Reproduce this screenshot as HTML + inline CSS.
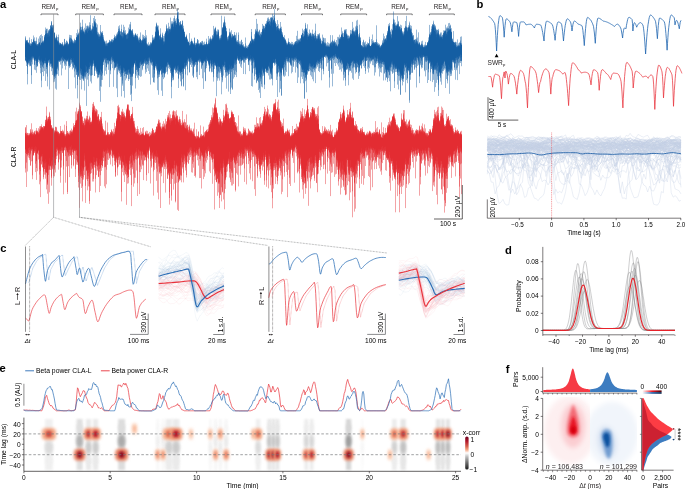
<!DOCTYPE html>
<html><head><meta charset="utf-8"><style>
html,body{margin:0;padding:0;background:#fff;width:685px;height:489px;overflow:hidden}
svg{display:block;font-family:"Liberation Sans",sans-serif;will-change:transform}
</style></head><body>
<svg width="685" height="489" viewBox="0 0 685 489">
<defs><filter id="bl1" x="-1" y="-1" width="3" height="3"><feGaussianBlur stdDeviation="1.0"/></filter><filter id="bl2" x="-1" y="-1" width="3" height="3"><feGaussianBlur stdDeviation="1.6"/></filter><filter id="bl3" x="-1" y="-1" width="3" height="3"><feGaussianBlur stdDeviation="2.5"/></filter></defs>
<text x="0" y="7.7" font-size="11.2" font-weight="bold" fill="#000">a</text>
<text x="476.6" y="7.7" font-size="11.2" font-weight="bold" fill="#000">b</text>
<text x="0.2" y="251.8" font-size="11.2" font-weight="bold" fill="#000">c</text>
<text x="504.9" y="254.2" font-size="11.2" font-weight="bold" fill="#000">d</text>
<text x="-0.4" y="371.8" font-size="11.2" font-weight="bold" fill="#000">e</text>
<text x="505.8" y="373.2" font-size="11.2" font-weight="bold" fill="#000">f</text>
<path d="M41 15.2V14H58V15.2" stroke="#414042" stroke-width="0.7" fill="none"/>
<text x="48.4" y="9.4" font-size="6.4" letter-spacing="-0.1" text-anchor="middle" fill="#231f20">REM</text><text x="56.1" y="10.0" font-size="4.3" fill="#231f20">p</text>
<path d="M75.7 15.2V14H103.4V15.2" stroke="#414042" stroke-width="0.7" fill="none"/>
<text x="88.5" y="9.4" font-size="6.4" letter-spacing="-0.1" text-anchor="middle" fill="#231f20">REM</text><text x="96.2" y="10.0" font-size="4.3" fill="#231f20">p</text>
<path d="M114 15.2V14H142V15.2" stroke="#414042" stroke-width="0.7" fill="none"/>
<text x="126.9" y="9.4" font-size="6.4" letter-spacing="-0.1" text-anchor="middle" fill="#231f20">REM</text><text x="134.6" y="10.0" font-size="4.3" fill="#231f20">p</text>
<path d="M155 15.2V14H185V15.2" stroke="#414042" stroke-width="0.7" fill="none"/>
<text x="168.9" y="9.4" font-size="6.4" letter-spacing="-0.1" text-anchor="middle" fill="#231f20">REM</text><text x="176.6" y="10.0" font-size="4.3" fill="#231f20">p</text>
<path d="M211 15.2V14H235V15.2" stroke="#414042" stroke-width="0.7" fill="none"/>
<text x="221.9" y="9.4" font-size="6.4" letter-spacing="-0.1" text-anchor="middle" fill="#231f20">REM</text><text x="229.6" y="10.0" font-size="4.3" fill="#231f20">p</text>
<path d="M255.2 15.2V14H285.4V15.2" stroke="#414042" stroke-width="0.7" fill="none"/>
<text x="269.2" y="9.4" font-size="6.4" letter-spacing="-0.1" text-anchor="middle" fill="#231f20">REM</text><text x="276.9" y="10.0" font-size="4.3" fill="#231f20">p</text>
<path d="M301.5 15.2V14H322.5V15.2" stroke="#414042" stroke-width="0.7" fill="none"/>
<text x="310.9" y="9.4" font-size="6.4" letter-spacing="-0.1" text-anchor="middle" fill="#231f20">REM</text><text x="318.6" y="10.0" font-size="4.3" fill="#231f20">p</text>
<path d="M340.7 15.2V14H366.6V15.2" stroke="#414042" stroke-width="0.7" fill="none"/>
<text x="352.5" y="9.4" font-size="6.4" letter-spacing="-0.1" text-anchor="middle" fill="#231f20">REM</text><text x="360.2" y="10.0" font-size="4.3" fill="#231f20">p</text>
<path d="M386.6 15.2V14H412.2V15.2" stroke="#414042" stroke-width="0.7" fill="none"/>
<text x="398.3" y="9.4" font-size="6.4" letter-spacing="-0.1" text-anchor="middle" fill="#231f20">REM</text><text x="406.0" y="10.0" font-size="4.3" fill="#231f20">p</text>
<path d="M429.4 15.2V14H454.3V15.2" stroke="#414042" stroke-width="0.7" fill="none"/>
<text x="440.8" y="9.4" font-size="6.4" letter-spacing="-0.1" text-anchor="middle" fill="#231f20">REM</text><text x="448.5" y="10.0" font-size="4.3" fill="#231f20">p</text>
<path d="M25.5 39.4v20.9m1-20.1v22.3m1-20.8v42.7m1-39.9v17.8m1-17.8v16.2m1-17.7v23.2m1-22.4v31.4m1-30.6v13.5m1-22.6v21.4m1-15.3v28m1-26.1v17.3m1-15.4v15.5m1-16.2v18.3m1-19.8v18.7m1-18.9v17m1-14.6v14.4m1-16.6v37.4m1-39.1v25.7m1-26.4v24.3m1-27.4v33.4m1-40.7v50.5m1-47.6v32.9m1-31.9v52.1m1-49.4v23.2m1-24.6v23.8m1-27.8v29.3m1-33.5v36.3m1-35.4v39.2m1-43.1v57.9m1-49.9v46.8m1-39.5v38.2m1-43.4v39.4m1-33.3v26.1m1-23.9v33m1-31.9v18.2m1-17.1v15.5m1-16.8v14m1-12.9v23.6m1-24v13.6m1-13.3v21.1m1-22.2v20.8m1-21.5v23m1-20.7v15.7m1-17.3v18.2m1-27v31.8m1-24.3v16.8m1-23.8v28.6m1-21.1v26.6m1-27.2v24.7m1-23.7v21.8m1-21.3v44.7m1-50.8v34.2m1-42.3v49.5m1-45.4v36.8m1-37.1v38.4m1-44.4v52.7m1-47.2v36.2m1-37.8v40.3m1-39.6v48.5m1-46v56.2m1-61.2v47.5m1-47.7v37.1m1-33.5v37.7m1-39.8v38.6m1-43.9v37.2m1-35v48m1-45.9v39.9m1-40.8v35m1-37.1v36.6m1-42.8v55.4m1-52.5v43.1m1-35.4v34.5m1-31.7v43.3m1-43.6v41.4m1-40.7v37.8m1-35.6v32.4m1-36.4v54.2m1-53.6v39.9m1-34v21.5m1-20.2v18.3m1-17.2v21m1-17v12.8m1-14.7v16.7m1-17.2v20.5m1-23.2v21m1-19.8v29.2m1-28.6v13.6m1-13.6v20.3m1-21.8v20.3m1-23.4v32.7m1-32v23.8m1-24.1v27.4m1-30.5v62.3m1-66.1v35.4m1-35v34.7m1-34.2v45.1m1-48v67.4m1-64.4v41.2m1-43.1v37.4m1-33.9v37.6m1-41v41.6m1-36.8v38.8m1-34.6v33.6m1-39.2v47.4m1-50.4v43.9m1-50.1v48.5m1-38.6v66.8m1-72v38.4m1-30.4v30.4m1-32.9v30m1-29.6v53.5m1-52.8v34.1m1-33.4v35.6m1-32.4v35.6m1-37.1v24.3m1-22.2v21.7m1-20.5v22.2m1-23.6v22.3m1-22.3v24.2m1-25.4v24.5m1-24.3v19.3m1-13.9v20.3m1-17.9v11.6m1-12.3v12m1-13.9v15.2m1-15.4v16.7m1-18.2v21.2m1-28.8v26.6m1-21.2v24.7m1-27.4v39.8m1-41.3v31.6m1-40.1v39.7m1-40.4v47.7m1-40.5v36.2m1-30.8v35.3m1-35.5v30.8m1-31.5v36.1m1-42v44.5m1-41.1v37.1m1-39.3v37.8m1-38.7v39.2m1-40.7v34.6m1-37.7v34.3m1-35.1v37.4m1-32.1v33.7m1-36.7v37.9m1-42.4v56.5m1-60.6v48.9m1-43.2v52.4m1-57.2v45.4m1-48.3v51.1m1-47.7v47.7m1-54.8v52m1-55.7v59m1-44.4v45.3m1-46.9v47.9m1-48.7v46.1m1-49.8v48.3m1-39.5v41.8m1-38.9v37m1-30.6v28.6m1-29.6v25.7m1-21.7v33.8m1-33.6v20m1-28.6v27.4m1-16.2v13.8m1-17.1v17.7m1-16.9v23.1m1-22v34.9m1-40.1v25.8m1-16.7v14.8m1-18v18.4m1-22.8v32.5m1-28v17.6m1-17.4v31.1m1-33v20.4m1-19.6v19.9m1-16.8v17.8m1-19v18.2m1-17.7v15.4m1-15.9v17.6m1-18.3v24.1m1-23.5v16.8m1-15.6v14.4m1-20.8v29.3m1-28.6v21m1-19.7v30.9m1-36.4v24.1m1-23.9v37.6m1-44.4v36.1m1-37.3v36.4m1-30.2v61.9m1-58.7v25.9m1-31v38.5m1-32.9v42.6m1-42.3v30.5m1-31.1v56.6m1-64.1v50.2m1-57.8v43.3m1-40.5v39.9m1-42.8v39.4m1-30.3v57.1m1-48v32.1m1-37.1v33.9m1-35.7v36.1m1-36.5v34.8m1-31.5v50.8m1-50.3v31.2m1-31.7v26.8m1-29.1v42.6m1-42.2v27.7m1-21.9v17.6m1-14.4v12.3m1-14v18m1-14.2v14.4m1-19v25.2m1-26.9v24.7m1-19.4v14.3m1-12.1v11.7m1-10.5v10.7m1-15.7v13.3m1-8.7v9.6m1-10.3v9.2m1-9.2v8.2m1-11.4v15.9m1-18.9v19m1-28.1v28.7m1-22.1v34.8m1-32.7v16.8m1-23.3v26m1-28.4v36.1m1-37.3v44.2m1-43.4v44.4m1-40.7v47.1m1-52.5v45.4m1-41v39.4m1-38.4v39.7m1-46.1v38.1m1-36.7v41.8m1-44.1v56.3m1-57v40.6m1-46.6v48.8m1-48.7v49.4m1-49v44.7m1-47.1v49.1m1-42.4v46.4m1-51.5v52.7m1-46.2v58.1m1-64v41.5m1-45.2v48m1-44.4v43.3m1-38v46.9m1-44.7v45.5m1-50v47.9m1-43.5v41.2m1-41.5v45m1-39.4v61.2m1-60.3v31.8m1-27.6v25.6m1-24.4v27.1m1-27.1v17m1-14.4v29m1-27.1v11.8m1-15.2v18m1-14v11.9m1-12v20.2m1-21.6v29.5m1-29.2v13.9m1-14.6v22.1m1-20.8v15.5m1-17.4v15.3m1-14.9v15.2m1-14.1v15m1-19.4v37.4m1-35.5v22.4m1-25.8v44.8m1-47.2v27.7m1-35.1v40.4m1-38.7v42.7m1-37.1v62.6m1-74v50.1m1-45.1v44.6m1-49.9v50.5m1-39.7v36.4m1-34.7v25.9m1-29.8v30.5m1-24.5v32.7m1-37.7v32.4m1-32.3v33.3m1-28.8v33.7m1-48.5v43.9m1-29.1v30m1-29.4v22.5m1-25.4v27.7m1-24.5v20.2m1-19v22.4m1-19.2v25.8m1-25.2v16.1m1-22.7v22.9m1-17.6v13.9m1-13v11.3m1-8.3v9.3m1-14.2v13.8m1-9.2v13.1m1-13v11.8m1-14.9v16.7m1-15.1v23.2m1-28.3v17.4m1-13v11.2m1-13.9v14.9m1-13.4v12.5m1-10.8v17.9m1-16.5v18m1-27.6v19.8m1-22v27.6m1-22.6v22.4m1-26.6v24.5m1-28.6v30.9m1-25.3v29.9m1-37.4v48.5m1-40.6v48.5m1-51.5v31.3m1-31.2v27.9m1-21.8v34.6m1-38.3v31.2m1-33.8v36.2m1-36.5v28.3m1-27.2v26.6m1-30.9v29.6m1-29v32.1m1-33.3v43.3m1-48v43.1m1-38v31.6m1-25.8v28.3m1-30v36.8m1-29.7v22.3m1-18.1v16.3m1-15.2v13m1-13.1v13.2m1-15.6v11.1m1-10.3v20.6m1-19.6v11.5m1-15.5v14.4m1-13.8v13.8m1-10.9v15.7m1-15v17m1-18.8v14.9m1-16.7v16.4m1-16.4v22.3m1-22.7v33m1-33.5v20.9m1-23.6v18.8m1-16v20.7m1-17.3v20m1-20.2v14.9m1-14.1v25.9m1-26.4v18.2m1-17.5v15.6m1-23.6v22.6m1-20.8v33.1m1-34.4v28.6m1-27.1v36.6m1-45.4v37.4m1-40.7v49.6m1-49.5v46.9m1-43.1v35.6m1-39v33.7m1-32.7v44.2m1-49.9v45.3m1-49.7v43.8m1-38.4v42.2m1-42.9v44.5m1-52.8v56.1m1-48.1v65.3m1-63.1v44.8m1-43.8v67.7m1-64.7v45.6m1-43.6v44.3m1-43.3v34.9m1-36.7v31.9m1-35.8v39.9m1-40.8v39.5m1-38.8v55.8m1-57.9v45.2m1-47.3v77.1m1-70.9v35.8m1-36.5v44.2m1-36.8v36.9m1-32.9v24.5m1-24.8v17.7m1-13.7v23.6m1-26.6v46.7m1-50v20.4m1-12.3v12.8m1-15.7v14.3m1-9.9v10.8m1-16.6v16m1-13.4v23.9m1-22.4v9.8m1-8.4v9.1m1-9.6v30.1m1-29.4v14.8m1-19.3v13.3m1-18.4v42.6m1-43v25.5m1-28v37.8m1-46v40.7m1-42.5v57.6m1-56.8v47.3m1-41.6v38.3m1-42.7v60.5m1-49.9v31.5m1-38.9v46.5m1-42v31.1m1-29.1v36m1-35v37.8m1-37.7v35.6m1-36.3v37m1-38.4v28m1-29.5v34.3m1-36.9v33.2m1-30.8v38.5m1-45.7v44.3m1-42.6v47.4m1-45.3v36.7m1-37.7v43.1m1-40v41.3m1-32.2v29.2m1-27.8v19.2m1-19.9v21.3m1-17.6v17.8m1-18.5v15m1-13.6v21.1m1-20.6v18.6m1-18.4v10.4m1-10.9v7.1m1-9.1v16.5" stroke="#0b57a0" stroke-width="1" fill="none" opacity="0.42"/>
<path d="M25.5 44.1v16.3m1-20v22m1-20.8v25.6m1-24.5v20.6m1-25.8v25.3m1-18.8v13.5m1-11.7v11.5m1-15.4v17.6m1-20.7v19.2m1-16.9v18.4m1-18.7v19.7m1-16.3v28.6m1-28.7v16.4m1-16.7v13m1-14.5v18.9m1-23.1v22.8m1-18.4v16m1-14.9v22.7m1-24.2v21.5m1-26.5v26.2m1-29.5v29.1m1-25.4v29.7m1-30.4v39.8m1-46.7v30.8m1-30.4v29.9m1-35.2v38.4m1-34.9v42.7m1-43.1v37.8m1-36.3v38.9m1-34.9v35.8m1-31.4v36m1-36.1v37.5m1-38.3v30.8m1-26.9v19.2m1-15.1v16.6m1-18.4v17.2m1-15.9v13.2m1-15.8v17.6m1-14.1v15.9m1-17.4v19.4m1-19.1v15.6m1-19.4v17.8m1-16.8v17.8m1-14v13.9m1-20.3v23.4m1-24v19m1-15.8v16.7m1-18.6v22.8m1-19.5v19.3m1-20.7v30m1-31.4v26.4m1-27.5v27.4m1-31.1v63.1m1-63v35.2m1-38v40.7m1-41.1v40.6m1-41.3v37.9m1-36.9v46.8m1-50v48.6m1-46.3v40.4m1-41.4v42.1m1-41.3v74.5m1-73.2v36.9m1-40.7v47.1m1-46.1v36.9m1-41.8v56.5m1-50.5v33m1-34.4v37.1m1-40.3v34.9m1-39.9v44.4m1-46.8v48.3m1-40.1v42.3m1-34.6v43.5m1-45.9v44.7m1-40.3v35.3m1-41v70.6m1-68v37.4m1-36.4v39.8m1-32.8v19.2m1-17.8v16.3m1-13.1v11.4m1-13.9v23.5m1-23.9v19.6m1-20.4v17.2m1-17.6v18.5m1-18v15.6m1-16.2v14.9m1-14.6v15.9m1-16.1v19.5m1-27v33.7m1-29.9v28.5m1-28.4v27.7m1-34.5v32.3m1-37.9v37.3m1-31.1v37.8m1-35.6v35.1m1-32.5v32.6m1-32.6v35.5m1-48v46.7m1-44.7v41.9m1-33.5v38.6m1-35.3v35.7m1-40.8v41.2m1-43.1v41.1m1-42.8v49.4m1-57.3v52.4m1-43.1v44.4m1-43.5v43.9m1-40.8v31.4m1-29.6v25.8m1-29.3v27.8m1-25.2v30m1-28.4v28.4m1-26.6v40.3m1-37.1v25.2m1-28v24.3m1-21.4v22.3m1-24.2v23.2m1-22.5v24m1-26.3v21.7m1-31v30.6m1-17.1v17.6m1-17.4v17.5m1-18.9v14.8m1-12.2v12.9m1-10.6v16m1-19.7v18.6m1-20.6v24.3m1-26v42.6m1-45.9v46.2m1-50.4v33.9m1-39.8v44.1m1-44.3v39.8m1-36.4v65.2m1-57.6v36.6m1-39v31.6m1-29.4v31.3m1-33.7v38.9m1-31.4v28.4m1-28.4v32.5m1-43.4v35.2m1-42.1v41.3m1-34.8v34.6m1-36.3v32.8m1-31.7v35m1-34.9v36.5m1-39.9v43.1m1-47.1v55.1m1-56v54.8m1-61.1v52.7m1-47.2v49.2m1-52.2v49.6m1-58.3v61.4m1-46.9v64m1-61.8v46.2m1-50.9v51.7m1-47v59.4m1-64.6v52.9m1-43.8v55.7m1-51.5v33.2m1-27.8v25.9m1-28.5v24.8m1-19.8v17.9m1-17v17.7m1-17.6v18.2m1-19.1v15m1-16.6v18.9m1-15.9v17.4m1-16.2v19.7m1-19v21.2m1-22.1v20.5m1-21.8v28.9m1-28v17.3m1-21.3v21.5m1-17.6v18.6m1-19.2v17.2m1-16.4v24.7m1-24.3v17.6m1-16.9v43.5m1-47.3v20.1m1-16.8v13.9m1-12.3v13m1-15.7v15.9m1-16.6v19.7m1-19.3v28m1-30.7v27.6m1-29.9v28m1-26.6v22m1-27.7v47.4m1-53.1v40.4m1-40.9v38.2m1-35.5v36.6m1-32.5v31.7m1-35.2v35.6m1-27.9v28.1m1-29.5v31.2m1-34.3v42.6m1-49.2v39.5m1-43.2v40.6m1-48.3v45.5m1-35v40.2m1-32.7v34.3m1-31.2v29.8m1-26.4v27.9m1-40.3v36.2m1-33.2v34.9m1-36.3v39m1-35.1v55.7m1-52.6v33.1m1-31.4v35.4m1-35.4v25.9m1-32.2v31.4m1-22.2v17.9m1-16.9v15.1m1-13.7v15.1m1-13.5v11.4m1-13.9v17.8m1-16.2v15.1m1-15.9v13.5m1-9.5v8.4m1-7.6v9.2m1-12.5v14.3m1-11.2v10.3m1-12v14m1-16v14.4m1-17.8v16.7m1-15.4v15.2m1-18.3v46.8m1-45.9v19.2m1-18.2v37.9m1-46.7v33m1-33.4v50.7m1-50.6v41.1m1-42.3v58.6m1-55v57.6m1-55.4v39.7m1-42.4v49.6m1-54.6v41.3m1-44.6v46.6m1-40.4v39.6m1-42v38.4m1-45.3v48.3m1-49.1v50.5m1-50.8v44m1-42.4v44.3m1-45.6v57.2m1-62.4v61.4m1-60.7v45.6m1-43.8v42.7m1-44.1v43.6m1-38.3v35.2m1-28.9v34m1-37.6v46.9m1-43.1v42.5m1-41.5v40.5m1-43.9v44.5m1-40.5v40.8m1-38.8v34.3m1-31.1v37.1m1-35.1v23.3m1-21v24.3m1-23.9v17.8m1-15.2v16.9m1-22.7v22.6m1-17.1v13.7m1-13.2v20.4m1-19.5v20m1-20.9v27.8m1-26.2v13m1-14.9v13.3m1-15.5v18.1m1-18.8v25.7m1-24.6v25.8m1-27.5v20.1m1-20.4v21.3m1-22.4v21.4m1-25.6v33.7m1-35.5v45.9m1-45v49.3m1-54.3v43.5m1-41.2v46.7m1-48.6v49.4m1-41.9v33.3m1-33.4v28m1-35.3v33.9m1-30v33.1m1-30.7v30.4m1-29.8v29.4m1-30.2v29.1m1-29.3v35m1-35.1v33.3m1-28.5v21.7m1-21.3v19.5m1-24.7v25.8m1-24.7v31.9m1-30.6v30.4m1-24.7v20.1m1-20.6v14.9m1-13.7v30.2m1-32.1v13.4m1-17.4v15.6m1-8.2v9m1-8.2v10.7m1-10.5v16m1-16v30.9m1-42.4v21.8m1-15.1v15.4m1-22v21.4m1-14.2v12.9m1-12.1v19.9m1-17.2v10.6m1-10.2v11.5m1-20.9v21.9m1-14.9v22.6m1-26.5v19.6m1-22.3v25.8m1-28.2v36.7m1-34.1v30.9m1-29.5v30.7m1-38.3v40.6m1-41.4v39.5m1-34.4v29.1m1-28.6v26.8m1-24.4v27.5m1-27.4v32.9m1-38.2v31.6m1-29.7v37.5m1-43.1v31.6m1-33.5v38.8m1-34.5v30.9m1-36.4v43.2m1-37.1v28.4m1-28.7v34.9m1-29.5v35.4m1-48.4v43.1m1-27v20.5m1-15.1v18m1-18.1v17.3m1-23.7v26.4m1-24v16.2m1-11v10.4m1-13.2v15.5m1-14.8v23.5m1-25.4v14.7m1-12.4v11.4m1-9.8v12.5m1-12v13.5m1-26.7v30.6m1-24.7v18m1-14.2v11.4m1-12v28.8m1-29.9v18.6m1-17.6v14.7m1-15v19.2m1-15.2v29.3m1-29v20.8m1-23.6v14.8m1-17v17.9m1-16.7v20.6m1-25.3v25.1m1-25.6v29m1-32v42.2m1-43v47.3m1-57.8v48m1-49.3v44.5m1-33.6v30.4m1-30v29.3m1-32.5v41.7m1-52.5v52.5m1-50.1v58.7m1-58.9v44.2m1-41.1v42.9m1-44.6v49.1m1-44.1v41m1-40.4v43m1-47.7v56.9m1-53.2v51.3m1-47v52.7m1-53.7v46.3m1-43.2v30.4m1-39.3v38.6m1-48.7v47.5m1-32.2v38.8m1-42.6v42.7m1-44.4v45.9m1-43.7v41.9m1-36v33.7m1-32.8v30.2m1-23.5v23.4m1-25.1v17.9m1-18.2v21.4m1-22.1v17.9m1-13.6v23m1-21.6v17.3m1-19.3v13.7m1-10v19.2m1-21.5v17.1m1-20.1v24.1m1-17.7v7.6m1-7.4v23.9m1-24.1v14.6m1-15.7v24.1m1-26.7v13.3m1-13.8v26.2m1-44.2v38m1-27.9v26.8m1-32.9v39.9m1-42.4v43.8m1-45.3v49.4m1-48.1v42.2m1-40.4v40.6m1-38.3v43.2m1-39.6v29.2m1-32.5v65.4m1-57.4v33.6m1-38.5v43m1-44.2v36.7m1-30.4v32.2m1-38.2v33.6m1-34.8v38m1-44.9v40.4m1-31.1v39.3m1-44.6v54.7m1-52.6v41m1-41.1v63.1m1-68.1v44m1-34v33.5m1-29.7v22.6m1-20.2v19.2m1-18.2v17.9m1-17.1v14.2m1-9.7v22m1-23.1v13.2m1-17v14.9m1-12.4v16.8m1-19.8v20.2m1-18.1v12.3" stroke="#0b57a0" stroke-width="1" fill="none" opacity="0.42"/>
<path d="M25.5 37.6v18.9m1-13.6v18.2m1-21.2v34.2m1-30.8v21.3m1-21.1v15.4m1-13.1v14.5m1-21.2v22.7m1-19.7v15.1m1-14.5v16.9m1-17v22.2m1-20.7v26.1m1-24.4v17m1-17.5v16.3m1-16.8v14.5m1-23v23.9m1-15.2v22.9m1-25.2v18.6m1-25.3v26.6m1-19.3v32.8m1-35.8v20.5m1-33.3v30.2m1-24.2v33.5m1-32.3v32.6m1-36.4v32.2m1-26.5v52.9m1-61v36m1-43.5v42.9m1-38.2v42.9m1-43.3v49.3m1-41.6v42.4m1-37v34.5m1-36v52.8m1-48.2v22.4m1-22.4v18.7m1-15.6v15.5m1-17.3v18.5m1-17.1v13m1-10.5v9.9m1-10.4v14.4m1-15.4v13.7m1-16.6v18.1m1-17.4v17.8m1-17.6v18.4m1-17.4v20.3m1-21.7v22.7m1-30.5v29.9m1-26.6v21.8m1-17.4v16.9m1-18.6v26.5m1-27.6v25m1-21.8v26.4m1-32.5v38m1-38.8v35.2m1-38.8v44.1m1-45.4v47.6m1-56.2v48.4m1-41.6v49m1-52.2v48.1m1-42.3v43.7m1-42.2v43.8m1-47.5v45.7m1-46v37.2m1-38v43.7m1-44.2v38.7m1-39.4v41.7m1-54.1v50.7m1-35.6v44.9m1-41.9v32.3m1-47.6v41.9m1-43.9v54.6m1-46.3v42.5m1-33.6v35.9m1-32.9v38m1-35.5v35m1-34.7v34.8m1-38.3v34.5m1-36.2v42.3m1-39.1v28.6m1-30.4v27.2m1-20.4v18.1m1-14.4v17.7m1-22.8v26.4m1-21.3v14.5m1-17.1v21.3m1-21.4v44.1m1-46.2v20.3m1-19.6v22.6m1-21.4v13.4m1-16.1v46.7m1-49.1v24.7m1-23.8v29.2m1-32.8v31.9m1-31.4v25.8m1-30.4v40.6m1-43.1v38.2m1-32.4v30.8m1-29.1v40.9m1-44.5v48.2m1-44.2v36.8m1-39.4v64m1-64.6v37.4m1-36v44.1m1-44.8v35.7m1-41.9v42m1-40.6v43.7m1-42.2v64.3m1-62.4v61.3m1-60.7v44m1-43.5v40m1-37.4v27.3m1-28.3v38.9m1-39.3v40.9m1-39.7v41.9m1-36.1v26.3m1-25.3v20.7m1-24.6v27.4m1-25.5v23.6m1-25.2v29.6m1-33.8v31.2m1-27.8v21m1-18.7v21.3m1-16.5v15m1-15v18.7m1-18.6v25.4m1-24.9v11.6m1-12.5v39.5m1-40.5v21.1m1-27.6v24.4m1-21.8v29.5m1-29.5v26.9m1-33.6v31.2m1-41.2v40m1-32.7v47.6m1-46.7v39m1-35.3v36.6m1-38.3v36.6m1-32v35.8m1-35.5v28.6m1-29v29.3m1-25.3v31.5m1-37.1v30.6m1-37.5v37.2m1-35.9v40.5m1-37.2v28.5m1-33.6v38.1m1-38.5v36.1m1-40.8v74.2m1-74.3v48.3m1-43.2v51.1m1-55.7v45.5m1-46.9v42.5m1-41.1v44.7m1-56v60.5m1-54.3v47.4m1-43.9v46.4m1-45.8v47.3m1-46.1v47.2m1-45v52.3m1-49.2v37.5m1-30.2v29.1m1-29.1v52.9m1-53.2v24m1-22.4v30.8m1-27.9v16.3m1-12v12.8m1-13.2v12.3m1-16.6v15.9m1-13.5v17.7m1-17.6v33.5m1-36v24.1m1-17.4v16.5m1-21.7v18.5m1-22v40.1m1-34.9v14.2m1-12.3v13.7m1-14.9v16.4m1-20.2v21.2m1-21.6v24.3m1-20v18.1m1-17v14.6m1-16.7v17.4m1-19.1v17.3m1-15v16.3m1-25v28m1-22.3v23.8m1-26.3v20.3m1-19.4v25.3m1-26.7v25.5m1-26.6v39.6m1-47v35.1m1-38.5v38.9m1-30.8v34.5m1-34.5v38.8m1-41.5v34m1-29.9v36.3m1-32.7v32.8m1-37.3v36.4m1-43v36m1-42.3v44.1m1-44.5v43.1m1-39.5v46.2m1-40.9v45.1m1-36.5v31.8m1-35.6v38.6m1-39.1v38.7m1-39.3v59.3m1-56v27.4m1-31.3v54.7m1-52.8v31.8m1-29.7v22.4m1-22.7v21.8m1-17.2v34.7m1-32.1v12.5m1-13v15.9m1-16.2v19.7m1-19.5v14.9m1-12.6v21.2m1-22.1v13.3m1-13.7v15.2m1-14.5v11.5m1-20.1v21m1-10.8v8.4m1-10.3v11.4m1-10.9v18.8m1-22.4v18m1-20v20.8m1-18.1v15.4m1-17.2v15.2m1-17.1v18.7m1-19.1v36.7m1-40.3v31.4m1-48.2v63.5m1-53.3v51.1m1-45.1v43.4m1-47.9v42m1-40.1v65.5m1-62.5v38.9m1-43.8v39.2m1-44.4v47.2m1-44.1v47m1-51.3v44.6m1-43.8v45.1m1-48.3v47.8m1-47.7v48.8m1-45.9v37.8m1-45.2v55.8m1-54.9v56.6m1-52v44.7m1-51.8v43.4m1-38.1v39.3m1-37.7v36.1m1-31.8v53m1-53.9v50.5m1-46.6v36m1-37.5v63.9m1-64.4v43.4m1-37.1v41.2m1-40.5v33.1m1-30.4v27.1m1-24.7v19.9m1-21.1v21.6m1-17.3v17.7m1-16.7v17.2m1-19.4v16.4m1-16.4v20.8m1-18.6v19.6m1-19.4v13.5m1-13.2v12.9m1-12.2v12.1m1-15.4v16.8m1-17.8v15.7m1-21v23.3m1-19.9v29.2m1-25.1v19.4m1-20.8v22.3m1-22.2v23.6m1-28.9v35.4m1-38.5v36.4m1-33.6v35.6m1-35.8v36m1-49.3v54.1m1-45.9v44.4m1-40.3v38.3m1-36.7v33.7m1-35.2v35.8m1-38.5v42.6m1-38.3v28.5m1-25.5v28.7m1-31.9v32.4m1-31.4v29.5m1-36.4v35.8m1-27v22.2m1-23.7v27.1m1-30.5v26.1m1-27.7v30.9m1-25.2v19.7m1-14.7v21m1-30.2v22m1-16.7v16.8m1-13.5v13.3m1-9.6v11m1-14.5v13.1m1-9.6v9.1m1-9.2v24.2m1-27.5v13.7m1-13.6v14.2m1-15.2v14.7m1-11.2v12.1m1-15.7v31.1m1-30v13.9m1-12v12m1-12.9v12.8m1-10.4v11.4m1-13.3v11.7m1-18.5v20.3m1-20v22.7m1-26.9v26m1-27.3v27.8m1-23.6v43.1m1-50.3v40m1-38.5v37.3m1-35.1v36m1-34.2v33.2m1-32.9v28.5m1-26.2v28.1m1-36.3v36.4m1-32.6v28.9m1-31.6v30.4m1-30.3v29.4m1-29.9v33.4m1-28.5v27.2m1-42.2v42.3m1-33v33.7m1-29.3v33.3m1-29.4v33.5m1-33.8v24.8m1-17.7v18.9m1-21.7v17.8m1-13v10.4m1-9.1v12.4m1-13.8v14m1-13v13.1m1-16v11.8m1-12.2v27.9m1-33.2v21m1-14.4v12.3m1-19.1v21m1-16.2v15.9m1-17.7v14.5m1-13.1v14.4m1-14v13.2m1-11.3v15.1m1-15.2v10.2m1-10.5v15.6m1-13.5v16.6m1-16.3v15.5m1-17.9v18.1m1-23.1v21.6m1-19.6v38.1m1-38.1v31.1m1-33.9v30.3m1-32.2v39.8m1-46.7v48.4m1-52.3v43.1m1-44v55.2m1-49.4v33.8m1-28v29.6m1-35.6v29.1m1-49.2v55.9m1-41.8v39m1-34.8v39m1-43.1v40.2m1-39.7v58.4m1-62.6v54.1m1-49.6v54.1m1-49.5v43.1m1-48.9v52.6m1-44.3v45.1m1-42.2v42.5m1-51.2v35.7m1-42.5v46m1-36.7v41.2m1-40.2v38.3m1-41.9v42.5m1-42.7v75.3m1-73.7v37m1-40.3v37.8m1-25.8v26.7m1-22.9v21.4m1-22.7v20.2m1-21.1v24.7m1-21.6v15.2m1-15.9v15.7m1-12.9v16.3m1-16.5v31.7m1-30.7v12.7m1-14.3v24.7m1-21.6v10.5m1-9.7v8.2m1-11.3v11.2m1-9.9v10m1-10.4v10.1m1-13.6v19.1m1-19.7v18.7m1-25.5v28.9m1-26.7v25.5m1-30.8v32m1-38.6v37.5m1-34.7v44.5m1-47.8v45.7m1-44.6v43.9m1-39.1v32.8m1-30.8v47.5m1-49.2v35.1m1-31.8v42m1-43.4v45.5m1-40.8v31m1-29v26.2m1-31.6v28.2m1-31v29.9m1-24.5v51.6m1-60.5v43.3m1-42.6v41.4m1-40.9v36.5m1-42.3v46.4m1-44.6v51.4m1-44.5v44.2m1-36.6v21m1-18.4v18.1m1-16.9v24.7m1-25.7v21.2m1-16.7v10.1m1-17.2v23m1-16.9v17.8m1-18v28.8m1-30.3v17.2m1-17.8v23" stroke="#0b57a0" stroke-width="1" fill="none" opacity="0.42"/>
<path d="M25.5 41.6v18.5m1-19.6v17.4m1-15.1v21.3m1-21.2v16.4m1-19.2v26.2m1-20.3v19.9m1-22.5v16.1m1-16.8v21.7m1-24.6v16.9m1-15.6v18.9m1-18.6v17.9m1-18.2v19.9m1-15v20.1m1-19.7v13.1m1-16.2v12.6m1-20.9v27.2m1-19.2v22.3m1-23.6v30.3m1-29.5v21.9m1-27v23m1-26.4v27m1-30.4v34.6m1-32.3v31.9m1-33v30.1m1-32.6v36.4m1-36.2v37.4m1-40v40.5m1-42.4v43.1m1-42.6v50.8m1-43.6v44.1m1-37v31.7m1-31.6v29.4m1-29.1v34m1-29.8v26.1m1-27.9v17.7m1-16.9v14.4m1-11.8v29.4m1-31.6v19.3m1-16.7v14.1m1-21.6v20.9m1-14.2v13.2m1-14.8v17.1m1-17.9v16.5m1-15.9v45.2m1-47.5v20.2m1-20.2v18.1m1-20.2v23.2m1-22.2v25.4m1-21.7v14.3m1-19.7v24.5m1-22.9v27.7m1-30.1v31.8m1-34.8v50.2m1-51.3v43m1-43.9v40.7m1-47v42.1m1-41.8v62.5m1-62.1v49.2m1-45.2v47.8m1-46.8v42.4m1-51.3v48.7m1-43.9v43m1-45.8v47.5m1-47.1v42.4m1-45.9v46.6m1-37.8v33.6m1-34.3v53m1-54.9v34.8m1-34.7v31.5m1-37.4v40.5m1-41.2v44m1-42.7v50.4m1-49.2v44.3m1-34.3v40.5m1-38.2v54.1m1-55.2v39m1-42.8v38.2m1-37.4v32.9m1-26.1v18m1-15.6v33.8m1-31.6v26.6m1-25.1v28.6m1-30.3v16.7m1-18.3v17.2m1-19.6v20.4m1-18.1v32m1-33.1v16.1m1-15.6v18.4m1-19.6v20.9m1-22.2v29m1-29.1v28m1-33.3v29.8m1-29.1v40.1m1-40.5v35.5m1-44.2v45.8m1-35.3v32.6m1-32.5v39.9m1-42.8v50.6m1-50.1v34.3m1-34.4v42.6m1-40.7v38.7m1-38.9v35.2m1-31.9v36.7m1-42.4v46.3m1-49.7v42.9m1-43.2v56.1m1-54.7v35.9m1-35.3v33.7m1-29.3v38.4m1-36.4v26.1m1-27.7v24.6m1-21.6v31.2m1-30.9v29.7m1-28.1v30.1m1-30.8v35.9m1-36.7v37.7m1-34.2v33.6m1-35.5v29.4m1-33.3v25.3m1-19.4v16.9m1-18.2v22.4m1-26.2v22.8m1-15.6v23.5m1-22.9v19.8m1-19.8v28.6m1-28.5v16.6m1-18.1v18.7m1-22v21.7m1-25.1v44.5m1-41.2v32.9m1-42.1v30.1m1-33.6v38m1-37.7v44.7m1-47.4v51.7m1-41.5v35.9m1-34.3v32m1-29.3v28.8m1-31.1v32m1-28.9v31.2m1-28.5v34m1-45.4v40.8m1-43.7v42.6m1-36.7v39.2m1-43.7v33.3m1-37.5v38.8m1-47.7v55.4m1-49.5v63.3m1-62.6v51.2m1-57.1v49m1-45v46m1-41.2v40.4m1-42.5v43.8m1-51.9v48.3m1-46.3v59.9m1-56.8v49.1m1-50.1v60.4m1-55.2v60.1m1-56.6v38m1-42v61m1-52.8v29m1-25.3v36.9m1-38.9v31m1-26.8v17m1-14.8v16.1m1-13v27.2m1-30.8v22.8m1-25.7v23.1m1-18.5v16.6m1-15.4v19.9m1-20.7v22.7m1-23.4v18.9m1-18v18.6m1-17.7v16m1-16.6v15.8m1-14.4v16m1-18.7v15.8m1-15.8v24.9m1-26.4v24.3m1-20.1v16.2m1-17.6v15.9m1-13.6v34.4m1-37.1v22.1m1-21.3v16m1-16.8v21.8m1-21.6v27.6m1-33.2v24.7m1-23v25.6m1-30.6v29.4m1-27.1v26.3m1-30.4v28.2m1-30.3v33.8m1-29.1v31.4m1-33.6v47.1m1-51.1v48.6m1-37.8v26.1m1-26.4v28.3m1-29v35.3m1-47.3v50.2m1-50.2v38.1m1-37.8v42.2m1-42.6v45.3m1-41.2v40.6m1-30.7v28.9m1-31.1v52.5m1-59.5v37.3m1-35.6v35.1m1-31.1v28.6m1-31v32.1m1-31.5v30.4m1-34.4v26.9m1-23.3v39.3m1-31.3v16.2m1-18.1v17.1m1-26.4v26.8m1-17.8v17.6m1-14.8v17.3m1-21.5v19.2m1-13.2v14.1m1-12.8v9.1m1-8.8v14.1m1-14.4v12.8m1-12.1v10.1m1-9.7v7.7m1-8.7v14.6m1-18.4v16.6m1-18.8v13.8m1-18.9v23.8m1-19.5v31.9m1-33.4v22m1-22.4v23.4m1-33.2v45.4m1-42.8v42.3m1-39.6v46.8m1-47v39.3m1-36.3v36.2m1-36.7v40.2m1-44.5v36.4m1-39.6v39.7m1-42.4v42.2m1-39v41.2m1-43.6v41.6m1-43.9v48.3m1-53.5v53.5m1-54.3v48.2m1-46.1v58.6m1-58v49.6m1-52.9v60.6m1-57.2v57.9m1-58v41.1m1-39.4v40.6m1-38v36.9m1-31.5v30m1-35.1v70.9m1-68.6v37.7m1-34.6v37.1m1-46.6v58.8m1-54.1v41m1-31.7v33.7m1-32.5v34.4m1-33.3v38.5m1-34.7v20.5m1-18.5v14.9m1-13.6v12m1-15v19.8m1-17.7v13.7m1-15.3v16.9m1-14.7v13.7m1-16.8v18m1-15.1v16.1m1-17.6v15.2m1-13.9v27.9m1-31.5v21m1-18.8v39.7m1-44.2v20.3m1-19.4v20.1m1-18.5v18.9m1-24.1v31.1m1-30.5v35.4m1-34v31.6m1-37.8v66.6m1-70.3v46.7m1-46.8v64.2m1-52.6v30.4m1-36.9v33.6m1-32.7v35m1-33.6v31m1-33v33.4m1-30.4v42.7m1-41.8v43.9m1-48.5v35.3m1-30.5v28.5m1-30v29.2m1-31.1v32.6m1-29.3v33.5m1-36.6v37.7m1-30.5v17.5m1-18.6v17.3m1-16.3v14.1m1-13v16m1-14.2v12.3m1-14.2v12.8m1-9.1v20.2m1-21.5v11.4m1-9.8v12.4m1-11.9v40.6m1-44.9v15.6m1-15.1v12.7m1-12v42.5m1-45.4v19m1-17v11.7m1-12.8v11.9m1-10.1v13.7m1-10.9v12.1m1-14.6v14.1m1-17.3v18m1-19.8v30.4m1-34.9v30.1m1-27.9v26.7m1-26.2v30.3m1-33.3v35.2m1-39.2v50.1m1-45.1v30.9m1-27.4v30.8m1-34.2v27.9m1-24.4v29.1m1-32.4v30.2m1-30v25.3m1-30.1v47.6m1-45v46.4m1-47.1v34.6m1-36.7v36.9m1-37.7v42.3m1-52.4v44.2m1-27v28.1m1-32.1v27.3m1-23.1v28.4m1-19.8v22.7m1-21.3v12.3m1-11.3v10.8m1-12.6v10.8m1-15.8v32.5m1-27.5v11.1m1-11.2v10m1-9.9v20.5m1-21.9v23.2m1-22.1v11.3m1-13v12.6m1-13.9v14.3m1-15v17m1-15.5v17.4m1-16.5v12.6m1-14.7v21.3m1-18v13.2m1-14.7v24m1-24.7v23.3m1-20.4v15.9m1-17.8v16.7m1-16.9v17.8m1-19.2v18.9m1-25.9v29.3m1-25.8v32.2m1-36.6v36.4m1-37.1v35.5m1-41.6v42.1m1-45v40.3m1-29.8v34.5m1-31.6v25.5m1-34.6v35m1-41.9v42.2m1-41.4v64.2m1-60v40.3m1-42.2v42.5m1-44.1v46.8m1-43.9v41.2m1-42v43m1-40.1v47.7m1-45.1v41.2m1-39v46.6m1-45.4v38.9m1-40.7v31.7m1-38.5v65.4m1-65.4v46m1-41.2v46.9m1-50.1v39.3m1-41.1v48.3m1-49.8v49.4m1-40.2v29.9m1-28.1v36.1m1-36.9v24.6m1-17.1v27m1-27.6v18.3m1-31v38.3m1-26.8v16.5m1-14.3v20.3m1-19.1v32.1m1-29.6v9.5m1-10.5v13.2m1-14v12.4m1-10.6v10.3m1-11.7v11.2m1-14.9v18.5m1-15.3v10.9m1-12.5v16.5m1-19.7v24.6m1-31.1v26.1m1-27.1v28.4m1-28.9v33.6m1-38v45.7m1-46.2v46.7m1-46.6v38.2m1-36.4v37m1-37v36.2m1-35.6v31.8m1-27.2v55.7m1-54.7v36m1-34.5v35.7m1-34.8v27.2m1-27.7v30.2m1-34.6v30.6m1-33.3v31m1-30.9v33.2m1-28v32.8m1-36.3v48.4m1-49.4v39.5m1-44.4v43.6m1-41.1v45.2m1-45.7v39.8m1-27.1v18.8m1-17.6v19.8m1-19.5v17.6m1-17.2v36.9m1-32.9v11.7m1-12.7v34.3m1-34v9.9m1-13.1v13.8m1-16.2v17.2m1-13.1v10.5" stroke="#0b57a0" stroke-width="1" fill="none" opacity="0.42"/>
<path d="M25.5 36.3v20.8m1-15.7v24.6m1-23.3v18.9m1-19.2v20.3m1-18.2v16.5m1-16.4v15.1m1-14.2v38.4m1-41.5v13.3m1-15.3v17.9m1-20.9v23.4m1-16.1v14.3m1-14.1v20m1-20.9v22.6m1-22.1v13.8m1-16.1v17.7m1-14.4v19.8m1-21.6v43.5m1-45.7v20.1m1-21v22.6m1-27.9v27.9m1-29.2v29.4m1-34.4v40m1-40.3v36.3m1-30.3v25.3m1-29.2v31.5m1-36.3v37.8m1-42v44.2m1-35v34.1m1-33.9v39.5m1-35.4v40.8m1-36.8v36.3m1-37.3v30.4m1-27.1v27.6m1-32v24.2m1-18.7v17.7m1-16.7v20.9m1-20.4v16.7m1-17.6v13.2m1-9.7v10.7m1-11.7v12.5m1-13.3v14.8m1-18.9v19.4m1-14.2v13.8m1-14.6v20.9m1-28.8v30.7m1-24.2v15.8m1-20.8v20.9m1-18.4v20m1-17.9v24.7m1-24.5v33.7m1-37v28.3m1-31.8v37.7m1-36.9v34.3m1-37.1v40.5m1-41.9v46.5m1-49.3v43.9m1-44.7v44.7m1-44.9v48.6m1-45.6v43.4m1-48.3v45m1-41v46.8m1-47.7v43.4m1-48.3v53.6m1-52.4v45m1-42v44.3m1-43.4v31.6m1-34v47.1m1-50.2v49.5m1-48.4v37.1m1-42.2v43.9m1-41.2v44m1-40.3v42.9m1-39v39.6m1-35.2v41.2m1-41.2v37m1-48.3v40.9m1-32.8v46.8m1-42.8v31.6m1-31.4v24.7m1-20.1v16.5m1-14v13.2m1-11.5v13.9m1-13.6v13.3m1-16.9v17.3m1-17.6v18.8m1-16.9v25.3m1-30.4v19.3m1-19v28.5m1-27.1v17.5m1-21.8v25.9m1-26.4v31.6m1-31.8v52.3m1-51.7v30.3m1-38.1v41.2m1-34.7v37.9m1-37.7v30.4m1-41.3v48.2m1-36.8v49.6m1-47.9v32.1m1-35.3v33.6m1-33.7v36.6m1-31.5v30.9m1-37.1v41m1-40.3v35m1-44.6v44.5m1-39v47.1m1-46.6v37.8m1-38.5v45.4m1-37.8v28.5m1-28.1v25.3m1-29.4v44.5m1-42.5v31.6m1-29.8v33m1-32.8v37.7m1-38.7v31.3m1-28.7v21.7m1-20.5v20.2m1-26v29.4m1-25.6v23.5m1-23.6v24.1m1-24.4v35.6m1-38.2v36.6m1-25.5v17.6m1-17.9v14.9m1-14v13.7m1-18.5v19.3m1-18.9v17.3m1-19.7v37.4m1-37.9v25m1-26.2v31.3m1-43.4v39.4m1-43.3v41.8m1-37.3v42.4m1-38.9v43.9m1-38.8v36.7m1-44.1v42m1-32.7v53m1-52.5v57.9m1-51.3v28.4m1-37.4v41.2m1-43.7v37.2m1-42v39.1m1-39.1v34m1-30.3v36.1m1-39.4v35.6m1-35.9v39.4m1-39.1v45.4m1-49.6v55.7m1-53.9v45.4m1-53.9v50.9m1-47.7v52.3m1-50.2v49.4m1-60.4v53.8m1-41.6v53.8m1-53v44.1m1-43.6v45.5m1-46.1v46.8m1-49.1v49.3m1-44v39.9m1-36.2v36.8m1-32v28.9m1-29.3v29.1m1-23v16.8m1-17v16.6m1-12.7v26.4m1-27v19.5m1-23.4v21.5m1-20.6v33.3m1-31.4v29.4m1-36v25.3m1-17.7v16.7m1-16.9v17.1m1-21.6v24.4m1-22v17.4m1-17.4v16m1-16.4v16.7m1-14.8v16.4m1-15.2v17.1m1-16.9v14.8m1-16.3v16.9m1-17.4v37.3m1-42.5v24.3m1-17.1v12.3m1-17.7v21.5m1-18.3v21.9m1-28.9v27.5m1-25.2v32.5m1-33.1v33.5m1-46v37m1-31.2v31.5m1-33.8v33.5m1-31.3v45.5m1-45.5v34.6m1-36.4v35.7m1-25.5v26.8m1-28.2v29.9m1-52.8v51m1-39.3v37.4m1-38.3v49.1m1-54.3v46.2m1-41.1v41.2m1-39.5v41.7m1-30.5v36.5m1-38.9v37.8m1-39.5v33.2m1-35.8v49.9m1-42.9v29.9m1-31.9v29.9m1-31v31.4m1-32.3v27.7m1-24.4v31.7m1-29.1v30.6m1-29.8v13.4m1-11.4v15.7m1-16.6v19.6m1-17v13.1m1-14.6v15.8m1-13.6v9.1m1-9.5v16m1-15.3v11.3m1-11.8v27.7m1-25.3v9.7m1-11.5v10.9m1-13v19.7m1-20.9v27.3m1-26.5v14.2m1-29.8v36.3m1-25.3v23.2m1-19.5v24.8m1-29.9v29.4m1-37.8v39.4m1-36.8v41.9m1-40.1v44.5m1-47.2v46.2m1-42.2v52.6m1-54.2v47.1m1-46.8v44m1-54.7v63.4m1-58.6v45.6m1-48.2v63m1-64.7v44m1-43.8v47.4m1-54.2v50.7m1-51.1v47.8m1-44.4v48.6m1-43.9v46m1-51.8v52.6m1-54.7v46.2m1-44.1v43.4m1-48.1v48.1m1-38v33.8m1-34.8v39.9m1-34.4v35.7m1-37.1v40.5m1-38.2v36.6m1-37.4v37.6m1-38.4v44m1-37.3v32.9m1-30.3v38.1m1-41.1v29m1-24v30.1m1-25.4v12.4m1-12.2v14m1-15.2v32.3m1-32.1v14m1-14.4v19.5m1-17.1v19.9m1-19.2v13.9m1-15.7v22m1-22.6v17.4m1-19.3v14.9m1-14.5v13.2m1-25.3v29.3m1-18.6v18.4m1-21.3v22.5m1-23.2v26.8m1-29.7v41.7m1-43.7v39.1m1-34.9v39.2m1-45.6v39.1m1-41.7v53m1-50.3v43.1m1-39.8v36.1m1-33.4v34.3m1-37.5v32.6m1-30.1v28m1-29v41.4m1-43.1v38.7m1-37v33.2m1-29.2v28.1m1-26.1v41.9m1-44v24.9m1-24.8v24m1-24.2v24.4m1-24.8v23.5m1-21.3v20.5m1-17.4v36.4m1-38.7v27.1m1-26.9v29m1-26.2v10.7m1-11.9v12.1m1-8.5v7.5m1-8.4v11.6m1-12.4v13.3m1-11.9v12.2m1-13.7v12.6m1-12.3v23.8m1-28.5v18m1-15.1v14.1m1-18.3v16.1m1-9.3v7.7m1-14v15.5m1-9.3v12.7m1-13.7v14.9m1-21.4v31.2m1-32.5v20.6m1-30.5v32m1-25.9v30.8m1-27.6v37.9m1-42.7v39.6m1-36.8v38.2m1-39.6v35.5m1-29.9v24.5m1-25.6v26.1m1-28.2v30.7m1-31.5v35.9m1-37.3v31.7m1-43.4v46.4m1-31.8v26.7m1-27.7v27.3m1-27.4v27.3m1-35v44.3m1-45.9v36.2m1-22.8v25.6m1-29v39.8m1-35.6v25m1-18.3v14.2m1-15.3v14.5m1-19.9v21.6m1-18.9v24.6m1-22.3v25.6m1-23.6v9m1-12.8v16.3m1-15.9v14.4m1-21.7v19.5m1-10.4v15.5m1-16.3v12.9m1-13.9v14.4m1-14.7v15.9m1-17.7v25.3m1-25.1v16m1-13v13.6m1-14.8v12.5m1-10.2v12.3m1-13.6v18.1m1-17.4v14.2m1-13.6v26.4m1-29.2v20.6m1-20.3v17.5m1-21.1v22m1-20.1v38.2m1-40.7v30m1-36.4v36.5m1-43v41.8m1-42.9v49.2m1-44.4v60.9m1-56.5v36.6m1-40.6v31.8m1-40.3v47.2m1-45.6v43.9m1-41.7v43.3m1-40.7v38.2m1-41.2v45.3m1-50.1v47.4m1-41.2v42.3m1-39.4v42.9m1-44.8v47.1m1-44.1v48m1-45v47.8m1-50.7v43.6m1-45v37.9m1-39.7v52.1m1-52.2v41.6m1-42.3v44.2m1-49.8v48m1-39.3v49.5m1-47.5v29.5m1-28.9v28.1m1-25.8v24.2m1-15.2v20.3m1-23v15.6m1-14.2v19.3m1-18.4v12.2m1-23.7v32.9m1-22.5v13.1m1-10.7v11.7m1-9.6v7.6m1-8.3v8.5m1-7.6v9.7m1-10.3v10m1-11.8v13.2m1-13v14.9m1-17.4v40.3m1-42v27.5m1-33.1v26.1m1-29.6v34.4m1-32.4v31m1-38.3v38.3m1-44.2v48.2m1-37.9v60.8m1-59.8v32.8m1-31.3v37.1m1-37.2v33.8m1-38.3v53.4m1-45v36m1-35.5v36.4m1-37.2v47.7m1-49.5v30.1m1-29.9v35.7m1-38.8v29.7m1-31.3v37.9m1-40v50.4m1-47.4v44.1m1-52.5v45.9m1-40v43.4m1-41.5v39.5m1-38.5v37.8m1-31.3v21.3m1-17.7v17.5m1-14.5v24.8m1-25.4v13.5m1-11v10.6m1-10.1v9.6m1-11.1v12.7m1-16.4v13.4m1-12.9v18m1-24.4v24.3" stroke="#0b57a0" stroke-width="1" fill="none" opacity="0.42"/>
<path d="M25.5 43.4v17.8m1-20.2v20.4m1-21.2v23.9m1-20.6v17.1m1-15.3v19.3m1-18.8v19.4m1-21.2v12.4m1-13.6v13.6m1-14v13.9m1-13.4v21.8m1-21.9v16.5m1-21.9v29.5m1-21.1v19.8m1-27v21.3m1-17.2v20.8m1-19.1v28.9m1-38.9v25.9m1-17.3v19.3m1-19.8v25.8m1-32.9v25.9m1-26.8v28.9m1-34.7v45m1-40.6v32.3m1-32.2v27.2m1-31.3v29.8m1-32.7v36.8m1-40.2v40.2m1-36.2v48.2m1-48.6v46.8m1-40.3v48.8m1-44.4v51.3m1-52.6v37.9m1-31.9v24.5m1-31.9v26.6m1-15.7v15.7m1-17v15.3m1-14.6v14.4m1-14.2v14.6m1-14.1v15.9m1-22.5v19.9m1-14.7v25.5m1-24.6v16.7m1-19.9v18.6m1-15.8v13m1-17.8v26.1m1-28.4v29.3m1-25.2v16.3m1-15.4v19.8m1-19.1v19.4m1-20.3v21.8m1-22.6v24m1-32.5v33.7m1-32.4v38.1m1-36.3v39m1-46.4v43.8m1-42.6v37.8m1-37.6v44.7m1-55.2v56.3m1-45.2v50m1-47.5v42.8m1-41.7v31m1-39.5v46.2m1-44.9v45.8m1-42.2v55.4m1-59v39.9m1-36.7v35.3m1-33.6v35.1m1-44v42.3m1-34.1v34.4m1-41.8v51.9m1-52.7v47.5m1-43.2v44.7m1-37.4v36.3m1-34.4v35.3m1-37.5v40.6m1-37.9v49.1m1-50.7v36.1m1-40.6v48.8m1-39.4v24.5m1-24v16.6m1-14.4v15.9m1-15.8v14.6m1-15.1v21.7m1-20.6v25.9m1-28v18.9m1-19.3v18m1-19.8v20.9m1-21.1v21.2m1-22.4v21.2m1-21.2v24.8m1-26.5v29.4m1-29v24.8m1-28.5v30m1-29.4v34.4m1-37.7v37.7m1-37.2v43.3m1-42.6v40.9m1-34.1v36.2m1-44v60.3m1-59.7v40.7m1-36.9v45.2m1-46.1v43.5m1-43.3v37.1m1-33.3v31.8m1-38.8v42.5m1-44.1v44.5m1-43.2v46m1-41.5v50.2m1-48.6v28m1-29.7v27.5m1-29.2v31.5m1-27.1v25.3m1-29.4v33.9m1-26.4v25.2m1-26.5v27.7m1-35.4v30.1m1-22.2v24.6m1-24.4v22.5m1-23.2v23.2m1-27v27.7m1-26.7v32.5m1-26.1v21.2m1-20.1v17.6m1-16.3v17.4m1-17.2v10.7m1-14v16.8m1-14.2v13.5m1-17v19.4m1-22.7v28.1m1-27.7v30.7m1-37.8v34.3m1-41.8v44.5m1-43.6v65m1-58.5v39.7m1-31.9v37.4m1-40.1v34.4m1-31.5v29.7m1-34.7v37.9m1-30.9v37.4m1-38.1v32.1m1-40.2v40.8m1-48v38.7m1-34.9v32.3m1-39v41.6m1-35.4v40.1m1-37v39.2m1-50v49.5m1-46v51.7m1-53.1v46.3m1-48.6v45.2m1-41.5v41.6m1-41.2v47m1-56.6v54.4m1-49.3v44.2m1-39.6v49.3m1-49.8v50.7m1-50.7v46.8m1-42.1v39.8m1-39.9v48.5m1-46.2v31m1-25.6v25.7m1-28.3v30.7m1-25.5v24m1-20.4v15.4m1-13.5v16.9m1-18v17.8m1-20.3v25.4m1-26.1v22.6m1-18.7v16.3m1-16.2v16.8m1-17v16.6m1-16.7v32.5m1-32.9v15.5m1-12.9v13.2m1-14.8v12.6m1-13v16.7m1-17.1v18.3m1-17.7v33.3m1-35.8v18.1m1-15.8v27.5m1-27.2v24m1-27.3v14.8m1-12.3v16.2m1-16.3v18.1m1-23.8v26.2m1-25.8v21.1m1-19v21.9m1-24.1v27.9m1-28.1v31m1-37.2v30.1m1-29.4v31.7m1-27.1v29.2m1-37.5v48.9m1-43.6v37.7m1-32.8v26.7m1-30.8v35.3m1-35.8v34.7m1-40.1v52.6m1-57.1v41.6m1-47.2v41m1-32.8v49.9m1-45.1v37.6m1-33.3v34.8m1-31.6v30.7m1-38.1v39m1-36.1v54m1-53.8v36.2m1-34.5v31.7m1-33.9v43.4m1-43.1v29.2m1-27v23m1-18.8v18.5m1-20.3v17.9m1-23.1v26.1m1-15.5v12m1-12.5v12.4m1-12.9v16.5m1-19v18.6m1-12.9v26.3m1-26.3v15.2m1-14.2v10.7m1-11.5v9.8m1-8.7v9.3m1-13.6v14.2m1-14.5v13.1m1-15.4v16.9m1-16.5v43.5m1-47v20.2m1-17.6v20.9m1-21.4v18.1m1-23.2v30.8m1-35.4v45.6m1-53.2v56.3m1-47.5v45.8m1-42.7v41.5m1-38.8v40.2m1-46.7v54.7m1-55.3v45m1-46.1v45.6m1-47.2v56.3m1-61.3v48.2m1-48.2v46.7m1-47.4v47.2m1-44.1v49.5m1-51.2v42.4m1-48.7v56m1-56.6v51.7m1-55.3v54.7m1-48.4v41.9m1-52.9v53.5m1-39.4v39.2m1-34.9v35.1m1-42.5v46.9m1-38.5v36.6m1-35.4v46.8m1-47.4v59.7m1-57.5v64.6m1-63.7v35.3m1-30.6v38.3m1-36.9v23m1-21.1v35.5m1-30.2v11.6m1-14.3v19.7m1-19.6v18.2m1-18.7v19.7m1-15.6v15.3m1-20v15.8m1-9.9v11m1-12.6v13.5m1-14.8v12.5m1-15.5v18.7m1-15.5v13.1m1-16.7v22.3m1-20.3v19.5m1-21.7v19.9m1-19.7v21.4m1-28.1v26.6m1-24.1v32.3m1-33.1v32.3m1-33.9v37.9m1-43.3v40m1-40.2v51.1m1-48.3v37.5m1-33.6v35m1-34.8v28.4m1-30.5v36.3m1-33.6v31m1-38.1v36.9m1-32.7v30.6m1-28.4v31m1-32.4v28.8m1-25.7v25m1-26.6v24.4m1-26.6v28.8m1-22v20.9m1-22.5v20.1m1-14.4v12.3m1-16.1v16.4m1-19.8v31.4m1-30.8v18.5m1-10.7v10.8m1-11.4v9.4m1-7.5v15.8m1-20.3v17m1-15.2v16.4m1-17.5v16.9m1-18.7v32.1m1-30.8v12.9m1-14.2v13.7m1-14.4v18.2m1-16.7v23.5m1-20.2v10.7m1-11.2v12.7m1-19.6v24.7m1-24v19.8m1-22.1v26.5m1-26.1v24.3m1-25.7v26.6m1-29.3v31.2m1-30.7v36.8m1-41.3v47.5m1-47.5v40.6m1-31.2v29.4m1-28.8v46.2m1-47.6v32.3m1-35.3v28.2m1-32.5v32.4m1-33.7v31.2m1-28.3v35.5m1-33.5v27m1-28.9v33.2m1-34.2v31.8m1-33.8v38.2m1-27.3v38.9m1-41.7v30.1m1-26.2v23.9m1-20.1v23.3m1-19.7v12.8m1-13.3v11.1m1-12.2v9.9m1-9v18.2m1-22.1v17.1m1-15.6v12.6m1-14.3v10.9m1-8.8v11.8m1-11.6v12.1m1-12.2v15.4m1-20.2v18.2m1-16.1v15.7m1-15.9v13.5m1-14.4v25.1m1-41.9v37.2m1-17.2v15.9m1-15.7v17.1m1-14.8v10.7m1-10.3v12.6m1-14.1v20.7m1-24v23.5m1-33.3v31.2m1-22.7v19.9m1-23.6v30.6m1-28.1v31.7m1-39.2v36.7m1-44.1v45.6m1-44v42.4m1-34.5v31.4m1-29.4v24m1-37.3v39.8m1-45.2v46.8m1-39.9v40.8m1-40.8v46.3m1-45.6v45.5m1-47.2v50.3m1-49.3v46.2m1-44.2v48m1-46.5v65.2m1-65.9v46.2m1-38.9v39.2m1-39.8v33.4m1-40.4v43.1m1-42.8v36.2m1-36.4v38.3m1-36.7v48.2m1-49.7v39.5m1-39.4v39.2m1-37.5v44.1m1-42.3v28.8m1-23.5v25.8m1-23.2v18.7m1-18.6v28.8m1-24.9v15.8m1-19.6v17m1-13.6v16.2m1-15.4v15.4m1-15.2v38.6m1-38.4v18.8m1-18.6v22.1m1-21.6v11.1m1-8.4v8.7m1-9v22.1m1-22.2v8.7m1-10.3v15.5m1-16.8v13.4m1-15.6v29.7m1-36.5v25m1-25.3v45.6m1-47.2v35.2m1-44.9v43.7m1-45.4v57.4m1-55.4v42.1m1-32v35.5m1-35.3v48.1m1-47.9v35.8m1-37.9v51.8m1-49.7v36.5m1-36v46.1m1-45.7v36.5m1-37.7v28.8m1-33.2v39.1m1-37.9v28.9m1-29.3v34.9m1-33.7v37.4m1-34.6v37.4m1-42.7v41.7m1-41.9v41.2m1-41.7v38.2m1-34.8v34.8m1-26.2v20.4m1-30.4v32.1m1-18v22m1-25.5v18.7m1-18.1v26.1m1-22.8v11.5m1-12.3v14.4m1-13.1v9.8m1-19.1v18m1-9.2v15.2" stroke="#0b57a0" stroke-width="1" fill="none" opacity="0.42"/>
<path d="M25.5 127v41.5m1-34.7v20.2m1-18.7v21m1-21.5v22.8m1-22.9v21.1m1-23.4v22m1-21.2v17.3m1-16.6v15.3m1-14.5v21m1-24.8v18.6m1-15.2v15.1m1-19v23.1m1-21.2v20.4m1-20.5v17.4m1-15.7v25.2m1-29.6v28.1m1-27.9v27.5m1-29.8v33.6m1-34.9v45.6m1-45.7v48.6m1-51v51m1-55.5v50.4m1-48.3v63.7m1-65.3v44.9m1-45.2v73m1-73.2v44.1m1-34.9v49.6m1-50.6v37.6m1-37.1v29.9m1-23.4v35.4m1-38.8v24.9m1-28.9v29.3m1-24.9v15.9m1-15.1v37.5m1-36.2v26m1-33.4v56.7m1-51.7v19.8m1-17.4v19.7m1-21.4v24.5m1-20.6v12.6m1-12.2v9.5m1-12v14.4m1-16.7v20.5m1-17.9v13.8m1-12.7v18.8m1-20.7v14.1m1-13.3v34.7m1-34.8v14.8m1-19.2v37m1-38.4v30.9m1-38.1v29.5m1-29.6v29.5m1-35.8v41.7m1-44.9v54.5m1-61.4v66.5m1-65.4v78.3m1-68.6v56m1-46.4v76.8m1-78.6v48.1m1-53v43.2m1-39.4v44.1m1-50v49.8m1-43.6v53.7m1-55.4v49.7m1-49.5v80.6m1-83.4v45.1m1-40.8v47.7m1-65.9v59.2m1-54.8v66.5m1-59.2v49.2m1-52.8v66.9m1-67.7v49.6m1-40.8v46.9m1-52.3v49.7m1-42.7v50.1m1-54.8v44.9m1-34.8v43.9m1-47.3v28.4m1-17.2v26.4m1-29.3v19.5m1-15.2v14.6m1-16v19.5m1-21.9v18.6m1-15.6v24.7m1-25.2v20.8m1-23.2v17.4m1-16.6v16.4m1-17.9v26.3m1-21.5v17.7m1-18.9v25.6m1-30.6v42m1-53.1v43.4m1-50.3v63.1m1-62.6v43.2m1-39.9v40.6m1-35.1v38.7m1-43.6v52.2m1-57.1v55.9m1-50.4v48.1m1-52.7v51.9m1-46.4v49.9m1-56.2v50.8m1-57.7v69.6m1-59.1v67.8m1-67.7v54m1-53.3v39.7m1-38.2v49.6m1-60.5v60.5m1-49.2v43.1m1-32.4v33.9m1-30v18.2m1-22v30.7m1-24.9v23.1m1-23v20.9m1-19.3v14.3m1-15.9v16.5m1-17v34.8m1-35.6v18.4m1-24.9v27.5m1-18.1v19m1-22.8v23.2m1-21.9v27.5m1-27.3v19.2m1-20.1v39.9m1-36.5v10.2m1-11.5v20.1m1-21.7v24.7m1-29.7v26.8m1-25.7v65.7m1-62.6v25.2m1-23.4v22.1m1-26v26.6m1-33.8v33.6m1-36.7v45.9m1-42.4v49.6m1-46.3v36.9m1-36.1v38.4m1-37v37.4m1-39.5v32.8m1-31.9v31.5m1-31.4v31.4m1-35.7v44.7m1-48.1v53.4m1-55.8v43.6m1-41v71m1-69.3v46m1-46.7v48.7m1-55.6v53.3m1-48.6v55.3m1-54.8v40m1-41.6v83.7m1-86.2v46.8m1-46.8v93.6m1-87.1v43.3m1-49.4v62.9m1-60.4v56.5m1-50.6v29.2m1-43.3v51.3m1-39.5v37.5m1-33.2v31.3m1-30.3v28.4m1-28.3v37.1m1-37.1v23.7m1-25.1v27.1m1-25.4v31.6m1-29.8v20.4m1-19.8v20.4m1-17.6v17.5m1-18.9v20.5m1-30v53.3m1-38.6v16m1-17.6v15m1-12.7v12.3m1-13.2v9.9m1-9.1v40.1m1-41.9v20.6m1-20v19.3m1-20.1v19.1m1-20.3v34.2m1-32.3v16.6m1-21.6v19.7m1-20.4v20.7m1-19.7v18.5m1-22v21.4m1-25.8v30.5m1-31v32.6m1-32.5v28.6m1-31.5v38.9m1-42.4v36.2m1-45.6v60.2m1-60.1v71.9m1-71.2v72.2m1-67v81.9m1-76.9v53.3m1-47.3v73.1m1-79.5v76.6m1-73.2v79.5m1-78.5v53.3m1-53.9v45.5m1-52.3v50m1-51.5v74.9m1-83.8v72.2m1-63.1v49.9m1-49.9v49.9m1-41.2v54.7m1-59.1v61.1m1-64.8v70.7m1-68.4v68.4m1-71.6v70m1-66.4v45m1-37.2v39.4m1-33.7v25.1m1-22.5v21.2m1-22.7v54.3m1-51.4v14.7m1-12.4v14.1m1-15.3v16.3m1-17.7v30.1m1-32.8v22m1-24v17.4m1-12.9v13.6m1-12.2v11.7m1-11.8v17m1-17.8v20.5m1-23v18.7m1-19.3v47.6m1-45.2v16.1m1-16.1v19m1-19.9v18.7m1-22.9v60m1-62.2v29.7m1-30.3v30.5m1-28.8v28.1m1-30.3v39.4m1-38.4v32.4m1-35.7v54.2m1-52.5v31.6m1-36.8v40.1m1-46.3v41.4m1-38.8v58.2m1-59.2v41.1m1-44.4v74.6m1-81.3v62.1m1-51.3v72.1m1-69.4v37.8m1-38.5v51m1-48.1v52.5m1-59.2v68.2m1-76v56.2m1-59.8v57.2m1-58.2v66.5m1-59.1v51.9m1-59.7v63.1m1-65.1v69.7m1-56.1v55.1m1-47.2v41.9m1-36.1v36.8m1-40.6v35m1-27.8v30.7m1-26.5v26m1-27.9v21.1m1-21.4v32.2m1-34.3v23.4m1-23.3v19.9m1-18.1v19.5m1-16.2v13.9m1-14.3v12.5m1-13.4v15.8m1-15.7v16.3m1-18.8v19.7m1-20.4v16.4m1-23.7v22.4m1-13.7v22.7m1-28.8v31m1-34.3v35.9m1-48.2v54.8m1-53.9v67.4m1-70.9v67.1m1-53.6v76.9m1-77.4v61.8m1-67.3v65.5m1-68v52.1m1-59.7v75.7m1-68.3v45.7m1-41.8v41.1m1-41.9v72.3m1-75.6v51.2m1-56.1v54.9m1-52.5v56.6m1-54.9v51.4m1-48.9v40.6m1-39.1v47.5m1-55.9v84.6m1-68v38.9m1-34.2v22.7m1-18v31.8m1-30.2v14.6m1-15.9v19.9m1-19.8v20.7m1-21.6v17.8m1-19.6v17.9m1-18.5v18.3m1-14.7v22.3m1-22.8v16.7m1-18.5v20m1-27.1v71.2m1-60.6v16.8m1-14.9v14.5m1-13.6v13.6m1-17v22.5m1-21.3v15.3m1-20.8v27.9m1-26.6v28.9m1-34.4v59.2m1-67v44m1-48.7v80.6m1-76.4v60.5m1-66v62.3m1-66.1v56.3m1-48.4v58.5m1-54.8v66.7m1-70v41.6m1-39.5v40.7m1-38.9v49.6m1-58.1v87.8m1-86.8v57.6m1-54.2v54.3m1-58.9v60.1m1-55.1v55m1-46.7v56.7m1-55.8v46.5m1-48.5v59.1m1-53.9v31.2m1-30.8v33.8m1-30.2v31.8m1-31.9v18.4m1-21.9v24.1m1-22.3v19.9m1-19.7v26.4m1-26.8v23.2m1-18.5v11.6m1-11.7v19.2m1-20.4v15.1m1-17.7v21.2m1-19.9v14.1m1-15.7v17m1-12.3v11.2m1-13.9v13.4m1-14.2v14.7m1-16.1v17.4m1-19.6v18.9m1-20.3v33.4m1-27.2v22.4m1-25.1v22.7m1-24.5v20.7m1-16.5v17.6m1-13.9v11.4m1-15v11.8m1-10.6v14.2m1-14.4v15.6m1-18.1v16.7m1-15.9v23.6m1-27.5v28.2m1-29.2v33.5m1-36.8v29.6m1-33.5v42.6m1-41.3v41m1-47.6v42.2m1-41.9v53.8m1-51.6v54.6m1-54.9v93.8m1-87.9v48m1-46.5v48.4m1-46.4v45m1-41.5v80.9m1-85.6v46.7m1-55.1v55.8m1-54.3v50.6m1-46.9v56.6m1-58.7v49.6m1-47v34.5m1-33.6v59m1-58.4v38.7m1-38.7v35m1-35.4v27.6m1-25.5v25.2m1-21.5v23.7m1-22.3v19.7m1-18.5v14.8m1-13.7v19.4m1-19.7v16.2m1-17.1v28.1m1-29.7v23.7m1-25.7v18.9m1-18.3v22.9m1-21.5v19.2m1-19.2v31.4m1-30.5v16.7m1-18.3v22.2m1-20.8v18.1m1-17.8v27.8m1-25.9v21.8m1-23.4v26.2m1-23.4v11.9m1-14.6v14.5m1-18.8v32.9m1-30v19.2m1-25.2v65.3m1-71.2v62.5m1-61.1v60.2m1-69.2v48.1m1-43.9v51.5m1-53.2v49.5m1-57.6v61m1-46.7v57.4m1-61.3v51m1-55.4v65.7m1-62v77.8m1-71.9v45.6m1-42.7v87.4m1-86.8v77.2m1-81.6v54.5m1-57.1v60m1-55.3v44.7m1-47.5v46m1-47.5v35.6m1-28.9v39.6m1-40.4v41.3m1-37.9v25.8m1-21v30.3m1-30.9v43.7m1-43.1v19.5m1-23.4v16.3m1-14.7v21.1m1-18.1v52.6m1-54.5v32.2m1-29.4v17.2" stroke="#e3242b" stroke-width="1" fill="none" opacity="0.42"/>
<path d="M25.5 133.2v15.9m1-14.8v17.8m1-16.1v16.3m1-16.7v17.6m1-18v23m1-29.2v19.4m1-14v14.4m1-12.9v43.3m1-45.9v17.4m1-18.1v20.4m1-18v16.4m1-20.1v30m1-30.5v22.9m1-25.5v22.9m1-20.4v27.9m1-32.4v34.5m1-33.7v29.2m1-27.7v39.1m1-38.9v48.5m1-51.1v42.9m1-49v42.7m1-47.1v46.4m1-43.1v57.3m1-57.4v85m1-87.5v49.4m1-42v42.7m1-37.7v31.3m1-30.6v27.8m1-28v38m1-37.1v23.9m1-27v45.5m1-41v20.5m1-19.3v16.6m1-17.6v21.8m1-20v20.9m1-20.7v17.4m1-18.1v17.3m1-17.6v14.5m1-13.7v60.8m1-58.8v11.3m1-12.6v21.8m1-30v34.9m1-26.2v18m1-19.1v32.6m1-30.7v41.6m1-45.7v14.9m1-14.8v13.9m1-15.6v25.2m1-25.8v18.9m1-21v21.6m1-24.3v27m1-31.5v35.1m1-40.8v46.9m1-51.8v72.7m1-70.5v67.5m1-65.8v62.9m1-64.2v64.1m1-50.9v50.9m1-52.9v44.2m1-42.5v30.8m1-35.1v42m1-40.2v48.8m1-50.6v69.8m1-69.9v52.6m1-56.2v67.4m1-62.1v41.5m1-40.3v43.2m1-53.6v51.3m1-58.6v59.8m1-58.9v55.4m1-53.4v57.3m1-53.9v49.7m1-51.3v48.1m1-42.8v50.1m1-44.2v37.4m1-41.9v51.4m1-50.9v43.5m1-32.3v37.2m1-36.1v28.1m1-26.3v24.6m1-24.6v35m1-32v17m1-16.1v17.6m1-16.6v15.7m1-18.2v21.4m1-22.8v21.1m1-24.1v26.7m1-21.6v31.6m1-31.3v20.4m1-21.2v21.6m1-27.4v48.2m1-55.1v35.8m1-37.4v36.2m1-49.7v46.2m1-38.7v51m1-43.9v43.8m1-48.2v51.5m1-55.7v59.7m1-54.9v58.2m1-59.6v54.3m1-53.9v57.7m1-64.1v65.8m1-71.5v61.3m1-53.2v56.9m1-54.7v43.4m1-40v57.3m1-60.2v47.3m1-43.8v46.9m1-40v32.7m1-31v56.4m1-51.1v26.8m1-26v18.9m1-19.3v26.2m1-29.8v29.1m1-25.5v32m1-28.9v36.3m1-37.1v23.5m1-24.9v32m1-30.3v30.1m1-29.9v18.6m1-22.9v25.4m1-22.7v41.1m1-40.3v20.1m1-19.9v15.6m1-13.5v12.4m1-16.8v26.7m1-23v19.2m1-27.1v23.6m1-21.9v21.2m1-18.6v29.7m1-30.6v28m1-29.9v38.7m1-44.8v33.5m1-32.2v39.2m1-41.8v49.8m1-45.2v46.3m1-43.1v46m1-52.5v41.9m1-38.8v35.8m1-39.3v43.3m1-37.8v33m1-39.7v37.3m1-44.3v51.9m1-49v55.1m1-53.6v78.4m1-83.5v56.9m1-50.7v54.2m1-63.5v56.4m1-56.2v78m1-72.1v50.8m1-51.4v53.6m1-51.4v45.8m1-48.6v50.4m1-47.2v51.1m1-51.7v60.3m1-55.8v56.8m1-54.1v49.7m1-51.2v42.4m1-43.6v49.3m1-47.2v29.1m1-26v34.2m1-48.4v49.8m1-39.3v37.4m1-32.5v34.2m1-37.9v25.7m1-23.3v19.1m1-15v22.9m1-21.7v30m1-29.4v19.2m1-19.9v18.2m1-14.9v15.2m1-23v25.5m1-18.3v16m1-13.7v26.9m1-27v9.8m1-13v15.9m1-14.8v18.4m1-18.4v32.6m1-42.5v52.5m1-47.1v44.7m1-45.3v29.8m1-27.9v29.4m1-30.9v24.3m1-25.3v18m1-22.1v20.9m1-23.6v28.7m1-30.2v34.6m1-39.5v36.7m1-46v50.3m1-53.7v61.9m1-69v74.8m1-62.9v61.2m1-55.2v63m1-56.1v60.8m1-66.4v66.7m1-62.7v73.6m1-68.6v46.9m1-50.1v69.2m1-70.4v39.4m1-40.3v88.6m1-98.8v67.5m1-74.4v68.5m1-53v42.3m1-43.4v41.6m1-40.9v47.3m1-48.5v51.3m1-57v48.3m1-46.2v58.8m1-58.6v41m1-29.6v36.1m1-36.1v64.5m1-62.8v33.4m1-29.3v25.3m1-23.1v23.6m1-25.6v21.8m1-18.4v21m1-22.2v20.5m1-18.8v23.2m1-25.1v17.5m1-22.8v30.1m1-24.1v14.9m1-13v27.8m1-28.7v15.3m1-16.1v14.8m1-17.7v17.6m1-15.9v17.3m1-18.8v16m1-13.7v16.8m1-17.9v17.9m1-18v33.6m1-41.6v71.1m1-68.9v37m1-36v47.9m1-49.1v30.1m1-28v38m1-42.1v41m1-39.6v37.7m1-42.8v37.8m1-42.5v44.4m1-48.6v72.6m1-68.1v43.1m1-45.2v49.2m1-50.5v57m1-53.6v39.6m1-36.7v34.6m1-35.1v47.3m1-46.7v57.6m1-60.5v52.2m1-54.8v53.5m1-61.6v63.9m1-63.7v69.3m1-65.4v66.8m1-69.6v70.6m1-66.3v48.5m1-47v45.7m1-37.3v49.4m1-43.4v30.5m1-32v65.7m1-60.3v26.2m1-23.3v27.3m1-29.5v20.2m1-18.4v24m1-26.7v21.2m1-18v14.9m1-15.8v18m1-13.9v12.4m1-13.1v11.5m1-13.1v20.9m1-22.8v18.5m1-22.7v18.9m1-18.7v17.1m1-16.8v19.3m1-19.3v17.9m1-20v30.8m1-36.9v47.2m1-51.5v46.6m1-45.7v44.7m1-46.7v65.9m1-66.1v66.2m1-63.1v64.6m1-65.1v69.3m1-77.7v56.2m1-53.6v48.6m1-47.1v48.2m1-44.7v40.4m1-42.6v49.2m1-47.5v39.7m1-48.2v66.9m1-66.3v58.7m1-57.3v70.1m1-61.2v35.4m1-40.9v47.5m1-42v54.5m1-50.5v37.2m1-30.8v22m1-19.7v27.9m1-24.7v19.7m1-20.5v13.8m1-15.7v36.2m1-37.6v17.1m1-16.6v18.9m1-18.3v16.3m1-16.4v29.3m1-32.7v20.9m1-19.5v21.9m1-15.5v15.8m1-19.3v39.4m1-36v35.5m1-34.9v15.9m1-18.9v15m1-14.4v12.7m1-15.8v21.6m1-22.5v26.7m1-35.5v49.9m1-52.6v47m1-49.5v45.8m1-43v50m1-56.4v66.7m1-70.3v75.8m1-70.2v58.9m1-52.6v59m1-62v75.7m1-79.6v70.4m1-70v59.5m1-63.2v63.3m1-59.8v45.3m1-45.5v62.3m1-59.2v50.3m1-45.6v46.2m1-43.9v58.5m1-57.5v40.4m1-41.9v40.5m1-36v48.5m1-44.8v33.2m1-33.4v55.7m1-59.2v33.1m1-33.8v25.7m1-27v30.3m1-24.9v23.8m1-23.5v25.9m1-23.8v15.2m1-17.1v18.9m1-20v17.8m1-14.3v40.8m1-43.3v19.5m1-19.3v27.4m1-26.2v14.9m1-16v17.1m1-18.5v29.1m1-26.8v23m1-24v20.4m1-20.6v24.1m1-24.2v22m1-21.2v15.7m1-15v20.8m1-20.6v37.2m1-34.4v37.7m1-42.8v20.5m1-19.7v19.1m1-16.6v19.5m1-20.2v12.2m1-14v24.9m1-29.7v29.9m1-35.8v35.7m1-33.4v51.7m1-51.3v32.7m1-34.2v37.7m1-44.2v63.8m1-66.4v60.6m1-61.3v65.4m1-55v45.3m1-41.8v41.9m1-44.8v50.1m1-47.2v41.8m1-38.2v53.1m1-56.4v53.1m1-55.2v52m1-57.6v55.7m1-62.4v57.8m1-60.9v65.9m1-53.8v39.3m1-34v43.4m1-42.5v40.3m1-42.2v38.3m1-39.4v57.5m1-52.4v34.8m1-31.9v16.7m1-14.5v17.5m1-19.5v17.6m1-17.4v15.4m1-15.5v13.9m1-16.3v22.9m1-20.9v20.6m1-20v14.9m1-16.9v24.3m1-23.9v28.9m1-30.2v22.3m1-23.6v30.8m1-28.7v21.5m1-21.3v25.6m1-24.2v42.1m1-40v17.5m1-17.7v37.9m1-38v30.5m1-33.5v23.2m1-24.5v23.7m1-22.1v20.7m1-23.4v23.7m1-34.1v65.9m1-67.3v47m1-50.8v49m1-43.3v74.9m1-75.8v53.1m1-53.5v54.4m1-49.9v55.4m1-59v53.7m1-55.9v43.8m1-53.5v70.9m1-55.1v44.2m1-40.6v62.7m1-63.6v42.3m1-43.1v67.4m1-76.1v48.9m1-49.2v39.2m1-35.6v37.2m1-31v30.2m1-30.2v51.7m1-47.8v32.4m1-29.1v20.5m1-19.7v17m1-18v23.1m1-23.4v16m1-16.7v16m1-15.6v30.4m1-28.7v18.5m1-21.4v19.5m1-16.8v15.4" stroke="#e3242b" stroke-width="1" fill="none" opacity="0.42"/>
<path d="M25.5 133.4v39.1m1-47.4v29m1-19.1v15.8m1-14.7v18.8m1-21.4v13.8m1-13.9v16m1-16.5v16.2m1-19.6v31.7m1-27.5v21.5m1-23.7v21m1-17.8v29m1-35.7v51.9m1-47.3v20.9m1-18.7v19.8m1-25.3v45.3m1-43.7v40.3m1-46.9v40.4m1-36.9v26.2m1-24.6v32.6m1-34.9v40m1-47.4v52.8m1-65.9v65.9m1-52.2v63.5m1-65v47.3m1-50v49.7m1-49v48.7m1-40.5v60.7m1-56.5v37.1m1-36.8v46.4m1-42.8v24.9m1-26.2v31.6m1-31.6v15.3m1-13.3v21.8m1-21.7v28.6m1-29.1v20m1-20.1v15.7m1-17.6v36.1m1-36.6v20.3m1-18v36.4m1-44.9v25.7m1-15.7v12.8m1-11v13.3m1-16.8v17.5m1-15.5v15m1-16.9v16.8m1-15.8v21m1-26.5v36.5m1-33.5v20.3m1-24.7v37.7m1-39.9v25.5m1-27.3v46m1-61.5v42.1m1-38.3v50.5m1-50.3v75.8m1-77.6v80.2m1-80.2v67m1-65.6v63.2m1-57.3v62.6m1-55.9v55.7m1-60.6v56.1m1-55.4v83.2m1-82.6v50.2m1-51.5v54.7m1-51.1v45.2m1-44.6v63.4m1-64v68.3m1-66.7v38.3m1-50v69m1-77.7v61.2m1-59.3v61.8m1-54.4v49.5m1-53v48.6m1-41v53.6m1-47.2v53.5m1-57.9v49.9m1-45v43.2m1-55.4v53.1m1-37.7v40.5m1-38.3v21.1m1-16.5v33.2m1-37v57.9m1-52.5v48.6m1-51.7v17.3m1-15.3v15.8m1-14.8v15m1-16.4v20.9m1-25.5v20.4m1-13.9v16.1m1-23.3v28.8m1-25.9v24.5m1-30.3v35.8m1-41.3v39.3m1-44v44.4m1-51.7v48.9m1-50.1v56.4m1-48.7v45.7m1-45.1v51.5m1-50v44.8m1-48v49.7m1-43.8v46.7m1-48.1v56.1m1-59v56.5m1-67.1v68.5m1-68.2v63.5m1-57.9v50.2m1-41.8v44.5m1-49.4v70.7m1-72.3v41.9m1-33.7v52.8m1-50v30m1-25.1v27.9m1-22.6v16.6m1-21.6v67.1m1-61.5v22.1m1-22.9v60.4m1-59.4v16.9m1-16.4v25m1-26.3v21.8m1-22.9v21.8m1-19.7v25.2m1-25.7v22.7m1-21.1v44.8m1-46.1v22.9m1-20.7v21.9m1-22.9v10.6m1-11.7v26.3m1-27.7v34.3m1-34.2v24.1m1-22.2v23.7m1-25.7v21.7m1-25.7v24.2m1-27v35.8m1-36v27.1m1-30.1v76m1-73.4v46.1m1-49.4v85.3m1-78.8v32.3m1-34.8v40.8m1-46.3v61.9m1-55.3v41.2m1-50.2v36.4m1-34.2v43.2m1-44.6v59.2m1-65.7v60.4m1-53.9v45.6m1-44.7v52.6m1-54.7v82.2m1-80v47.8m1-50v54.6m1-58v46m1-36.5v44.4m1-52.6v66.5m1-61.6v55.3m1-54.6v51m1-50.2v49.5m1-51.6v42m1-37v32.7m1-38v35.3m1-30.6v57.4m1-63.2v35.4m1-32.2v37.5m1-34.5v36.4m1-32.7v26.3m1-23.8v18.2m1-17.2v16.1m1-18.2v24.2m1-26.3v18.8m1-14.4v27.4m1-31.6v23m1-16v17m1-15.4v38.3m1-36.5v11.4m1-13.1v22.9m1-28.5v17.4m1-10.6v20.5m1-21.2v13m1-13.2v14.7m1-16.9v19.8m1-19v30.2m1-33.1v23.9m1-25.9v42m1-41.8v17.5m1-17.1v20.4m1-21.6v15.7m1-19.7v23m1-29.5v32m1-35v40.8m1-39.4v65.2m1-71.5v41.9m1-45.8v101.1m1-102v65.6m1-65.1v74.4m1-65.2v54.5m1-47.3v59.2m1-59.9v48.4m1-49.3v45.3m1-41.2v47.2m1-52.9v46.9m1-53v44m1-42.3v55.3m1-58.3v66.4m1-64.8v51.2m1-52.5v51.2m1-52.9v46.5m1-40.9v54.2m1-54.9v42.3m1-47.5v46.7m1-46.4v48m1-46v45.4m1-36.9v45m1-45.9v69.5m1-65v37.1m1-31.3v42.4m1-59.3v37.2m1-18.4v16.3m1-14.6v22m1-23.5v18.1m1-16.5v20.5m1-27.9v25.4m1-22.2v21.3m1-22.1v25.5m1-21v48.9m1-48.2v10.6m1-18.2v29.4m1-27.8v22.4m1-18.3v13.5m1-15.1v18.8m1-20.8v50.5m1-48.6v21.4m1-24.1v24.9m1-26.4v24.5m1-23.9v26.8m1-28.1v33.2m1-37.3v37.5m1-31.5v34.7m1-40.6v50.2m1-49.1v39.8m1-42.1v39.3m1-41.9v36.9m1-45.3v50m1-42.9v36.2m1-38v57.6m1-66.3v56.7m1-49.5v49.5m1-47.4v53m1-55.5v48m1-40.6v47m1-58v97m1-100v62.3m1-62.5v55.1m1-59.9v80.6m1-70.4v49.5m1-55.4v63.5m1-59.9v55.2m1-55.4v56.5m1-47.3v37m1-35v36.7m1-33.2v28m1-35.1v47.5m1-33.1v43.7m1-45.8v19.7m1-19.6v24.5m1-22.7v22.8m1-23.3v21.4m1-24v19.6m1-13.8v18.7m1-20.8v16.1m1-16.4v16.4m1-14.5v14.5m1-18v18.9m1-19.3v16.3m1-14.2v12.6m1-14.3v28.1m1-31.5v22.2m1-25.3v43.9m1-49.8v38.7m1-40.7v59.9m1-63.1v56.2m1-51.6v57.6m1-58v59m1-58.7v62m1-68.8v57.3m1-70v61.8m1-48.4v59.3m1-53.1v59.2m1-65.4v44.7m1-41.2v46.8m1-50.2v48m1-52.9v58m1-51.4v64.3m1-61.3v43.4m1-39.8v62m1-65v49.1m1-51.1v58m1-42.4v17.6m1-14.1v18.7m1-19.2v16.4m1-17v15m1-15.7v32.1m1-35.3v34.7m1-33.8v18.4m1-19.1v15.9m1-14.5v20.2m1-17.6v14.6m1-14.9v25.7m1-24.2v20.3m1-22.8v19m1-16.7v18.2m1-16.2v26.7m1-28.6v17.2m1-18.9v19.3m1-19.7v26.8m1-27.2v37.2m1-48.1v52.7m1-54.3v59m1-67.2v60.8m1-53.4v57.2m1-61.1v53.2m1-63v75.7m1-70.7v61.2m1-49.9v73.3m1-74.1v41.6m1-52.7v48.2m1-44v58.6m1-55.5v57.2m1-66.8v84.7m1-73.9v48.8m1-48v98m1-98.8v51.8m1-41.4v40.4m1-43.5v82.9m1-81.5v41.4m1-38.5v35.7m1-34.9v29.7m1-26.9v21.7m1-24.8v22.6m1-20v36.5m1-38.9v45.1m1-43.5v21.6m1-19.9v44.2m1-43.2v15.9m1-16.6v17.1m1-17.6v21m1-19.3v12.6m1-17.5v18.6m1-16.1v57.2m1-53.5v12.8m1-15.6v27m1-24.4v11.7m1-14.4v15.7m1-28.6v33.6m1-22.3v19.7m1-25v26.1m1-17.9v22.3m1-24.9v16.7m1-15.8v25.1m1-21v32.5m1-34.9v15.5m1-17.9v22.2m1-21.8v14.1m1-19.5v27.5m1-22.9v21.5m1-29.1v34.7m1-35.2v36.2m1-42.9v65m1-56.5v51.6m1-58v40m1-41.2v42.4m1-47.6v59.6m1-56.7v53.5m1-45.6v52.9m1-51.5v43.9m1-42.2v40.4m1-38.6v56.2m1-54.3v48.2m1-49.9v53.4m1-63.2v66.4m1-64.9v55m1-65.9v67.4m1-58.8v44.7m1-41.5v42.5m1-44.9v56m1-47.9v35.3m1-41.4v54.4m1-49.1v29.7m1-28.8v26.2m1-20.7v19.4m1-24.4v18.7m1-13.1v33.9m1-31.8v20.6m1-21.4v43.3m1-47.3v18.8m1-19.5v19.6m1-17.4v20.3m1-27.3v26.1m1-21.6v46.8m1-45.7v19.8m1-23.5v27.8m1-21.4v16.1m1-17v16.8m1-16.3v17.7m1-18.5v21m1-20.4v27.3m1-29.5v15.8m1-14.9v35.1m1-35.1v31.2m1-29.7v25.2m1-30.1v27m1-30.3v32.8m1-44v62.3m1-55.5v49.2m1-54.4v45.7m1-45.6v45.5m1-48.2v59.6m1-51.4v45.6m1-42.9v36.9m1-44.5v47.8m1-54.2v57.6m1-57.7v61.6m1-45.2v61m1-61.3v80.2m1-92.5v55m1-48.8v51.9m1-55.8v40.2m1-34.7v39.9m1-35.4v36.2m1-37.4v39.2m1-37.2v34.8m1-30.2v35.9m1-33.4v20.1m1-21.4v16.5m1-16.5v18.9m1-17.8v22.1m1-22.1v18.2m1-17.5v18.7m1-17.6v43m1-43.3v58.9" stroke="#e3242b" stroke-width="1" fill="none" opacity="0.42"/>
<path d="M25.5 132.9v16.8m1-17.1v17.9m1-17.6v21.1m1-18.9v17.9m1-19.7v14.1m1-13.8v32m1-33.8v15.2m1-12.6v12.4m1-11.7v19.8m1-18.9v11.3m1-16.7v15.7m1-15v29.5m1-28.9v20.5m1-18.3v16.4m1-24.1v43m1-41v68.7m1-69.2v26.9m1-27.7v35.4m1-32.1v37.9m1-40.7v36.1m1-42v37.5m1-39v52.7m1-52.3v56.1m1-59.8v53.4m1-57.1v45.1m1-37.3v49m1-44.7v51.1m1-48.3v41.4m1-38.1v46.4m1-45.5v30.7m1-31.3v25.4m1-25.5v17m1-18v20.2m1-18.5v20.3m1-18.4v16.9m1-19.8v19.7m1-19.5v16.1m1-14.7v19.8m1-17.7v16.1m1-17.3v13m1-9v44.9m1-47.7v13.2m1-17.2v21m1-18.2v21.4m1-19.8v11.2m1-10.9v14.1m1-18.1v21.8m1-20.8v17.6m1-24.3v27.1m1-25.4v22.7m1-38.8v36.7m1-27.5v39.5m1-40.6v42.9m1-51.6v61.7m1-61v57.9m1-62.8v65.4m1-60.1v54m1-43.7v44.5m1-43.7v46.5m1-44.5v28.1m1-34.7v48m1-48.7v61.4m1-57v56.7m1-56.9v56.8m1-63.2v56.4m1-50.3v52.1m1-51.8v40.4m1-50.8v57.3m1-59.6v72.1m1-71.1v51.4m1-49.1v55.3m1-51.2v58.3m1-58.6v53.1m1-49.7v56.9m1-56v44.8m1-45.3v54.9m1-56.2v41.1m1-29v31.9m1-33.8v28.3m1-27.2v56.1m1-65.7v40.5m1-25.8v17.6m1-17.3v12.2m1-15.8v21.2m1-16.3v14.8m1-16.2v13.1m1-17.5v18.2m1-16.9v25m1-23.7v17.2m1-17.5v31.6m1-34.4v45.8m1-53.9v35.6m1-40.3v50.5m1-55.2v46.7m1-45.1v39.4m1-39.2v42.8m1-46.4v44.3m1-42.4v49m1-50.7v53.6m1-50.4v40.7m1-38.4v53.5m1-59.8v53.1m1-56.7v70.9m1-68.1v66.9m1-66v45.7m1-37.7v36.8m1-41.7v49.1m1-49.1v55.2m1-46.4v33.1m1-30.2v34.7m1-27.3v19.5m1-20.2v23.3m1-29.5v28.3m1-23.2v17.8m1-13.9v16.3m1-16.6v31.7m1-32.8v19.9m1-19.5v30.2m1-30.5v46.2m1-45.3v19.4m1-19.8v25.7m1-25.3v15.3m1-16.3v16.3m1-14.1v15.6m1-19.7v18.8m1-14.4v16m1-21v35.1m1-37.9v30.5m1-24.8v32.9m1-33v22.3m1-23.3v29.9m1-35.8v28.8m1-27.1v63.7m1-67.4v31.4m1-29.8v39.5m1-38.3v43.1m1-44.6v46.3m1-44.9v32.7m1-33.6v37.7m1-40.3v40.2m1-34.3v62.3m1-68.2v36.8m1-44.1v61.5m1-61.7v50m1-49.6v53.6m1-46.1v46.7m1-53.5v49.6m1-46.7v48.6m1-58.2v53.6m1-48.1v56.4m1-54v82m1-90.9v61.4m1-56.3v60.1m1-53.5v88.9m1-85.5v55.4m1-55.2v39.4m1-37.3v54.6m1-58.7v36.2m1-34.4v41.7m1-45.3v39.6m1-39v45.2m1-41.1v30.6m1-32.3v27.6m1-20v20.8m1-26.2v20.5m1-14.4v13.8m1-15.9v22.3m1-21.8v21.9m1-23.8v32.2m1-26v20.7m1-17.7v14m1-13.9v14.1m1-16.9v19.4m1-18.9v19.1m1-18.9v10.3m1-8.8v39.7m1-44v54.5m1-52.3v19.4m1-20.2v26.2m1-23.8v20.5m1-23.4v17.9m1-22.9v28m1-28.8v27m1-24.9v20m1-26.6v30.2m1-28.9v25.8m1-36.5v41.5m1-37.3v39.7m1-41.8v41.6m1-55.4v72.8m1-68.7v66.4m1-63.3v71.3m1-68.7v57.8m1-49.6v70.9m1-71.2v86.8m1-88.7v52.3m1-50.6v66.3m1-64.3v69.4m1-82.6v53.8m1-47.1v67.5m1-79.9v75.2m1-68.4v56m1-59.1v55.1m1-47.5v46m1-42.8v40.7m1-41.5v64.3m1-69v57.6m1-59v47.2m1-37.7v35.7m1-35v36.4m1-32.7v31.8m1-34.2v50m1-46.9v36.7m1-29.1v32.2m1-33.2v32.9m1-34.5v23m1-18.5v21.9m1-24.3v20.2m1-26.8v36.6m1-31.6v17.2m1-16.9v14.7m1-11.4v13.9m1-14.8v14m1-14.4v13.5m1-12.9v10.8m1-12.5v35m1-34.3v26.3m1-23.8v17.8m1-19.2v22.3m1-24.6v20.4m1-25.6v27.2m1-37.2v41.6m1-35.5v54.3m1-50.7v27.9m1-28.6v42.9m1-52.2v47m1-41.3v42.3m1-41.8v40.6m1-47.8v46m1-55.1v73.7m1-66v42.4m1-45.6v50.8m1-48.1v52.1m1-56.9v52.9m1-48.4v50m1-46.2v45.2m1-44.2v73.6m1-76v69m1-80.7v84.1m1-83.7v62.8m1-68.5v63.7m1-53.8v51.4m1-47v67.4m1-66.8v61.7m1-60.8v46m1-37.7v38.6m1-34.5v45.2m1-46.3v53m1-53.1v35.2m1-26.3v18.4m1-18.9v21.3m1-21.7v16.5m1-20.9v35.2m1-30.9v23.3m1-24.3v50.9m1-47.5v16.7m1-17.3v13.8m1-14.3v20.1m1-22.5v29.9m1-28.8v14.9m1-20.8v24.4m1-21.5v25.3m1-26.2v43.1m1-45.6v26m1-31.1v39.1m1-43v40.2m1-39.2v48.2m1-50.5v64.2m1-64.3v51.8m1-50.9v56.3m1-55.8v64.6m1-69.4v57.1m1-62.4v69m1-63.7v52.2m1-48.6v44.4m1-47.5v48.4m1-53.7v66.8m1-68.9v65.2m1-61.2v51.4m1-54.4v48.4m1-40v51.1m1-50.1v48.6m1-51.8v59.6m1-54.5v41.4m1-30.6v27.6m1-25.4v20.3m1-19.6v33.9m1-32.7v18.1m1-21.2v17.9m1-22.6v20.1m1-19.1v42m1-40.3v17.8m1-16.5v18.5m1-17.8v26.9m1-26.3v15.7m1-12.6v29.6m1-33.5v35.7m1-30v16.3m1-16.2v19.5m1-19.3v15.4m1-20.5v42.7m1-46.3v37.7m1-35.6v32.3m1-34.9v46.7m1-54v45m1-44.8v50.3m1-56.6v53.3m1-48.4v50.7m1-59.2v76.2m1-70.1v54.1m1-48.5v51.4m1-55.3v59.4m1-60v41.9m1-42.7v64m1-61.7v50.8m1-58.1v56.3m1-49.8v50.8m1-58v79.9m1-73v58m1-50.7v71.1m1-75.6v43.1m1-38.6v35.6m1-35v33.3m1-29.9v31.2m1-29.6v31m1-32.2v34.1m1-32.4v19.4m1-22v24.1m1-19.2v50.8m1-50.9v18.4m1-16.9v30.6m1-31.9v15.8m1-14v18.6m1-21v21.5m1-23.7v34.4m1-32.3v20m1-20.7v14.9m1-14.6v28.9m1-26.8v17.7m1-18.4v17m1-16.1v27.6m1-31v21.8m1-21.1v24.9m1-23.3v31.3m1-32.6v25.9m1-24v15.2m1-12.1v9.5m1-9.4v12.9m1-15v24.1m1-25.4v18.1m1-17.7v35.2m1-36.4v24.3m1-27.3v28.7m1-32.2v32m1-34.8v27.6m1-30.4v38.8m1-39.4v40.5m1-44.4v43.3m1-43.1v54.6m1-54.5v60.2m1-55.6v51.4m1-48.7v36.3m1-32.6v67.6m1-67.2v41.6m1-42.4v54.6m1-55.7v43.8m1-57.3v80.5m1-69.5v50.7m1-60.5v55.1m1-46.9v46.4m1-43.2v38.2m1-37.4v39m1-38v41.1m1-42.7v38.1m1-44.9v52.1m1-42.5v36.3m1-40.5v25.2m1-16.1v17.1m1-21v24.8m1-22.3v18.4m1-20.2v20m1-19.7v24.9m1-26.2v18.2m1-13.4v17m1-20.8v24.9m1-26.6v21.1m1-17.8v31.2m1-40.2v26.9m1-21.9v23m1-19.8v33m1-29.3v14.9m1-13.3v17.7m1-17.6v20.8m1-22.3v25.6m1-32v18.8m1-17v26.3m1-24.4v19.9m1-24.3v27.4m1-34.3v42.8m1-45.6v53.2m1-51.4v44.1m1-53.2v55.7m1-49.9v40.4m1-39.7v46.3m1-42.7v54.5m1-55.3v45.8m1-50.3v73m1-70.1v51.4m1-52.7v68.7m1-61.9v49.7m1-44.5v37.4m1-45.6v51.4m1-53.6v44.3m1-45.4v46m1-39.6v33m1-33.2v31.2m1-31.4v34.8m1-33.3v40m1-32.9v18.5m1-19.5v18.4m1-22.9v30.4m1-23.6v17.4m1-21.4v20m1-17v19.7m1-19.8v64m1-63.6v14m1-13.5v19.4" stroke="#e3242b" stroke-width="1" fill="none" opacity="0.42"/>
<path d="M25.5 128.2v21m1-13.6v27m1-29.6v38.5m1-34.7v11.4m1-13.1v25m1-29.8v35.3m1-42.3v27.4m1-19v43.6m1-43.1v22m1-20.7v17.6m1-16.4v37.4m1-38.9v34.8m1-37.2v21.6m1-20.1v27.2m1-26.3v51.1m1-58v30m1-27.8v35.4m1-35.3v27.8m1-30.5v44.7m1-43v41.4m1-42.6v45.3m1-55.6v73.3m1-71.9v76.2m1-74.8v56m1-53v47.7m1-49.6v45.3m1-37.2v39.3m1-39v31.6m1-31v45.2m1-42v44.1m1-49.6v38.2m1-33.2v27.4m1-27v16.3m1-12.1v25.6m1-27v14.4m1-15.8v34.1m1-36v15.1m1-17v17.9m1-15.9v34.1m1-31.5v13.2m1-10.9v10.6m1-26.1v29.4m1-14.2v57.7m1-58.6v21.2m1-22.5v15.6m1-19.3v25.5m1-22.4v23.4m1-24.6v16.8m1-21.5v24.6m1-25.1v22.4m1-26.8v27.9m1-30.4v44.4m1-45.3v36.8m1-43.7v63.3m1-73v105.2m1-98.5v60.1m1-55.9v64.4m1-61.6v70m1-60.6v42.8m1-42.8v41.4m1-41.9v60.5m1-66v49.9m1-53.7v65m1-61.2v66.6m1-61.6v38.4m1-40.7v51.1m1-51.2v50.7m1-63.2v57.7m1-56.8v68.1m1-65.7v51.7m1-53.7v50.3m1-52.3v56.7m1-45.6v45.9m1-49.7v48.6m1-42.4v40.3m1-43.1v46.5m1-45.6v44.2m1-36.8v38m1-33.4v16.4m1-18.1v20.6m1-16.2v14.8m1-14.7v14.2m1-16v31.1m1-31.3v15.4m1-14.3v23.9m1-26.4v22.2m1-21v17.5m1-19.6v23.3m1-20.7v20m1-31.1v35.1m1-29.3v32.7m1-40.2v37.5m1-45.6v54m1-58.4v49m1-42.7v41.3m1-37.2v39.6m1-46.8v80m1-74.6v42.4m1-43v45.3m1-45.6v56m1-51v39.3m1-47.1v52.8m1-60v68.3m1-70.2v72.7m1-63.7v50.9m1-48.5v38.7m1-40v39.5m1-34.3v35.7m1-34.4v39m1-39.1v56.8m1-44.9v44.9m1-46.7v39.5m1-36.3v49m1-47.9v14.8m1-17v22m1-27.2v27.7m1-23.9v19.3m1-17.1v16.3m1-15v20.3m1-19.5v24.7m1-27v23.7m1-23.9v26.8m1-29.4v20.5m1-17.5v24.4m1-21.4v11.1m1-12.2v47.7m1-48.6v18.9m1-22.5v21.9m1-20.8v39.1m1-39.1v37.4m1-38.1v24.3m1-28.8v53.6m1-54.3v45.2m1-52.4v43.3m1-42.8v43.1m1-36.7v42.3m1-37v36.1m1-41v37m1-35.4v33.1m1-31.6v28m1-32.4v31.6m1-32.8v35.5m1-40.4v49m1-49.8v53.5m1-61v93.7m1-86.4v55.5m1-55.4v77.3m1-79.8v58.8m1-64.4v64m1-58.2v49.2m1-53.7v53.7m1-50.9v50.3m1-46v57.3m1-51.9v58.4m1-62.2v57.9m1-54.4v50.9m1-49.5v32.1m1-31.9v36.9m1-39.1v31.2m1-26.3v28.1m1-27.1v27.6m1-27.2v45.6m1-47.5v28.1m1-22.7v19.6m1-27.8v27.8m1-21.4v26m1-25.3v16.7m1-16.5v23.5m1-20.2v21.7m1-20.8v12.2m1-12.1v41.2m1-40v11.5m1-11.4v15.8m1-21.9v17.8m1-11.7v9.4m1-21.6v33.2m1-22.3v16m1-16.7v18.2m1-16.5v20.8m1-20.8v33.2m1-36v15.7m1-20.4v23.4m1-20.7v14.2m1-15.5v19.8m1-28.5v34.4m1-36.8v31.7m1-30.1v32.2m1-46.4v46m1-40.5v56.3m1-61.9v56m1-64v68.7m1-61v74.8m1-69.3v65.9m1-54v52.2m1-54.3v50.8m1-53.4v50.2m1-48v45.6m1-44.8v40.3m1-45v48.5m1-46.3v73m1-79.3v60.8m1-62.6v53.3m1-53.9v52.8m1-44.3v43.8m1-45.1v49.6m1-50.2v43.7m1-43.7v44m1-48.1v63.7m1-62v42.2m1-40.9v43.6m1-34.5v31.3m1-28.9v32m1-28.7v23.4m1-22.1v18.9m1-20.7v24.6m1-24.2v42.8m1-38.3v29.3m1-30.2v15m1-19.1v26.3m1-25.6v36.5m1-38.3v25.4m1-23v18.4m1-15.5v15.2m1-18.1v23m1-24.4v42.2m1-39.8v17.8m1-18.1v19.2m1-18.1v22.7m1-22.7v15.8m1-25.4v28.9m1-26.4v27.9m1-27.1v35.5m1-40.4v45.4m1-42v31.3m1-30.1v36.6m1-38.8v33.4m1-33.5v34.5m1-34.3v34.3m1-42.8v49.4m1-55v45.3m1-47.9v45.7m1-40.2v44.1m1-44.2v51.7m1-48.7v36.4m1-39.4v44.5m1-38.2v42.6m1-46.4v50.2m1-52.2v83.3m1-94.5v62.5m1-62.4v62.1m1-60.3v51.5m1-47v57.1m1-57.4v55.2m1-56.1v56.2m1-49.1v42.8m1-36.6v45.8m1-41.3v39.1m1-36.5v30.9m1-28.8v26.1m1-24v17.7m1-17.9v29.9m1-31.3v40m1-41.2v66.4m1-65v37.7m1-36.5v27.5m1-24.7v15.7m1-17.1v13.5m1-22.2v28.8m1-21.7v18.1m1-22.1v18.7m1-16.8v13.8m1-12v20.4m1-27v25.8m1-24.7v44.1m1-48.7v50.8m1-51.4v32.9m1-39.2v53.1m1-52.9v73.5m1-70.2v54m1-54.9v59.6m1-64v79.9m1-81v75.4m1-78.2v68.6m1-69.6v96.7m1-85.9v38.6m1-46.4v58.4m1-57.4v66.2m1-72.4v63.6m1-60.7v58.3m1-58.7v56.5m1-52.2v43.1m1-37.1v63.4m1-62.5v50.1m1-64.5v52.6m1-26.8v28m1-26.8v19.7m1-19.5v23.1m1-30.4v26.2m1-19.2v21.5m1-26v23.6m1-21v52.9m1-51.6v14.1m1-15.4v25.1m1-23.1v14.4m1-13.5v36.8m1-40.6v23.3m1-21.8v22.1m1-24.2v20.5m1-13.2v12.7m1-13.5v40.7m1-42.3v16.8m1-20v42.4m1-44.1v30.3m1-33.3v42.2m1-48.3v47.7m1-53.6v62.4m1-59.5v70.1m1-70.3v56.5m1-63.5v59.7m1-57.6v60.1m1-49.9v53.7m1-56v53.9m1-60.2v52.6m1-48.4v48.4m1-49.6v49.1m1-63.4v64.4m1-48.9v48.6m1-47.6v47.3m1-47.2v52.7m1-45.7v44.4m1-44.2v51.1m1-49.6v45.2m1-39.8v37.3m1-40.8v31.2m1-29.8v47.5m1-50.7v27m1-21.8v50.4m1-50.4v25.2m1-24.5v22.2m1-21.7v21.6m1-20.6v16.6m1-16.6v22m1-22.3v16.5m1-17.1v11.8m1-14.4v45m1-42.2v12.9m1-13.7v23.6m1-25.1v17.7m1-17.5v19.8m1-20.7v37.4m1-36.1v27.6m1-28.2v26.8m1-27.6v22.7m1-19.4v16.3m1-20.9v23.3m1-16.9v12.1m1-26.6v39.8m1-24.3v25.2m1-35.9v21.1m1-13.1v17.5m1-18.4v16.6m1-17.7v20.4m1-27.6v29.8m1-30.2v32.6m1-32.5v41.7m1-40.1v63.4m1-69.6v41.9m1-46.6v53.2m1-54.7v48.1m1-44.2v57.9m1-54.7v51m1-47.4v39.5m1-39.4v53.7m1-52.6v46.3m1-41.2v62.2m1-66.7v46.3m1-51.6v46.4m1-49v51m1-47.6v47.4m1-49v51.2m1-51.3v86.9m1-84v63.8m1-63.3v43.6m1-46.5v62.7m1-64.2v51.3m1-47.1v44.9m1-39.3v22.2m1-22.4v28.2m1-22.9v16.5m1-14.9v16.1m1-18v15m1-20.1v24m1-23.4v25.3m1-24.4v18.5m1-18.6v64.6m1-65.6v54.3m1-58.6v33.7m1-27.3v21.9m1-23.5v22.9m1-22v27m1-30.1v19.8m1-13.9v17.8m1-15.5v13.9m1-15.3v12.4m1-16v20.7m1-22.2v25.6m1-22.4v20.8m1-23.7v23m1-29.7v43.1m1-57v63.9m1-57v44.1m1-37.9v48.5m1-64.1v67.4m1-59.5v51.3m1-46.6v48.6m1-55.5v51.9m1-58.4v83m1-74.1v48.5m1-43.7v52.7m1-46.4v50m1-52.7v54.9m1-54.1v44.8m1-50.7v69.5m1-70.3v39.9m1-32.6v30.5m1-28.7v30.2m1-30.2v31.9m1-28.5v31.6m1-26.8v20.3m1-23.2v18.8m1-21v20.1m1-19.8v31.7m1-30.2v14.4m1-15.4v22.5m1-19.6v13.8m1-13.4v14.3m1-17.7v20.4" stroke="#e3242b" stroke-width="1" fill="none" opacity="0.42"/>
<path d="M25.5 136.5v16.5m1-17.1v51.1m1-52.3v20.2m1-21.7v14.7m1-11.9v14m1-15.9v18.7m1-18v26.5m1-26.9v14.7m1-14.5v18.3m1-19.3v17.7m1-17.3v21.4m1-23.4v15.3m1-14v37.9m1-38.2v16.8m1-18.6v31.6m1-32.9v51.6m1-55.4v29.8m1-28.9v40.1m1-39.2v51.3m1-52.7v34.2m1-36.5v54.5m1-56.2v49.7m1-49.8v59.9m1-65.4v47.6m1-52.7v57.9m1-48.4v44.9m1-40.1v35.2m1-32.3v39.6m1-40.6v33.6m1-30.6v37.5m1-37.9v34.7m1-37.6v21.3m1-16.5v17.5m1-16.7v16.4m1-13.6v13.6m1-19v45.1m1-44.6v29.2m1-27.1v16.8m1-19.4v20.1m1-14v13.3m1-14v9.9m1-12v32.6m1-33.5v58.9m1-59.6v20m1-21.2v24.7m1-25.3v24.2m1-22.9v18.6m1-19.7v18.9m1-26.5v29.1m1-27.2v25.9m1-27.5v53.5m1-55.6v29m1-37v51.5m1-48.5v54.1m1-64.9v68.7m1-62.3v62.5m1-63.5v77m1-67.5v47.7m1-47.2v56.3m1-49.6v32m1-35.4v35.2m1-40.4v51.1m1-58.7v57.9m1-50.7v57.6m1-57.9v85.5m1-79.1v36.6m1-40.7v42.1m1-55.5v61m1-66.3v54.7m1-46.7v47.5m1-46.9v81.9m1-77.7v42.8m1-41.3v46.4m1-48.7v62.5m1-56v71.6m1-66.3v60.1m1-64.8v37m1-32.3v31.2m1-25.5v19.9m1-16.2v16.6m1-16.8v32.2m1-31.7v34.2m1-47.2v37.1m1-24.9v18.6m1-18.6v23.2m1-22.3v28.9m1-30.9v14m1-11.5v15.4m1-18.8v22.7m1-21.3v19.6m1-26.2v29.6m1-38.9v37.3m1-49.6v61.2m1-62.3v61.8m1-52.2v42m1-41.2v41.6m1-38v82.6m1-92.5v52m1-47.2v47.9m1-44.5v64.9m1-63.6v45.1m1-54.9v96.2m1-94.6v73.5m1-74.8v65.7m1-64.7v50.6m1-39.3v46.6m1-49.5v87.8m1-89.4v35.8m1-30.5v64.7m1-58.5v25.2m1-25.9v25m1-20v15.5m1-17v21.6m1-18.6v20.5m1-18.8v36.4m1-36.9v14.8m1-15.7v21.1m1-27.3v23.2m1-16.3v18.9m1-18.2v19.8m1-23.4v21.6m1-23.1v25.5m1-20.4v16.4m1-18.4v16.5m1-14v10.1m1-11.2v16.8m1-17.7v16.1m1-14.7v16.9m1-19.3v31.8m1-28.9v17.9m1-22v24.2m1-29.8v24.1m1-22v27.8m1-34.9v36.8m1-35.1v40.5m1-36v36.1m1-34.8v36.1m1-37.2v38.5m1-40.1v37m1-36.9v37.6m1-31.7v34.5m1-41.2v36.9m1-44.2v43.5m1-46.2v59.8m1-52.2v56.3m1-60.8v65.3m1-63.6v58.1m1-63.8v64.5m1-64.7v53.9m1-57.2v72.6m1-65.7v49.1m1-49.5v48.7m1-45.8v45.2m1-45.3v61.7m1-63v60m1-53.8v41.4m1-44.1v52.7m1-48.4v41.6m1-46.7v36.9m1-30.3v35.8m1-36v42.3m1-41.1v48.1m1-46.1v25.1m1-26.2v32.9m1-31.7v23.4m1-23.7v18.6m1-19.8v42.3m1-41.5v41.9m1-38.9v33.9m1-31.5v14.8m1-15.1v19.9m1-17.5v17.1m1-19.6v18.3m1-17.3v19.1m1-17.1v9.8m1-12.2v24.4m1-26.3v18.3m1-16.3v20.3m1-21.6v18.1m1-17v19.3m1-22.5v16.8m1-17.4v21.7m1-21.5v27.1m1-35v26.5m1-24v44.1m1-49.5v51.2m1-55.4v41.9m1-42.3v45m1-46.6v38.6m1-47.8v64.8m1-62.8v66.7m1-65v62.4m1-55.8v61.9m1-56.3v59.8m1-56.7v56.5m1-60.3v41.5m1-38.5v43.6m1-43v65.4m1-72.9v81.7m1-79.4v45.3m1-53.3v62.8m1-60.7v50.2m1-45.4v52.5m1-57.5v43.7m1-38.8v33m1-31v37.1m1-47.6v62.4m1-57.8v46m1-38.1v34.1m1-34.9v41.2m1-41.1v42.3m1-36.2v30.5m1-28.1v23.7m1-22.7v20.7m1-18.5v19m1-16.2v28.9m1-30.9v14.5m1-12.3v27.6m1-32.9v27.5m1-27.1v49.9m1-53.5v21.9m1-14.8v13.6m1-15.7v16.3m1-20.8v35.2m1-28.8v25.6m1-29.6v31.1m1-29.2v15.8m1-16.1v18.1m1-17.6v22.8m1-24.1v18m1-21.4v26.4m1-25.1v27.3m1-30.5v36.5m1-35.2v30.8m1-41v53.6m1-47.4v44.8m1-45.4v42.3m1-40.8v45.6m1-52.2v34.2m1-39.1v45.8m1-38.2v29.7m1-36.2v65.6m1-68v47.3m1-42.3v58.4m1-60.3v40.4m1-40.2v69.7m1-64.3v49.3m1-58.4v64.1m1-65.3v51.8m1-58.9v59.6m1-54.1v54m1-51.2v53.4m1-52.3v71.4m1-69.6v56.2m1-62.2v48m1-30.8v49.5m1-51.1v69.9m1-66.1v31.5m1-30.8v30.2m1-26.3v39.7m1-40.3v19.3m1-17v15.9m1-21.8v46.5m1-43.7v20.9m1-17.8v43.3m1-40.7v49m1-49.7v14m1-14.5v22.2m1-23v13m1-18.8v53.5m1-50.3v12.1m1-14.4v19m1-22.1v44.9m1-43.2v26m1-27.5v65.3m1-73v37.3m1-42.6v51.1m1-46.4v58.5m1-55.7v63.4m1-75.6v65.9m1-59.1v65m1-69.6v59.5m1-65.7v64m1-53.8v43.9m1-40v52.8m1-57.2v66.2m1-64v59.6m1-67.9v54.4m1-49.9v61.3m1-56.6v41.8m1-42.9v45.9m1-47.2v44.5m1-41.7v55.7m1-50.1v42.7m1-37.1v30.2m1-25.2v35.4m1-35.8v17.3m1-19v23.7m1-24.9v17.3m1-16.3v16.5m1-17.7v14.8m1-13.7v14.6m1-13.8v40.3m1-39.8v14m1-16.5v21.2m1-18.5v28.5m1-28v22.9m1-21.6v14.5m1-12.8v15.5m1-20.6v22.6m1-20.2v15.1m1-15.5v32.8m1-35v34.6m1-44v58.5m1-62v50.5m1-49.1v40.5m1-40v53.2m1-61v48m1-50v62.3m1-57.7v74.2m1-66.1v70.6m1-76.8v57.2m1-58.5v43.6m1-44.8v48.1m1-54.5v72.9m1-68.4v54.2m1-50.3v54m1-53.3v54.7m1-54.7v57.2m1-48v84.3m1-82.2v45.2m1-46.2v46m1-41.8v27.3m1-28.9v28.1m1-27.9v45.3m1-45.7v21.8m1-20.1v15.6m1-16.7v21.6m1-20.6v17.2m1-14.7v22.8m1-22.1v14.9m1-15.8v12.5m1-12.6v21.1m1-21.9v26m1-28.5v27.2m1-27.2v15.2m1-10.7v33.8m1-34.7v52.3m1-53.1v25.8m1-26.8v23.8m1-23.6v26.5m1-26.5v35.7m1-36.9v23m1-21.4v19.7m1-24.4v39.3m1-33.3v15.7m1-14v14.3m1-13.1v12.2m1-11.6v16.7m1-20.9v15.9m1-17.2v17.9m1-18.2v38.1m1-43.5v32.5m1-32.8v30.8m1-32.4v37.7m1-36.7v31.9m1-35.6v38.3m1-43.5v48.7m1-50.7v50.2m1-47.5v58.1m1-56.3v59.6m1-52.7v44.7m1-42.7v55.3m1-54.3v43.2m1-42.3v37.6m1-42.2v60.9m1-66.9v50.2m1-50.7v67.1m1-64.3v62.9m1-62.2v45.5m1-43v38.8m1-38.5v34.2m1-36.6v50.2m1-46.7v36.6m1-42.5v37m1-31.2v29m1-23.2v17.4m1-19.7v31.5m1-27.1v16.1m1-18.2v23.5m1-25.9v24.2m1-25.3v20.6m1-16v15m1-15.2v19.5m1-26.8v27.9m1-23.1v38.7m1-40.4v23.4m1-26.1v23.9m1-17.8v26.7m1-35.2v41.4m1-30.3v18m1-20.4v17.2m1-16.1v14.2m1-12.7v15m1-18.6v26m1-28.1v18.3m1-14.4v17.8m1-21.7v29.3m1-41.1v48.2m1-46.3v66.6m1-71.9v48.9m1-46v39.4m1-47.1v94.3m1-85.8v45.9m1-42.6v51m1-56.9v55.8m1-57.5v47m1-46.3v62m1-58.2v48.1m1-40v73.6m1-73.6v47.2m1-53.3v58.1m1-58.7v42.4m1-41v33.7m1-31.9v31.1m1-28.6v28.3m1-26.6v34.3m1-33.1v27.6m1-24.9v20.3m1-18.2v29.3m1-32.1v31.4m1-31.1v30.5m1-29v16.2m1-15.4v27.5m1-24.4v39.5m1-43.1v19.1m1-16.2v27.8" stroke="#e3242b" stroke-width="1" fill="none" opacity="0.42"/>
<line x1="53.6" y1="14" x2="53.6" y2="217.3" stroke="#8a8c8e" stroke-width="0.6"/>
<line x1="79.5" y1="14" x2="79.5" y2="217.3" stroke="#8a8c8e" stroke-width="0.6"/>
<line x1="53.6" y1="217.3" x2="25.2" y2="245.5" stroke="#6d6e71" stroke-width="0.6" stroke-dasharray="0.75 0.75"/>
<line x1="53.6" y1="217.3" x2="150.7" y2="246.8" stroke="#6d6e71" stroke-width="0.6" stroke-dasharray="0.75 0.75"/>
<line x1="79.5" y1="217.3" x2="268" y2="245.5" stroke="#6d6e71" stroke-width="0.6" stroke-dasharray="0.75 0.75"/>
<line x1="79.5" y1="217.3" x2="387" y2="253" stroke="#6d6e71" stroke-width="0.6" stroke-dasharray="0.75 0.75"/>
<text x="16.5" y="59.6" font-size="6.8" text-anchor="middle" transform="rotate(-90 16.5 59.6)">CLA-L</text>
<text x="16.5" y="156.9" font-size="6.8" text-anchor="middle" transform="rotate(-90 16.5 156.9)">CLA-R</text>
<path d="M434 219H462.3V185" stroke="#231f20" stroke-width="0.7" fill="none"/>
<text x="460" y="206.5" font-size="6.7" text-anchor="middle" transform="rotate(-90 460 206.5)">200 µV</text>
<text x="448" y="226.2" font-size="6.6" text-anchor="middle">100 s</text>
<path d="M488.4 16.5l.4.1.4.2.4.2.5.3.4.4.4.4.4.4.4.5.4.5.4.6.4.6.5.6.4.7.4.7.4.7.4 2.1.4 4.3.4 5.8.4 7.1.4 8.3.4-8.3.4-7.1.4-6.1.4-5 .5-3.8.4-2.8.4-1.6.4-.6.5.1.4.3.5.3.4.4.5.5.4 1.5.4 3.1.4 4.2.4 5.1.4 6 .4-6.6.5-5.2.4-3.7.5-2.2.4-.7.4.1.5.2.4.3.5.4.4.5.4.5.5.5.4.6.4.8.4 1.5.4 2.1.4 2.5.4 3 .5-4.3.4-3.1.4-1.9.5-.6.4 0 .5.1.4.1.5.1.4.1.5.1.4.2.4 1.5.5 3.1.5 4.1.4 5.1.4-5.2.4-4.1.4-2.9.4-1.7.4-.6.4 0 .5 0 .4 0 .5 0 .4 0 .5 0 .4 0 .5.2.4.5.5.6.4.8.5.9.4-.1.4-.1.5-.1.4-.1.4-.1.4-.1.4 0 .4 0 .5-.1.4 0 .4 0 .4.1.4.2.5.4.4.3.4.5.4.5.5.5.4.6.4.7.5-1.4.4-1 .5-.8.4-.4.5-.2.4 0 .4.1.5 0 .4.1.4.1.4.1.5.1.4.1.4.1.4.6.5 1.2.4 1.6.4 1.9.5 2.3.4 2.6.5 2.8.4 3.1.4-6.1.5-5 .5-3.8.4-2.8.4-1.6.5-.6.4.1.4.1.4.1.4.2.4.2.4.2.5.3.4.2.4.3.4.3.4.4.4.3.4.4.4.7.5 1.5.4 2 .5 2.4.4 2.8.5 3.2.4 3.5.4-4.9.5-4.1.4-3.4.5-2.6.4-1.9.5-1.1.4-.4.4.1.5.1.4.2.4.2.4.3.5.3.4.3.5 1.3.4 2.8.5 3.7.4 4.5.5 5.3.4-4.7.5-4.1.4-3.5.4-3 .5-2.5.4-1.9.4-1.4.5-.8.4-.3.4.1.5.3.4.4.4.5.4.5.5.6.4.7.4 1 .4 2 .4 2.7.4 3.4.5-3.6.4-2.7.5-2 .4-1.2.5-.4.4.1.4.2.5.2.4.3.4.4.4.4.5.5.4.5.4.5.4 0 .4.1.5.2.4.1.4.2.4.2.5.2.4.2.4.3.5 1.5.5 3.1.4 4.2.5 5.1.5 6 .4-6.6.5-5.8.4-4.8.4-4 .4-3.1.4-2.2.5-1.4.4-.4.5.2.4.3.5.5.4.6.5.7.4.2.5.5.4.7.4.8.4.9.5 1 .4 1.2.5 1.4.4 2.8.5 3.9.4 4.8.5 5.5.4-6.7.4-5.7.4-4.6.4-3.7.4-2.5.4-1.6.4-.5.4.1.4.1.4.1.4.2.4.3.5.2.4.3.4.3.4.4.4.3.4.4.4.4.4 0 .4.1.4.1.4 0 .5.1.4.2.4.1.4.1.4.2.4.1.4.2.4.2.4.2.5.2.4.2.4.2.4.2.4.3.4.2.4.3.4.2.4.3.4.2.5.3.4.3.4.3.4.3.4.3.4-.6.5-.5.4-.4.5-.4.4-.2.5-.2.4 0 .4.2.5.3.4.5.4.6.5.6.4.8.5.8.5 1.7.4 2.3.5 2.8.5 3.2.4-4.4.5-3.1.5-1.9.4-.6.4.1.4.2.4.2.4.3.4-3.1.5-2.5.4-2.1.4-1.7.4-1.2.5-.7.4-.2.4.1.5.2.4.3.5.3.4.4.5.5.4.5.4 3.8.4 7.6.5-4.7.5-2.8.5-.9.5.4.4.7.5.9.4 1.2.5 1.4.4-1 .4-.8.5-.8.4-.6.4-.5.4-.4.5-.3.4-.1.4-.1.5.2.4.3.5.5.4.6.5.7.4 1.3.4 2.6.4 3.6.4 4.4.4 5.1.4 5.7.4 6.4.4-6.2.4-5.7.4-5.2.4-4.6.4-4 .4-3.5.5-3 .4-2.5.4-1.9.4-1.3.4-.8.4-.3.4.1.4.2.5.4.4.4.4.4.4.5.4.6.4.6.5.6.4.8.4.7.5 1.4.4 2.8.5 3.9.4 4.8.5 5.5.5-7.5.4-5.7.5-4.2.4-2.5.5-.8.4.1.4.2.5.2.4.3.4.3.4.4.4.4.4.4.5.5.4.5.4.6.4 1.3.4 2.5.4 3.5.4 4.3.4 4.9.4 5.6.4 6.2.4-6.7.4-6 .4-5.3.4-4.5.5-3.9.4-3.2.4-2.4.4-1.8.4-1 .4-.4.4.1.5.3.4.4.5.4.4.6.5.5.4.7.3 2.3.4 4.6.4-2 .4-1.5.4-.8.4-.3.4.5.5 1 .5 1.3.4 1.6.4 1.9.5 2.2.5-3.7.4-2.7.5-1.6.5-.5" stroke="#2166b0" stroke-width="0.8" fill="none" stroke-linejoin="round"/>
<path d="M488.4 76.5l.5 0 .4 0 .5 0 .4 0 .5 0 .5 1.2.4 2.3.5 3.3.5 3.9.4-4 .5-3.2.5-2.6.4-1.8.4-1 .5-.4.4 0 .5.1.4.2.4.1.5.2.4.2.4.2.5.2.4.3.5 1.8.4 3.5.5 4.9.4 5.9.5 6.9.5-9.7.4-7 .4-4.1.5-1.4.5-3.4.4-1.2.4 2 .4 4.1.4-5.2.4-1.7.5.8.5 1.5.5 1.8.6 3.8.5 5.1.5-3.9.4-2.9.5-2.2.4-1.3.5-.4.4.1.5.2.4.3.4.3.4.4.5.5.4.5.4.8.5 1.7.4 2.2.5 2.8.4 3.2.5 3.7.4 4 .4-5 .4-4.4.5-3.8.4-3.3.4-2.6.4-2.1.5-1.4.4-.9.4-.3.5.2.4.3.5.5.4.6.5.7.5.7.4 1.4.5 2 .4 2.3.5 2.8.5 2 .4 4 .5 5.5.4 6.8.5 7.8.4-11 .5-9.3.4-7.6.5-5.9.4-4.2.5-2.6.4-.8.4.1.4.2.5.3.4.3.4.4.4.4.4.5.4.6.5.5.4.6.4.7.4.8.5 1.5.4 2.2.4 2.6.4 3 .5 3.5.4 3.8.4 4.1.5-4.7.5-3.4.4-2 .5-.7.4-1.9.4-1.8.4-1.6.5-1.5.4-1.3.4-1.1.4-1 .4-.9.4-.7.5-.5.4-.4.4-.2.4-.1.4.2.5.3.4.5.5.6.4.6.5.8.4.8.4 2.3.5 4.8.4 6.5.5 7.9.4-6.3.4-5 .4-3.5.4-2.1.4-.7.4-1.8.5-1.6.4-1.2.5-1 .4-.7.5-.5.4-.1.5.1.4.1.5.1.4.2.5.2.4.1.4.2.5.2.4.3.4.3.4.4.4.4.4.4.5.5.4.5.4.6.5-.6.4-.4.5-.3.4-.2.5-.1.4 1.2.5 2.4.4 3.3.4 4 .5 4.7.4 5.2.5 5.9.4 6.3.4-8.2.4-7.2.4-6.5.4-5.6.5-4.7.4-3.8.4-3 .4-2.2.4-1.3.4-.4.4.1.4.2.4.4.5.3.4.5.4.5.4.6.4.6.4.6.5.7.4.8.4.8.4.8.4.2.5.3.4.4.5.5.4.6.5.7.4.8.4-.2.4-.1.5-.2.4-.1.4-.1.4-.1.4 0 .5-.1.4 0 .4 0 .4.1.5.1.4.1.4.2.4.2.5.2.4.3.4.7.5 1.3.4 1.8.4 2.2.5 2.6.4 2.9.5-4.7.4-3.8.5-3 .5-2.1.4-1.3.5-.4.4.1.4.2.5.2.4.3.4.4.4.4.5.4.4.5.4.5.4 1.9.4 3.9.4 5.4.4 6.5.4-5.5.5-4.6.4-3.8.4-3 .4-2.1.5-1.3.4-.4.4.1.4.2.5.4.4.3.4.5.4.5.5.5.4.6.4.7.4.1.5.3.4.4.4.4.4.5.5.6.4.7.4.7.4.7.5.8.4.9.5-2 .4-1.6.4-1.2.5-.9.5-.5.4-.2.4 0 .4 0 .5.1.4 0 .4.1.4.1.4 0 .5.1.4.1.4.1.4.3.5.5.4.7.4.9.4 1 .5 1.1.4 1.3.5 2.2.4 4.4.5 5.9.4 7.4.5 8.5.4-9.5.5-8.5.4-7.3.4-6.2.5-5 .4-3.9.4-2.9.5-1.6.4-.6.4.1.4.3.4.4.4.5.4.6.4.6.5.7.4.8.4.8.4.9.4 1 .4 1 .4 1 .6 5.6.5 11.3.5-5.2.4-4.2.5-3.3.4-2.3.4-1.4.5-.5.4.1.4.1.4.2.4.2.4.3.4.3.4.3.4.3.5.4.4.4.4.4.4.5.4.5.4.5.4.5.4.5.4.6.4-.3.5-.2.4-.2.5-.1.4-.1.5-.1.4 0 .5.2.4.3.5.4.4.6.5.6.4-.9.5-.8.4-.6.5-.5.4-.3.5-.2.4-.1.5.3.5.5.5.8.4 2.5.4 5.1.4 6.9.4 8.5.4 9.9.4-8.4.4-7.6.4-6.6.4-5.8.4-4.9.5-4 .4-3.1.4-2.2.4-1.4.4-.4.4.3.5.6.4.9.5 1 .4 1.2.5 1.4.4 1.5.5 4.5.5 9.1.5 12.4.4-6.4.5-5.7.4-4.9.4-4.2.5-3.4.4-2.6.4-1.9.5-1.1.4-.4.4.2.4.3.5.5.4.5.4.7.4.7.4.8.4.9.5.9.4 1 .4 1.1.5 5.4.5 11 .5 15 .4-8.5.4-7.5.5-6.6.4-5.5.4-4.5.4-3.5.5-2.5.4-1.5.4-.5.4.2.4.3.5.5.4.5.4.7.4.7.4.8.4.9.5 1 .4 1 .4 1.1" stroke="#e8323b" stroke-width="0.75" fill="none" stroke-linejoin="round"/>
<path d="M494.7 57.3L496.6 53.8L498.5 57.3Z" fill="#000"/>
<text x="487.5" y="64.5" font-size="6.6" fill="#231f20">SWR<tspan font-size="4.2" dy="1.5">p</tspan></text>
<path d="M488 97.2V120.1H518.3" stroke="#231f20" stroke-width="0.7" fill="none"/>
<text x="494.3" y="108.7" font-size="6.3" text-anchor="middle" transform="rotate(-90 494.3 108.7)">400 µV</text>
<text x="502" y="127" font-size="6.3" text-anchor="middle">5 s</text>
<path d="M487.3 147.9l2-1.2 1.9-1.8 2-.9 1.9-.3 2 .9 1.9 1.1 2 0 2-.9 1.9-2.4 2 .6 1.9 3.4 2 1.4 1.9 1.1 2-1.1 1.9-1.6 2 1.7 2 .2 1.9-.9 2-.8 1.9.5 2 .6 1.9.8 2 .2 2 .5 1.9-1.4 2 .5 1.9.1 2-1.4 1.9.1 2 2.2 2 .1 1.9-.6 2 .1 1.9-.6 2 .3 1.9-.2 2 .8 1.9.7 2-.6 2 .1 1.9-1.3 2-.2 1.9-.4 2 1 1.9.6 2-.2 2 .5 1.9 1.7 2-.3 1.9-1.9 2 .4 1.9-1.9 2 .1 2 .9 1.9.1 2-1.1 1.9.1 2 .5 1.9-.6 2 .2 2 1.4 1.9.4 2-1 1.9-.4 2-.3 1.9-.5 2-.5 1.9-.1 2 1.2 2-.2 1.9-.4 2 .3 1.9.6 2 .2 1.9-1.7 2-.8 2 0 1.9-.4 2 1.5 1.9.1 2-.9 1.9-.9 2 .4 2 .2 1.9-1 2-1.7 1.9-1 2 1.7 1.9-.5 2-.3 1.9 1.5 2-.4 2-1.3 1.9.9 2 1 1.9.4 2-1.7 1.9.9 2 1.7M487.3 156l2 2.8 1.9-.8 2 .9 1.9-.6 2-3.1 1.9-4.1 2-4.1 2 .8 1.9-.3 2-.6 1.9 2.4 2-4.3 1.9.5 2 4.2 1.9 3.3 2 2.6 2-1.4 1.9-5.2 2-.8 1.9 4.5 2-7.6 1.9 2.1 2 2.7 2 1.8 1.9 1 2-4 1.9 5.3 2-.3 1.9 4.6 2 2.6 2 1.5 1.9 1.1 2-1.9 1.9-1 2 3.8 1.9-2 2 .3 1.9-1.1 2-.3 2-6.5 1.9.2 2 .1 1.9-1.9 2-2 1.9.7 2 .2 2 0 1.9 1.5 2 8.1 1.9-3.7 2 3.3 1.9-2.2 2-2 2-.4 1.9.3 2 1.4 1.9 3.7 2-12.9 1.9.2 2-1.7 2-1.5 1.9-6.7 2 2.3 1.9.6 2-.2 1.9 4.4 2 8.7 1.9 2.5 2-2.7 2-.9 1.9-4.3 2-4 1.9 1.2 2 4.8 1.9-1.6 2-.6 2 1.1 1.9 1.5 2 3 1.9-3 2 .8 1.9 5.1 2 5.1 2 6 1.9-1 2-3.6 1.9-5.1 2-.1 1.9-4 2-.9 1.9.9 2 6.8 2-12.9 1.9-1.8 2 .3 1.9-.8 2-2.5 1.9-1 2-1.5M487.3 154.1l2 .5 1.9 1 2-3.1 1.9-1.3 2 .8 1.9.2 2 .7 2 .5 1.9-1 2-.7 1.9.5 2 0 1.9-.8 2-.3 1.9.8 2-.8 2-.7 1.9 1 2-.8 1.9-.1 2 .4 1.9-1 2-.5 2-1 1.9-.4 2 2 1.9 1 2-1.4 1.9 1.2 2 .8 2-.4 1.9-2.2 2 .6 1.9 2.2 2-.5 1.9.2 2 1.2 1.9.3 2-.6 2 .8 1.9 1.4 2 0 1.9-.1 2 1.8 1.9 0 2-1.4 2-.2 1.9.1 2-2.3 1.9.9 2-.1 1.9-.1 2 1.1 2 .6 1.9 1.1 2-2.6 1.9-1.6 2-1.3 1.9.9 2-.8 2 .3 1.9 1.1 2-.2 1.9-.6 2-.2 1.9-1.8 2-1.3 1.9.1 2 2.6 2 1.6 1.9-1.6 2-.3 1.9.2 2 .2 1.9-.9 2 2.4 2 .8 1.9-1.6 2-.6 1.9.7 2 2.1 1.9.7 2-2.4 2-.9 1.9 1.5 2 .7 1.9-.2 2-1.1 1.9.6 2-.5 1.9-2.7 2 .3 2 1 1.9-.4 2-2.2 1.9-1.9 2 .2 1.9-.1 2 1.2M487.3 145l2 .2 1.9-.6 2 .1 1.9-.3 2 .9 1.9-1 2 0 2-.8 1.9-1 2 1.4 1.9-.1 2 0 1.9-2.3 2-.7 1.9.4 2 1.1 2 2.1 1.9 1.1 2-.2 1.9.7 2 .8 1.9 1.8 2 .6 2 0 1.9.7 2 1 1.9-1.5 2-2.2 1.9.5 2 .8 2 1 1.9.1 2-.7 1.9-1.4 2 1.6 1.9-.3 2 .4 1.9-.8 2-1.6 2-.1 1.9 1.6 2 .3 1.9-2.1 2-1.4 1.9-.7 2 .8 2 .8 1.9.8 2 .6 1.9-1.1 2-.9 1.9.5 2 .5 2 .3 1.9-.1 2 0 1.9.3 2-.8 1.9-.6 2 1.5 2 1.7 1.9-.6 2 1.6 1.9-1.3 2-.5 1.9-1.3 2 1.3 1.9 1.2 2-2 2-.3 1.9 1 2-.5 1.9-2 2-.1 1.9 1.4 2 .6 2 0 1.9-.6 2 .6 1.9 0 2-1.6 1.9 1.3 2 .7 2-.2 1.9-1.5 2-.3 1.9 0 2-.1 1.9.9 2-.8 1.9-1.2 2 .2 2-1.2 1.9-.9 2 .7 1.9 1.3 2 .5 1.9.1 2 1.2M487.3 145.9l2 1.1 1.9.9 2 .5 1.9-.6 2-.1 1.9-.4 2 .6 2 1.3 1.9.4 2-.3 1.9-.1 2 .2 1.9-1.5 2 .1 1.9 1.2 2 .3 2-2.2 1.9-.9 2 .5 1.9 1.8 2 .9 1.9.9 2-.4 2-3 1.9-.4 2-.3 1.9-.2 2 .9 1.9.2 2 .5 2-.5 1.9-.3 2 1.8 1.9.4 2-1.6 1.9-2.2 2-.5 1.9 1.4 2 2.2 2 .6 1.9-.6 2-1.3 1.9-1.7 2 1.6 1.9.1 2-.2 2-.9 1.9-.2 2 2.4 1.9.2 2-1.6 1.9-.6 2 1.4 2 1.9 1.9.2 2-.2 1.9.5 2-.8 1.9-.9 2 .8 2-.6 1.9-.5 2 1.2 1.9-1 2-1.7 1.9 1 2-.3 1.9-1.1 2-.8 2-1 1.9-.2 2 1.6 1.9.5 2-.5 1.9.2 2-.3 2 .3 1.9 1.1 2 .9 1.9.5 2-1.1 1.9.3 2 .2 2 .8 1.9 1.1 2-.7 1.9-1.2 2-.1 1.9.2 2 .2 1.9-.3 2 .1 2 .4 1.9.1 2-.8 1.9.4 2 .5 1.9.6 2-.3M487.3 170.5l2 3.2 1.9 8.4 2 .2 1.9 11.6 2-6.5 1.9-1.5 2-7.5 2-12.1 1.9-9.8 2-3.7 1.9 6.8 2 5.2 1.9-9.2 2 4.7 1.9 3.9 2-1.1 2-3.1 1.9 6.8 2 3.8 1.9.3 2 6.6 1.9.5 2-5 2-1.8 1.9-7.6 2 .4 1.9-5.6 2-.3 1.9-.5 2-3.8 2 5.1 1.9-2.7 2 8.2 1.9-1.6 2-1.5 1.9-2.9 2 4.5 1.9 9.9 2 .1 2 8.9 1.9-7.6 2-.6 1.9-4.7 2-6.9 1.9.4 2-6.9 2 .2 1.9 2.9 2-5.8 1.9 3.7 2-.4 1.9 1.4 2 4.8 2 7.6 1.9-3.7 2-.1 1.9 6.6 2 7.6 1.9-5.1 2 3 2-.5 1.9.1 2-2.4 1.9-5.2 2 2.1 1.9-3.7 2 3 1.9-9.4 2-4.8 2 1.2 1.9 0 2-1.2 1.9-.5 2-.5 1.9 5.7 2 7.3 2-2 1.9 3.7 2-10.3 1.9.1 2 0 1.9-1.8 2 2.8 2 5.9 1.9-8.7 2-1.6 1.9-4.4 2 7.3 1.9-1.1 2-4.2 1.9 5.1 2 11.9 2 1.4 1.9 2.4 2 5.1 1.9 7.9 2 .9 1.9.8 2 3.4M487.3 142.3l2 .9 1.9.8 2 1.9 1.9-1.3 2-1.6 1.9.2 2-.1 2 .3 1.9 1.1 2 .2 1.9-1.2 2-1.3 1.9.7 2 1.7 1.9-.1 2-.7 2-.1 1.9-1.9 2 .7 1.9 1.5 2 1 1.9.7 2-.4 2-.1 1.9-.3 2-.8 1.9 1.2 2 1.9 1.9-.3 2-1.1 2 .7 1.9 1.9 2 .6 1.9-.1 2-1.2 1.9-2.1 2-1.3 1.9-.8 2 2.2 2 1.1 1.9-.3 2-2.1 1.9.9 2-.6 1.9-.9 2-.6 2-1 1.9.4 2-.3 1.9.6 2 .7 1.9 0 2 .6 2-1.1 1.9-.4 2 .2 1.9.6 2 .4 1.9 0 2-1.6 2-.8 1.9 1.1 2 1.3 1.9-1.6 2-2.7 1.9.7 2 .3 1.9.5 2 1.1 2-.3 1.9-.6 2-.7 1.9 1.3 2 .7 1.9 1.7 2 1.1 2-.8 1.9.8 2 .7 1.9-1.2 2 .2 1.9.1 2 .9 2 .8 1.9.5 2 1.4 1.9-.5 2-.8 1.9.7 2 .1 1.9-2.3 2-.6 2 .7 1.9-.2 2-2.2 1.9 1.9 2 2.6 1.9-1.1 2 1.2M487.3 143.9l2 1.2 1.9.3 2 .7 1.9.6 2-1.2 1.9-.3 2 3.2 2-2.4 1.9.5 2 .8 1.9.6 2 3.1 1.9 1.1 2-1.4 1.9-3.3 2 1.6 2 1.3 1.9-1.8 2-1.3 1.9-.1 2 2.4 1.9.9 2-2.5 2 2 1.9-2.9 2-1.6 1.9 2.4 2 2.3 1.9-3 2 3.5 2 1.1 1.9-3 2 3.1 1.9-.3 2-1.3 1.9 3.4 2-2.3 1.9 2.5 2-2.2 2 5.6 1.9-4.3 2-2.9 1.9 1.4 2 4.1 1.9 2.7 2-.9 2-2.1 1.9 1.2 2-5.9 1.9 2 2-1.9 1.9 2.5 2 6.7 2 3.3 1.9 2.8 2 .2 1.9-1 2-2.1 1.9-2.3 2 1.2 2-.9 1.9-5.8 2-2.5 1.9-4.1 2 .3 1.9 2.2 2-2.5 1.9.4 2 .8 2-3.6 1.9 1.1 2 5.2 1.9 1.1 2-3.3 1.9.1 2-.3 2 .4 1.9.8 2 7.4 1.9-6.9 2 .9 1.9 2.1 2-3.2 2 .3 1.9 1.4 2-1.9 1.9-3.5 2 0 1.9 2.6 2 1.3 1.9-1.8 2 4.4 2 5.9 1.9 2.9 2 1 1.9-6.5 2-3.2 1.9-2.5 2-1.2M487.3 157.4l2-2.1 1.9-2.3 2-.5 1.9-.3 2 2 1.9 0 2-1.9 2 4.8 1.9-1.1 2-.3 1.9-.6 2 3.6 1.9-7.4 2-1.1 1.9-1.3 2-3 2 4.4 1.9-.3 2 .6 1.9 1.7 2 6.8 1.9.6 2 1.1 2 4.2 1.9-1 2 1.3 1.9.2 2-3.7 1.9-7.5 2 2 2-.9 1.9-3.7 2-.4 1.9-1.4 2-1.2 1.9-.9 2 .1 1.9 1.4 2 .6 2 1.7 1.9 2.6 2 .2 1.9 4.3 2-1.1 1.9-5.5 2-.4 2-.7 1.9.8 2 .6 1.9-2.4 2 4.2 1.9.7 2 .4 2 1.8 1.9-1.6 2-1.8 1.9 2.3 2-3.3 1.9 1.5 2-2.5 2-1.3 1.9.4 2 .9 1.9-5.7 2 .2 1.9 2.2 2 .1 1.9 1.8 2-1 2-1.1 1.9-.9 2 4.2 1.9.5 2-1.5 1.9 2.9 2-6.1 2-2 1.9.4 2-.4 1.9-3 2-1.4 1.9 2 2 2.4 2-1.2 1.9 1.2 2 2.6 1.9-1.1 2-1.6 1.9-1.5 2 .6 1.9.6 2-2.2 2-2.8 1.9 1.7 2 1 1.9 1.6 2-2.1 1.9 1.6 2-2.3M487.3 150.1l2-9.5 1.9.8 2-3.2 1.9 2.2 2-1.2 1.9 1.4 2 0 2-.9 1.9-.8 2 4.8 1.9-4.9 2 1.1 1.9 2.6 2 1.6 1.9-.1 2-2.9 2 .8 1.9.3 2 3.1 1.9.2 2-5.9 1.9 1.8 2 2.2 2-1.9 1.9 1.4 2 1.7 1.9-.1 2-.6 1.9 1.4 2 0 2 .2 1.9.3 2 3.3 1.9 5 2-1.5 1.9-.8 2 3 1.9 4.9 2-4.1 2-2.5 1.9-6.5 2 4.6 1.9-2 2 4.4 1.9-7.9 2 .5 2-1.2 1.9 4.3 2 3.4 1.9-.2 2-1.3 1.9-.9 2 10 2-4.6 1.9 4.5 2-5.2 1.9-.1 2-4.8 1.9-4 2-4 2 .9 1.9 3.3 2-3.2 1.9-2.4 2-.3 1.9 5.3 2-2.1 1.9 0 2 2.3 2-5.1 1.9 1.1 2-1.1 1.9 6.8 2-1.6 1.9-3.4 2-1.5 2-.4 1.9 7.3 2 8.4 1.9 4.7 2 .2 1.9-3.6 2-3.5 2-4.6 1.9-5.6 2 .6 1.9 5.4 2-1 1.9 1.1 2-.7 1.9-.9 2 4.1 2 3.5 1.9-1.5 2-2 1.9-9.9 2-.7 1.9-.8 2 3.3M487.3 140.2l2 0 1.9-.3 2-.3 1.9.4 2 .3 1.9.5 2 .5 2-1 1.9-3.1 2-1.7 1.9 1.8 2 1.7 1.9 1.1 2 .3 1.9-.3 2-1.2 2-.3 1.9 1.9 2 1.6 1.9-2.1 2-1.2 1.9 1.4 2 .1 2 .2 1.9.5 2-1.5 1.9-2 2 .8 1.9 1.4 2 .7 2-1 1.9.5 2 .8 1.9-.6 2-2.2 1.9-.3 2-.1 1.9.1 2 .9 2-.9 1.9.3 2-.6 1.9 1.2 2 1.4 1.9-.2 2-1.6 2-.2 1.9 1.2 2 .5 1.9-.7 2-.2 1.9-1.3 2 1.1 2 .5 1.9-1.2 2 1 1.9.7 2-1.5 1.9 0 2 .8 2 2.1 1.9-2.3 2-.4 1.9 2.4 2 .2 1.9-1.1 2 1.4 1.9.2 2-1.2 2 1.2 1.9.8 2-2.5 1.9-2.1 2 1.7 1.9 1.7 2-3.1 2 .8 1.9.6 2 1 1.9-.4 2-.2 1.9-.4 2 .7 2 2.1 1.9 1.3 2-.6 1.9-2 2-.4 1.9.7 2 0 1.9-1.1 2-.1 2 0 1.9-.2 2 0 1.9.4 2-1.3 1.9.1 2 1.6M487.3 147.6l2-4.9 1.9-2.4 2 3 1.9-1.1 2 1.5 1.9 1.6 2-2.5 2-1.1 1.9-.7 2 2.1 1.9-.5 2-.9 1.9.6 2-.4 1.9 2.4 2 3.4 2-4.7 1.9 5.7 2 1.6 1.9-4.4 2 2 1.9 3.5 2-3.3 2 2.5 1.9 3.1 2 10.8 1.9-4.6 2-.6 1.9-2 2 .7 2-2.1 1.9-.5 2-5.8 1.9 5.5 2 2.4 1.9.7 2 1.4 1.9 2.7 2-5.8 2-2.2 1.9-2.5 2-6.2 1.9-4.8 2 1.5 1.9 1.3 2-2.1 2-1.1 1.9.2 2 .2 1.9 2.8 2-1.5 1.9-2.1 2-.5 2-.5 1.9 2.5 2 .5 1.9-2.2 2 2.4 1.9.2 2 3.4 2 5 1.9 0 2 4.9 1.9-.9 2 3 1.9 1.3 2-11.1 1.9-4.6 2 2.1 2 0 1.9-1.5 2 2.5 1.9.8 2 7.7 1.9 4.4 2-2.5 2-1.3 1.9 2.2 2-6.6 1.9-1.8 2 2.7 1.9 2.7 2-4.2 2-2 1.9 2.4 2 6.7 1.9 9.7 2 6.9 1.9 2.7 2 4.4 1.9-.2 2-3.6 2-11.1 1.9-11.2 2-8.4 1.9-3.1 2-1.6 1.9 2.7 2-5.1M487.3 143.6l2-1.3 1.9-2.2 2-.1 1.9 3 2 4.2 1.9-2.9 2-.6 2 5.3 1.9 1.6 2 2.9 1.9-1.7 2 1.6 1.9-2.3 2 .5 1.9-2.7 2-1.9 2 3.6 1.9 1 2 .8 1.9-6.7 2-4.5 1.9 1.8 2-1 2 2 1.9 3 2 7.3 1.9-7 2-.4 1.9-4.2 2-1.3 2 4.5 1.9-.2 2 2.6 1.9-4.3 2-2.2 1.9 1.6 2 1.3 1.9-2.1 2 5.9 2-.8 1.9-3.7 2 .7 1.9 1.4 2 1.5 1.9 3.7 2-.4 2 .5 1.9.7 2 3.9 1.9 2.3 2 .8 1.9 5 2 .6 2-4.5 1.9 2.4 2-2.8 1.9.6 2-3.7 1.9-6.2 2-.2 2-2 1.9-2.1 2-1.4 1.9-2.6 2 0 1.9 4.9 2 2.3 1.9-.1 2 .1 2-1.3 1.9-5.3 2-4.5 1.9 2.6 2-.7 1.9.7 2-.3 2 0 1.9 3.5 2-.8 1.9 7.4 2 .1 1.9 1.7 2 2.2 2-4.1 1.9.6 2-4.8 1.9 2.2 2-1.7 1.9-2.3 2-1.4 1.9.3 2 3.5 2-2 1.9-1.7 2 .8 1.9.7 2-1.1 1.9 2.8 2-1.4M487.3 148.9l2 .9 1.9-1.8 2-.1 1.9.8 2 1.9 1.9-.4 2-.8 2-2.1 1.9-1.9 2 .2 1.9-.5 2 .9 1.9-.3 2-.7 1.9 1.3 2 .1 2-1.1 1.9-.4 2-.2 1.9.9 2-1 1.9.5 2 1.9 2-.8 1.9-1.3 2-1.7 1.9 1.4 2-1.1 1.9 0 2 2.7 2-.6 1.9-.4 2-.5 1.9.4 2-.2 1.9 1.3 2 .8 1.9-1.9 2 1.1 2-.6 1.9 0 2-2 1.9-1.6 2 .5 1.9-.6 2-1.8 2-.1 1.9-.7 2 2.5 1.9-1 2 1.5 1.9.7 2-1.7 2-.6 1.9.1 2 2.2 1.9 1.7 2 .9 1.9.5 2-1.3 2-2 1.9-.5 2 .7 1.9 1.4 2 2 1.9 2.2 2 0 1.9-3.6 2 1.1 2 .4 1.9.3 2 .5 1.9-1.5 2-.4 1.9-2 2 .3 2 1.5 1.9 1.3 2-1.5 1.9-2.2 2-.3 1.9-1.4 2-.9 2-.5 1.9 2.3 2-.4 1.9 0 2-.4 1.9 1.1 2-.5 1.9-.5 2-.7 2-.3 1.9.4 2 .9 1.9 2.3 2 .4 1.9-2.5 2-1.2M487.3 146.9l2 1.2 1.9-1.4 2-1.3 1.9.5 2-.5 1.9.1 2 2.2 2 .5 1.9-.3 2-1.6 1.9.2 2 .2 1.9-1.1 2 .5 1.9 1 2 .3 2 .8 1.9-.2 2-1 1.9.3 2 .5 1.9.1 2 .4 2-.6 1.9-2.4 2-.7 1.9.6 2 2.6 1.9.7 2 1.4 2-.6 1.9-.9 2 .6 1.9-1.2 2-.5 1.9 0 2 1 1.9-.4 2 2.5 2 1.4 1.9-.3 2-1.8 1.9-.4 2-.5 1.9.5 2-1.3 2-.2 1.9-.4 2 1.2 1.9-.6 2-.2 1.9.5 2-.2 2-.8 1.9-.1 2 2.1 1.9-.1 2-.5 1.9-.4 2-.2 2-.2 1.9.1 2 .1 1.9-1.6 2-.8 1.9 0 2 2.6 1.9-.6 2-.4 2 .4 1.9-.1 2 .8 1.9.4 2-.8 1.9-.6 2 1.2 2 1.1 1.9 0 2-1.9 1.9-1.4 2 1.5 1.9 1.5 2-.5 2 .3 1.9-.1 2 0 1.9 2.4 2 .8 1.9-2 2-.2 1.9 1 2 .4 2-.8 1.9-.4 2 2.1 1.9-.6 2 .3 1.9 1.4 2-1M487.3 167.4l2-12.8 1.9-1 2 7.2 1.9-10.7 2 2.2 1.9-.1 2 1.7 2-.3 1.9-3.4 2 11.7 1.9 1.4 2 2.4 1.9-2.6 2 4.4 1.9-7.3 2-9.3 2 6 1.9-5.8 2 9.2 1.9 9.2 2 13.1 1.9 4.4 2 6 2 5.2 1.9.6 2 1.9 1.9-2.9 2-1.2 1.9-2.7 2-11.3 2-12.6 1.9-4.6 2-.2 1.9-1.2 2 16.5 1.9-7.8 2-.3 1.9-2.2 2 4.8 2-4.7 1.9 8.7 2-11 1.9-1.8 2 2.1 1.9-.5 2 .7 2-3.1 1.9.8 2 5.6 1.9 4.1 2-6.3 1.9 4.7 2 12.7 2 3 1.9 4.7 2-4.8 1.9 4 2 2.1 1.9-4.1 2-3.7 2-9.2 1.9-10.3 2-12.1 1.9-1.5 2 2.9 1.9-1.9 2 2.7 1.9-8.4 2-4 2 6 1.9-2.8 2 5.9 1.9-3.4 2-4.3 1.9 11.6 2 3.2 2-5.1 1.9 5.6 2-7.1 1.9-6.9 2 2.1 1.9 2.6 2 4.4 2 3.1 1.9 5.1 2 7.9 1.9.6 2 8.3 1.9-11.2 2-6 1.9-7.9 2-4.3 2-4.4 1.9 13.4 2 13.8 1.9-6.5 2 7.7 1.9 5.6 2 1.1M487.3 149.5l2-2 1.9 1 2 2.2 1.9.5 2-.4 1.9-1 2 .9 2 .7 1.9-3.7 2-1.8 1.9 1.7 2 1.7 1.9.6 2-1.7 1.9-.8 2 1 2 1.1 1.9 0 2 .5 1.9.7 2-1.4 1.9 0 2 1.5 2 1.7 1.9 1.1 2-.6 1.9 1 2 1.6 1.9-.5 2-1.9 2-.6 1.9-1.8 2 .9 1.9 1.7 2 .7 1.9-.8 2 .3 1.9-.9 2-.7 2-1.1 1.9-1.8 2 1.4 1.9.1 2 .4 1.9-.1 2-1.1 2 0 1.9.8 2-.1 1.9.7 2 .2 1.9-.8 2-.3 2 0 1.9.7 2-.3 1.9.2 2-1.1 1.9.4 2-.7 2-1.6 1.9 2 2 2.7 1.9-1.2 2-1.2 1.9.1 2-.8 1.9.8 2 2 2-.2 1.9-1.1 2-.3 1.9.2 2 1.1 1.9.2 2-1.6 2-1.3 1.9-.8 2 .6 1.9 1.9 2-1.3 1.9-1.3 2 3.1 2 .9 1.9-.4 2 1.3 1.9-1 2-2.1 1.9.2 2 .5 1.9-.1 2-2 2-1.6 1.9 1.5 2 .2 1.9-3 2-.8 1.9-.8 2 .9M487.3 166.1l2 2.4 1.9 4.2 2-3.6 1.9-2.8 2 4.7 1.9 2.3 2 8.1 2 1.8 1.9-5 2-2.5 1.9-1.6 2-4.4 1.9 0 2-4.1 1.9 2.5 2-.5 2 .1 1.9.6 2-4.4 1.9-2.4 2-4 1.9-3.1 2 .4 2-3.6 1.9 1.1 2 1.9 1.9.3 2-.6 1.9 3.4 2-4.5 2 3 1.9-1 2-4.8 1.9 0 2 1.8 1.9-.5 2 5.9 1.9 4.9 2 .3 2 6.8 1.9-1.8 2-2.3 1.9-1.8 2-3.7 1.9-1.4 2-7.7 2-2.2 1.9 2 2 2.7 1.9-.3 2-.9 1.9 3.8 2-.8 2-.8 1.9-1.4 2 3.7 1.9.5 2 .2 1.9 6.5 2 4.3 2 .7 1.9-1.8 2 1.5 1.9-3.8 2 1.6 1.9-7.8 2-3.5 1.9 1.7 2 3.5 2 3.6 1.9-1.1 2 1.6 1.9-2.3 2-4.9 1.9-4.2 2-1 2 3.5 1.9-2.7 2-.2 1.9 1.9 2-2.2 1.9.1 2-2.9 2-.2 1.9.4 2 2.3 1.9-1.9 2-1.5 1.9-1.2 2-.3 1.9 2.1 2-1.5 2-2.4 1.9-2.2 2 1.3 1.9-.2 2 1.4 1.9-1.8 2 4.4M487.3 149.2l2-3.1 1.9 1.5 2 .5 1.9 4.2 2-2.5 1.9-1.3 2 4.8 2 1 1.9 2.1 2 .8 1.9-.3 2 1.2 1.9 1.4 2 .3 1.9-.1 2-2.6 2-2.6 1.9-3.8 2 2.4 1.9-4.2 2 1.2 1.9-2.6 2 4.7 2-1.4 1.9-2.8 2 0 1.9-.1 2-.4 1.9 3.3 2-1 2-2.1 1.9.1 2 1.2 1.9 4.4 2-1.2 1.9-2.4 2 3.7 1.9-6.8 2 1.8 2 2 1.9-2.3 2 0 1.9-.8 2 2.5 1.9-1 2 .5 2 2.2 1.9 1.3 2 2.5 1.9-3.1 2 1.2 1.9.9 2-4.6 2-1.4 1.9 1.4 2-2.5 1.9 1.6 2 1.5 1.9-1.2 2-.5 2 3.4 1.9-3.2 2-1.8 1.9 4.2 2 1.9 1.9-.3 2-3.1 1.9-2.6 2 1 2 3.3 1.9-.5 2 1.9 1.9-.9 2-1.7 1.9-2.6 2 0 2 2 1.9-4.1 2 1.2 1.9-2.7 2 2.3 1.9 2.4 2 .1 2-.5 1.9.5 2-4.5 1.9 3.9 2-1.3 1.9-2.8 2-.9 1.9-.5 2-.4 2 1 1.9-1.7 2 1.3 1.9.4 2 2.8 1.9 2.4 2 1M487.3 154.3l2-.9 1.9-1.9 2 .1 1.9.4 2-.3 1.9.8 2 .2 2-.9 1.9.6 2 1.4 1.9-2.1 2-.9 1.9-.1 2 1 1.9-.8 2-.4 2 1 1.9-.4 2-.1 1.9 1.5 2-.4 1.9-2.3 2-1.3 2 .6 1.9-.1 2-2.5 1.9-1.4 2-1.3 1.9-1 2-.6 2 0 1.9-.5 2 .4 1.9-.3 2 .8 1.9-.2 2 .1 1.9.6 2 2.6 2 2.9 1.9.6 2-1.2 1.9-1.1 2-.2 1.9 1.5 2-.6 2 1.6 1.9-.5 2-.9 1.9-.2 2-1 1.9-2.9 2 1.9 2 2.6 1.9-.8 2-1 1.9-.8 2 1.6 1.9 1 2-1.1 2-.5 1.9.8 2 .6 1.9 1 2-.1 1.9 1.7 2 2 1.9-.7 2-1.9 2-1.3 1.9-.7 2-.4 1.9.4 2-1.7 1.9-1 2 2.1 2-1.3 1.9-1.1 2 1.1 1.9.9 2 .4 1.9-.3 2 .8 2 .3 1.9.2 2 .3 1.9.4 2-.5 1.9-1.8 2-.4 1.9.9 2 1.6 2-.4 1.9-.8 2 1.5 1.9 1.1 2-1.5 1.9-1 2 1M487.3 143.2l2-.4 1.9 0 2 .7 1.9-.1 2-1 1.9-.3 2 .6 2 .5 1.9-.8 2 .1 1.9-.9 2 2.1 1.9 1.4 2-1.4 1.9-.5 2 .3 2-.5 1.9-.2 2-1.2 1.9 1.4 2-.5 1.9-.4 2 1.6 2-1.2 1.9-.6 2 2.8 1.9.8 2 .4 1.9-1.7 2-1 2-1.2 1.9.1 2-.2 1.9 1.3 2 1.1 1.9-1.5 2-.9 1.9.8 2 .4 2-.2 1.9.8 2 .5 1.9-1 2-.2 1.9.5 2-1.2 2-1 1.9.8 2 2.7 1.9.6 2 1.7 1.9-.9 2-.7 2 1.1 1.9-.8 2-1.9 1.9 0 2-.2 1.9-1.4 2 .2 2 .4 1.9-1 2-.4 1.9.9 2 1.8 1.9-.1 2-.2 1.9.9 2 .6 2 .8 1.9.6 2 .2 1.9.1 2 1.7 1.9.9 2-1.5 2 0 1.9-.5 2-.4 1.9.2 2 1.1 1.9.5 2-.9 2-.3 1.9 0 2-.5 1.9.8 2-1.2 1.9.1 2 2.5 1.9.2 2-.2 2 .5 1.9-.5 2-.5 1.9-2.8 2-.2 1.9.5 2-1.3M487.3 157.4l2 4.2 1.9-6.7 2 2.2 1.9-2.1 2-1 1.9 1.1 2 .6 2 .4 1.9-1.1 2 .6 1.9-1.9 2 .6 1.9.3 2-1.4 1.9 3.9 2 1.2 2 1.7 1.9.1 2 5.1 1.9 3.5 2 2.3 1.9 0 2 .2 2-2.2 1.9 1.4 2-2.7 1.9-1.5 2 1 1.9 3.2 2 2.1 2-3.4 1.9-3 2 .2 1.9 1.5 2-3.1 1.9-3.6 2-2.3 1.9.4 2-1.3 2-.2 1.9 4.8 2-1 1.9 2.6 2-.1 1.9 1 2 1.3 2 4.8 1.9 2.5 2-5.3 1.9-7 2 2.3 1.9-.5 2-3.2 2 2.8 1.9 3.3 2 4.7 1.9 1 2-5.8 1.9-2.6 2-3.8 2-6.7 1.9 1.3 2 .7 1.9-2 2-.5 1.9.8 2 6.2 1.9 4.2 2-1.1 2-1.2 1.9.3 2-3.6 1.9.6 2-3.7 1.9-1.7 2-.3 2 3.5 1.9 4.7 2 1.2 1.9-1.8 2-5.4 1.9.3 2-3.7 2 2.4 1.9-1.3 2-1 1.9-.1 2 .3 1.9 1.3 2-1 1.9-.7 2 1.7 2-3.2 1.9 3.1 2 2.1 1.9.2 2-.3 1.9-4.8 2 4.3M487.3 139.6l2-.2 1.9-1.5 2 2 1.9-.2 2 .4 1.9-.2 2 .1 2 .5 1.9.6 2 .9 1.9-.1 2-.4 1.9 1.4 2 .9 1.9-.3 2 0 2-.7 1.9 1.4 2-.7 1.9-.9 2-.4 1.9 1.3 2-.3 2 .1 1.9-1.6 2-.2 1.9-.9 2 0 1.9.5 2 0 2-1.1 1.9-.7 2 1 1.9.7 2 2.1 1.9 0 2-.2 1.9-.6 2 .8 2 1.6 1.9-1.8 2-1.6 1.9-.4 2 2.4 1.9.6 2-1.3 2 0 1.9-.8 2-1.5 1.9 1.2 2-.4 1.9.4 2-.5 2-.8 1.9 1 2-1.9 1.9-.9 2 1.8 1.9-1.2 2-1.9 2-.2 1.9 2.1 2-.4 1.9.2 2 1.2 1.9.1 2-3 1.9.6 2 1.3 2 .3 1.9.4 2 1.2 1.9-.3 2 .7 1.9 0 2-.7 2 1.6 1.9 0 2-.1 1.9-.8 2-1.5 1.9 1.2 2 1.9 2-1.4 1.9-2 2-.9 1.9 1.5 2 .3 1.9-.3 2 0 1.9-1.6 2-.9 2 1 1.9 1.5 2 .8 1.9-1.8 2 1.4 1.9 2.8 2-.6M487.3 140l2 1.5 1.9-.2 2 .6 1.9 1.8 2-.9 1.9-1.1 2-.3 2-.6 1.9-.2 2 .9 1.9.1 2-1.3 1.9-2.4 2 1.4 1.9.6 2-1.7 2 2 1.9.3 2-.4 1.9.1 2 0 1.9.8 2-.4 2 .1 1.9-1.8 2-2.3 1.9 1 2 .7 1.9-.7 2-.3 2 .4 1.9 2.9 2 .9 1.9-.8 2-1.8 1.9-.6 2 1.6 1.9 4.2 2 .8 2-.4 1.9-.9 2 .7 1.9-.4 2-.8 1.9-.2 2 1.1 2 2 1.9.8 2-1.7 1.9 0 2-.4 1.9-.7 2 2.2 2 .9 1.9-3.2 2-.8 1.9.5 2-2.1 1.9.5 2 .4 2-.5 1.9-1.1 2 1.1 1.9.5 2-.9 1.9-1.7 2-.6 1.9 1.2 2 .8 2-.8 1.9 1.8 2 1.1 1.9.5 2-1.5 1.9-1.8 2 0 2-.3 1.9 2.7 2 .9 1.9.7 2-1 1.9-2.7 2-.1 2 .5 1.9-1.9 2-.5 1.9-.5 2 .4 1.9-.5 2 .5 1.9.1 2-1.1 2-.6 1.9-.5 2 .2 1.9.4 2 .1 1.9-.7 2 .3M487.3 150.8l2-4 1.9-2.1 2-2 1.9-.2 2-.7 1.9-.4 2 .8 2-.8 1.9 1.2 2 6.3 1.9-5 2-3.6 1.9-.2 2 1.6 1.9.4 2 1.8 2-2.7 1.9 1.9 2-.8 1.9 1.8 2 6.5 1.9 3.7 2-4.1 2-.2 1.9-.6 2 2 1.9.2 2-3.3 1.9.2 2-.1 2 1.4 1.9-.3 2-1.3 1.9-1.9 2 .5 1.9-.7 2 1.9 1.9-1.7 2 .3 2 2.9 1.9-1.9 2 1.2 1.9-3.1 2 .3 1.9-.8 2 1.6 2-1.3 1.9 2.9 2-2.3 1.9 2.5 2-1.8 1.9-2.3 2 2.9 2-1.7 1.9-.6 2 1.2 1.9-1.2 2-2.8 1.9-.8 2-.3 2-.5 1.9.1 2 2.3 1.9 2 2-3.6 1.9-4.4 2 2.3 1.9 5.8 2-.4 2-1.8 1.9.5 2-1.3 1.9 4.1 2-.2 1.9-1.1 2 2.9 2 1.2 1.9 1.1 2-6.5 1.9.6 2 1.4 1.9-1.3 2-2 2-3.4 1.9.7 2 2 1.9-.1 2 4.1 1.9 1 2-.7 1.9-2.6 2-2.7 2 .4 1.9 3.1 2-.4 1.9-2.2 2 4.3 1.9 5.5 2 3.8M487.3 142.8l2 .3 1.9 1.2 2-2.1 1.9-.2 2 2.8 1.9-.2 2-.4 2 .9 1.9.5 2 .2 1.9-.5 2-1.1 1.9-.2 2 2.1 1.9-.7 2 1.2 2 .3 1.9-1.8 2 2 1.9 1.3 2-1.3 1.9.6 2-.2 2-1.3 1.9.9 2-1.1 1.9-.4 2 2.1 1.9-1.2 2-1.2 2 .2 1.9.6 2 1 1.9 0 2-.7 1.9-1.5 2 .4 1.9.5 2 2 2-1.1 1.9-1.9 2 .1 1.9 0 2-.8 1.9.1 2 1.1 2 .9 1.9-1 2 2 1.9 2.2 2 .2 1.9-.6 2 .6 2-.3 1.9-.7 2 .6 1.9-.6 2-1.1 1.9.6 2-1.3 2-.7 1.9-.7 2-1.3 1.9.9 2 1.5 1.9.6 2-2.1 1.9-.3 2 1.1 2 1.2 1.9-2.1 2-.4 1.9-.1 2-.2 1.9-.3 2 1 2 1 1.9-1.5 2-.6 1.9 1 2 1.8 1.9-.7 2-.6 2-.2 1.9-.1 2 2.3 1.9-1.2 2-1.9 1.9-.3 2 2.2 1.9.4 2-2 2-.4 1.9 1.4 2 .4 1.9-1.4 2 .7 1.9 1.9 2 .3M487.3 138.4l2-.1 1.9 1 2 .7 1.9-.7 2 1.4 1.9-1.6 2-.3 2-1 1.9.2 2 .9 1.9 1.2 2 .9 1.9-.1 2-.1 1.9-.9 2 0 2-.1 1.9-1.3 2-1 1.9 0 2-.1 1.9-.1 2 .4 2 0 1.9-.2 2-.2 1.9-.1 2 .1 1.9 1.3 2 .8 2-1.2 1.9 0 2 2 1.9.5 2-3.1 1.9.8 2 3.4 1.9 1.5 2 .6 2 1.6 1.9 1 2-1 1.9-1 2-.2 1.9 1.4 2 .6 2 .3 1.9-1.5 2-.8 1.9 1.2 2 .8 1.9-.7 2-1.7 2 .5 1.9 1.1 2 .1 1.9-.7 2-1 1.9.1 2 .5 2-.5 1.9-.6 2-.3 1.9-.7 2-1.1 1.9 1.8 2-.2 1.9-1.2 2-.9 2 .9 1.9-.4 2-.2 1.9 3.3 2-1.2 1.9.6 2-.9 2-.3 1.9.7 2-.2 1.9.3 2-.9 1.9-.3 2 1.1 2-.7 1.9-2.2 2-.2 1.9 1.3 2 1.2 1.9 1.1 2 .5 1.9-2.2 2-1.3 2 .4 1.9-1.3 2 .2 1.9 1.1 2-.2 1.9.3 2 1.2M487.3 149.9l2-3 1.9.8 2 1.7 1.9.3 2 2 1.9 1.1 2-2 2-1.4 1.9 1.5 2-.2 1.9-1.7 2-.2 1.9 1.6 2-1 1.9-3.5 2 .6 2 1.8 1.9-1.4 2 1 1.9 1.2 2-.9 1.9 0 2-.8 2-.8 1.9.4 2 1.1 1.9-.5 2 0 1.9 1 2-1.7 2-.3 1.9.6 2 .1 1.9-.9 2-1.3 1.9 2.3 2 .2 1.9-1.3 2 .7 2-.1 1.9.4 2 2.7 1.9 1.2 2-2.3 1.9-1.1 2 .1 2-.2 1.9 1.9 2-.5 1.9.5 2 0 1.9-.3 2-.2 2-.4 1.9.3 2-.6 1.9-1.6 2-.5 1.9-.7 2-.4 2 .2 1.9.2 2 .8 1.9.8 2 1.1 1.9 0 2-.6 1.9-1.6 2 1.2 2 1.5 1.9-.2 2-1.3 1.9-.1 2-1.8 1.9 0 2 1.2 2 1.7 1.9.9 2 1.9 1.9-.6 2-.8 1.9-.4 2-.9 2-.9 1.9 2.7 2 1.3 1.9-1.4 2-.7 1.9-.2 2-.6 1.9 1.4 2-2 2 .3 1.9.7 2 .6 1.9.7 2 1 1.9.3 2 1.8M487.3 144.4l2-.4 1.9-1.5 2 2 1.9 1.3 2-1.1 1.9-.7 2-1.6 2-.3 1.9-1.1 2 1.9 1.9 1.5 2-2.5 1.9 2.4 2 2.9 1.9.2 2-1.7 2-.6 1.9.8 2 .7 1.9.9 2-.9 1.9-1.3 2 .7 2 .4 1.9 0 2-.9 1.9.5 2 .5 1.9-.1 2 .5 2 .2 1.9.3 2 .9 1.9-.5 2-1.2 1.9-1.1 2-1.1 1.9-.6 2-.7 2-.7 1.9 1 2 1.4 1.9-1.5 2-1.6 1.9.6 2 .5 2-.1 1.9.5 2 .6 1.9-.6 2 .3 1.9.8 2 .4 2-.5 1.9.7 2 2 1.9-.9 2-1.1 1.9 1.8 2 .8 2-2 1.9-.3 2 .2 1.9.7 2-1.9 1.9.5 2 .3 1.9-.8 2-.4 2 .7 1.9-.6 2-.4 1.9.9 2-.6 1.9-.4 2 .7 2-.8 1.9-1.8 2 0 1.9 1 2 .2 1.9-2.8 2-.4 2-.8 1.9-.7 2 .6 1.9.2 2 .1 1.9.5 2-.6 1.9.5 2-.7 2 1.2 1.9 1.5 2-.8 1.9-1.3 2-.2 1.9.7 2 .8M487.3 146.3l2-.4 1.9 1.7 2 .6 1.9-1.3 2-.6 1.9-1.5 2 1 2 1.1 1.9.3 2 1.7 1.9-1.1 2-.9 1.9 1.2 2-.5 1.9.7 2-.8 2 .1 1.9-.3 2-.2 1.9.8 2-1.4 1.9-2.4 2 1.4 2 2 1.9-1 2-1.3 1.9 1.1 2-.1 1.9-1.1 2 .9 2 2 1.9.9 2 .4 1.9-.6 2 1.9 1.9 1.6 2-1 1.9-.8 2-.1 2-2.5 1.9-2.3 2 0 1.9-.9 2 2.2 1.9.4 2-2.1 2-1.1 1.9.7 2 .1 1.9-.3 2-.7 1.9-.7 2 .1 2 .4 1.9 1.6 2 .9 1.9-1.4 2 .7 1.9-.2 2 .9 2 .8 1.9-.9 2 1.5 1.9 2.2 2-1 1.9-1.3 2 2 1.9-.3 2-1 2 .4 1.9 1.3 2 1 1.9-1.1 2-.7 1.9-.2 2-1.8 2 .4 1.9.4 2-1.3 1.9 1 2 .3 1.9-1.1 2-.3 2 1 1.9-1.1 2-1.2 1.9-.7 2 .2 1.9.6 2-.6 1.9-1.9 2-.1 2 .8 1.9-.3 2 .3 1.9.5 2-.4 1.9.4 2 .4M487.3 154.6l2 5.1 1.9-3.4 2-3.1 1.9 2.2 2 2.9 1.9-4.1 2-1 2-2.6 1.9.8 2-.6 1.9 1.6 2 2.1 1.9-1.5 2-1.3 1.9-.8 2-.5 2-1 1.9.1 2-1.6 1.9-2.1 2 1 1.9-2.6 2 1.2 2-.2 1.9 1.1 2 1.6 1.9-.9 2 2.7 1.9-1.8 2 4.2 2 2.4 1.9-1.3 2 2.4 1.9 1.8 2-1.9 1.9-5.1 2-2.8 1.9-.2 2 .7 2-3.9 1.9-2.1 2-.9 1.9 3 2 2.2 1.9-2.7 2 3.9 2 3.9 1.9 6.3 2 1.5 1.9-7.2 2-3.1 1.9-6 2-2.6 2 2.4 1.9 2.9 2-4.9 1.9 1.1 2 1.3 1.9 3.8 2 2.3 2 3.4 1.9 4.5 2-.8 1.9-.5 2-1.5 1.9-2 2-3.1 1.9.7 2-4.9 2 .5 1.9 1 2 1.4 1.9 1.2 2 2.6 1.9 1.9 2-3.8 2-5.4 1.9-1.5 2 2.9 1.9.7 2 2.3 1.9-3.9 2 1.2 2-.8 1.9 2 2 .2 1.9 0 2-.6 1.9 2.1 2 .6 1.9 4.9 2 4 2 5.3 1.9 1.2 2-3.1 1.9-1.8 2-4.9 1.9-2.3 2-1M487.3 144.9l2 1.1 1.9-.9 2-.7 1.9.7 2 .4 1.9.1 2 .8 2-.5 1.9.8 2-.1 1.9-1 2 .2 1.9.2 2 .9 1.9 1.5 2 .3 2-1.6 1.9-.3 2-.8 1.9 1.3 2-.9 1.9-1.6 2-.1 2 .8 1.9.4 2 2 1.9-.8 2-2.3 1.9.9 2 2.2 2-1 1.9-1.4 2 .7 1.9.5 2 .7 1.9 0 2-.4 1.9.5 2 .6 2 .1 1.9-.8 2-2.9 1.9-.5 2 1.3 1.9.4 2 .1 2-1.4 1.9.7 2 2 1.9 0 2-.7 1.9-1.3 2-.4 2-1.2 1.9 1.2 2 .4 1.9-1.7 2 0 1.9 0 2-.6 2-.9 1.9-1.1 2 1.3 1.9 1.2 2 .5 1.9.1 2-2.8 1.9 1.3 2-.6 2 1.2 1.9.9 2-.4 1.9-.3 2-.7 1.9-.4 2 2 2-.1 1.9-1 2 .7 1.9-.9 2 1.8 1.9-1.4 2 .4 2-.1 1.9-1.1 2-.5 1.9 1.5 2-.1 1.9-.4 2 1.2 1.9-2.5 2-2.1 2-.9 1.9 1.3 2 .6 1.9.2 2 .6 1.9-1.2 2 .8M487.3 143.3l2 .9 1.9-.1 2-1 1.9-.5 2 .6 1.9.9 2-.3 2-.3 1.9-.5 2 .5 1.9-.2 2-.3 1.9-.1 2 2.1 1.9 1 2-1.1 2-.6 1.9 1.2 2-2.5 1.9-.2 2 3.3 1.9 1.9 2-.1 2 .8 1.9-.7 2-.7 1.9.3 2 1.1 1.9-.7 2 .2 2 1.2 1.9-.2 2-.9 1.9-1.3 2-.3 1.9.5 2 .1 1.9.3 2-.9 2-.8 1.9-.3 2-.2 1.9.7 2 1.1 1.9-.6 2-.2 2-.8 1.9-.3 2-1.3 1.9-1.5 2 .9 1.9-1.1 2-.2 2 .5 1.9.5 2-1.4 1.9-.1 2-.8 1.9.1 2-.1 2-.8 1.9.1 2 .7 1.9 1.4 2 0 1.9-.2 2 0 1.9.1 2 1.2 2 .6 1.9.1 2-.8 1.9-1.9 2 1.1 1.9 1.9 2-.6 2 .7 1.9-.2 2-1.2 1.9-.3 2-.3 1.9-.2 2 .4 2-.7 1.9 1.4 2 2.2 1.9-.2 2 1.6 1.9.6 2-1.7 1.9-.5 2 .7 2 .8 1.9-.3 2 .5 1.9-.6 2-.3 1.9 1.4 2-.7M487.3 150.1l2 3.2 1.9 2 2 5.2 1.9 3.2 2 8.8 1.9-5 2 .6 2-5.3 1.9-7 2-1.3 1.9 1.8 2 1.5 1.9 12.3 2 1.9 1.9 1.6 2-.4 2-.4 1.9-4.7 2-5 1.9 3.2 2-1.3 1.9 10.7 2-1.2 2-14.5 1.9-7.4 2-3.2 1.9 3.7 2 7.2 1.9.8 2-3.6 2-.2 1.9 5.9 2-9.5 1.9 6.1 2-1 1.9 3.6 2-1.2 1.9-5.3 2 2.1 2-11.1 1.9.1 2 1.4 1.9-1.5 2 2.8 1.9 9.9 2 4.4 2 8 1.9 1.6 2 1.8 1.9-7.6 2-7.3 1.9-2.3 2 10.4 2-3.7 1.9 4 2 .7 1.9-4.9 2-1.4 1.9-4 2 5 2 3.8 1.9-5.1 2-1.2 1.9 4.5 2 3.8 1.9-.8 2-.1 1.9 8.4 2-11.7 2-.5 1.9-5.4 2-4.8 1.9 2.5 2 7.9 1.9-.1 2-4.9 2 10.3 1.9-1.4 2 11.9 1.9 3.7 2 1.2 1.9 5.7 2-5.9 2 4.6 1.9.4 2-4.5 1.9-6.1 2-.6 1.9-5.8 2-9.2 1.9 2.3 2-2.3 2 10.2 1.9-13.3 2-2 1.9-4.5 2 4 1.9-2.7 2 5M487.3 156l2-.1 1.9-5.7 2 .9 1.9 6.5 2-4.5 1.9 2.2 2-5.6 2-3.7 1.9 2 2-3.6 1.9 7.5 2 2.5 1.9-.6 2-5.3 1.9-3.9 2 5.7 2-2.8 1.9-1.3 2-3.1 1.9 4.8 2 .8 1.9-1.9 2-2.5 2-2.6 1.9 4.1 2-2.3 1.9 1.5 2 1.6 1.9 3.7 2-1.5 2-.3 1.9 3 2-1.2 1.9-.2 2 6.2 1.9-5.7 2 4.2 1.9.9 2-.4 2-2.8 1.9-1.9 2-3.4 1.9-.6 2 2.3 1.9.2 2 1.8 2-.8 1.9 3.8 2-5.3 1.9 5.9 2 2 1.9 4.2 2 1 2-2.1 1.9-1 2-4.1 1.9-2.9 2 1.5 1.9-.2 2 6.2 2 7 1.9 3.6 2 3.7 1.9-5.3 2-2.2 1.9-3.1 2-9.5 1.9-1.4 2 2 2-1.4 1.9.1 2 1.4 1.9.9 2 3.1 1.9 1.3 2 1 2-1.1 1.9 3.5 2-.2 1.9 1.3 2-1.9 1.9 4.4 2-1.2 2 1 1.9 4.3 2-6 1.9-6.8 2-3.7 1.9-4.5 2-1.5 1.9 7.6 2-.5 2-3.2 1.9-1.8 2-1.9 1.9 6.1 2-9.1 1.9 4.4 2 1.9M487.3 147.6l2-3 1.9.8 2 1.8 1.9-1.2 2-1.1 1.9 1.5 2-1.2 2-.1 1.9.8 2 .1 1.9 3.6 2 1.6 1.9-1.4 2 1 1.9 1.9 2 1 2-1.2 1.9-.3 2-1.4 1.9-1.5 2-.4 1.9-2.3 2 .9 2-3.3 1.9 1.1 2 1.9 1.9-1 2 2 1.9 1.7 2-2.5 2-.8 1.9-1.2 2-.7 1.9.6 2 2.7 1.9.1 2 0 1.9.1 2 1.3 2-2 1.9.5 2-.3 1.9.3 2 .5 1.9-3 2-2 2 1.8 1.9 1.2 2-1.8 1.9 1.3 2-.3 1.9-.5 2 2.9 2-.6 1.9-1.5 2 1.9 1.9.1 2-.6 1.9-.8 2 .1 2 1.4 1.9.9 2-1.6 1.9.2 2 .7 1.9-.1 2 .5 1.9.8 2-.4 2-1.1 1.9-.9 2 .5 1.9 1.3 2 1 1.9-.5 2-1.4 2-.7 1.9 2.5 2 .7 1.9-2.8 2 1.7 1.9-3.1 2-1.7 2 1 1.9.1 2-1.4 1.9.6 2-.4 1.9 1.3 2-.6 1.9-.4 2 1.7 2 .7 1.9-1.7 2-2.5 1.9.5 2 2.7 1.9 0 2 1M487.3 147.1l2 3.6 1.9-2 2-2.2 1.9.2 2 4.8 1.9-1 2-2 2 0 1.9.3 2-1.6 1.9 1.7 2 .8 1.9-2.7 2-.1 1.9.8 2-1.3 2 .2 1.9-.1 2 .6 1.9.9 2-.7 1.9-.7 2-.1 2 .9 1.9-1 2 0 1.9 3.3 2 .9 1.9 1.7 2-.5 2-.2 1.9-.6 2 0 1.9-1.5 2-.4 1.9 1.3 2 .4 1.9 2 2 .5 2-2 1.9-2 2-.3 1.9.6 2 1.6 1.9-2.3 2 2.2 2 .4 1.9-2.5 2-1.3 1.9.6 2 1.6 1.9 0 2-.9 2-1.2 1.9 1 2 1.3 1.9-2.6 2-.8 1.9.4 2-.4 2 1 1.9 1.3 2-.1 1.9-2.2 2-3.4 1.9 1.2 2 .5 1.9-1.7 2 1 2 .2 1.9-1.6 2 2.2 1.9 2.8 2-2.8 1.9-2.3 2 2.9 2-.3 1.9.9 2 1.5 1.9 3.8 2-.8 1.9-3.3 2-3 2-.6 1.9 1 2 1.6 1.9-.1 2-1.2 1.9-2.2 2 0 1.9 3.7 2 3.4 2 1.3 1.9-.8 2-.9 1.9-.3 2-1 1.9-2.2 2-2.1M487.3 144.2l2-1.5 1.9-.8 2-1.2 1.9-.6 2 .4 1.9 2.4 2 .7 2-1.2 1.9.1 2 2.6 1.9.8 2-.9 1.9-1.4 2-.1 1.9 2.7 2-1.3 2-.1 1.9.2 2 .5 1.9-.4 2 .2 1.9.7 2-2.6 2-.1 1.9 2.8 2 1.8 1.9-.9 2 .6 1.9 1.4 2-1.8 2 .3 1.9 2 2 1.3 1.9-.7 2 1.2 1.9-1 2 .4 1.9.2 2-1 2 .5 1.9 1.2 2-.8 1.9-1.1 2 .4 1.9-1.4 2-2.1 2-1.7 1.9-.2 2 .9 1.9.8 2-.2 1.9.4 2 .8 2 .8 1.9.3 2 1.3 1.9.8 2-.4 1.9-2 2-.9 2 2.1 1.9-.1 2-.6 1.9-2.2 2-1.2 1.9 2 2-.4 1.9-2.1 2-.3 2 0 1.9-.4 2-.1 1.9-2.2 2 .7 1.9 2.2 2-1 2-.2 1.9 1.3 2 .7 1.9-2.2 2 .3 1.9 1 2 .4 2 1.1 1.9 2.5 2-.7 1.9-.3 2-.4 1.9-.7 2 1.6 1.9-2.2 2-1.9 2 .2 1.9.3 2-.2 1.9 1.9 2 1.3 1.9-.6 2-1.5M487.3 149.6l2-1.3 1.9 2.2 2-2.6 1.9.5 2 .2 1.9.5 2 1.5 2 1.1 1.9.5 2-.1 1.9-1.3 2-.6 1.9-1.1 2 2.3 1.9 3.1 2-2 2 .3 1.9 2.6 2 .1 1.9-3.1 2-.6 1.9-1.1 2 3.6 2 3.9 1.9-1 2 3.9 1.9 2.5 2 1.6 1.9-1.2 2-3.8 2-4 1.9-.4 2-4.8 1.9-1 2 2.8 1.9-5.4 2 1.2 1.9 1.3 2 1.2 2-.8 1.9-2.7 2 .6 1.9 2 2 1.6 1.9 2.3 2 6.1 2 4.9 1.9-4.3 2 .2 1.9-.1 2-1.6 1.9-5 2 0 2-3.5 1.9-.5 2-3.3 1.9-.1 2 1.5 1.9-2.7 2 1.8 2 .6 1.9-1.5 2 3.6 1.9 1.6 2 0 1.9-.4 2 0 1.9-1 2-1.4 2 3 1.9-2.7 2-1.5 1.9-2.1 2 1.3 1.9.6 2 1.5 2-2.1 1.9 1.9 2 0 1.9 1.3 2 2 1.9-3.9 2-1.9 2 .5 1.9-.4 2 2.4 1.9-2.1 2 1 1.9 3.6 2 4.4 1.9 5.3 2 4.8 2 4.1 1.9-2.1 2-5.8 1.9-3 2-3 1.9-2.2 2-3M487.3 148.7l2 .1 1.9 1.9 2 .9 1.9-2.7 2-1.1 1.9 1.5 2 .3 2-.6 1.9-.1 2 .3 1.9-1.2 2-.1 1.9-.9 2-.1 1.9 1.1 2-.9 2-1.5 1.9-.5 2 .8 1.9 1 2 1.2 1.9.2 2-.8 2-.7 1.9-.5 2 .2 1.9.5 2-1.4 1.9 0 2 1.6 2 1 1.9-.2 2 0 1.9.1 2 .7 1.9.7 2 1.3 1.9.2 2 1.2 2-1.1 1.9-2.3 2 2.2 1.9 1.3 2-1 1.9 1 2 .6 2-.3 1.9-.1 2-1 1.9-.4 2-.8 1.9 1.1 2-.5 2 .3 1.9.3 2 .3 1.9.4 2-.5 1.9-1.6 2-1.5 2-.9 1.9 1.4 2 .5 1.9-1 2-.8 1.9-.4 2-.3 1.9-.3 2 1 2-.8 1.9-.4 2-1 1.9.2 2-1.1 1.9-.4 2 2.9 2 0 1.9-.6 2-.1 1.9.2 2 .9 1.9.6 2 1.1 2 .5 1.9-1.2 2 .9 1.9.1 2 1.8 1.9-.6 2-.1 1.9.8 2 1.1 2 .4 1.9-1.1 2-.4 1.9-.1 2-1 1.9.3 2-.4M487.3 150.7l2 .6 1.9 3.3 2 0 1.9 3.6 2 4 1.9-1.5 2-1.1 2-1.5 1.9 5.2 2-.9 1.9-5.6 2-6.2 1.9-2.8 2-3.2 1.9 2 2 1.7 2 1 1.9-2.4 2 1.8 1.9-4.2 2-.2 1.9.4 2 2 2 1.5 1.9-.4 2 1.5 1.9-1.3 2 2.1 1.9.4 2 2.7 2 .1 1.9-2.5 2-.2 1.9-.4 2 2.7 1.9-1.6 2 .5 1.9-.3 2-1.4 2-3.1 1.9-.9 2-.5 1.9-.3 2 .8 1.9 3.2 2 1.7 2 1.6 1.9 2.5 2 1 1.9 3.1 2-3.5 1.9-3.7 2 .2 2-.5 1.9.6 2-1.4 1.9 3 2 .6 1.9 1.6 2 2.9 2-6.1 1.9.5 2 .9 1.9 1.4 2 1.8 1.9 3.5 2-2.1 1.9-.2 2 .6 2 1.4 1.9-1 2 .7 1.9.8 2 1.7 1.9-.1 2-3.2 2-1.9 1.9-1.5 2-1.6 1.9-1.6 2-3.3 1.9-4.3 2-1.5 2 .8 1.9 3.9 2-.7 1.9-3.3 2-1.3 1.9 2.6 2-.3 1.9-1.6 2 3.6 2 3 1.9.3 2-3.3 1.9-2.2 2 .4 1.9 0 2-.3M487.3 145.8l2 1.5 1.9 2.4 2 .3 1.9-1.2 2-2.1 1.9.3 2 .6 2 .6 1.9-1.1 2-1.2 1.9.8 2-.4 1.9 1.3 2 1.3 1.9-.9 2-1.9 2-.2 1.9 1.2 2 1.5 1.9-.6 2 1 1.9-.3 2 .1 2 .7 1.9-1.2 2-1.4 1.9.1 2 .7 1.9-.1 2-1.3 2-.4 1.9 2.7 2-.3 1.9-.2 2-.8 1.9 2.8 2-1.3 1.9-2 2-.9 2 1.3 1.9.1 2 1.2 1.9.3 2 1.1 1.9 1.2 2-1.3 2-.5 1.9-.2 2 .1 1.9-1.9 2-.8 1.9.2 2 1.5 2-.5 1.9-.2 2-.1 1.9.8 2 2.5 1.9 1.2 2-1.5 2-1.3 1.9-1.2 2 2.2 1.9-1.3 2-2.1 1.9.7 2-2.3 1.9-.5 2-.3 2 1.5 1.9.9 2 .9 1.9 1.8 2-1.7 1.9-1.1 2 0 2-.1 1.9-1.4 2 .8 1.9-.7 2-2.4 1.9 3.4 2 1.2 2-.4 1.9 3.5 2-1.5 1.9 1.1 2 1.9 1.9 2.1 2-2.7 1.9-.1 2-.1 2-1.3 1.9-2.2 2 1.6 1.9 1.9 2-.6 1.9.6 2 1.4M487.3 145.2l2-.2 1.9-.8 2-.5 1.9-2.5 2-.8 1.9-.6 2 1 2 .9 1.9 0 2-.6 1.9.1 2-.2 1.9-.4 2-1.2 1.9.6 2 1.2 2 .3 1.9 2.1 2 .9 1.9-.6 2 1 1.9.6 2 0 2-1.7 1.9.1 2 .8 1.9.3 2-.5 1.9-1.5 2 .7 2 0 1.9-1.2 2 1.1 1.9.6 2 1.9 1.9-.7 2 0 1.9-.6 2-2.4 2-1.3 1.9-.2 2 .3 1.9 1.7 2-.5 1.9 1.7 2 .6 2-2.6 1.9-2.2 2-.3 1.9.2 2-.6 1.9 1.2 2-.5 2 .3 1.9-1.1 2-1.1 1.9.8 2 1.2 1.9-.1 2-.8 2 0 1.9 1.2 2 .7 1.9-3.3 2-.3 1.9 2.7 2 1.4 1.9.7 2 1.4 2-1.3 1.9-.3 2 .3 1.9-.8 2 1.5 1.9.6 2-.8 2-.9 1.9-.2 2 .2 1.9 1.1 2-.6 1.9-2 2 .7 2 1 1.9.6 2 .3 1.9-1.7 2 2.2 1.9 1.5 2 .5 1.9-1.7 2-.1 2-1 1.9-1.5 2 .2 1.9-.9 2-1.4 1.9-.3 2 1.7M487.3 139.8l2-.9 1.9.1 2 .2 1.9.5 2-1.6 1.9-3.4 2 1.5 2 1.5 1.9-.2 2-1.3 1.9.8 2 2.2 1.9 1.2 2-.5 1.9 1 2 .6 2-.3 1.9.7 2 1.2 1.9.5 2-.2 1.9.4 2-.8 2 1.1 1.9-.3 2-.2 1.9-.4 2-1.1 1.9-1.1 2 1 2 1.4 1.9-.5 2-.2 1.9-.3 2-.1 1.9.7 2-1.7 1.9-2 2-1.3 2 .9 1.9.8 2 3.2 1.9-2 2 0 1.9 1.7 2 .8 2 .5 1.9.6 2 1.1 1.9-.1 2 0 1.9.5 2-1.8 2-.3 1.9 0 2 .4 1.9.2 2-.8 1.9.9 2-1.1 2 .2 1.9-.3 2-.6 1.9-.9 2 .1 1.9-.3 2 1 1.9.2 2 .1 2-.9 1.9.6 2 1.2 1.9-.4 2-.2 1.9.6 2 1.8 2 .2 1.9.4 2 .5 1.9-.5 2-.7 1.9-1.8 2-1 2 2 1.9 0 2-2.8 1.9-1 2 1.5 1.9-.6 2-.7 1.9.7 2-.9 2-.6 1.9 1.3 2 .7 1.9.5 2 .5 1.9.1 2-1.3M487.3 138.8l2 .2 1.9.1 2-.3 1.9-.3 2 .5 1.9-1.2 2-.9 2 .1 1.9-.4 2-1.3 1.9-.2 2-1.4 1.9 2 2 2.1 1.9-1 2-1 2 .4 1.9-.3 2 2.5 1.9-.6 2 .1 1.9-.6 2-.9 2 .6 1.9 2 2 0 1.9.6 2-2 1.9-.6 2 1.3 2 .6 1.9.8 2 3.2 1.9-.6 2 .1 1.9-1.9 2-.8 1.9.5 2 0 2 .3 1.9.6 2 2.8 1.9 1 2 .5 1.9-.8 2-.9 2-1.4 1.9 0 2 .6 1.9-1.9 2-.2 1.9 1.5 2 .1 2-1.2 1.9 1 2-.6 1.9-1.4 2-1.2 1.9-.4 2 1.9 2-1.3 1.9-1.3 2-.4 1.9.3 2 1.5 1.9-.6 2-1 1.9 1.5 2-1 2-.3 1.9 1.2 2 0 1.9-.7 2 1.1 1.9.7 2 .3 2 1.3 1.9-.4 2 1.1 1.9-.5 2-1.2 1.9.8 2 1.9 2 1.3 1.9-1.1 2 0 1.9-2 2 .1 1.9 1.1 2-.5 1.9-.9 2-1.5 2-.6 1.9.5 2-.6 1.9 1.5 2-.3 1.9-.4 2 .8M487.3 150.9l2-3.8 1.9 7.8 2-6.5 1.9 7.6 2-.1 1.9 2.6 2-6.2 2 4.6 1.9 18.4 2 3.9 1.9 11 2-1.4 1.9-7.4 2 1.8 1.9 6.2 2-2.3 2-2.6 1.9 4.2 2 8.6 1.9-.9 2-8.4 1.9-.7 2-6.7 2-16.6 1.9-4 2-16 1.9-.4 2-4.9 1.9 4.2 2 2 2-7.3 1.9 4.7 2-6.2 1.9 8.1 2-.1 1.9 10.6 2-3.3 1.9 1.2 2 9.3 2-4.9 1.9-6.4 2-2.6 1.9 9.3 2-3.9 1.9.4 2 10.1 2 5.5 1.9-5.3 2 .3 1.9 4.7 2-11.8 1.9-7.2 2-7 2 1.1 1.9.9 2-.2 1.9-4.4 2 12.7 1.9-6.6 2-3.2 2 8.7 1.9 1.7 2 1.7 1.9 4.3 2 6 1.9-.2 2-4.6 1.9-16.9 2 3.7 2-5.6 1.9.3 2 6.6 1.9-1.6 2 2.2 1.9-6.3 2 3.6 2-3.3 1.9-2.6 2 1.3 1.9 2.3 2 14.7 1.9 6.7 2 5.5 2 6.4 1.9 7 2-1.1 1.9-3.4 2-7.1 1.9-11.9 2-.4 1.9.8 2 10 2 0 1.9 1.6 2 3.6 1.9-6.3 2-9.4 1.9 1.6 2-6M487.3 145.6l2 2.4 1.9-1.5 2 1.4 1.9 4.3 2-1 1.9.6 2-2.2 2 5.5 1.9 0 2 2.7 1.9-4.4 2 1 1.9-2.8 2-.7 1.9 1.1 2-4.4 2-3.1 1.9.2 2-.4 1.9-.2 2 .8 1.9-1 2 1.1 2-1.4 1.9.1 2 1.1 1.9-.2 2 1.4 1.9-4.8 2 2.3 2 1.3 1.9-.6 2-.8 1.9.9 2 2.6 1.9-.5 2-3 1.9-3.6 2 1.3 2 .4 1.9 5.4 2 1 1.9-.8 2-1.5 1.9 2.4 2-1.5 2-.1 1.9 0 2 .7 1.9 5.2 2-4.9 1.9 1.6 2-1 2-1.7 1.9-2 2 2.7 1.9-.2 2 1.7 1.9 1.7 2-2 2-2.4 1.9.2 2 .9 1.9.2 2 .3 1.9 4.1 2-2.9 1.9.4 2-3 2 1.3 1.9-2 2-1.4 1.9-2.4 2 .9 1.9-.4 2-1.3 2 .7 1.9-.7 2 1.9 1.9-2.2 2 0 1.9 2.2 2-1 2-2.2 1.9 1.4 2-.4 1.9.5 2 3.7 1.9 3.1 2-.6 1.9 4.2 2 2.1 2 1.2 1.9-2.6 2-1 1.9 1.4 2-1.7 1.9-2.9 2 2M487.3 137.2l2 2.5 1.9.2 2-.9 1.9-.5 2 .9 1.9.9 2-1.6 2 .5 1.9.6 2 .8 1.9.5 2 .4 1.9-1.2 2 1.7 1.9-2.2 2-2.4 2 3 1.9.6 2-.3 1.9-1 2-.2 1.9.9 2 1 2 1.5 1.9.5 2-1.6 1.9-.5 2 .6 1.9-.9 2 .1 2-1.9 1.9-1.7 2 .9 1.9 1.6 2 2 1.9-.5 2-1.1 1.9 1.9 2 .8 2-.2 1.9-.4 2 1.1 1.9-.2 2-1.5 1.9 1.3 2 0 2-.8 1.9-.4 2 .2 1.9-1.7 2 .2 1.9.4 2 .3 2-1 1.9-2.1 2-2.1 1.9 1.2 2 1.5 1.9-.5 2-1.1 2 .9 1.9 0 2 1.1 1.9.9 2-.7 1.9 0 2-.7 1.9.6 2 .4 2-.7 1.9-.1 2 2.2 1.9 0 2-2 1.9-.1 2 1.4 2 .5 1.9.2 2-1.3 1.9.3 2 1.2 1.9 0 2-.2 2-.7 1.9-.8 2-.7 1.9-.1 2 1.3 1.9-.8 2-.3 1.9 1.3 2-.9 2-.9 1.9-3 2 0 1.9 1.6 2 .5 1.9-.8 2 .7M487.3 139.9l2-.4 1.9.4 2 1.4 1.9-.8 2 .8 1.9.4 2 2 2 .7 1.9.8 2-.7 1.9-1 2 .1 1.9-1.3 2-.6 1.9 2.6 2-1.5 2-.4 1.9-.5 2-2.3 1.9-2.4 2 .9 1.9 1.9 2 .2 2-.4 1.9.9 2 .8 1.9-1.9 2-.6 1.9.1 2-1 2 .2 1.9-.5 2-.1 1.9.3 2 .4 1.9 0 2 1.3 1.9.2 2-.5 2-.7 1.9-.4 2 .9 1.9.4 2-.5 1.9.6 2-.2 2 .8 1.9-.3 2 .3 1.9-1.8 2-.8 1.9 1.2 2 .8 2 0 1.9 1.3 2 .1 1.9-1.2 2 .6 1.9 1.6 2 1.1 2-.2 1.9 1.2 2 .6 1.9 1 2-.1 1.9-1.1 2 1.2 1.9-1.2 2-3.2 2 .9 1.9 1.9 2 .9 1.9-.9 2-.2 1.9.4 2 .2 2 1.5 1.9-.6 2-.9 1.9-.2 2-1.4 1.9 0 2 2.8 2 1.1 1.9-1.4 2-1.1 1.9.7 2-.1 1.9-2.5 2-1.4 1.9-.4 2 .4 2 .6 1.9-.9 2-.5 1.9.8 2 1.2 1.9.5 2-.7M487.3 144.7l2-.3 1.9.3 2 .6 1.9 1 2-.7 1.9-1.8 2-1.1 2 .5 1.9.3 2-1.3 1.9-2.1 2 .5 1.9 1.2 2-.1 1.9 1.6 2 .3 2-1 1.9-.1 2 .9 1.9.5 2-1.6 1.9.7 2 .7 2 .2 1.9 1.5 2-.5 1.9.1 2-1 1.9-.6 2 .7 2-1.8 1.9.1 2 1.1 1.9.1 2 .4 1.9 2.1 2 .1 1.9-2 2 .8 2 1.2 1.9-.8 2-.7 1.9.5 2 1.5 1.9-.5 2-.6 2-.7 1.9-.9 2 2.1 1.9 1.1 2-.2 1.9.1 2 .5 2-.5 1.9-1 2 .1 1.9.1 2 1.8 1.9-.9 2-1.3 2 .7 1.9.6 2-.7 1.9-1.4 2-2.1 1.9 1.2 2 1.5 1.9.3 2-.6 2-.5 1.9-.6 2-.4 1.9-.8 2 .8 1.9-.6 2 2 2-.6 1.9-.7 2 1.2 1.9-.3 2-.7 1.9-.8 2 .6 2 1.7 1.9.4 2-.3 1.9 1.4 2 1.6 1.9-.2 2 .1 1.9-1.6 2 .5 2 1.5 1.9-.3 2-.2 1.9 1 2 1.8 1.9-.5 2-.7M487.3 165.3l2 2.1 1.9-.3 2-4.2 1.9-3.5 2-1.8 1.9-4.5 2-2.2 2-2 1.9-2.8 2-1.8 1.9 1.9 2 .1 1.9-5.4 2 4.3 1.9 1.2 2-1.3 2 .8 1.9 4.1 2-1.7 1.9-2.1 2-3 1.9 2 2-2.3 2 3.2 1.9 3 2 4.9 1.9-3.3 2 .7 1.9-.3 2 1.6 2 1.2 1.9 5.5 2-7.1 1.9-1.1 2-2.6 1.9 3.7 2 2 1.9-4.2 2-.1 2 4.5 1.9.1 2 0 1.9 2.1 2 .1 1.9 2.7 2 .1 2 1.5 1.9-1.5 2-3.7 1.9 1.2 2 1 1.9-2.9 2 5.3 2-4.4 1.9-4.3 2-1.9 1.9 4 2-1.9 1.9 2 2 8 2-1.6 1.9-.2 2-7.1 1.9-2.6 2-1.6 1.9 1.7 2 1 1.9 4.3 2-7.1 2 .2 1.9 4.7 2 .1 1.9-1.3 2-1.1 1.9-1.5 2 1.6 2 .4 1.9-1.9 2 2.7 1.9.8 2-1.3 1.9 1.8 2 .9 2-2.3 1.9-.8 2-.4 1.9 2.4 2-2.1 1.9-1.8 2-.8 1.9 2.1 2-3 2-.6 1.9 1.7 2 1.6 1.9-5.4 2 .2 1.9 2.2 2-1.3M487.3 162.2l2-3.6 1.9.3 2-.3 1.9-2.9 2-1.1 1.9 0 2 1.2 2-2.7 1.9-1.5 2-.8 1.9.3 2-1 1.9.6 2 1.4 1.9 2.1 2-1.1 2-3.7 1.9.2 2 4.4 1.9-2.4 2-1.5 1.9-3.6 2 1.4 2-.4 1.9 1.9 2 .2 1.9.4 2-1.7 1.9.4 2-2.5 2 1 1.9 1.4 2 2.9 1.9 1.7 2-1.7 1.9 1.6 2 1.2 1.9 3.5 2 .1 2-1.3 1.9-1.6 2 1.8 1.9.9 2-2.2 1.9-5.6 2-1.5 2 1.2 1.9 1.4 2-4.1 1.9-.9 2-.5 1.9 4.5 2 1.5 2-2 1.9-.9 2 .8 1.9 1.8 2-.6 1.9-.7 2 2.6 2-3.1 1.9-2.1 2 1.4 1.9 1.5 2 1.5 1.9 1.2 2-1.6 1.9.2 2 4 2 2.2 1.9 5.1 2 .2 1.9-4.2 2 .6 1.9-3.5 2 1.5 2 .1 1.9 1.9 2 .5 1.9-3.5 2-1.6 1.9-4 2-.6 2 .2 1.9-3 2-1.4 1.9 1.3 2 1.1 1.9 0 2 .9 1.9-1.4 2 2 2-.2 1.9 2.9 2 .3 1.9.2 2 3.9 1.9.6 2 2.5M487.3 174.2l2-24.8 1.9 10 2 2.6 1.9 15 2 17.4 1.9 9.2 2-1.4 2-2.9 1.9 4.6 2 1.2 1.9-.5 2-13.1 1.9-13 2-26.6 1.9 8 2 9.5 2-17.3 1.9 16 2-5.1 1.9-10.8 2 17 1.9 13.7 2 3.3 2-25 1.9 10.8 2-23 1.9 13.5 2-9.9 1.9-2.9 2-.4 2 2.6 1.9 19.7 2-12.2 1.9 19.7 2 20.2 1.9 3.7 2-.3 1.9 1.5 2-4.9 2-7.4 1.9-12.2 2 3.7 1.9-15.5 2 .2 1.9.3 2-3.4 2 3.6 1.9 9.7 2-19.4 1.9-.5 2-4.6 1.9 0 2 25.9 2-34.6 1.9 21.7 2-4.5 1.9-1.7 2-4.7 1.9 0 2-8 2 15.1 1.9 8.7 2-5 1.9-14.3 2 14 1.9-4.1 2 15.6 1.9 11.6 2 8.7 2-.2 1.9 1.1 2-23.3 1.9-5.1 2-7.3 1.9 9.6 2 6.2 2-32.1 1.9 19.7 2-6.5 1.9-1.8 2 4.7 1.9-11.9 2 23.5 2 20.6 1.9 8.8 2 .6 1.9.3 2-3 1.9-10.5 2 1.1 1.9-27.2 2 2.2 2-3.7 1.9 15.4 2 2.8 1.9.1 2-4.8 1.9-7.4 2 17.3M487.3 146.7l2-.8 1.9 1.1 2-1.3 1.9-2 2 .6 1.9 1.7 2-1.6 2 .3 1.9-.2 2 .5 1.9-.3 2 .9 1.9.4 2-1 1.9 0 2 .3 2 .1 1.9-.8 2 .9 1.9 2.1 2-.2 1.9-1.1 2 .3 2 1.5 1.9 0 2 1 1.9 1.2 2-2.3 1.9 2.1 2 .7 2-.8 1.9-2.9 2-.9 1.9.2 2 .2 1.9 1.5 2 2 1.9-.4 2 .1 2 .1 1.9.9 2 .3 1.9-.5 2-1.4 1.9.7 2-.1 2-1 1.9-1.1 2 .7 1.9.1 2-2 1.9.1 2 1.6 2 .2 1.9-1.5 2-1.9 1.9-.9 2 .1 1.9.6 2 .8 2 1.2 1.9-2 2-1.4 1.9-1 2 .1 1.9.6 2 1.3 1.9-.2 2 .4 2-.1 1.9.3 2 .6 1.9-.6 2 1.3 1.9 1.8 2-1.6 2-2.1 1.9.6 2 .7 1.9.5 2-1.6 1.9.3 2 .5 2-1.6 1.9 0 2 1.1 1.9-1.7 2-1.2 1.9.9 2-.1 1.9.5 2 1.3 2 .3 1.9-1.7 2 0 1.9-.3 2-1.1 1.9 2 2 1M487.3 147.7l2 0 1.9-1.1 2-.7 1.9.3 2 .7 1.9-1 2 .8 2 .3 1.9-1.3 2 .1 1.9.1 2 .9 1.9-.5 2-.8 1.9 0 2 .9 2 .5 1.9-.7 2 .2 1.9 1 2 2.1 1.9.5 2-1.6 2-1.5 1.9.4 2 2.5 1.9.9 2-.3 1.9-1.1 2-.1 2 .8 1.9-.7 2 .2 1.9-.1 2 0 1.9-1.8 2 1.1 1.9.1 2-1.1 2-.1 1.9-.9 2 .6 1.9-2.3 2-2.2 1.9 1.5 2 2.6 2 .5 1.9 0 2-.8 1.9-.1 2-.5 1.9.6 2 1 2-.3 1.9-.8 2 1.9 1.9 3 2-.3 1.9-1.4 2-.2 2-.2 1.9 1.5 2 .9 1.9.4 2 .2 1.9-1.2 2-.1 1.9.8 2-1.2 2-.9 1.9 1.1 2 .1 1.9 1.5 2-1 1.9-.3 2-.3 2-.5 1.9-2.6 2-1.7 1.9 1.8 2-.8 1.9.4 2-1.8 2-1.7 1.9.6 2 1 1.9.8 2 .1 1.9 1.6 2-.2 1.9 1.4 2 .7 2-.2 1.9 1.3 2-.2 1.9-1.5 2-.1 1.9-1 2 .9M487.3 154.5l2-.2 1.9-1.1 2 .2 1.9-1.2 2-.7 1.9 1.2 2-.2 2 1.7 1.9-3.5 2-.6 1.9.8 2 2.3 1.9-1.7 2 .6 1.9-1.9 2-2.6 2 2 1.9 1.9 2 1.8 1.9-.2 2-1.4 1.9-3.7 2-.8 2 5.4 1.9-.7 2-1.3 1.9-1.1 2 1.6 1.9.1 2 2.4 2 2.3 1.9-1.4 2-1.8 1.9.1 2 .5 1.9-1.4 2-.9 1.9.3 2-2 2 .7 1.9-.6 2-.3 1.9 2.2 2-.4 1.9.6 2 .9 2 1.3 1.9 1.4 2 2.3 1.9.6 2 0 1.9-1.6 2 1.7 2-2.8 1.9.1 2 .8 1.9 2.4 2-1.7 1.9-5.4 2 .7 2 1.2 1.9-.4 2 .2 1.9-1.1 2 .6 1.9 3.9 2-3.4 1.9-.6 2 1.1 2-.7 1.9-1.5 2 2.1 1.9.9 2-1.6 1.9 2.6 2-3.9 2 2.6 1.9 2.5 2-3.7 1.9-.3 2 2 1.9-1.1 2 .7 2-1.5 1.9-1.2 2-.4 1.9-.8 2-.4 1.9-.5 2 .9 1.9 3.2 2 4.3 2-1.6 1.9 0 2 .8 1.9-.9 2 .3 1.9 1.7 2 1.9M487.3 140.1l2 3.2 1.9-1.3 2-.4 1.9 1 2 .6 1.9-1.4 2-1.6 2 .8 1.9.7 2-.1 1.9-1.3 2 0 1.9 0 2-1 1.9.8 2 .8 2 1.3 1.9.1 2-.9 1.9-.5 2 2.8 1.9 1.3 2-.7 2 .3 1.9-1.1 2-.6 1.9-.4 2 .6 1.9-.1 2-.6 2-.9 1.9-.3 2 1.4 1.9-1.1 2 1.2 1.9 2.4 2-.3 1.9-.8 2 .9 2-1.1 1.9-.9 2 .5 1.9.6 2-.2 1.9-1.7 2-.1 2 1.3 1.9 1.5 2 .3 1.9.6 2-1.2 1.9.5 2 1.6 2 1.1 1.9.6 2-.5 1.9.4 2-.6 1.9-1.2 2 .1 2-.3 1.9-.4 2-.3 1.9 0 2-2.1 1.9.3 2 1.7 1.9-.5 2 1.1 2-.4 1.9.8 2-.8 1.9-1.3 2 0 1.9 0 2-1.1 2-.3 1.9-2.5 2 2.7 1.9 1.9 2-.6 1.9-.1 2 .3 2-1.1 1.9-.8 2 1 1.9.9 2-.8 1.9.5 2-1 1.9-.8 2 .4 2 .2 1.9.1 2-.2 1.9 1.4 2 1.8 1.9 1.6 2-.5M487.3 151.2l2-1.6 1.9 1.3 2 .5 1.9-2.1 2 2.7 1.9 1.4 2 2.7 2-.2 1.9-6 2 .2 1.9 2.6 2-2.1 1.9 1.4 2-1.4 1.9-2.5 2 3.7 2-1.1 1.9-2.1 2-1.3 1.9-.4 2-.3 1.9 5.4 2 3.4 2 4.6 1.9 1.4 2 1.3 1.9.7 2 1.7 1.9.4 2 .1 2-.9 1.9-4.9 2-3.1 1.9-4.2 2 .5 1.9-.1 2-4 1.9-.3 2-1.9 2 2.9 1.9 1.5 2 2.6 1.9-2.3 2-2.2 1.9.3 2 1 2 2.6 1.9 2.2 2 .7 1.9-2.3 2-1.1 1.9 1.8 2-1 2-.3 1.9 7.4 2 .3 1.9-6.7 2-3 1.9.9 2-1.8 2 1.9 1.9-1.7 2 .1 1.9-4.4 2 1 1.9.1 2 4 1.9-2.5 2 0 2-5.3 1.9 5.2 2-.5 1.9-2.6 2 2.2 1.9 5.5 2-2.6 2 1 1.9 2.3 2 2.6 1.9 4.4 2 1 1.9 2 2-6.1 2-5 1.9.9 2-.2 1.9-1.4 2 3 1.9 2.2 2-1.9 1.9 3 2 2.5 2 10.2 1.9-2.5 2 3.9 1.9-1.3 2-7.3 1.9 1.4 2-.5M487.3 167.4l2 1.2 1.9 4.4 2 4.6 1.9-16.3 2-16.7 1.9.8 2-.5 2 20.4 1.9-12 2-1.7 1.9 3.7 2-2.7 1.9 5 2-4.9 1.9-7.3 2 9.1 2-1.8 1.9-5.9 2 12.1 1.9-1.7 2-10.9 1.9 10.5 2 12.5 2 4 1.9 3.9 2-18 1.9-12.9 2-.2 1.9 3.9 2-4.4 2 0 1.9.9 2 12.2 1.9-7 2 2.1 1.9-9 2 5.3 1.9 4.6 2-3.3 2 .6 1.9-4.5 2 9.2 1.9-3.5 2 .1 1.9 9.7 2 6.1 2 15.1 1.9.4 2 5.3 1.9 5.8 2-2.9 1.9-5.7 2-19 2-14.4 1.9-4.9 2 7.9 1.9 2.8 2-7.6 1.9 4.3 2-3.8 2-.8 1.9 1.1 2 3.1 1.9 10.4 2 2.4 1.9-4.1 2-9.4 1.9-3.2 2 1.9 2-.2 1.9 8.4 2-4.5 1.9-.3 2-.7 1.9-7.9 2 0 2 1.9 1.9-.8 2-3.3 1.9 6.5 2-.6 1.9-8.2 2 13.7 2 10 1.9 4.3 2 8.2 1.9-3.1 2-5.9 1.9-1.3 2-1 1.9 8.3 2 4.7 2-10.6 1.9-10.7 2-3.2 1.9-1.1 2-3 1.9-2.5 2 3.3M487.3 143.2l2 .1 1.9-.6 2 1.2 1.9 1.1 2 1.7 1.9 0 2 1.4 2 .2 1.9-.4 2 0 1.9-1.5 2-1.7 1.9 2 2-.2 1.9-1.3 2-2.9 2 .3 1.9 2.3 2-.2 1.9 1.4 2-.5 1.9-2.3 2-1.7 2 .3 1.9 1.2 2-1 1.9 2.7 2-2.9 1.9 1.4 2-2.2 2 .6 1.9-2.9 2-1.4 1.9.8 2-1.8 1.9.5 2-.1 1.9-.7 2 .2 2-1.4 1.9 5.6 2-1.9 1.9-2.3 2-1 1.9 4.2 2 0 2 1.9 1.9 4.1 2-.1 1.9 1.3 2 1.2 1.9 2 2-3 2-2.7 1.9 4.7 2 2.5 1.9 1.2 2-.5 1.9.2 2-1.9 2-1.4 1.9-.6 2-4.1 1.9 2.9 2-1.4 1.9.4 2-.7 1.9-1.9 2-3.1 2 .6 1.9 1.9 2 .9 1.9-.5 2-.8 1.9.4 2 2.2 2-1.1 1.9-1 2 1.7 1.9 5.7 2 2.8 1.9-3.4 2 .3 2-.2 1.9-.2 2-8.1 1.9-3.4 2 4 1.9-2.1 2 1.6 1.9.7 2 1.9 2 1.6 1.9-4.9 2-1.8 1.9.4 2 2.4 1.9 2.6 2 1.3M487.3 145.5l2 1 1.9.1 2 .6 1.9-.5 2 1 1.9.9 2-.1 2 1.7 1.9-.8 2-.5 1.9.7 2-.3 1.9-3 2-1 1.9.9 2 2.2 2-.7 1.9-.4 2-1 1.9-.1 2-.2 1.9 0 2-1 2-.8 1.9 0 2 1.2 1.9-.7 2 .7 1.9-1.1 2-1.5 2 1.7 1.9.4 2-.5 1.9-1 2 .8 1.9.4 2 .4 1.9-1.7 2 1 2 .8 1.9 1.1 2 .2 1.9.4 2 .5 1.9-1.6 2 .5 2 .3 1.9-.2 2-.6 1.9.4 2 .6 1.9-.9 2 .9 2 .7 1.9-1 2 .2 1.9-1.2 2-3.4 1.9.6 2-.4 2 0 1.9 2.5 2 .2 1.9 1.2 2 .7 1.9.8 2-1.9 1.9-.8 2 1.5 2 .6 1.9.6 2 .6 1.9-.6 2 1 1.9.8 2-1.1 2-.5 1.9.5 2-.5 1.9.1 2-.5 1.9.2 2-.1 2-1.3 1.9-.9 2-.3 1.9-1.6 2 1.8 1.9.3 2 1.1 1.9-.4 2 .4 2-1.1 1.9-.5 2-.8 1.9-.3 2 .4 1.9.8 2 .8M487.3 149.2l2 5.2 1.9 6.7 2-13.6 1.9 1.7 2-7.2 1.9-1.4 2 11.9 2 1.4 1.9 14.7 2 4.1 1.9 11.4 2 8.6 1.9-3.7 2 5.1 1.9-3.8 2-7.1 2-7.8 1.9-9.7 2-8.5 1.9-3 2 11.6 1.9 2.7 2 7.6 2 8.2 1.9 4.8 2-8 1.9-2.8 2-8.8 1.9-5.8 2 12.8 2-10.1 1.9 6.2 2 .7 1.9-5.9 2-8.3 1.9-4.2 2-6.2 1.9-1.7 2-2.6 2 2.5 1.9 5.5 2 20.1 1.9 3.9 2-3.6 1.9-7.7 2-8 2-.8 1.9-1.5 2-5 1.9 5.5 2-.1 1.9 9.8 2-2.6 2-1.6 1.9-2.7 2 6.5 1.9-17.5 2-3 1.9 3.6 2-.9 2-3.7 1.9-1.4 2 3.1 1.9.1 2 4.2 1.9 9.2 2 19.7 1.9 15.1 2-11.3 2 12.1 1.9-7 2-2.3 1.9-2.7 2-2.5 1.9-17.2 2-10.8 2-1.9 1.9-.4 2 23.3 1.9-6.7 2-5.4 1.9-1.3 2-3.3 2-5.5 1.9-5 2 5.3 1.9-4.5 2 3 1.9-1.9 2 .7 1.9-5.3 2 15.6 2-2.7 1.9-3.4 2-5.3 1.9 1.1 2-1 1.9 7.6 2 5.2M487.3 146.9l2-1.2 1.9-1 2 2.7 1.9 1.3 2-2.4 1.9-2.3 2-.4 2 2 1.9-.9 2-1.8 1.9-.3 2 .2 1.9-1.3 2 2.2 1.9.4 2-.8 2 .2 1.9-.3 2-.5 1.9 1.5 2-.1 1.9-2 2 1.2 2 1 1.9.5 2-.9 1.9-1.3 2 .7 1.9 1 2-2.4 2-1.9 1.9-1.2 2 1 1.9 1.8 2-1.5 1.9-.2 2-.1 1.9-.3 2 .1 2-.3 1.9 1.2 2 .9 1.9-1.2 2-.5 1.9-.1 2 .9 2 2.8 1.9-.5 2-1.2 1.9-.1 2-.1 1.9.6 2 1.2 2 .7 1.9 1.4 2-.5 1.9-1.5 2 .3 1.9-.1 2-1 2 .9 1.9-1 2-1.7 1.9-.2 2 0 1.9.1 2 3 1.9-.1 2-.8 2-.3 1.9.1 2 1.8 1.9 1.1 2-2.2 1.9-1.8 2 1 2-.6 1.9.1 2 .6 1.9.6 2 0 1.9-.9 2 1 2 0 1.9.6 2 .8 1.9-.3 2-.2 1.9-.9 2-2.3 1.9-1.2 2 .5 2 2.1 1.9 1 2-1 1.9-1.8 2 .1 1.9 2.4 2 .7M487.3 136.1l2 1 1.9-1.4 2 1.3 1.9 1.2 2 .5 1.9 1.4 2 .7 2 1.2 1.9-1.5 2 1 1.9.1 2-.1 1.9.8 2-1 1.9-.8 2 .3 2-1.4 1.9 0 2 .1 1.9-.4 2-1 1.9.3 2 .3 2 .1 1.9-.1 2 .5 1.9.5 2 1.5 1.9 1.7 2 1.4 2-.9 1.9-.5 2 1.7 1.9.3 2 .9 1.9.3 2 .1 1.9 1 2 1.2 2-1.2 1.9-.2 2-.2 1.9-1 2 .3 1.9.2 2 0 2 .3 1.9-1.1 2 2.5 1.9-2.3 2-3.2 1.9-1.4 2 .7 2 2.4 1.9.7 2-.7 1.9-.3 2-1.4 1.9-.3 2 1.3 2 .2 1.9.6 2 .3 1.9.5 2-1.9 1.9-.3 2 1.7 1.9-.7 2-.4 2 .3 1.9-1.5 2-.5 1.9-.1 2 1.8 1.9.2 2-1.6 2 .1 1.9 1.6 2 .8 1.9-.8 2-1.8 1.9 1.2 2-.3 2-.7 1.9.6 2-.8 1.9-.4 2-.4 1.9-.6 2-.7 1.9 2.5 2 0 2-1.4 1.9-.2 2-.4 1.9.1 2 .6 1.9 1.7 2-.5M487.3 146.6l2 1.3 1.9 2.2 2-.8 1.9 4 2 .1 1.9-3.3 2-2.5 2 .4 1.9-1.2 2-1.5 1.9-.4 2 .4 1.9-.7 2 2.4 1.9.6 2 .8 2-2.2 1.9.5 2-3.6 1.9 1.1 2 0 1.9-1.1 2 4.9 2 1.1 1.9 2.4 2-.8 1.9-1.8 2-6.9 1.9 2.4 2-1.2 2-.9 1.9.4 2 2.4 1.9-.1 2 1.1 1.9-5.6 2-.8 1.9-.7 2 1 2 2 1.9 6.1 2 2.4 1.9-.1 2 2.4 1.9.7 2 1.5 2-1.2 1.9-1 2-.5 1.9-.5 2 3.1 1.9 1.7 2-3.1 2-7.3 1.9-5.5 2 1.1 1.9 2.2 2-.5 1.9 2.4 2 .3 2 3.2 1.9 1.3 2 4.2 1.9 2.9 2 4.6 1.9 2.1 2-5 1.9-3.4 2-3 2-3.5 1.9.9 2-4.1 1.9-3.4 2 .5 1.9 3.2 2-3.3 2 4.3 1.9 2.8 2 .1 1.9-.9 2-3 1.9.3 2-1 2-.1 1.9-.6 2 3.5 1.9.6 2-5 1.9 1.4 2 1.1 1.9-.1 2 .1 2-1.5 1.9-1.3 2-.8 1.9.3 2 0 1.9-.2 2-2.7M487.3 142l2-.2 1.9 1.9 2-1 1.9-.8 2-.5 1.9 2.1 2 2 2 4.6 1.9-3.7 2 .2 1.9 2.9 2-1.7 1.9-1.9 2 .6 1.9-.3 2 3.6 2 1.7 1.9-3.3 2 1 1.9-.1 2-2.6 1.9-.9 2-2.8 2-.6 1.9-.2 2 1.6 1.9-.1 2-.5 1.9 0 2 3.1 2 .8 1.9 3.8 2 2.6 1.9-.8 2-2.2 1.9-4 2 .3 1.9-2.5 2-1 2-1.7 1.9-1.9 2-.1 1.9.1 2 2 1.9.8 2 1 2 2.2 1.9-.9 2 0 1.9-3.4 2-.2 1.9.6 2 .8 2-.6 1.9-1.1 2 1.8 1.9 2.4 2-2.8 1.9 4.8 2-3.2 2-1.6 1.9.3 2 2 1.9.1 2 1.2 1.9-1 2 3.3 1.9 2.2 2-1.1 2-3 1.9 3.2 2-.9 1.9-4 2-.7 1.9 0 2-1.9 2 .3 1.9 4.6 2 1.7 1.9 2 2 1.1 1.9.2 2-2.1 2-1.7 1.9-.6 2-3.5 1.9-.8 2 2.4 1.9 0 2-1.2 1.9.7 2 .1 2 1.9 1.9 1.4 2-2.1 1.9-3.9 2 3 1.9 2 2-5.2M487.3 147.3l2 .9 1.9.9 2-1.9 1.9-.9 2 .3 1.9-2.5 2 .9 2 2.1 1.9-2.5 2-.6 1.9-.2 2 .8 1.9.5 2 .4 1.9-.8 2 3.4 2 1 1.9-.7 2-2.4 1.9-.8 2 .7 1.9-.1 2 2.9 2 .7 1.9.4 2-1.4 1.9 2.2 2-1.3 1.9 4 2-2.8 2 1.4 1.9-3.2 2-.1 1.9.6 2 1.7 1.9-1.4 2-1.3 1.9-.3 2-.9 2-.9 1.9 2.3 2 .9 1.9 1.4 2 .6 1.9-2.8 2 .8 2 2.2 1.9 2.3 2-.5 1.9 1.5 2 .1 1.9.5 2-1 2-.1 1.9 1.9 2-3.8 1.9-1.4 2 .3 1.9 1.3 2 1.7 2-.9 1.9-1.6 2-2.1 1.9-.4 2 5.8 1.9 1.4 2-.4 1.9-2.2 2 1.5 2-.2 1.9-4.8 2-3.1 1.9 2.9 2-2.3 1.9-1.1 2 2.4 2 1.8 1.9 1.3 2-.5 1.9-.1 2 1.6 1.9 4.2 2 2.9 2 .1 1.9-.9 2 2.8 1.9-2.2 2-1.4 1.9-1.1 2 0 1.9 1.4 2 1.8 2-2.3 1.9-2 2-.3 1.9-3.4 2-1.4 1.9-1.8 2 0M487.3 146.6l2 .9 1.9 5.1 2 1.8 1.9-2.9 2-1.1 1.9-1.4 2 7.7 2-4.5 1.9-3.5 2 3.4 1.9 3.8 2 8.7 1.9 1.5 2 5.6 1.9 2.3 2 2.1 2-9 1.9-3.2 2 4 1.9-5.7 2 1.5 1.9 3.7 2 1 2-.4 1.9.2 2 2.9 1.9 2.7 2 7.9 1.9-1.7 2 .6 2 4.3 1.9-3 2-8.1 1.9-2.3 2-13.2 1.9-1.9 2-.4 1.9-5.4 2-.5 2-1.6 1.9.9 2 6.8 1.9-2.8 2-2.6 1.9 3.6 2-3.6 2 2.6 1.9-1.3 2 5 1.9 6 2 5.8 1.9 3.3 2-5.2 2-.1 1.9-1.1 2-3.7 1.9-6.9 2-3.7 1.9 6.9 2-9.6 2 3.8 1.9-4.5 2-1.6 1.9-1.5 2 3.1 1.9 2.4 2 6.4 1.9-11.1 2-1 2-1.9 1.9 5.4 2-1.9 1.9 1 2 17.4 1.9 7.3 2 7.8 2-2 1.9-4.1 2-2.5 1.9.2 2-1.6 1.9-2.5 2-6 2-2.9 1.9.6 2 3 1.9.7 2 3.1 1.9-6.5 2 4.3 1.9-3.4 2 2.9 2-.5 1.9 2.7 2-2.5 1.9-4.3 2-1.5 1.9-.3 2 1.7M487.3 150.6l2-1 1.9-.1 2 2.3 1.9 0 2 .1 1.9-1.5 2-1.2 2-1.3 1.9.9 2-1.1 1.9-.6 2-1.8 1.9-.5 2-.3 1.9-.1 2-.1 2-1.9 1.9-.7 2 .6 1.9 2.2 2 .3 1.9-.9 2 1.4 2 1.5 1.9-1.2 2-.7 1.9-.9 2-.2 1.9 1.1 2 .6 2-1.6 1.9.9 2 1.9 1.9-.9 2 .1 1.9.3 2-.8 1.9.1 2 1.1 2-.3 1.9.7 2 1.5 1.9-.1 2-2.1 1.9-2.5 2 1.2 2-.4 1.9-1.3 2-.8 1.9 0 2 .7 1.9-.7 2-.7 2-1.4 1.9.6 2-.8 1.9.9 2 .1 1.9-1.2 2-.4 2 .2 1.9 0 2-1.3 1.9-.8 2 1.1 1.9 2.4 2 0 1.9-1.6 2 1.4 2 1.8 1.9 0 2-1.5 1.9.5 2 .7 1.9 2.7 2 0 2-.7 1.9.9 2 .9 1.9.8 2-.5 1.9-.6 2 .2 2 .4 1.9-1.9 2 .9 1.9-1.2 2 1.5 1.9-.1 2-1.4 1.9-.6 2-.5 2 .8 1.9 2.1 2-.1 1.9 1.2 2-.1 1.9-1.1 2-2.8M487.3 144.4l2 .1 1.9.5 2-.3 1.9.7 2-.7 1.9-.7 2-.6 2 .6 1.9.2 2-.7 1.9-.6 2-.2 1.9.2 2 .6 1.9-1 2 .3 2 1.7 1.9-1 2 .1 1.9-1.1 2-.7 1.9.7 2-1.4 2-.3 1.9.3 2 1.3 1.9 1.1 2-.9 1.9-1.9 2-.3 2 .8 1.9-.7 2 .8 1.9.8 2 1.1 1.9 1.7 2 .2 1.9-1.6 2 .1 2 1.7 1.9.8 2 .2 1.9 0 2 .9 1.9 1.7 2 .6 2-.8 1.9-.6 2 .8 1.9.2 2-.8 1.9-.2 2 .1 2-1.4 1.9-1.3 2-1.1 1.9.2 2-.2 1.9.5 2-.6 2-.7 1.9.7 2 1.8 1.9.6 2-2.4 1.9-1.2 2 .5 1.9 1 2 .8 2-1.2 1.9.7 2 .6 1.9.2 2-.5 1.9-.3 2-1.6 2 .6 1.9 0 2-.7 1.9.2 2-1.5 1.9-1.4 2 .2 2-1.3 1.9-.7 2-.7 1.9-.7 2 1.6 1.9 3.3 2-.1 1.9 1.1 2-.5 2-2 1.9-.5 2 1.5 1.9 0 2 .8 1.9.9 2 0M487.3 149.4l2 1.6 1.9-2.9 2 1 1.9-.6 2-.8 1.9 3.3 2 1.4 2-2 1.9 3.9 2-2.4 1.9.9 2-5.8 1.9 1.7 2 1.2 1.9.3 2 .8 2-2 1.9 0 2 1.3 1.9-1.1 2-.8 1.9-.3 2-.5 2 4.4 1.9-2.4 2-2.2 1.9.7 2 2.9 1.9-4.2 2 3.8 2 3.3 1.9 3.3 2 5.5 1.9 2.1 2 .1 1.9-2.2 2-5.9 1.9-1.5 2 2.3 2 1 1.9 5.6 2-8.8 1.9-1.8 2 1.6 1.9-4 2-1.7 2-2.6 1.9 1.2 2 .1 1.9-1.7 2-1.2 1.9 2.2 2 2.1 2-4 1.9-.3 2 .3 1.9 3.3 2 2.8 1.9-.9 2-3.8 2-1.4 1.9 2.6 2-1 1.9 6.6 2-3.8 1.9 2.5 2 1.9 1.9 1.7 2-6.6 2-1.2 1.9-2.4 2 5.1 1.9.2 2-.1 1.9 1 2-.3 2 2.5 1.9-4.3 2 3.2 1.9-2.6 2-1.7 1.9-1.3 2-.7 2 3.1 1.9 3 2 3.1 1.9 1.5 2-1.8 1.9 1.5 2-3 1.9 2.5 2 .1 2 4.3 1.9.8 2 .7 1.9 1.3 2-5.5 1.9.5 2 3.5M487.3 141.5l2 .7 1.9.7 2-1.1 1.9-1 2-.2 1.9 1.2 2 1.1 2 .6 1.9-1.2 2-.7 1.9 1.1 2 .1 1.9 0 2-.3 1.9.5 2-.2 2-.8 1.9-.4 2-.7 1.9.9 2 1 1.9 1.9 2 1.4 2-.1 1.9 0 2-.9 1.9-1.6 2 .9 1.9.1 2-2.1 2-.1 1.9.8 2-.9 1.9-1.3 2 1.7 1.9-.6 2-.7 1.9-1.1 2 .4 2 .4 1.9-.9 2 1.4 1.9 0 2-.3 1.9 1.4 2 1.1 2-2 1.9-.2 2-.8 1.9 1.3 2 .5 1.9 1.3 2 1.5 2-1 1.9-.4 2 .1 1.9-.3 2 1.6 1.9-.7 2-1.4 2 .2 1.9.2 2-.6 1.9.4 2-1.2 1.9-.9 2 .3 1.9-1.1 2-.4 2 .8 1.9-.2 2-2.3 1.9-.3 2 1.7 1.9 1 2-2.1 2-.5 1.9 1.9 2-.4 1.9 1.5 2-.1 1.9-.8 2-.7 2 1 1.9 1.1 2 .9 1.9-3.1 2-1.9 1.9 1.1 2 .5 1.9-1.3 2-1 2 1.5 1.9 1.5 2 1.5 1.9 1.3 2 .1 1.9 1.1 2 1M487.3 163.6l2-1.1 1.9-2.2 2-1.7 1.9.4 2 .2 1.9.4 2-.4 2-3.7 1.9-1.3 2 1.3 1.9-.2 2-4.8 1.9 2 2-2 1.9 2.7 2-1.3 2 0 1.9 2.2 2-.5 1.9.9 2 2.8 1.9 1 2 5.8 2 4.2 1.9 2.3 2-3.1 1.9-2.2 2-.9 1.9.8 2-4.6 2-7.2 1.9 1.8 2-4.2 1.9-1.5 2-.1 1.9-1.1 2 1.7 1.9 1.7 2 .9 2-.1 1.9.6 2 2.5 1.9 4.5 2-.8 1.9 2.4 2 2.7 2 1.8 1.9-1 2-2.9 1.9-2.6 2-1.4 1.9 1.3 2-3.7 2-3.4 1.9.2 2 3 1.9-2.6 2 1.4 1.9 3.7 2-1.1 2 2.2 1.9.9 2 0 1.9-1.6 2 1.5 1.9-.3 2-3 1.9 1.6 2-2.3 2 .9 1.9-1.1 2 1.9 1.9.1 2 .9 1.9-3.3 2-1.9 2-.5 1.9-2.3 2-1.7 1.9-.7 2 1.3 1.9 3.7 2-3.6 2 3 1.9 2.7 2-3 1.9-1.5 2 .7 1.9 2.9 2-3.8 1.9-1 2 1.6 2-.1 1.9-.9 2 1.6 1.9-1.4 2 3.2 1.9 3.5 2-1.5M487.3 154l2-1.9 1.9 2.9 2-4 1.9-.9 2 7.2 1.9 12.5 2-2.9 2-4.9 1.9-7.2 2-2.2 1.9 13.1 2-1.2 1.9 5.7 2 15.1 1.9 9.5 2-3.2 2-7.8 1.9-1.5 2-25.5 1.9-6.9 2-2.7 1.9 6.9 2 .2 2 10.5 1.9-3.3 2-8.9 1.9.6 2-2.8 1.9 8.3 2-.8 2 3.7 1.9 20.6 2-.1 1.9 12.5 2-5.4 1.9 3.8 2-1.6 1.9 1.4 2-5.1 2-9.5 1.9-4.9 2 7.8 1.9 6.9 2 8.9 1.9 1.4 2 1.1 2-7.2 1.9-12.6 2-8.7 1.9-8.2 2 2.9 1.9-7.9 2-1.2 2 4.6 1.9 10.5 2-2.3 1.9-16.4 2 4.1 1.9-6.5 2 3.3 2-1 1.9 3.1 2-11.7 1.9 8.1 2-5.9 1.9-1.6 2 1 1.9 5.3 2 5.5 2 .8 1.9-3.5 2 15.5 1.9 17.6 2 5.9 1.9 4.8 2-.2 2-.8 1.9-7 2-8.1 1.9-7.6 2 5.2 1.9-17.3 2-6.7 2-8.3 1.9 5.6 2-4.9 1.9 3.4 2-5.7 1.9 10.8 2-2 1.9-5.6 2 9.5 2 7.9 1.9 27 2 4.2 1.9-1.4 2 1.7 1.9 3.8 2-.8M487.3 146.7l2 .2 1.9-1.3 2 .3 1.9-.3 2-1.2 1.9.2 2 .8 2 .4 1.9-.5 2 .1 1.9-.4 2 .8 1.9.5 2-.3 1.9.6 2 1.5 2-1.3 1.9-1.5 2 2.4 1.9 1.8 2 0 1.9-.4 2 .6 2 1.7 1.9-.9 2-1.6 1.9 2.5 2 1.9 1.9-2 2-2.7 2 0 1.9 0 2-1.6 1.9-.4 2-.3 1.9-.9 2 1.1 1.9.3 2-.3 2 .1 1.9-.7 2 .4 1.9.1 2-.7 1.9-.4 2 1.2 2-.4 1.9-1.5 2 .9 1.9-.2 2 .8 1.9-1.5 2-2 2 .8 1.9-.4 2-1.7 1.9-.9 2 2.1 1.9.4 2-.6 2-.6 1.9 1 2 .1 1.9.3 2 0 1.9 0 2-.8 1.9.5 2-.1 2 .3 1.9 2 2-2.2 1.9-1.3 2 1 1.9 1.5 2-.2 2-.6 1.9.8 2 .4 1.9-1 2 1.1 1.9 1.5 2-.4 2-2 1.9 1.7 2-1.3 1.9.4 2-1 1.9 1.1 2 1.6 1.9-1.5 2 .3 2 1.4 1.9-.2 2-.8 1.9-2 2 2.3 1.9 1.3 2 .5M487.3 170.4l2 3 1.9-.1 2-7.4 1.9-.3 2-.7 1.9 2.7 2 1.8 2-2.8 1.9.5 2 4.7 1.9-1.1 2 3.5 1.9-4 2 1 1.9-5.2 2-6.5 2-4 1.9 6.2 2-8.4 1.9-5.4 2-1.3 1.9 2 2-1.1 2-.7 1.9-.6 2 .3 1.9 4.8 2 4.8 1.9.7 2 1.2 2 4.6 1.9-5.5 2-2.6 1.9.7 2-.4 1.9-1.9 2-1.8 1.9-.4 2 .4 2-.9 1.9-7.3 2 1.1 1.9 1.7 2 2.5 1.9-2.3 2-3.4 2-1.1 1.9 1.4 2-1.5 1.9 4.9 2-1.1 1.9 0 2 2 2-2.3 1.9 5.6 2-5.8 1.9-2.5 2 2.2 1.9-1.5 2 2 2-2.3 1.9 4.7 2-1.7 1.9-2.6 2 2.1 1.9-.7 2 3.9 1.9 7.5 2 8.1 2-6.6 1.9-1.9 2 .3 1.9 2.6 2-.8 1.9-.8 2 1.2 2 .3 1.9 1.9 2 1.1 1.9 1.8 2 4 1.9-6 2 .6 2-9.6 1.9-3.6 2-.2 1.9.4 2 2.6 1.9 2.4 2 1.5 1.9 2.5 2-5.3 2 .3 1.9-3 2-1 1.9 2.8 2-.8 1.9-1.9 2-2.5M487.3 148.8l2 1.3 1.9-.5 2-.5 1.9-.7 2 .4 1.9.1 2-.6 2 .6 1.9-1.3 2-.1 1.9.8 2-.2 1.9-.8 2-.7 1.9 1.4 2 .7 2-.1 1.9-.3 2 .4 1.9-.6 2-.4 1.9-1.7 2-1.2 2 1.2 1.9.1 2 .9 1.9.4 2 .9 1.9 0 2-1.8 2 .5 1.9-1 2 1.5 1.9 2.3 2 .3 1.9-1.2 2-.7 1.9 0 2 2.3 2-.9 1.9-.2 2 1.4 1.9-.3 2 .5 1.9.9 2-.5 2 .2 1.9 0 2-1 1.9-1.2 2-.3 1.9-.1 2-2.6 2-.6 1.9 0 2 1 1.9 1.4 2-.2 1.9-.8 2-.7 2-.1 1.9.1 2 .3 1.9 1.5 2 .6 1.9-1.5 2 0 1.9.5 2 .2 2-1.7 1.9-.5 2 2 1.9 2.4 2-.8 1.9-.7 2-1.2 2 .2 1.9 2.6 2 2 1.9.8 2-1.1 1.9-2.1 2 1.2 2 1.6 1.9-.8 2-1.5 1.9-2.2 2-.8 1.9.7 2-1 1.9-1.5 2 .8 2 .5 1.9-1.6 2-.3 1.9 1.2 2 1.3 1.9.5 2 .4M487.3 151.2l2-2.3 1.9-4.9 2 .4 1.9 3.7 2-6.9 1.9.9 2-.1 2 1.2 1.9.2 2-.8 1.9.2 2 1 1.9-.8 2-1.1 1.9-.3 2-.4 2 1.3 1.9 4.1 2 1.7 1.9 2.7 2 3 1.9 2.1 2 1.7 2-.1 1.9 4.5 2-4.9 1.9-2.3 2-1.4 1.9 0 2-1 2 2 1.9-4.1 2-1.9 1.9-.4 2-2 1.9-3.1 2 1.1 1.9 1.3 2-1.6 2 4 1.9.3 2-3.5 1.9-4.6 2-.8 1.9 4.4 2-5.3 2 1.7 1.9 1.2 2 0 1.9 2.6 2-3.5 1.9 2.9 2 4.8 2-.6 1.9 2.7 2 .5 1.9-.9 2-2.3 1.9-2.6 2-.6 2-.5 1.9.9 2 3.5 1.9-1.3 2-1.7 1.9 1.6 2-1.2 1.9-1.6 2 2.5 2-1.8 1.9-1.8 2-1.1 1.9 3.5 2 5.4 1.9-2.5 2-1.3 2 .3 1.9.5 2-1.2 1.9-.4 2-2.6 1.9 1.5 2 .1 2 2.6 1.9-3.2 2 2.8 1.9.3 2-.7 1.9-1.1 2 2.5 1.9-.9 2-2.5 2 3.8 1.9-1.2 2 1.4 1.9-1 2 1.7 1.9-3.7 2 1.3M487.3 142.9l2 1.7 1.9.2 2-.2 1.9-1.1 2 1 1.9 1.2 2-.5 2-.6 1.9.3 2 1.5 1.9 1.7 2-1.5 1.9-1.1 2 .2 1.9-1.2 2 .4 2 3.1 1.9 2.7 2-3.1 1.9-1.5 2 1.6 1.9-.5 2-.2 2 1.8 1.9.5 2 0 1.9-1.1 2 1.1 1.9.9 2 1.8 2-.5 1.9 0 2-1.4 1.9-1.2 2 1.5 1.9-.3 2-.4 1.9.6 2-.4 2 1 1.9.5 2-1 1.9.4 2-2.7 1.9-.3 2-.3 2 .2 1.9.9 2-3 1.9.3 2 1.1 1.9-.7 2 .3 2 1.9 1.9.8 2-.5 1.9-1.1 2-1.2 1.9.5 2 .2 2-1.6 1.9.1 2 1.2 1.9-1.1 2-.6 1.9-1 2 .1 1.9-1.1 2-2.1 2 .4 1.9 1.1 2 1.7 1.9 1.1 2 .8 1.9-.6 2-.9 2 .4 1.9 1.1 2-.6 1.9 1.8 2-.2 1.9-.1 2-1.4 2 2.6 1.9 1.4 2-1.2 1.9-1.3 2-1.3 1.9-.8 2-.5 1.9 0 2 1.1 2 0 1.9 0 2-1.3 1.9-1.8 2 .9 1.9 1.5 2-.9M487.3 150.2l2 2.9 1.9-1.3 2-1.3 1.9 1 2 3 1.9-.6 2-1.7 2-1.1 1.9 1.3 2-.8 1.9-.1 2-1.7 1.9.4 2-1.8 1.9-.4 2-1 2 1.6 1.9.7 2-.9 1.9-1.1 2-.2 1.9.1 2-.4 2-.8 1.9.8 2 .4 1.9 0 2-.7 1.9-.9 2 .6 2 .5 1.9.9 2 .3 1.9 0 2-.1 1.9.2 2-1.2 1.9 1.1 2 1.5 2 .9 1.9.7 2 .5 1.9-.4 2 .9 1.9 1.6 2 .8 2-.2 1.9-.9 2 1 1.9.4 2 .2 1.9-3.1 2-.3 2-.2 1.9.7 2-.9 1.9-.9 2-.3 1.9-.6 2-1.1 2-.8 1.9 1.7 2-.1 1.9 1.2 2-.3 1.9 2 2-1 1.9.4 2 1.1 2-1.1 1.9-.6 2-.4 1.9 1.8 2-.3 1.9-2.5 2 2 2 1.3 1.9-1.6 2-.5 1.9.5 2-.3 1.9-.6 2-1.1 2 .9 1.9-.5 2-.6 1.9-1.1 2 1.7 1.9-1.2 2-.7 1.9.5 2 .9 2 .5 1.9.3 2-.9 1.9 0 2 1.9 1.9.3 2-.2M487.3 157.1l2-3.1 1.9-.6 2 8.6 1.9 1.1 2 1.3 1.9 5.6 2-4.3 2-3.7 1.9-3.7 2-1.4 1.9-3.3 2-2.4 1.9.2 2 1.2 1.9.3 2 3.3 2 1.2 1.9 1.3 2-.2 1.9 1.9 2-5.5 1.9-1.6 2-.8 2-2.3 1.9.7 2-.8 1.9 3.3 2 2 1.9-2.7 2-1.7 2 2.3 1.9-1.6 2-.9 1.9 1 2 2 1.9.3 2-2.2 1.9-2.3 2 1.8 2-2.3 1.9.4 2 4.1 1.9-1.2 2 5.7 1.9-1.4 2 2.2 2 1.9 1.9-1.3 2-1.1 1.9-3 2-2.9 1.9-.7 2-1.5 2 .9 1.9 3.7 2-.2 1.9-.4 2-2 1.9.6 2 .9 2-.4 1.9-.6 2 3.8 1.9-1.8 2 1.5 1.9-.1 2-3.9 1.9-1.3 2 2.8 2 .3 1.9 2.4 2-.3 1.9 1.1 2 .2 1.9 1.2 2-3.1 2-.3 1.9-1 2-1.9 1.9 5.2 2 1.6 1.9 4 2 2.6 2 2.2 1.9.7 2-1 1.9-3.1 2-2.4 1.9-3.1 2 .1 1.9-.3 2 .3 2 2.2 1.9 2.3 2 2.5 1.9-.5 2 1.7 1.9.8 2-1.3M487.3 141.2l2-.3 1.9 2.4 2 2.4 1.9-2.1 2-3.5 1.9 1.4 2 2.9 2-1.9 1.9-.2 2 1 1.9-.9 2 .3 1.9 1.5 2-1.3 1.9-.4 2 .9 2-.2 1.9.9 2 .2 1.9-.5 2-1.6 1.9.2 2 1.4 2-.5 1.9.5 2-1.5 1.9 1.3 2 .4 1.9-.5 2-.4 2-.1 1.9 1.8 2-1.7 1.9-1.4 2 1.1 1.9.4 2-.1 1.9-2.1 2 1.1 2-.1 1.9 1.4 2-2.1 1.9-1.8 2 .6 1.9.5 2 .4 2-2.3 1.9-.5 2 1.9 1.9.1 2-2 1.9.4 2-.2 2 1.6 1.9 2.1 2-3.5 1.9-1.5 2 3.4 1.9 1.4 2-1.9 2-.1 1.9.3 2-.2 1.9 1.9 2-2.2 1.9-1.3 2-.1 1.9.9 2-.1 2 .3 1.9-1 2 .3 1.9 1.4 2 .5 1.9-.4 2-.7 2-.3 1.9.7 2-.8 1.9 0 2 2.1 1.9 1.7 2-.9 2-1.4 1.9-.3 2-.1 1.9.2 2 0 1.9 2.3 2 .4 1.9-1.4 2-.4 2 1.2 1.9-.1 2-.6 1.9 1 2 .5 1.9-2.9 2-1.5M487.3 139.8l2 .4 1.9-.7 2-.6 1.9.8 2 2 1.9-1 2-2 2 1.1 1.9.5 2-1.2 1.9.7 2 .5 1.9-1 2 .2 1.9 2.7 2-1.3 2-.9 1.9.4 2 .3 1.9.6 2 .4 1.9.5 2-.6 2-1.4 1.9-1.4 2 .4 1.9-.7 2-.4 1.9-.1 2 .7 2 1.9 1.9 0 2-1.8 1.9-.2 2 1.5 1.9-.8 2-2.5 1.9-.5 2 3.1 2 .6 1.9-1.2 2 .5 1.9 1.8 2 .1 1.9-.6 2-.9 2 1.3 1.9 3.6 2-1.3 1.9-1 2 2.1 1.9.4 2-.5 2-1.3 1.9 1.3 2 1.5 1.9-.3 2-1.2 1.9-.1 2 .4 2-.4 1.9-.3 2-.4 1.9-.2 2 .1 1.9.8 2-.5 1.9 2.3 2 1.1 2-2.6 1.9-2 2 .3 1.9-.1 2 0 1.9-.5 2 1.5 2 .1 1.9-1.8 2 0 1.9 1.3 2 1.1 1.9.4 2 .2 2-1.1 1.9-1.3 2 1.1 1.9-.8 2-1.5 1.9-.6 2 1.9 1.9-.2 2-.3 2 .8 1.9.1 2 .1 1.9.5 2-.6 1.9 1 2 .9M487.3 151.4l2-1 1.9-.8 2 .3 1.9-1.1 2-.6 1.9.3 2 .4 2 .2 1.9.7 2 .7 1.9-1.8 2 .2 1.9.1 2 .7 1.9 1.9 2 1.2 2 0 1.9-1.4 2-2.4 1.9.8 2 1.8 1.9.2 2-2.4 2 .4 1.9 0 2-1.8 1.9-.1 2-.7 1.9 1 2 1.6 2-1.3 1.9-.3 2 .2 1.9.1 2-.4 1.9 1.1 2-1.6 1.9-3.6 2 .5 2-.7 1.9 1.8 2 1 1.9.9 2-.9 1.9-.1 2 .7 2-.2 1.9.4 2 1.1 1.9 1.3 2-.4 1.9 0 2-.3 2 1.1 1.9 1.7 2 1.4 1.9.3 2 .6 1.9-1.8 2-.2 2 .5 1.9 1.2 2 .5 1.9.8 2-.8 1.9-.9 2-1 1.9.5 2 .4 2-.9 1.9 1 2-1.2 1.9-.7 2 .5 1.9 1.2 2 .2 2-.6 1.9.6 2-.5 1.9 0 2-.8 1.9-1.7 2-2.1 2-1.8 1.9 1.3 2 2 1.9-.8 2-1.1 1.9.6 2-.9 1.9-2 2 1.6 2 .8 1.9-.3 2 0 1.9.6 2 1 1.9-.2 2-3.4M487.3 144.4l2-.7 1.9 1.4 2-.3 1.9-1.3 2 3 1.9-2.7 2-.4 2 .6 1.9-.4 2 .7 1.9-.8 2 .4 1.9 2.5 2 4.8 1.9 0 2-1.5 2-2.4 1.9-.7 2 .7 1.9-.8 2 1.6 1.9-1.7 2 1 2-1.9 1.9-3.4 2 2.8 1.9 1.3 2 2.2 1.9-1.9 2-2.4 2 3 1.9.6 2 1.5 1.9 0 2 1.1 1.9-.4 2 .6 1.9-1.5 2-.5 2 .3 1.9-1 2-.3 1.9.5 2 1.4 1.9 1 2-.5 2-1.5 1.9-.8 2-4.7 1.9.7 2 .8 1.9-.2 2-2 2 2.2 1.9-1.5 2 1.3 1.9 2.4 2 1.4 1.9-2.5 2 .2 2 .5 1.9 1.2 2 1.8 1.9 3.2 2-1.4 1.9-5 2-.1 1.9 1.3 2 1.1 2-.2 1.9.4 2-.1 1.9.5 2-1.4 1.9-.3 2-1.3 2-.9 1.9-.1 2 3.7 1.9-3.8 2 .9 1.9 2.2 2 .5 2 .3 1.9-.3 2 .5 1.9.2 2-2.6 1.9-3.4 2 1.7 1.9 2 2 1.6 2-2 1.9-1.7 2 1 1.9.4 2-1 1.9 2.4 2 .4M487.3 143.8l2 0 1.9-1.1 2-1.4 1.9-.3 2-.4 1.9 2.9 2 .6 2-1.4 1.9-.1 2 1.1 1.9.1 2 .6 1.9.3 2-.4 1.9-.6 2-.3 2 .2 1.9 0 2-.2 1.9 0 2 1.4 1.9.3 2-2.2 2-.3 1.9.7 2 .2 1.9.1 2-1 1.9-1.9 2 .4 2 1.7 1.9-.7 2 0 1.9-.8 2-.4 1.9-.3 2-1.2 1.9.2 2 .9 2 2.3 1.9-1.3 2 1 1.9.5 2-.8 1.9 0 2 .9 2 .5 1.9.3 2 .3 1.9-1.2 2 1.2 1.9.3 2 .6 2 .2 1.9-1.4 2-.9 1.9 1.5 2 .1 1.9-1 2 .9 2 .8 1.9-.9 2-1 1.9 1.8 2 .2 1.9-1.5 2 .2 1.9.6 2-2.4 2-2.1 1.9-1.1 2 2.4 1.9 1.7 2-.4 1.9-2 2 .6 2-.4 1.9-1.1 2 1.7 1.9 1 2 .3 1.9-.4 2-1.6 2-1.4 1.9-.6 2 2 1.9.9 2 .9 1.9.3 2 .2 1.9-1.5 2-1.7 2 1.6 1.9.4 2-2.5 1.9-.1 2 .6 1.9-1.3 2 .9M487.3 150.3l2-1.9 1.9-.1 2 1.5 1.9.9 2-1 1.9-1.5 2 .2 2-.7 1.9-.2 2 1.1 1.9-.6 2-.9 1.9.7 2 1.1 1.9.3 2 .9 2-1.6 1.9-1.3 2-.5 1.9-.9 2 .5 1.9 1.5 2 .2 2-.2 1.9-1 2 1.1 1.9-.4 2-.2 1.9 2.1 2-.7 2 .3 1.9.2 2-1.3 1.9-.1 2 1.9 1.9.2 2 .8 1.9-.8 2 .7 2 .7 1.9-.7 2 0 1.9 1.5 2-.6 1.9-1.5 2 3.8 2-.9 1.9-1.5 2 .9 1.9.9 2 .7 1.9-.2 2 1.2 2 1.4 1.9-2 2-.3 1.9-1.3 2-3.5 1.9 1.9 2 2 2 1.2 1.9.1 2 0 1.9.7 2 .5 1.9.1 2-1.5 1.9-1.3 2 .5 2 2.4 1.9.2 2-1 1.9-2.4 2-.4 1.9 1.2 2 .3 2-.3 1.9 0 2-.1 1.9-.9 2-1.9 1.9.5 2-.8 2 .8 1.9 1.1 2-.4 1.9.4 2 .5 1.9-2.6 2-.2 1.9 2.4 2-.9 2-1.8 1.9 2.6 2 0 1.9-.8 2-.6 1.9.6 2 .6M487.3 139.4l2 .4 1.9 1.1 2 4.3 1.9-1.6 2 1.4 1.9 1.8 2 .7 2 1 1.9-3.6 2 .5 1.9.3 2-2.9 1.9-5.1 2 4 1.9 3.1 2-.4 2 2.3 1.9 1.1 2 2.7 1.9-2.2 2-2 1.9.7 2-2.3 2 1 1.9 2.6 2-3.2 1.9 2.1 2 .1 1.9-5.3 2-2.8 2 .3 1.9.7 2 2.3 1.9-.1 2 0 1.9.4 2 1 1.9.4 2 .3 2 .6 1.9-.8 2-5.7 1.9.4 2-.9 1.9 1.2 2 .9 2-1.3 1.9-1.3 2 .5 1.9 1.9 2 3 1.9-2.5 2 0 2 4.3 1.9 3.4 2 3 1.9 1.3 2-.5 1.9.7 2-6.5 2-.8 1.9-2.1 2-5.2 1.9 1.6 2-2.3 1.9-.7 2 1.3 1.9-2.3 2 5.7 2-2.3 1.9-3.7 2 .8 1.9-2.9 2 2.8 1.9 1 2 .7 2-3.4 1.9 1 2 1.2 1.9.5 2-1.2 1.9-.5 2 3.4 2 2.6 1.9-4.7 2 1.9 1.9 3.4 2-2.4 1.9-.1 2 4 1.9-1.8 2-1.1 2 1.7 1.9.9 2-.3 1.9.4 2-1 1.9 3.2 2-2.8M487.3 162.5l2 4.7 1.9.1 2-4.3 1.9-9.5 2-8.4 1.9 6.2 2-6.5 2 .8 1.9 8.5 2-3.2 1.9 6.6 2 6.7 1.9-8.1 2-2 1.9-3.4 2-6.3 2 .4 1.9 5.3 2 7.3 1.9 3.4 2 12.5 1.9 7.6 2 .2 2-4.6 1.9-17 2-7.6 1.9-8.3 2 2.5 1.9 4.1 2-3.3 2 5.4 1.9-.5 2 6.6 1.9-5.7 2 .3 1.9-9.2 2 3.8 1.9 3.5 2 4 2-2 1.9-8.8 2 6.4 1.9-2.6 2 .1 1.9-6.2 2 1.4 2-3 1.9 2.9 2 6.5 1.9 6 2-1.4 1.9 5.5 2-2 2 14.4 1.9 2 2 1.4 1.9 1 2-6.6 1.9-4.9 2-2.8 2-3.1 1.9-2.3 2 3 1.9-2 2 3.2 1.9 13 2-.7 1.9-1.7 2-1 2 .2 1.9 1.6 2-9.7 1.9-4.4 2 3 1.9-15.4 2-4.7 2 3.6 1.9 11.4 2-6.7 1.9-7.2 2 4.6 1.9-4.2 2-1.7 2 .3 1.9 2.8 2 5.2 1.9 12 2 5.3 1.9 13.8 2 .4 1.9-6 2-1.6 2-10.2 1.9-8.2 2-4.1 1.9-2.3 2 12.1 1.9-9.9 2 9.4M487.3 138.3l2-.4 1.9-.3 2-1.4 1.9 0 2 .7 1.9 1.2 2 .6 2-.9 1.9-.2 2 1.2 1.9.5 2-.4 1.9 2.4 2 .7 1.9-.7 2 .2 2-1.4 1.9 1 2 1.7 1.9.6 2-.8 1.9 0 2-.3 2 1.2 1.9.7 2 .4 1.9 1.9 2 .3 1.9.1 2-1.6 2-2.1 1.9-.6 2 1.8 1.9 2.1 2-.6 1.9-1.2 2 0 1.9.9 2 .2 2-.7 1.9-1.2 2-1.4 1.9 1.5 2-.8 1.9-.9 2 1.9 2-1.1 1.9.6 2-.5 1.9.9 2 1.3 1.9-.8 2-.1 2-.3 1.9-.1 2-.7 1.9.5 2-1.9 1.9.4 2 1.3 2-1.6 1.9.1 2 1.3 1.9 2.4 2-.8 1.9-1.5 2 .5 1.9 1.6 2-1.5 2 .6 1.9.3 2-1.1 1.9 1.1 2 .8 1.9-.8 2-.1 2 .6 1.9-.5 2 .1 1.9-.8 2 1.6 1.9-.5 2 0 2 1.3 1.9-.6 2 .2 1.9-.3 2-.2 1.9-1.2 2-1.7 1.9-.1 2-.3 2-1.1 1.9.2 2-1.3 1.9-2.1 2 1.2 1.9 1.5 2 1.4M487.3 142.8l2-1.8 1.9 2 2-1.4 1.9-1 2 1.1 1.9.8 2 .8 2 .4 1.9-.5 2-.9 1.9-1.2 2-.9 1.9 1.4 2 .2 1.9-1.7 2 .3 2 .1 1.9 1.3 2 .8 1.9-.9 2-.6 1.9.4 2-.7 2 .3 1.9.2 2 .9 1.9.4 2-.9 1.9 1.8 2 .2 2-1.4 1.9-.1 2-1.6 1.9.5 2 2.2 1.9-.6 2-2.6 1.9 1.3 2 1.9 2 .6 1.9.8 2 .8 1.9 1 2-1.1 1.9-.2 2-1.5 2-1 1.9.8 2-.6 1.9-.6 2-.8 1.9 1.7 2-.3 2 2.2 1.9.8 2-1.6 1.9.4 2 .4 1.9-2.1 2 .2 2-.3 1.9.7 2 1.2 1.9.1 2 1.1 1.9-.2 2 0 1.9-.7 2-.7 2 .8 1.9-.6 2 .6 1.9 1.6 2-.5 1.9 0 2-1.4 2-1.2 1.9-.7 2 1.4 1.9 0 2-.3 1.9-1.7 2-1.1 2 .4 1.9.9 2-.6 1.9 0 2 1.3 1.9 1 2-1.6 1.9-1.5 2 2.2 2 .2 1.9-.3 2 .8 1.9 2.8 2-1.1 1.9-2.6 2 .5M487.3 155.4l2 2.2 1.9 3.2 2 3.2 1.9 2.1 2 4.9 1.9 5.8 2 5.3 2-8.5 1.9-3.8 2-15.1 1.9-6.4 2 2.9 1.9 1.6 2 .5 1.9-3 2-1.1 2-1.4 1.9.2 2 1.9 1.9 6.7 2 1.5 1.9-4.3 2 1.7 2 1.7 1.9-2 2 1.5 1.9-1.7 2-2.4 1.9-1.3 2-6.2 2 9.9 1.9 1.4 2-.4 1.9 3.6 2 6.1 1.9 6.3 2 8.9 1.9 2.6 2 .9 2-.4 1.9-5.5 2-7.7 1.9-7.2 2-12.4 1.9 2.3 2-5.2 2-.8 1.9-3.3 2 1.6 1.9 1.6 2-.9 1.9 4.8 2-1.3 2-2 1.9 6.4 2 4.9 1.9 2.3 2 1.8 1.9-6.1 2-3 2 2.3 1.9 5 2-3.2 1.9-.5 2 5.7 1.9 3.4 2-8.2 1.9 2.2 2-5.9 2-7.3 1.9.7 2 4.5 1.9-4.9 2 .9 1.9-1.9 2 8.8 2 0 1.9-3.4 2 5.7 1.9.3 2-1.3 1.9 2.8 2-4.5 2-1.7 1.9-2.4 2-3.1 1.9-.1 2 1.4 1.9-1.7 2 2.4 1.9-2.2 2 2 2 4.9 1.9-4.3 2 10.1 1.9 2.5 2-1.6 1.9 6.2 2 10.8" stroke="#c3d0e4" stroke-width="0.42" fill="none" opacity="0.8"/>
<path d="M487.3 154.4l2.5.2 2.4 0 2.5 0 2.4 0 2.5 0 2.4-.1 2.5-.2 2.4-.2 2.5-.2 2.4-.1 2.5 0 2.4 0 2.5-.2 2.4-.2 2.5-.1 2.4-.2 2.5-.1 2.4.1 2.5.4 2.4.7 2.5.6 2.4.2 2.5-.3 2.4-.6 2.5-.4 2.4-.3 2.5-.3 2.5-.1 2.4-.2 2.5 0 2.4-.1 2.5 0 2.4 0 2.5 0 2.4 0 2.5 0 2.4.3 2.5.7 2.4.3 2.5-.6 2.4-.1 2.5.1 2.4.2 2.5.2 2.4.2 2.5.1 2.4 0 2.5 0 2.4.1 2.5.1 2.4 0 2.5 0 2.5-.1 2.4-.2 2.5 0 2.4 0 2.5.1 2.4 0 2.5-.1 2.4-.1 2.5-.1 2.4.1 2.5.2 2.4 0 2.5-.1 2.4-.3 2.5-.2 2.4-.1 2.5.1 2.4.2 2.5.2 2.4-.1 2.5-.4 2.4-.4 2.5-.3 2.4 0 2.5.3 2.4.4 2.5.4" stroke="#2563a8" stroke-width="0.9" fill="none" stroke-linejoin="round"/>
<line x1="551.6" y1="132.5" x2="551.6" y2="218" stroke="#e8323b" stroke-width="0.5" stroke-dasharray="1 0.8"/>
<path d="M487.3 199.4V218.2H681" stroke="#231f20" stroke-width="0.6" fill="none"/>
<line x1="519.3" y1="218.2" x2="519.3" y2="220.2" stroke="#231f20" stroke-width="0.6"/>
<text x="517.5" y="227" font-size="6.3" text-anchor="middle">−0.5</text>
<line x1="551.6" y1="218.2" x2="551.6" y2="220.2" stroke="#231f20" stroke-width="0.6"/>
<text x="551.6" y="227" font-size="6.3" text-anchor="middle">0</text>
<line x1="583.9" y1="218.2" x2="583.9" y2="220.2" stroke="#231f20" stroke-width="0.6"/>
<text x="583.9" y="227" font-size="6.3" text-anchor="middle">0.5</text>
<line x1="616.2" y1="218.2" x2="616.2" y2="220.2" stroke="#231f20" stroke-width="0.6"/>
<text x="616.2" y="227" font-size="6.3" text-anchor="middle">1.0</text>
<line x1="648.5" y1="218.2" x2="648.5" y2="220.2" stroke="#231f20" stroke-width="0.6"/>
<text x="648.5" y="227" font-size="6.3" text-anchor="middle">1.5</text>
<line x1="680.8" y1="218.2" x2="680.8" y2="220.2" stroke="#231f20" stroke-width="0.6"/>
<text x="680.8" y="227" font-size="6.3" text-anchor="middle">2.0</text>
<text x="584" y="234.8" font-size="6.4" text-anchor="middle">Time lag (s)</text>
<text x="494.5" y="207.5" font-size="6.3" text-anchor="middle" transform="rotate(-90 494.5 207.5)">200 µV</text>
<path d="M28.8 282.8l1.6-6.1 2.5-8.7 3.6-6.6 4.1-4.6 4.6-2.6.7.5 1.3 14.8 1.6 10.8 2-10.8 4.1-7.6 3.1-2.6 3.5-3.9 1.1-.2 1 9.2 1.7 11.5 2.9-6.4 4.1-8.1 4.6-4.9.5.3 2 10.7 1.2 6.1 2.4-6.6 3.1 14 2.5-7.4 3.3-6.3 2.5 7.4 3.1 10.7 3.1-7.7 4-9.7 5.2-8.2 6.1-5.1 6.1-2 5.1-1.3 6.2-.2 1.5 13.2 1.7 18.9 2.9-11.7 4.1-7.2 4.6-5.3" stroke="#3f7fc4" stroke-width="0.5" fill="none" stroke-linejoin="round" stroke-dasharray="0.6 0.6"/>
<path d="M25.5 283.8l.3-1 .3-1.5.5-1.7.5-1.9.5-2 .6-2.3.7-2.3.7-2.1.8-1.8.9-1.8.9-1.5 1-1.5 1-1.3 1-1.3 1-1 1.1-1 1.2-.9 1.3-.7 1.2-.6.9-.4.4-.4.2-.4 0 .1.1 1.2.3 2.8.3 4 .3 4.2.4 3.8.4 3.5.4 3.5.4 2.7.4 1.1.4-1.3.4-3 .5-3.5.7-3 .9-2.2 1.1-2.1 1.1-1.8 1-1.5.8-1 .8-.5.7-.5.8-.6.9-1 1-1.1.9-1.1.7-.7.4-.5.3-.4.2 0 .2.7.2 1.6.3 2.3.2 2.6.3 2.7.3 3.1.4 3.6.5 3.1.5 1.7.6-.3.7-1.7.8-2.3.8-2.1.9-2 1-2.1 1.1-2.2 1.1-1.8 1.2-1.6 1.3-1.4 1.2-1.1.9-.8.4-.5 0-.3 0 .2.1.9.4 2.1.6 2.9.5 3.1.5 2.6.3 2.1.3 2 .2 1.5.4.5.5-1.2.6-2.6.6-2.3.7-.5.7 2.6.8 4.4.9 4.5.7 2.5.6-.4.6-2 .6-2.7.7-2.3.8-2 .9-2.1.8-1.6.8-.6.7.8.6 1.8.6 2.4.6 2.4.7 2.9.8 3.4.8 2.9.8 1.5.8-.6.7-2 .8-2.6.8-2.5.9-2.3 1-2.5 1-2.5 1.1-2.4 1.2-2.2 1.3-2.2 1.3-2 1.4-1.8 1.5-1.6 1.5-1.3 1.6-1.2 1.5-1 1.5-.7 1.6-.5 1.5-.4 1.5-.4 1.3-.4 1.2-.4 1.3-.3 1.3-.2 1.6-.4 1.7-.6 1.7-.1 1.2.9.7 2.2.3 3.2.2 3.8.3 4 .4 5 .4 6 .4 5.2.5 2.7.6-.9.7-3.3.8-4.2.8-3.3.9-2.2 1-1.8 1.1-1.6 1.1-1.6 1.2-1.6 1.2-1.5 1.2-1.3 1-.9.8-.5.6-.1.5 0 .3 0" stroke="#2a6db5" stroke-width="0.75" fill="none" stroke-linejoin="round"/>
<path d="M25.5 318.2l.3.2.3.2.4.3.4.3.4.5.3.6.4.5.3.2.3-.1.3-.4.3-.6.4-1.2.5-1.9.6-2.4.7-2.6.8-2.3.9-2 1.1-1.8 1-1.7 1.1-1.6 1-1.4 1.1-1.2 1-1 .9-1 .9-.9.8-.7.8-.6.6-.4.5-.3.4-.1.3.1.3.3.3.4.2.6.3.8.3 1.3.4 1.9.4 2.5.5 2.6.4 2.2.4 2 .4 1.9.4 1.4.4.6.4-.6.4-1.6.5-1.9.5-1.8.7-1.6.7-1.6.8-1.5.8-1.4.9-1.2.9-1.2.9-1 .9-.9.9-.8.8-.7.8-.5.6-.4.4-.3.2-.1.2.2.2.7.3 1.6.4 2.1.4 2.4.4 2.1.4 2 .3 2.1.4 1.6.5.6.5-.8.6-1.9.7-2.2.7-1.9.8-1.4.8-1.3 1-1.2 1-1.2 1.3-1.2 1.4-1.2 1.4-1 1-.7.5-.3.2.1.1.3.2.4.4.6.5.9.6.9.6.7.7.5.7.2.8.4.6.4.4.5.3.4.3.8.3 1.4.4 2.8.5 3.7.5 3.4.6 1.8.6-.5.7-1.9.7-2.5.8-2.2.9-1.8.9-1.9.9-1.6.8-.9.5-.1.4.4.3.9.4 1.4.5 1.9.4 2.5.5 2.7.6 2.6.6 2.7.6 3 .7 2.4.7 1.1.8-.8.8-2.2.9-2.7 1-2.5 1.1-2.3 1.3-2.3 1.3-2.3 1.5-2.3 1.7-2.3 1.8-2.2 1.9-2.1 1.7-1.6 1.6-1 1.6-.6 1.5-.4 1.4-.5 1.4-.6 1.3-.7 1.3-.6 1.2-.5 1.2-.4 1.2-.4 1.2-.3 1-.1.9 0 .8 0 .7.3.6.7.5.8.3 1.1.3 1.6.4 2.7.5 4.9.6 6.6.6 6.1.6 3.3.7-.6.7-3.1.8-4 .7-3 .7-1.7.8-1.3.7-1.1.8-1 .9-1 1.1-1 .9-.7.7-.6" stroke="#e8323b" stroke-width="0.65" fill="none" stroke-linejoin="round"/>
<path d="M272 297.2l1.6-6.1 2.5-4.3 4.3-4.3 4.9-3.1 1.8-.2.9 5.1.9 20.9 1 19.6 1.3-13.5 1.4-12.2 3.1-6.8 1.8 0 1.3 12.9 1.2 5.5 2.5-6.7 3.6-8 5-6.8 5.5-6.1 1.2-.6 1.2 10.4 1.9 34.4 2.4-17.2 3.7-11 3.7-7.4 3.1-5.5 1.2 4.3 1.6 30.7 2.7-15.9 3.7-9.2 5.6-7.4 6.4-3.3 2.8 1.5 2.7 30.3 3.7-13.8 6.5-10.1 7.3-5.5 7.4-2.8" stroke="#ec5960" stroke-width="0.5" fill="none" stroke-linejoin="round" stroke-dasharray="0.6 0.6"/>
<path d="M268.7 297.7l.3-1.1.3-1.7.5-1.8.5-1.5.5-1.2.6-1.1.6-1 .8-1 .9-1.1 1.1-1.1 1.1-1.1 1.2-1 1.3-.9 1.3-.9 1.3-.8 1-.5.7-.4.5-.2.3 0 .3.4.3.5.2.7.2 1.4.2 2.5.2 4.1.2 5.4.3 5.9.2 5.5.2 5.8.3 6.1.2 5.2.3 2.5.3-1.1.3-3.7.4-4.6.3-4.1.3-3.3.3-3.2.3-3.1.5-2.6.7-2.2.8-2 .9-1.5.7-1.1.6-.8.4-.4.4.1.4 1.1.4 2.5.3 3.6.3 3.8.3 3 .3 2.2.2 1.8.3 1.2.4.3.5-.8.6-1.7.7-2.1.7-2.1.8-1.9.8-2.1 1-2.1 1-1.9 1.1-1.8 1.3-1.7 1.3-1.7 1.3-1.6 1.4-1.7 1.6-1.7 1.4-1.6 1.1-1.1.6-.8.3-.5.1-.1.2.8.3 1.3.3 1.7.3 2.9.3 4.5.4 8.1.5 10.8.5 10 .5 5.5.5-.8.6-5 .6-6.3.7-5.1.8-3.3 1-2.8.9-2.5 1-2.4.9-2.1 1-1.9.9-1.8.9-1.6.9-1.7.8-1.8.8-1.4.6-.6.4-.2.3.1.2 1.2.3 3.2.3 6.9.4 9.7.4 9.1.5 5 .6-.9.6-4.6.7-5.8.8-4.6.8-2.8.9-2.3.9-2.1 1.1-2 1.2-2.1 1.4-2 1.5-1.8 1.5-1.5 1.6-1.2 1.8-1 1.6-.7 1.4-.4 1-.6.6-.8.6.4.6 2.5.7 6.6.6 9.5.7 9.1.7 5.1.8-.4.8-4 1-5.2 1.1-4.2 1.4-2.9 1.6-2.7 1.8-2.4 1.7-2.1 1.8-1.8 1.8-1.4 1.8-1.2 1.9-1.1 1.9-.9 2-.8 1.9-.6 1.6-.5 1.3-.4 1-.2.8-.2.6-.1" stroke="#e8323b" stroke-width="0.7" fill="none" stroke-linejoin="round"/>
<path d="M268.9 263.9l.3-.1.4 0 .4-.2.6-.4.7-.8.7-1 .9-1.1.8-1 .8-.8.9-.8.9-.8.9-.7 1-.8 1-.7 1-.7 1.1-.6 1.2-.5 1.3-.3 1.2-.3.9-.1.5 0 .2 0 .1.3.2.7.3 1.3.4 1.7.3 2 .4 2.1.3 2.6.4 3 .3 2.7.4 1.4.4-.2.4-1.5.5-1.8.5-1.6.6-1.2.6-1.2.7-1.2.7-1 .8-1 .8-.9.8-.7.7-.4.7.1.6.5.6.7.6.7.6.8.6 1 .5.9.6.4.5-.2.6-.7.5-.9.7-.8.8-.7.9-.8.9-.8 1-.7 1-.7 1.1-.6 1-.6 1-.5 1-.3 1-.3.9-.1.7 0 .5 0 .4 0 .3.3.3.7.4 1.1.3 1.5.4 1.8.4 2.2.4 3.2.5 4 .4 3.6.5 2 .4-.2.4-1.7.5-2.3.5-1.9.7-1.4.8-1.4.8-1.3.8-1 .8-.8.9-.5.8-.4.9-.5 1-.6 1-.7.9-.5.8-.1.5.1.3.4.2.8.4 1.5.5 2.9.7 4.1.7 3.7.7 2.2.7-.1.8-1.5.8-2.1 1-1.9 1.2-1.6 1.3-1.8 1.5-1.6 1.6-1.4 1.8-1.1 2-.8 1.9-.6 1.6-.6 1.2-.5 1-.5.8-.2.7.1.6.4.4.7.3 1 .5 1.2.6 1.7.7 2.2.7 2 .8 1.1.8-.1.9-.9 1-1.2 1-1.1 1.1-.9 1.1-1 1.2-.9 1.2-.9 1.3-.8 1.4-.7 1.4-.7 1.4-.6 1.4-.5 1.3-.3 1.4-.3 1.4-.2 1.5-.1 1.6 0 1.5.1 1 0" stroke="#2a6db5" stroke-width="0.75" fill="none" stroke-linejoin="round"/>
<line x1="25.5" y1="246.5" x2="25.5" y2="331.8" stroke="#414042" stroke-width="0.6"/>
<line x1="29.6" y1="246.5" x2="29.6" y2="331.8" stroke="#231f20" stroke-width="0.6" stroke-dasharray="0.55 0.75"/>
<path d="M25.5 334.6H29.6" stroke="#231f20" stroke-width="0.6"/>
<path d="M25.3 334.6l1.4 -0.9v1.8z M29.8 334.6l-1.4 -0.9v1.8z" fill="#231f20"/>
<text x="27.6" y="343" font-size="6.2" text-anchor="middle" font-style="italic">Δt</text>
<g transform="translate(20.1 295.9) rotate(-90)"><text x="-9.20" y="0" font-size="7.2" fill="#231f20">L</text><path d="M-4.00 -2.6H2.20" stroke="#231f20" stroke-width="0.65"/><path d="M2.80 -2.6l-2 -1.2v2.4z" fill="#231f20"/><text x="4.00" y="0" font-size="7.2" fill="#231f20">R</text></g>
<path d="M130 334.4H148.2V313.6" stroke="#58595b" stroke-width="0.7" fill="none"/>
<text x="146.1" y="322.2" font-size="6.6" text-anchor="middle" transform="rotate(-90 146.1 322.2)">300 µV</text>
<text x="138.6" y="343" font-size="6.6" text-anchor="middle">100 ms</text>
<line x1="268.9" y1="246.5" x2="268.9" y2="331.8" stroke="#414042" stroke-width="0.6"/>
<line x1="272.6" y1="246.5" x2="272.6" y2="331.8" stroke="#231f20" stroke-width="0.6" stroke-dasharray="0.55 0.75"/>
<path d="M268.9 334.6H272.6" stroke="#231f20" stroke-width="0.6"/>
<path d="M268.7 334.6l1.4 -0.9v1.8z M272.8 334.6l-1.4 -0.9v1.8z" fill="#231f20"/>
<text x="270.8" y="343" font-size="6.2" text-anchor="middle" font-style="italic">Δt</text>
<g transform="translate(263.5 295.9) rotate(-90)"><text x="-9.20" y="0" font-size="7.2" fill="#231f20">R</text><path d="M-2.80 -2.6H3.40" stroke="#231f20" stroke-width="0.65"/><path d="M4.00 -2.6l-2 -1.2v2.4z" fill="#231f20"/><text x="5.20" y="0" font-size="7.2" fill="#231f20">L</text></g>
<path d="M367.2 334.4H385.4V313.6" stroke="#58595b" stroke-width="0.7" fill="none"/>
<text x="383.3" y="322.2" font-size="6.6" text-anchor="middle" transform="rotate(-90 383.3 322.2)">300 µV</text>
<text x="375.8" y="343" font-size="6.6" text-anchor="middle">100 ms</text>
<path d="M158.6 288.4l1.7.1 1.7-.4 1.6-.7 1.7-1.1 1.7-1.9 1.7-.7 1.6-1 1.7-1.4 1.7.4 1.7-.3 1.6-2.3 1.7-2.7 1.7-1 1.7.8 1.7.9 1.6-.8 1.7-.5 1.7-.2 1.7.7 1.6 1.6 1.7.6 1.7 1.1 1.7 3 1.6 3.2 1.7 3.7 1.7 4.1 1.7 4.1 1.7.9 1.6-1.4 1.7-2.8 1.7-1.7 1.7-.9 1.6-1.1 1.7-.9 1.7-.7 1.7-.3 1.6-.9 1.7-1.8 1.7-.6M158.6 282l1.7-.5 1.7-1.1 1.6-.8 1.7-.2 1.7-1.4 1.7-.3 1.6 0 1.7-.6 1.7.6 1.7-1.1 1.6-.5 1.7 1.7 1.7 2.5 1.7 2.6 1.7 1.8 1.6.5 1.7-1.8 1.7-2.6 1.7-2.6 1.6-1.5 1.7-2.3 1.7-1.3 1.7 2.1 1.6 1.3 1.7 2.4 1.7 5.1 1.7 5.2 1.7 2.6 1.6 3.2 1.7 1.7 1.7.8 1.7-1.2 1.6-.7 1.7.1 1.7.7 1.7-1.5 1.6-1.7 1.7-1.4 1.7-1.6M158.6 288.3l1.7-1.2 1.7-.3 1.6-.3 1.7.4 1.7 1.8 1.7.3 1.6-.6 1.7-.3 1.7-1 1.7-.7 1.6.6 1.7.3 1.7.5 1.7.1 1.7-.6 1.6-1.3 1.7-2.7 1.7-2.3 1.7-1.2 1.6.6 1.7 2 1.7 1 1.7 1.8 1.6 3.3 1.7 4.2 1.7 4.3 1.7 1.8 1.7.4 1.6-.6 1.7-1 1.7-.9 1.7-2 1.6-.9 1.7-1.3 1.7.1 1.7.3 1.6.3 1.7-.1 1.7-.6M158.6 286.8l1.7.7 1.7.6 1.6-.7 1.7-1.9 1.7-1.8 1.7-2.2 1.6-3.5 1.7-1.3 1.7.3 1.7 0 1.6 1 1.7 1.4 1.7-.5 1.7 1.1 1.7.8 1.6.6 1.7 1.5 1.7 1.2 1.7 0 1.6-.4 1.7-.5 1.7-.6 1.7.8 1.6.9 1.7 2.1 1.7 2.5 1.7 1 1.7-.7 1.6-1.3 1.7-1.1 1.7 1.2 1.7 3.1 1.6 2.5 1.7 2.1 1.7 1.6 1.7 1.1 1.6-.2 1.7-.2 1.7-.8M158.6 274l1.7 4 1.7 3.2 1.6 3.1 1.7 1.5 1.7 1.4 1.7.4 1.6-.6 1.7-.6 1.7-.2 1.7.6 1.6-.9 1.7-2.4 1.7-1 1.7-.3 1.7-.5 1.6.2 1.7-1.5 1.7-3.8 1.7-.8 1.6 1.4 1.7.3 1.7.6 1.7 4.2 1.6 6 1.7 5.6 1.7 3.7 1.7 3.8 1.7 1.8 1.6-1.2 1.7-4.9 1.7-4.7 1.7-4.3 1.6-2.2 1.7.2 1.7 1.3 1.7 1 1.6.7 1.7.2 1.7-.1M158.6 276.1l1.7-.6 1.7-.6 1.6-1.3 1.7-.8 1.7-.5 1.7 0 1.6.4 1.7.5 1.7.6 1.7-.1 1.6-1 1.7-.5 1.7 1.9 1.7 1.8 1.7 2.1 1.6.5 1.7.7 1.7-.8 1.7-1.2 1.6-1.5 1.7-1.1 1.7-1.1 1.7 1.5 1.6 3.6 1.7 4.7 1.7 4.9 1.7 5.3 1.7 2.2 1.6.2 1.7-3.3 1.7-2.9 1.7-2.5 1.6-.4 1.7.6 1.7.4 1.7.7 1.6-.3 1.7-2.7 1.7-4M158.6 289.2l1.7.3 1.7 1.7 1.6 1.5 1.7.7 1.7-.2 1.7-1.1 1.6.8 1.7.6 1.7-.6 1.7-1.6 1.6-.8 1.7 1 1.7.3 1.7.6 1.7 1.6 1.6 1.2 1.7 0 1.7-.1 1.7-.4 1.6-1.2 1.7 0 1.7-.3 1.7 2 1.6 2.7 1.7 3 1.7 4.6 1.7 5 1.7 3.9 1.6 1.7 1.7-1.7 1.7-1.1 1.7-.3 1.6.4 1.7-1.3 1.7-2.4 1.7-1.4 1.6.2 1.7-.7 1.7-3.3M158.6 289l1.7-1 1.7-.9 1.6-1 1.7-1.1 1.7-1.6 1.7-.7 1.6-1.7 1.7-1.5 1.7-1.3 1.7 1.3 1.6 2.5 1.7.5 1.7-.5 1.7-.2 1.7 1.1 1.6 1.1 1.7 2.4 1.7.9 1.7-.3 1.6.8 1.7 1.9 1.7 2 1.7 1.8 1.6 1.1 1.7 1.8 1.7 2.2 1.7 2.4 1.7.4 1.6 2.4 1.7.7 1.7 2.1 1.7 1.8 1.6-.9 1.7-2.7 1.7-1.8 1.7-.8 1.6-2.8 1.7-1.9 1.7-2.1M158.6 285.5l1.7-.5 1.7-1.4 1.6-2.6 1.7-2.6 1.7-2.9 1.7-1.6 1.6-.8 1.7-1.1 1.7.4 1.7 1 1.6 1.2 1.7.1 1.7.1 1.7 2 1.7 2.8 1.6 1.6 1.7 1.1 1.7.6 1.7-.4 1.6-.1 1.7-.2 1.7-1.3 1.7-.6 1.6 1.9 1.7 3.7 1.7 5.3 1.7 5.1 1.7 2.6 1.6.4 1.7-2.4 1.7-2.5 1.7-.8 1.6-.6 1.7-1.4 1.7 0 1.7 1.6 1.6-1.6 1.7-2.3 1.7-3.2M158.6 283.2l1.7.8 1.7 1.2 1.6 1.2 1.7-1.5 1.7-1.8 1.7.5 1.6-1.8 1.7-2.5 1.7-.1 1.7 1.8 1.6 1.3 1.7 2.8 1.7 2.8 1.7 1.2 1.7 1.3 1.6 1.4 1.7 1 1.7-1.3 1.7-2.2 1.6-1.8 1.7-2.1 1.7-1.5 1.7 1.3 1.6 1.9 1.7 1.1 1.7 2.1 1.7 3.1 1.7 3.3 1.6 1.9 1.7-.7 1.7.2 1.7.5 1.6.2 1.7-.3 1.7-2 1.7-2.6 1.6-3.3 1.7-2.4 1.7-.3M158.6 277.6l1.7 1 1.7-1.3 1.6-1.7 1.7.9 1.7 1.6 1.7-.1 1.6-.8 1.7.3 1.7.6 1.7.5 1.6-1.7 1.7-2.4 1.7-2.2 1.7-1.3 1.7-1.2 1.6-1.1 1.7-.6 1.7.4 1.7 1.2 1.6 1.9 1.7 1.5 1.7.8 1.7 1.2 1.6 1.9 1.7 2.1 1.7 4.6 1.7 4.2 1.7 2.2 1.6 1.1 1.7-.9 1.7.2 1.7.2 1.6.2 1.7-.7 1.7-1.5 1.7-2.3 1.6-2.4 1.7-2.1 1.7-.3M158.6 285.1l1.7.4 1.7-.3 1.6.3 1.7.3 1.7.9 1.7-.3 1.6-2.5 1.7-1.7 1.7 0 1.7-.4 1.6.3 1.7 1.5 1.7 1.9 1.7.5 1.7-1.7 1.6-1.9 1.7-.8 1.7-1.8 1.7-1.1 1.6-.1 1.7.1 1.7 1 1.7 2.7 1.6 1.4 1.7 2 1.7 3 1.7 4 1.7 3.8 1.6 3.3 1.7.7 1.7 0 1.7-.1 1.6.4 1.7-1.5 1.7-2.7 1.7-1.7 1.6-1.6 1.7-1.5 1.7-1.4M158.6 275.1l1.7 2.2 1.7 1.6 1.6.3 1.7 1.7 1.7 1.7 1.7.7 1.6 2.8 1.7 2 1.7-1.4 1.7-.5 1.6 1.5 1.7.5 1.7-.2 1.7-2.1 1.7-1.2 1.6.6 1.7.1 1.7-.6 1.7-.6 1.6-1.5 1.7-1.2 1.7-.4 1.7 1.6 1.6 1.7 1.7 1.1 1.7 1 1.7 1.2 1.7 2.3 1.6 1 1.7-1.2 1.7.6 1.7-.3 1.6 1.8 1.7 1.3 1.7-.2 1.7-.1 1.6-.3 1.7-1 1.7-.8M158.6 284.8l1.7-2.1 1.7-1.8 1.6-.5 1.7.7 1.7-.5 1.7-.1 1.6.2 1.7.9 1.7 1.8 1.7-.8 1.6-.2 1.7 1.4 1.7 0 1.7-.3 1.7-1.5 1.6-2.2 1.7-1.4 1.7-1 1.7-.8 1.6.4 1.7 1.2 1.7 1.4 1.7 1.7 1.6 1.8 1.7 3.4 1.7 4.9 1.7 1.8 1.7.5 1.6 1.8 1.7-2 1.7-.8 1.7-.8 1.6-.3 1.7 1 1.7 1.5 1.7.1 1.6-1.8 1.7-.9 1.7-.6M158.6 277.7l1.7.4 1.7-.9 1.6-1.2 1.7.7 1.7 2.2 1.7 2.3 1.6.3 1.7-.3 1.7-.5 1.7-1.7 1.6-2.8 1.7-2.4 1.7-1 1.7-.2 1.7.6 1.6 1.6 1.7 1 1.7.3 1.7-1.5 1.6-.9 1.7 2 1.7 2.4 1.7 1.9 1.6 1.8 1.7 4.1 1.7 4.5 1.7 3.4 1.7 2 1.6 1.9 1.7-.2 1.7.5 1.7.9 1.6-1 1.7-2.6 1.7-3.6 1.7-3.3 1.6-3.1 1.7-3.3 1.7-3M158.6 293.4l1.7.6 1.7.6 1.6.2 1.7-.3 1.7-.4 1.7 1 1.6.6 1.7-.3 1.7.6 1.7 1.8 1.6.9 1.7.3 1.7-.9 1.7-1.7 1.7-.5 1.6-.3 1.7-1.3 1.7-3.2 1.7-2.5 1.6-1.4 1.7-2.1 1.7-.6 1.7 1.4 1.6 1.4 1.7 2.4 1.7 3 1.7 2.5 1.7 1.6 1.6 2.4 1.7.2 1.7 1.3 1.7.5 1.6-.6 1.7.8 1.7-.4 1.7 0 1.6 0 1.7-.5 1.7-1.3M158.6 286l1.7-1 1.7 1.1 1.6 2.8 1.7 1.4 1.7-.4 1.7-1.9 1.6-2.3 1.7-1.6 1.7-.9 1.7-1.8 1.6-1.1 1.7-.3 1.7-.2 1.7-.8 1.7-.3 1.6-1.1 1.7-1.1 1.7-.4 1.7.3 1.6 0 1.7-.1 1.7-.2 1.7 2.4 1.6 3.8 1.7 3.4 1.7 4.7 1.7 4.6 1.7 4.3 1.6 5.2 1.7 1.8 1.7-1.1 1.7-.8 1.6-1.3 1.7-1.6 1.7-2.8 1.7-3.5 1.6-3.1 1.7-1 1.7.7M158.6 297.5l1.7.1 1.7-.8 1.6-.9 1.7-1.8 1.7-.3 1.7 1.1 1.6 1.9 1.7-1.4 1.7-1.6 1.7-.3 1.6-1.7 1.7-1.6 1.7 1.4 1.7 2.2 1.7 1.9 1.6 2.7 1.7 1.9 1.7.3 1.7-.7 1.6.2 1.7.2 1.7.1 1.7 1.2 1.6.8 1.7 1 1.7 1.8 1.7 2.6 1.7 1.9 1.6.9 1.7-.6 1.7-.7 1.7-1.2 1.6-.8 1.7-1.2 1.7-1.1 1.7-.1 1.6.5 1.7.1 1.7-.8M158.6 298.2l1.7.2 1.7.1 1.6.1 1.7.2 1.7 1.9 1.7 2.4 1.6.7 1.7-.3 1.7.1 1.7-.9 1.6-1.3 1.7-2.1 1.7-1 1.7.1 1.7-.1 1.6.2 1.7-.3 1.7-.1 1.7.2 1.6-.1 1.7-.1 1.7.5 1.7 1.1 1.6 1.4 1.7.9 1.7 1.4 1.7 1.2 1.7 1.3 1.6 1.3 1.7-.7 1.7-.4 1.7-.8 1.6-.5 1.7-1.3 1.7-3 1.7-2.1 1.6-1.8 1.7-1.1 1.7-1.2M158.6 298.4l1.7 2.3 1.7 1.4 1.6.7 1.7-.7 1.7-1.6 1.7-1.3 1.6-1.4 1.7-.4 1.7 2 1.7 1.2 1.6 1.7 1.7 1.9 1.7-.5 1.7-1.6 1.7-1.8 1.6-1.1 1.7-2.7 1.7-3.2 1.7-2.1 1.6-2.1 1.7-.7 1.7 1.7 1.7 4 1.6 4.4 1.7 3.8 1.7 3.3 1.7 2.9 1.7 1.9 1.6 3.1 1.7.7 1.7-1.7 1.7-2.9 1.6-.6 1.7.4 1.7-1.4 1.7-1.3 1.6-.4 1.7 1.3 1.7-.7M158.6 296.7l1.7-2 1.7-2.9 1.6-2.6 1.7-.8 1.7-.2 1.7.3 1.6 1.8 1.7.6 1.7-1.3 1.7.1 1.6 1.6 1.7.1 1.7-1.5 1.7-1.3 1.7-2.3 1.6-2 1.7-1 1.7-.2 1.7-.3 1.6.8 1.7.8 1.7 1.3 1.7 4.3 1.6 2.9 1.7 1.7 1.7 2.5 1.7 3.2 1.7 3.6 1.6 2.9 1.7-.5 1.7-.2 1.7-.7 1.6-1.5 1.7 1.1 1.7.5 1.7 0 1.6-1.3 1.7-3.4 1.7-2.8M158.6 285.7l1.7-1.9 1.7-1.9 1.6-.3 1.7.4 1.7 1.3 1.7 1.2 1.6.2 1.7-.3 1.7-.7 1.7-1.8 1.6-.4 1.7-.3 1.7-.3 1.7 1.3 1.7-1.1 1.6-.7 1.7-.6 1.7 0 1.7 1.3 1.6 2.1 1.7.8 1.7.9 1.7 2.1 1.6 2.4 1.7 2.3 1.7 2.4 1.7 3.1 1.7 3.7 1.6 2.5 1.7.6 1.7 1.7 1.7-.3 1.6-.6 1.7-3.8 1.7-3.9 1.7-2.7 1.6-2.9 1.7-2.2 1.7-1.6M158.6 279l1.7.5 1.7.7 1.6.2 1.7-.7 1.7 0 1.7.5 1.6.8 1.7-.5 1.7 1.1 1.7 2.5 1.6 2 1.7 1.4 1.7 1.8 1.7 1.8 1.7-.5 1.6-1.3 1.7-1.5 1.7-1.3 1.7-3.2 1.6-3.8 1.7-2.8 1.7-1.5 1.7 1.9 1.6 2.4 1.7 2.1 1.7 1.6 1.7 2.9 1.7 4.8 1.6 3.9 1.7 1.3 1.7.9 1.7-.3 1.6.2 1.7.1 1.7.1 1.7-.6 1.6-2.4 1.7-1.6 1.7-1.9M158.6 289.5l1.7.9 1.7.4 1.6.1 1.7 1.4 1.7 1.6 1.7 0 1.6-1 1.7-1.9 1.7-1.1 1.7-.4 1.6-1 1.7-1.1 1.7-1.2 1.7-1.7 1.7-.7 1.6-.6 1.7.3 1.7.7 1.7-1.8 1.6-1.7 1.7 1.5 1.7 2.4 1.7 3 1.6 2.4 1.7 2.5 1.7 2.7 1.7 3 1.7 2.5 1.6 2.1 1.7.5 1.7-.3 1.7-1.8 1.6-2.5 1.7-1.8 1.7-1.3 1.7-.9 1.6-1.9 1.7-1.7 1.7-.5M158.6 280.4l1.7-.3 1.7.4 1.6 1.7 1.7 1.3 1.7-2.5 1.7-2.8 1.6-1.5 1.7-1.2 1.7-1.7 1.7-2.7 1.6-1.1 1.7.2 1.7.9 1.7 1 1.7-2.1 1.6.5 1.7 1.8 1.7 2 1.7 2.7 1.6 2 1.7 2 1.7 1.9 1.7 1.7 1.6 1.7 1.7 2.6 1.7 3.9 1.7 2.6 1.7 1.9 1.6 1.3 1.7.2 1.7-.6 1.7-.1 1.6.8 1.7.9 1.7-.2 1.7-2.4 1.6-3.3 1.7-3.2 1.7-2.8M158.6 272.9l1.7 1.3 1.7.8 1.6-.5 1.7-1 1.7-2 1.7-.1 1.6-.3 1.7-.9 1.7-.3 1.7.3 1.6.5 1.7.4 1.7-1.9 1.7-1.3 1.7.1 1.6-.5 1.7.4 1.7 2.2 1.7 2.1 1.6 3.1 1.7 2.2 1.7.3 1.7 2.1 1.6 3.3 1.7 2.2 1.7 2.1 1.7 3.2 1.7 1.7 1.6.9 1.7-.9 1.7.5 1.7-1.8 1.6-2.2 1.7-1.5 1.7-.7 1.7-1.3 1.6-1 1.7.4 1.7 1.6M158.6 284.3l1.7.9 1.7.6 1.6-.2 1.7-1.3 1.7 0 1.7-.1 1.6-2 1.7-1.7 1.7-1.7 1.7-2.4 1.6-3 1.7-2.6 1.7-.6 1.7.9 1.7 2.4 1.6 1.5 1.7 1 1.7 1 1.7-2 1.6-.5 1.7.2 1.7-2.3 1.7.9 1.6 3.8 1.7 3.4 1.7 4.1 1.7 5.6 1.7 2.3 1.6-.2 1.7-1.9 1.7 1.2 1.7 2.3 1.6-1 1.7-2.3 1.7-1.9 1.7.6 1.6.8 1.7-.2 1.7 1M158.6 294.6l1.7.6 1.7.4 1.6-.6 1.7.5 1.7.9 1.7-.5 1.6-1.3 1.7-1.8 1.7-.6 1.7-1.4 1.6-1.5 1.7-3.1 1.7-1.8 1.7-.2 1.7 1 1.6.9 1.7-.6 1.7-1.2 1.7-1.2 1.6-1 1.7-.3 1.7 1.3 1.7 4 1.6 3.8 1.7 2.6 1.7 3.8 1.7 3.2 1.7 2.3 1.6 1.7 1.7-1 1.7-1.3 1.7-1.6 1.6-1.7 1.7-1.9 1.7-.5 1.7 1.2 1.6 1.9 1.7.9 1.7.2M158.6 293.6l1.7.8 1.7 1.1 1.6.7 1.7-1.2 1.7-.8 1.7-1.5 1.6-2.1 1.7-2 1.7-2.2 1.7.3 1.6 1.5 1.7-.3 1.7 1.3 1.7 2.2 1.7 1.5 1.6-.2 1.7-.2 1.7-.6 1.7-1.1 1.6.3 1.7 1.7 1.7-.4 1.7 1.1 1.6 1.9 1.7 1.4 1.7 4.5 1.7 5.1 1.7 1.7 1.6.6 1.7 1.1 1.7.2 1.7-2 1.6-1.4 1.7-1.6 1.7-1.2 1.7-.9 1.6-2.3 1.7-1.5 1.7-.7M158.6 287.3l1.7-.2 1.7 2.1 1.6 1 1.7.4 1.7.4 1.7 1 1.6 1.9 1.7.2 1.7-2.2 1.7-2.7 1.6-1.9 1.7-1.6 1.7-1.1 1.7-.3 1.7 0 1.6 1 1.7-.7 1.7-.1 1.7 0 1.6-1.2 1.7-1.7 1.7-1 1.7 2.1 1.6 2.9 1.7 3.2 1.7 4.6 1.7 5.7 1.7 3.5 1.6 4.9 1.7 1.2 1.7-1.6 1.7-.5 1.6-1.5 1.7-2.3 1.7-2.3 1.7-2.2 1.6.2 1.7 1.2 1.7.2M158.6 283.9l1.7 0 1.7-1.2 1.6.2 1.7 1 1.7 1.5 1.7.4 1.6-2.8 1.7-1.3 1.7-.6 1.7-1.8 1.6.7 1.7-.8 1.7.5 1.7 2 1.7.1 1.6-2 1.7-1.8 1.7 1 1.7.9 1.6.9 1.7.7 1.7-.3 1.7 1.1 1.6 1.2 1.7 1.1 1.7 2.3 1.7 2 1.7 1 1.6 2 1.7-.6 1.7-.5 1.7 1 1.6.4 1.7-.8 1.7-.2 1.7-.3 1.6-.4 1.7-.6 1.7-1.8M158.6 282.3l1.7 1 1.7-.2 1.6-1.2 1.7-1.4 1.7-.9 1.7 1 1.6 2.2 1.7 2.1 1.7 1.5 1.7.4 1.6-1.1 1.7-1.4 1.7-1.9 1.7-1.3 1.7-.7 1.6 1 1.7-.8 1.7-1.3 1.7-1.7 1.6-1 1.7-.6 1.7.6 1.7 3.9 1.6 4.9 1.7 3.8 1.7 4.1 1.7 3.6 1.7 3.4 1.6 2.2 1.7-1.1 1.7-.2 1.7-.6 1.6-1 1.7-.9 1.7-.9 1.7-.9 1.6-.7 1.7-.6 1.7-.1M158.6 289l1.7-1 1.7-3 1.6-2.7 1.7-.2 1.7-.4 1.7-1.5 1.6-1.2 1.7-2.7 1.7-2.7 1.7-1.1 1.6-.5 1.7-1.5 1.7-.7 1.7 1.5 1.7 1.5 1.6 1.3 1.7.7 1.7.7 1.7.8 1.6.7 1.7.3 1.7-.1 1.7 1.7 1.6 3.5 1.7 3 1.7 3.1 1.7 2.6 1.7 2.4 1.6 1.3 1.7 0 1.7-.3 1.7.8 1.6.5 1.7.3 1.7.3 1.7-.3 1.6-1.5 1.7-1.3 1.7-1.6M158.6 288.9l1.7-1.1 1.7-.6 1.6-.7 1.7-.8 1.7-.5 1.7-.5 1.6-.3 1.7.8 1.7.1 1.7 0 1.6.8 1.7 1.1 1.7 2.1 1.7.6 1.7-1.3 1.6-3.2 1.7-1.9 1.7-.8 1.7.3 1.6.8 1.7 2.5 1.7 1.8 1.7 1.1 1.6 2.8 1.7 3.6 1.7 2.3 1.7 2 1.7.6 1.6 1.1 1.7-.3 1.7-3 1.7-3.8 1.6-2.1 1.7-1.4 1.7-1.1 1.7-.7 1.6.5 1.7 1.5 1.7-.4M158.6 286.7l1.7-2.8 1.7-1 1.6 1.3 1.7 3.1 1.7 1.6 1.7 1 1.6.5 1.7-.9 1.7-1.9 1.7 0 1.6-.3 1.7-.8 1.7 0 1.7-.1 1.7-1 1.6.1 1.7 1.1 1.7-.3 1.7.6 1.6 1.7 1.7.3 1.7.3 1.7 2.6 1.6 4 1.7 4.2 1.7 1.8 1.7 1.2 1.7-.3 1.6.4 1.7-2.2 1.7-2.7 1.7-2.4 1.6.2 1.7-1.1 1.7-.7 1.7-2.2 1.6-2.2 1.7-2.1 1.7-2.9M158.6 290.7l1.7 1.4 1.7 2 1.6 2.1 1.7-.5 1.7-1.3 1.7-.3 1.6.1 1.7.7 1.7.1 1.7.8 1.6 0 1.7-1.3 1.7-2 1.7-1.1 1.7.7 1.6-.3 1.7-.6 1.7-1.7 1.7-2.4 1.6-1.3 1.7-.8 1.7-.7 1.7 2.2 1.6 4.6 1.7 4.3 1.7 3.9 1.7 3.3 1.7 3.5 1.6 2 1.7-.8 1.7-1 1.7-2.4 1.6-1.8 1.7-2.2 1.7-3.8 1.7-3.2 1.6-2.7 1.7.7 1.7 1.7M158.6 282.9l1.7-2.7 1.7-3.2 1.6-1 1.7 1 1.7.6 1.7-1.3 1.6-1.1 1.7-.9 1.7-1.3 1.7.5 1.6-.5 1.7-.2 1.7 1.3 1.7 1.6 1.7.8 1.6.5 1.7.8 1.7-1.5 1.7-2.1 1.6-1.7 1.7-1.4 1.7.7 1.7 3.7 1.6 4.3 1.7 1.7 1.7 2.6 1.7 6.6 1.7 3.7 1.6 0 1.7-1.7 1.7-.5 1.7-2 1.6-1.4 1.7-1 1.7-.5 1.7.2 1.6 0 1.7-1.4 1.7-1.6M158.6 291.2l1.7-1 1.7-1.2 1.6-1.2 1.7-.3 1.7.9 1.7.3 1.6.8 1.7-.7 1.7-.4 1.7.4 1.6-2.6 1.7-3.3 1.7-1.9 1.7.5 1.7 1.3 1.6.2 1.7-.2 1.7.4 1.7.9 1.6 1.1 1.7-.3 1.7-1.2 1.7.9 1.6 2 1.7.2 1.7 2.6 1.7 3.3 1.7 2.2 1.6 2.6 1.7.4 1.7 0 1.7 0 1.6-1.7 1.7-2.9 1.7-3 1.7-.7 1.6 1.2 1.7 2.2 1.7 1.2M158.6 283.4l1.7.3 1.7.7 1.6-.3 1.7.3 1.7 2.9 1.7 1.9 1.6-.9 1.7-1 1.7-1.7 1.7-2.4 1.6-1.1 1.7.5 1.7-.7 1.7-1 1.7.2 1.6-1 1.7-.2 1.7.6 1.7 1.2 1.6.1 1.7-.2 1.7-.3 1.7 1.3 1.6 3.2 1.7 3.6 1.7 5.3 1.7 4.1 1.7.7 1.6 1.2 1.7-1.1 1.7-.2 1.7-.3 1.6-.8 1.7-.4 1.7-.5 1.7-.5 1.6.1 1.7-1.9 1.7-1.2M158.6 279.2l1.7 1.3 1.7 1.3 1.6 0 1.7 1.6 1.7 1.5 1.7.7 1.6-.8 1.7-.6 1.7-.6 1.7-1 1.6-.7 1.7-1.1 1.7-1.5 1.7-1.6 1.7.1 1.6.3 1.7-.4 1.7-1.2 1.7-.1 1.6 2 1.7 2.3 1.7 0 1.7 1.4 1.6 2.5 1.7 2.5 1.7 4.7 1.7 4.8 1.7.9 1.6.2 1.7-.5 1.7.7 1.7-1.3 1.6-2.7 1.7-.9 1.7-.2 1.7-1.3 1.6-.8 1.7-.5 1.7.3M158.6 286.7l1.7-1 1.7.5 1.6-.1 1.7-1 1.7-1.7 1.7-1.5 1.6.8 1.7 2.4 1.7 1.6 1.7-.3 1.6.2 1.7-.7 1.7-.9 1.7-.6 1.7-1.3 1.6-1.5 1.7-.7 1.7-.7 1.7-.7 1.6 1 1.7 1.7 1.7.4 1.7 2.1 1.6 2.2 1.7 2.3 1.7 3.4 1.7 4.7 1.7 2.2 1.6-.7 1.7-2 1.7-.8 1.7-.9 1.6-1.7 1.7-2.6 1.7-2.2 1.7-3.4 1.6-1.2 1.7.9 1.7.8M158.6 283.2l1.7-.1 1.7-.8 1.6-.2 1.7-.5 1.7-1.1 1.7-1 1.6-.8 1.7-.2 1.7.4 1.7-.2 1.6.6 1.7 2.3 1.7 1.8 1.7 2.1 1.7 2.8 1.6.9 1.7-.2 1.7-.7 1.7-3 1.6-2.1 1.7-.5 1.7-.1 1.7.3 1.6 1 1.7 2.2 1.7 4.3 1.7 6 1.7 3.9 1.6 1.6 1.7.7 1.7-1.1 1.7-2.2 1.6-2.2 1.7-1.7 1.7-1.3 1.7-1.9 1.6-1.5 1.7-1.6 1.7.1M158.6 287.4l1.7-1.2 1.7-1.3 1.6-.7 1.7.2 1.7-.5 1.7-1.1 1.6-1.3 1.7-1.5 1.7-1.7 1.7-3.9 1.6-2.2 1.7-.6 1.7-.6 1.7.8 1.7 1.1 1.6 1 1.7 1.4 1.7.2 1.7-.4 1.6.5 1.7 2.9 1.7.5 1.7 1 1.6 4.4 1.7 3.3 1.7 3.9 1.7 4.5 1.7 2.4 1.6.8 1.7-2.6 1.7-2.9 1.7-2.4 1.6-3.4 1.7-1 1.7.7 1.7-.1 1.6-1.9 1.7-1.5 1.7-1.1M158.6 277.6l1.7.7 1.7.6 1.6 1.6 1.7 3.2 1.7 2.5 1.7.7 1.6-.4 1.7-1.7 1.7-2 1.7-1.4 1.6 0 1.7 2.8 1.7 2.6 1.7 2.5 1.7 1.6 1.6 1.3 1.7 0 1.7-2.7 1.7-3.3 1.6-1.5 1.7.6 1.7-.2 1.7 1 1.6 1.9 1.7 2.1 1.7 2.3 1.7 2.8 1.7 1.4 1.6 1.2 1.7-.3 1.7-1.6 1.7-1.2 1.6 1.2 1.7.1 1.7-.9 1.7-.6 1.6-2.2 1.7-3.1 1.7-2.7M158.6 285.1l1.7 1.4 1.7-.2 1.6-.9 1.7-.7 1.7-.1 1.7.2 1.6.8 1.7 1.6 1.7 2 1.7 1.9 1.6 1.9 1.7-.8 1.7-1.9 1.7-.2 1.7-1.6 1.6-1.9 1.7-1.6 1.7-.4 1.7.5 1.6 1 1.7.5 1.7-.1 1.7 1.6 1.6 1.5 1.7 1.2 1.7 3 1.7 2.5 1.7.6 1.6.5 1.7.3 1.7.6 1.7.4 1.6.7 1.7-.5 1.7.8 1.7 1.2 1.6.2 1.7-.9 1.7-1.8M158.6 287.3l1.7 1.1 1.7-.5 1.6-1.9 1.7-2.7 1.7-1 1.7-.4 1.6.4 1.7-.2 1.7-.9 1.7-.2 1.6-.3 1.7-1.1 1.7-1.5 1.7-.2 1.7 2.2 1.6 2 1.7 1.2 1.7.2 1.7-1.6 1.6-1.8 1.7-1.5 1.7 1.2 1.7 3 1.6 3.5 1.7 6.1 1.7 5.3 1.7 3.1 1.7 1.5 1.6 1.3 1.7-2.4 1.7-2.7 1.7-2.9 1.6-4 1.7-3.5 1.7-2.3 1.7-1.4 1.6.5 1.7.9 1.7-.3" stroke="#f3a9ac" stroke-width="0.35" fill="none" opacity="0.3"/>
<path d="M158.6 280.6l1.7 1.3 1.7-.3 1.6-1.6 1.7-1.2 1.7-1.7 1.7-1 1.6-1.5 1.7.5 1.7 2.3 1.7.7 1.6.1 1.7.4 1.7.2 1.7 0 1.7-1.5 1.6-2.4 1.7-1.7 1.7 1.7 1.7 6.8 1.6 6.4 1.7 6.7 1.7 8.4 1.7 5.7 1.6-1.7 1.7-1.8 1.7-2 1.7-2.3 1.7-2.3 1.6-1.5 1.7-1.6 1.7-2.4 1.7-3 1.6-2.2 1.7-1 1.7-.6 1.7-1.4 1.6.1 1.7.9 1.7.1M158.6 266.7l1.7-1.3 1.7-2.6 1.6-2.3 1.7-.7 1.7 1.1 1.7 1.5 1.6 1 1.7-1.7 1.7-1.3 1.7 2.1 1.6.7 1.7-1.5 1.7-1 1.7-1.4 1.7.4 1.6 2.8 1.7 1.8 1.7 2.9 1.7 7.2 1.6 8.3 1.7 9.5 1.7 9.1 1.7 4.6 1.6-1.6 1.7-2.8 1.7-4.8 1.7-5.4 1.7-3.1 1.6-2.2 1.7-.4 1.7 1.3 1.7 1.6 1.6.9 1.7.6 1.7.2 1.7-1 1.6-1.9 1.7-1.3 1.7-.6M158.6 278.8l1.7-2.6 1.7-3.4 1.6-2.1 1.7-.4 1.7-.5 1.7-.2 1.6-.9 1.7.1 1.7 1.3 1.7 1.6 1.6-.4 1.7-.5 1.7-1.6 1.7-1.9 1.7-1.1 1.6-.1 1.7-.1 1.7 2.3 1.7 6.6 1.6 6.9 1.7 7.6 1.7 9.9 1.7 4.9 1.6-2.9 1.7-1.9 1.7-1.8 1.7-2 1.7-2.3 1.6-3.4 1.7-2.6 1.7-1.5 1.7.4 1.6-.2 1.7.6 1.7 1.8 1.7 1.2 1.6 1.2 1.7.2 1.7-.5M158.6 279.4l1.7.1 1.7.4 1.6-.1 1.7-1 1.7-2 1.7-1.4 1.6-.2 1.7-.3 1.7.6 1.7 1.4 1.6 1.2 1.7.5 1.7-1.1 1.7-2.5 1.7-3.4 1.6-2 1.7-1 1.7 3 1.7 6.8 1.6 7.3 1.7 7.3 1.7 8.7 1.7 4 1.6-4.4 1.7-4 1.7-1.2 1.7-.6 1.7-2.8 1.6-.7 1.7 2 1.7 1.6 1.7 0 1.6-1.3 1.7-1 1.7-.8 1.7-.5 1.6.1 1.7-.6 1.7-3.3M158.6 273l1.7.1 1.7-1 1.6-.5 1.7 2.2 1.7 2.7 1.7.1 1.6.1 1.7 1.4 1.7.1 1.7-2.2 1.6-2.8 1.7-3.5 1.7-2 1.7-2.3 1.7-3 1.6-2.3 1.7-.9 1.7 3.2 1.7 9.1 1.6 8.9 1.7 8.7 1.7 9.2 1.7 5.5 1.6-1.3 1.7-1.7 1.7-1.8 1.7-.6 1.7-1.8 1.6-2.9 1.7-2.5 1.7-1.8 1.7-2.2 1.6-1.8 1.7-.6 1.7.3 1.7 0 1.6-.9 1.7.7 1.7 1.4M158.6 276.1l1.7.1 1.7-.8 1.6 1.6 1.7-.4 1.7-1.5 1.7-1.8 1.6-1.8 1.7-.4 1.7-1 1.7-1.1 1.6-1 1.7-.3 1.7 1 1.7-.2 1.7-.8 1.6 0 1.7.1 1.7 2.1 1.7 6.3 1.6 7.5 1.7 7.5 1.7 7.7 1.7 6.2 1.6-2.5 1.7-3.5 1.7-3.5 1.7-1.2 1.7-1.7 1.6-2.1 1.7-.2 1.7 1 1.7.3 1.6-.6 1.7-2.7 1.7-4.1 1.7-2.7 1.6-2.2 1.7-1.2 1.7-.6M158.6 268.8l1.7-2.1 1.7.2 1.6-1 1.7-3.5 1.7-4.3 1.7-3.9 1.6-2.1 1.7-1.1 1.7-.7 1.7.3 1.6 3 1.7 3.2 1.7 1.7 1.7 1.5 1.7 1.8 1.6 1.4 1.7-1.7 1.7.2 1.7 5.9 1.6 7.4 1.7 6.5 1.7 7.4 1.7 5.1 1.6-1 1.7-1.9 1.7-1.6 1.7-.9 1.7-2.1 1.6-2 1.7-1.9 1.7-1.6 1.7-.1 1.6 1 1.7.1 1.7.3 1.7-.6 1.6-3 1.7-3.2 1.7-2.8M158.6 256.9l1.7 2 1.7 1.3 1.6-1.2 1.7-1.1 1.7-1.4 1.7-1.1 1.6.4 1.7.4 1.7-1.6 1.7-.2 1.6 1.7 1.7 2 1.7 1.3 1.7-.8 1.7-.5 1.6-.3 1.7-1.4 1.7 1.6 1.7 5.4 1.6 5.7 1.7 5.8 1.7 6.6 1.7 4.8 1.6-.4 1.7-.1 1.7-1.6 1.7-2.2 1.7-.8 1.6-3 1.7-2 1.7-.6 1.7-.6 1.6-2 1.7-.3 1.7 1.1 1.7-2 1.6-2.8 1.7-1.2 1.7.9M158.6 284.5l1.7.4 1.7-.3 1.6 0 1.7.1 1.7-.8 1.7.7 1.6-.3 1.7-2.8 1.7-1.1 1.7 1.5 1.6-.7 1.7-.9 1.7.1 1.7-1.7 1.7-2.3 1.6-.3 1.7.8 1.7 1.9 1.7 6.6 1.6 9 1.7 10.4 1.7 11.3 1.7 5 1.6-3.2 1.7-2.9 1.7-1.6 1.7-2.1 1.7-2.8 1.6-3.6 1.7-3.3 1.7-2.7 1.7-1.3 1.6-.8 1.7 1.2 1.7 1 1.7-1.2 1.6-.5 1.7.7 1.7-1.6M158.6 274.3l1.7-1.5 1.7-2.2 1.6-3.5 1.7-2.8 1.7-1.6 1.7-1.5 1.6-2.6 1.7-1.7 1.7.9 1.7-.3 1.6-1 1.7-.3 1.7-.6 1.7-.6 1.7-1 1.6-1.1 1.7-.2 1.7 1.8 1.7 7.8 1.6 9.6 1.7 10.3 1.7 11 1.7 7.5 1.6-1.7 1.7-3.2 1.7-2.6 1.7-3.1 1.7-3 1.6-2.5 1.7-3.6 1.7-2.8 1.7.3 1.6-.2 1.7-1.2 1.7-.4 1.7-.1 1.6 1.2 1.7-.4 1.7.3M158.6 262.7l1.7-.8 1.7 1.7 1.6 2.5 1.7 1.5 1.7 1.9 1.7.4 1.6-1.6 1.7-1.4 1.7-1 1.7-2 1.6-1.1 1.7.2 1.7-.2 1.7-.9 1.7-.2 1.6 1 1.7-.7 1.7 0 1.7 5.8 1.6 6.4 1.7 7.9 1.7 8.5 1.7 4.6 1.6-.8 1.7-1.9 1.7-2.4 1.7-1 1.7-.4 1.6-1.3 1.7-1.7 1.7-1.7 1.7-1.4 1.6-2.7 1.7-1.9 1.7-3.1 1.7-2.6 1.6.7 1.7.5 1.7-.6M158.6 276.9l1.7-2.2 1.7-2.3 1.6-1.4 1.7.4 1.7-.3 1.7-1 1.6.6 1.7 1.8 1.7-.6 1.7-.7 1.6-.8 1.7-2.6 1.7-3.2 1.7-.1 1.7 1.5 1.6.9 1.7-.5 1.7 2.3 1.7 8.4 1.6 7.2 1.7 6.5 1.7 7.3 1.7 5.3 1.6-1.6 1.7-1.3 1.7-1.5 1.7-3 1.7-3.6 1.6-1.8 1.7-.2 1.7-.7 1.7-1.8 1.6-1 1.7.1 1.7-1.1 1.7.1 1.6 1 1.7 1 1.7.5M158.6 262.2l1.7 1.8 1.7 1.8 1.6 1.5 1.7 1.7 1.7 1 1.7-1.2 1.6-.2 1.7-.4 1.7-1.7 1.7-1 1.6-.4 1.7-.2 1.7-.8 1.7-.9 1.7-.2 1.6-1.2 1.7-2.7 1.7-1.5 1.7 3.1 1.6 7.1 1.7 8.2 1.7 8.8 1.7 4.7 1.6-3.3 1.7-2.4 1.7-.4 1.7.5 1.7-.9 1.6 1.5 1.7 1.3 1.7-.4 1.7-1.3 1.6-3.6 1.7-3.4 1.7-.9 1.7.1 1.6-.7 1.7-.2 1.7 1M158.6 274.6l1.7-2.1 1.7-1 1.6 0 1.7.6 1.7-.6 1.7-.3 1.6.7 1.7.7 1.7-1.1 1.7-1.1 1.6-1.1 1.7 1 1.7.2 1.7-.6 1.7-.4 1.6-.6 1.7-.5 1.7 1.3 1.7 6.7 1.6 8.8 1.7 9.7 1.7 10 1.7 5.3 1.6-3.1 1.7-5.3 1.7-6.1 1.7-4.1 1.7-3.1 1.6-1.2 1.7.1 1.7.4 1.7.6 1.6.3 1.7-.3 1.7 0 1.7-.6 1.6-1.3 1.7-.6 1.7.4M158.6 268l1.7 1.1 1.7 2.4 1.6 2.6 1.7 1.4 1.7-.8 1.7-1.1 1.6-.3 1.7.4 1.7-.7 1.7-2.2 1.6-1.4 1.7-.3 1.7-1.1 1.7-1.1 1.7-1.4 1.6-1.3 1.7-.6 1.7 1.4 1.7 5.3 1.6 5.6 1.7 6.9 1.7 9.5 1.7 7.1 1.6-1.1 1.7-1.3 1.7-1 1.7-1.5 1.7-1.7 1.6-1.3 1.7-1.1 1.7-2.1 1.7-2.3 1.6-2.6 1.7-2.7 1.7-.5 1.7-1.5 1.6-1.3 1.7-.7 1.7-1M158.6 273.5l1.7.2 1.7 0 1.6-.9 1.7-1.9 1.7-1 1.7 1.3 1.6.5 1.7-.5 1.7-.5 1.7-1 1.6-2.9 1.7-2.8 1.7-2.2 1.7-1.4 1.7-2.5 1.6-.5 1.7.5 1.7 3.4 1.7 8.5 1.6 9 1.7 9.3 1.7 10.1 1.7 6.6 1.6-.7 1.7-1.3 1.7-.3 1.7-.2 1.7-2.3 1.6-4.3 1.7-3 1.7-3.5 1.7-3.1 1.6-2.1 1.7-3.1 1.7-1.2 1.7-.9 1.6.7 1.7 1.2 1.7 1.4M158.6 267.7l1.7.6 1.7.7 1.6 1.3 1.7.9 1.7.8 1.7-.3 1.6-.9 1.7-.4 1.7.3 1.7.5 1.6-.2 1.7-1.5 1.7-1.2 1.7-.5 1.7.9 1.6-.7 1.7-.4 1.7 2.1 1.7 8 1.6 7.4 1.7 7 1.7 8.5 1.7 4.7 1.6-3.1 1.7-1.5 1.7-2.9 1.7-2.6 1.7-1.1 1.6-1.4 1.7-.7 1.7.6 1.7.3 1.6.1 1.7-.9 1.7-2.3 1.7-.2 1.6 2 1.7.8 1.7-.2M158.6 280.7l1.7-1.7 1.7-2.2 1.6-.7 1.7.3 1.7-1 1.7-1.3 1.6-.6 1.7-.5 1.7-.9 1.7-1.9 1.6-.6 1.7.2 1.7 1.5 1.7.6 1.7 1.7 1.6 2 1.7.7 1.7 1.8 1.7 5.6 1.6 7.5 1.7 8.5 1.7 8.5 1.7 3.9 1.6-1.2 1.7-.5 1.7-1.4 1.7-2.5 1.7-3.4 1.6-4.6 1.7-5.3 1.7-3 1.7-1.3 1.6-1 1.7-1.3 1.7-.7 1.7-.2 1.6-1.2 1.7-.6 1.7 1.1M158.6 269l1.7-.5 1.7-1 1.6-.4 1.7-1.7 1.7-2.2 1.7-.5 1.6.5 1.7-.2 1.7.6 1.7 3.5 1.6 2.1 1.7.2 1.7.4 1.7 1.5 1.7-.5 1.6-.1 1.7-1 1.7-.4 1.7 3.8 1.6 5.7 1.7 5.1 1.7 5.3 1.7 1.5 1.6-3.2 1.7-2.4 1.7-1 1.7 1.3 1.7-.2 1.6-.4 1.7-.2 1.7-.8 1.7 0 1.6 1.3 1.7-.4 1.7-.7 1.7-.4 1.6-1.3 1.7-.8 1.7 0M158.6 277.8l1.7-.8 1.7-2 1.6-1 1.7-.7 1.7 0 1.7-.2 1.6-1.2 1.7-1.6 1.7-1.4 1.7 0 1.6 1.2 1.7-.4 1.7-.6 1.7-1.5 1.7-.2 1.6 1 1.7.6 1.7 1 1.7 5.9 1.6 8.2 1.7 9 1.7 8.5 1.7 4.8 1.6-2.6 1.7-2.4 1.7-3.6 1.7-4.9 1.7-3.2 1.6-1.8 1.7.5 1.7 2.3 1.7 1.9 1.6 0 1.7-.6 1.7-.1 1.7 0 1.6-.4 1.7-1.3 1.7-2M158.6 279.7l1.7-1.2 1.7-2.8 1.6-1.5 1.7-1.7 1.7-2.8 1.7-1.8 1.6-.3 1.7-.9 1.7-.8 1.7-1.5 1.6-2.3 1.7-.6 1.7-.7 1.7 1.3 1.7.7 1.6-.1 1.7.3 1.7 3 1.7 6.4 1.6 5.8 1.7 7.1 1.7 9.2 1.7 4.9 1.6-2.6 1.7-2.7 1.7-2.1 1.7-.5 1.7-.9 1.6-2.2 1.7-.6 1.7.5 1.7-.1 1.6-.3 1.7.1 1.7-.6 1.7.5 1.6-.2 1.7-1.8 1.7-1.6M158.6 280.2l1.7.7 1.7 1 1.6.5 1.7-.7 1.7-.4 1.7.7 1.6-.5 1.7-1.1 1.7.2 1.7.4 1.6.9 1.7-.3 1.7-2.2 1.7-3.3 1.7-1.6 1.6-2 1.7-1.6 1.7.3 1.7 5.4 1.6 9.3 1.7 9.1 1.7 9.8 1.7 6.4 1.6-1.6 1.7-3.3 1.7-2.4 1.7-3.2 1.7-2.2 1.6-2.9 1.7-3.1 1.7-3.3 1.7-2.4 1.6.5 1.7-.4 1.7-.1 1.7-.9 1.6.9 1.7 2 1.7 1M158.6 278.3l1.7-.4 1.7-1.3 1.6-.3 1.7.8 1.7.9 1.7 2.7 1.6 1.8 1.7-.4 1.7-.4 1.7-.7 1.6-.7 1.7-.2 1.7-.6 1.7-1.1 1.7 0 1.6 1.2 1.7.4 1.7.9 1.7 4 1.6 5.8 1.7 7.6 1.7 8.3 1.7 4 1.6-3.4 1.7-3.2 1.7-1.9 1.7-1 1.7-.8 1.6-1.3 1.7-1.5 1.7-1.2 1.7-.2 1.6-.2 1.7 1.6 1.7 1.1 1.7-.5 1.6.4 1.7-.3 1.7-3.1M158.6 284.9l1.7-.9 1.7-1 1.6-1.2 1.7-2 1.7-2 1.7-.1 1.6 0 1.7-1.2 1.7-1.4 1.7-.6 1.6.5 1.7 0 1.7-.1 1.7-1.7 1.7-.4 1.6.5 1.7.8 1.7 2.4 1.7 6.8 1.6 8.4 1.7 6.7 1.7 7.3 1.7 4.7 1.6-3.4 1.7-4.5 1.7-3.3 1.7-1.7 1.7-2.1 1.6-1.1 1.7-.3 1.7-1 1.7-1.8 1.6-1.6 1.7-1.8 1.7-.1 1.7.9 1.6 1.3 1.7.2 1.7-.1M158.6 269.1l1.7 0 1.7-.4 1.6-.6 1.7-.1 1.7.7 1.7.9 1.6 1.3 1.7 1.2 1.7.1 1.7.6 1.6-.6 1.7-1.6 1.7-1.3 1.7-.9 1.7-1.6 1.6-1.5 1.7-1.3 1.7.7 1.7 7.4 1.6 8.3 1.7 9.4 1.7 9.8 1.7 4.9 1.6-2.2 1.7-1.8 1.7-2.4 1.7-.5 1.7-1.3 1.6-2.5 1.7-1.3 1.7-.7 1.7-.2 1.6-1.5 1.7-1.2 1.7.4 1.7-.6 1.6-1.2 1.7-1 1.7-.4M158.6 275.3l1.7-3.6 1.7-1.6 1.6-.5 1.7.1 1.7-.3 1.7-.2 1.6 1.1 1.7.3 1.7-.1 1.7-.6 1.6.5 1.7 1.8 1.7.1 1.7-1.6 1.7-.5 1.6.2 1.7-1.2 1.7.6 1.7 6.9 1.6 10.2 1.7 9.9 1.7 8.8 1.7 4 1.6-1.8 1.7-1.6 1.7-2.6 1.7-1.3 1.7-1.1 1.6-1.4 1.7 1.1 1.7-1.2 1.7-3.4 1.6-3.5 1.7-3.7 1.7-2.8 1.7-2.7 1.6-.9 1.7.5 1.7 2.1M158.6 273.1l1.7-.5 1.7-.2 1.6.5 1.7-.2 1.7-1.7 1.7-2.7 1.6-3.2 1.7-2.9 1.7-.4 1.7-.1 1.6-.2 1.7 1.3 1.7 2.4 1.7.6 1.7-2.5 1.6-3 1.7-1.4 1.7 1 1.7 6.1 1.6 7.9 1.7 8 1.7 10.3 1.7 6.6 1.6-2.1 1.7-1.5 1.7-.3 1.7-.7 1.7-1.7 1.6-3.2 1.7-4.2 1.7-3.2 1.7-2 1.6-2.3 1.7-1.5 1.7.1 1.7 1.9 1.6.6 1.7-1.4 1.7.2M158.6 270.9l1.7 1.7 1.7 1.6 1.6 2.3 1.7 1.5 1.7-.1 1.7-.4 1.6-.5 1.7-1.8 1.7-1.5 1.7-2.8 1.6-2.1 1.7-1.9 1.7-1.1 1.7-1.2 1.7-1 1.6-1.1 1.7.1 1.7 1.8 1.7 5.6 1.6 8.7 1.7 9.5 1.7 8.3 1.7 3.5 1.6-1.4 1.7-.5 1.7-1.6 1.7-2.8 1.7-4.9 1.6-2.7 1.7 1.3 1.7 1.3 1.7.4 1.6 1.1 1.7 1.7 1.7-1.4 1.7-2 1.6-1.6 1.7-.8 1.7-.8M158.6 278.4l1.7-.1 1.7-.4 1.6-.3 1.7.1 1.7.6 1.7 0 1.6-.5 1.7.5 1.7 1 1.7 0 1.6.7 1.7 2.3 1.7 1.5 1.7-.2 1.7-1.9 1.6-1.6 1.7-.9 1.7 1.3 1.7 4.9 1.6 7.7 1.7 8.5 1.7 7.2 1.7 2.3 1.6-4.1 1.7-1.9 1.7-2.4 1.7-1.8 1.7-1.2 1.6-1.4 1.7.7 1.7 2.1 1.7-1.3 1.6-1.7 1.7-1.9 1.7-3.6 1.7-3.1 1.6-.6 1.7-.2 1.7-1.4M158.6 268.3l1.7 0 1.7 1.6 1.6.1 1.7-2 1.7-1.1 1.7-.4 1.6-.7 1.7.2 1.7 0 1.7.4 1.6.2 1.7-1.1 1.7-.3 1.7-.3 1.7-1 1.6-1.8 1.7.1 1.7 2.5 1.7 6.5 1.6 7.6 1.7 7.4 1.7 8 1.7 6.7 1.6.4 1.7-1.4 1.7-1.4 1.7-1.1 1.7-1.7 1.6-4.4 1.7-3.4 1.7-1.8 1.7-1.8 1.6-1.7 1.7-.6 1.7 1.2 1.7-.8 1.6-2.4 1.7-1.6 1.7-1.8M158.6 274.9l1.7-1.4 1.7-2 1.6-.9 1.7.5 1.7-1.1 1.7-1.8 1.6-.9 1.7.2 1.7.3 1.7-1 1.6 1.3 1.7 3.5 1.7 1.4 1.7 1.2 1.7.8 1.6-1.1 1.7-.7 1.7 1.9 1.7 6 1.6 7.3 1.7 7 1.7 6.7 1.7 3.8 1.6-3.4 1.7-4.2 1.7-4.7 1.7-2.6 1.7.3 1.6 1.5 1.7 1.1 1.7-.5 1.7-1.5 1.6.2 1.7-.3 1.7-1.8 1.7-2.4 1.6-1.3 1.7.4 1.7.2M158.6 271.9l1.7.9 1.7.4 1.6.5 1.7 0 1.7-1.2 1.7-1.2 1.6.5 1.7-.8 1.7-1.3 1.7-.6 1.6-1.8 1.7-3 1.7-2.7 1.7-1.2 1.7-.4 1.6.6 1.7 1.9 1.7 1.9 1.7 7.2 1.6 9.5 1.7 9.1 1.7 9 1.7 6.1 1.6-.5 1.7-1.1 1.7-.7 1.7-1.9 1.7-3.1 1.6-2.3 1.7-.8 1.7-1.9 1.7-1.1 1.6.2 1.7.3 1.7-1.4 1.7-1.4 1.6-.8 1.7.1 1.7-1.4M158.6 277.4l1.7.9 1.7-.9 1.6-1.4 1.7-.9 1.7-1.3 1.7-3.8 1.6-4.5 1.7-2.8 1.7-2.5 1.7-2.4 1.6-.4 1.7-.3 1.7-.3 1.7 1.1 1.7 2.9 1.6 2.5 1.7-.2 1.7 1.6 1.7 5 1.6 7.5 1.7 8.6 1.7 7.8 1.7 3.9 1.6-2.4 1.7-2.9 1.7-3.3 1.7-2.8 1.7-1.3 1.6-2.5 1.7-1.7 1.7-1.4 1.7-1 1.6-2.1 1.7-2.1 1.7-2.2 1.7-1 1.6 2.3 1.7 2.5 1.7 1.2M158.6 276.7l1.7-1.2 1.7-2.2 1.6-1.6 1.7-1.9 1.7-.5 1.7.9 1.6 1.7 1.7.4 1.7.8 1.7 1 1.6-.3 1.7-.9 1.7-.9 1.7-1.6 1.7-3.2 1.6-1.3 1.7-.1 1.7 1.6 1.7 6.9 1.6 7.5 1.7 9.2 1.7 9.8 1.7 4 1.6-1.8 1.7-.8 1.7-2 1.7-4.3 1.7-4.8 1.6-3.3 1.7-2 1.7-1.8 1.7.9 1.6 1.6 1.7.3 1.7 1.1 1.7.3 1.6-.9 1.7-.8 1.7-.9M158.6 279l1.7.7 1.7 0 1.6 0 1.7-.5 1.7-.3 1.7-.6 1.6-1.7 1.7 0 1.7.2 1.7-.4 1.6-1.5 1.7-1.9 1.7-.3 1.7.2 1.7.2 1.6 0 1.7-.6 1.7 1.4 1.7 6 1.6 6.7 1.7 7.2 1.7 8 1.7 5.3 1.6-.9 1.7 1.1 1.7 1.2 1.7-.9 1.7-.5 1.6-1.4 1.7-1.9 1.7-2.9 1.7-1.7 1.6-1 1.7-2.1 1.7-1.3 1.7-.1 1.6-.7 1.7.3 1.7-.5M158.6 274.9l1.7.3 1.7-.5 1.6-1.4 1.7-1.5 1.7-1.4 1.7-1.9 1.6-.1 1.7.5 1.7-.6 1.7-2 1.6-1.7 1.7-.4 1.7 1.9 1.7 1.8 1.7.6 1.6.2 1.7.1 1.7 1.1 1.7 5 1.6 6 1.7 6.9 1.7 9.1 1.7 7 1.6-1.5 1.7-2.2 1.7-1.8 1.7-2 1.7-2.7 1.6-3.1 1.7.5 1.7-.6 1.7-1.1 1.6-.5 1.7-1.8 1.7-1.7 1.7.1 1.6-.5 1.7-1.3 1.7-1M158.6 275.2l1.7-.7 1.7-1.1 1.6-.9 1.7-1 1.7-.6 1.7-.2 1.6-.4 1.7-1.1 1.7-1.1 1.7-1.2 1.6-.8 1.7.3 1.7-.6 1.7.8 1.7 2.3 1.6 2.6 1.7.4 1.7.7 1.7 5.5 1.6 7.4 1.7 7.9 1.7 9.3 1.7 5.4 1.6-.9 1.7-2.5 1.7-3.7 1.7-3.3 1.7-3.4 1.6-3.3 1.7-.7 1.7 1.1 1.7-1.4 1.6-.7 1.7.3 1.7-1.2 1.7-3.3 1.6-4.2 1.7-2.7 1.7-1.6M158.6 274.7l1.7-.9 1.7-1.9 1.6-2.5 1.7-2 1.7-.6 1.7-.6 1.6-.6 1.7 1.3 1.7.9 1.7.2 1.6-1.3 1.7-.6 1.7-1 1.7-3.4 1.7-2.6 1.6-1.2 1.7-1 1.7 2.6 1.7 8.7 1.6 10.3 1.7 9.5 1.7 7.2 1.7 5.4 1.6-2.1 1.7-5 1.7-3.2 1.7-1.2 1.7-.1 1.6-.2 1.7.9 1.7.3 1.7-.3 1.6-1.2 1.7-1.2 1.7.1 1.7.7 1.6-1.4 1.7-2 1.7-.9M158.6 271.2l1.7-1.2 1.7-.3 1.6-.2 1.7-.2 1.7.2 1.7 0 1.6.2 1.7-1.2 1.7-2.6 1.7-1.3 1.6.1 1.7 0 1.7.4 1.7-.5 1.7-.7 1.6-1.1 1.7-.8 1.7 1.6 1.7 7.5 1.6 7.5 1.7 7.7 1.7 9.4 1.7 6.2 1.6-1.2 1.7-2.5 1.7-3.7 1.7-2.4 1.7-2.8 1.6-2.1 1.7.2 1.7 1.4 1.7.6 1.6-.7 1.7-.9 1.7-1.9 1.7-3.5 1.6-4.3 1.7-2 1.7-.2M158.6 276.8l1.7-.4 1.7-1.3 1.6-2.5 1.7-1.5 1.7-1.7 1.7-.8 1.6.3 1.7.3 1.7-.6 1.7.9 1.6.4 1.7-.3 1.7-1 1.7-1.5 1.7-1.4 1.6-1.5 1.7-.8 1.7 2.2 1.7 6.6 1.6 8.3 1.7 7 1.7 9.2 1.7 6.4 1.6-1.5 1.7-1.7 1.7-1.2 1.7-1.3 1.7-1.4 1.6-2 1.7-2 1.7-1.6 1.7-1.8 1.6-.3 1.7-1.3 1.7-1 1.7 1.6 1.6 2.2 1.7-.1 1.7-.9M158.6 280l1.7-1.3 1.7-1.6 1.6-.1 1.7-1.2 1.7-2.1 1.7-3.4 1.6-1.5 1.7-1.7 1.7-1.8 1.7 1.7 1.6 3.9 1.7 2.6 1.7 1.4 1.7.9 1.7.5 1.6-.6 1.7-.7 1.7 1.6 1.7 5.7 1.6 7 1.7 7 1.7 7.4 1.7 5 1.6-2.5 1.7-2.2 1.7-2 1.7-3.3 1.7-1.5 1.6-1.3 1.7.2 1.7.6 1.7-.2 1.6.1 1.7-.7 1.7-1.9 1.7-2.2 1.6-1.4 1.7-3.2 1.7-4M158.6 282.5l1.7 3.5 1.7 2.3 1.6.3 1.7 0 1.7-1.1 1.7-.2 1.6-.9 1.7-2.9 1.7-2.3 1.7-.8 1.6-1.2 1.7-1.3 1.7.3 1.7 1.8 1.7 1.7 1.6.8 1.7 0 1.7.3 1.7 4.2 1.6 4.8 1.7 6.4 1.7 9.2 1.7 5.2 1.6-2.6 1.7-1.2 1.7 1.3 1.7-.1 1.7-1.8 1.6-2.3 1.7-1.3 1.7-1.2 1.7-.9 1.6.1 1.7-.3 1.7-1.8 1.7-.8 1.6-1.4 1.7-1.5 1.7-1M158.6 273.9l1.7-1.8 1.7-1.3 1.6-.8 1.7-1.9 1.7-.6 1.7-.8 1.6-.1 1.7-.3 1.7-2.5 1.7-1.1 1.6.3 1.7.5 1.7-1.4 1.7-1.2 1.7-2.7 1.6-2.2 1.7-.6 1.7 0 1.7 3.7 1.6 8.4 1.7 11.5 1.7 11.8 1.7 7.3 1.6-1.9 1.7-1.9 1.7-3 1.7-1.4 1.7-1.3 1.6-1.6 1.7-.7 1.7-1.2 1.7-1.8 1.6-.8 1.7.1 1.7-.2 1.7-.2 1.6-.7 1.7-1.2 1.7-1.2M158.6 272.6l1.7-2.1 1.7-2.1 1.6.8 1.7 2.6 1.7 1.1 1.7-.1 1.6.3 1.7-.6 1.7-.7 1.7-1.5 1.6-.9 1.7.5 1.7-.6 1.7-1 1.7-.9 1.6.1 1.7-.4 1.7 2.5 1.7 5.5 1.6 5.1 1.7 4.7 1.7 6.2 1.7 4.7 1.6-1.7 1.7-.6 1.7-.6 1.7-.2 1.7.1 1.6 0 1.7 0 1.7-1.3 1.7-.8 1.6-1.7 1.7-.2 1.7.1 1.7-1.3 1.6-2.1 1.7-2.9 1.7-2.1M158.6 266.9l1.7-1.2 1.7 0 1.6 1.1 1.7-.9 1.7-1.8 1.7-.1 1.6-.5 1.7-.5 1.7-.2 1.7 1.2 1.6 2.2 1.7 1.1 1.7-.6 1.7-1.6 1.7-1.2 1.6-.3 1.7-.8 1.7 1.3 1.7 5.5 1.6 6.4 1.7 7.5 1.7 9 1.7 4.4 1.6-2.3 1.7-.2 1.7.5 1.7-.4 1.7.5 1.6-1 1.7.2 1.7 1.2 1.7 1.8 1.6.7 1.7-.7 1.7-2.8 1.7-2.9 1.6-2.4 1.7-2.9 1.7-2.8M158.6 274.6l1.7-2.4 1.7-.4 1.6 2.1 1.7.3 1.7-.7 1.7-3 1.6-2 1.7-.1 1.7-.4 1.7-1.1 1.6-.2 1.7 0 1.7-1.2 1.7.3 1.7-.1 1.6-.7 1.7-1.6 1.7-.3 1.7 7.2 1.6 9.8 1.7 8.3 1.7 9.4 1.7 7.6 1.6.9 1.7-.5 1.7-2.3 1.7-3 1.7-4.6 1.6-5.3 1.7-3.1 1.7-1.6 1.7-2.1 1.6-.9 1.7 1 1.7 1.2 1.7-1.1 1.6.2 1.7.7 1.7 1.9" stroke="#9db6da" stroke-width="0.35" fill="none" opacity="0.3"/>
<path d="M158.6 283.5l2.2-.1 3-.2 3.5-.3 3.7-.2 3.5-.3 3.4-.3 3.7-.4 3.5-.4 3.2-.3 2.6-.2 1.8 0 1.1 0 .8.1.6.3.8.6.9.9.8 1.2.9 1.3.7 1.4.8 1.4.7 1.4.8 1.5.6 1.6.7 1.4.7 1.2.7 1 .6.9.6.8.7.5.7.3.8-.1.8-.4.9-.6 1-.7 1-.7 1.1-.7 1.2-.7 1.3-.8 1.2-.7 1.3-.7 1.4-.7 1.5-.6 1.4-.7 1.3-.5.9-.4" stroke="#e8323b" stroke-width="1.15" fill="none" stroke-linejoin="round"/>
<path d="M158.6 276.1l1.6-.4 2.4-.7 2.7-.7 2.7-.7 2.5-.6 2.2-.5 2.2-.6 2-.4 2-.5 1.8-.4 1.7-.4 1.6-.5 1.5-.3 1.3-.3 1 0 .6 0 .3 0 .1.3.1.7.4 1.5.6 2.4.7 3.1.8 3.5.8 3.8.8 3.6.7 3.9.7 4.4.7 4.3.7 3.6.8 2.2.8.5.9-.8.8-1.6 1-1.8 1-1.5 1.1-1.2 1.2-1.2 1.2-1.3 1.3-1.2 1.4-1.2 1.5-1.1 1.6-1.1 1.7-1 1.7-1 1.7-.9 1.8-.9 2-1 1.9-.9 1.6-.8 1.2-.5" stroke="#2a6db5" stroke-width="1.15" fill="none" stroke-linejoin="round"/>
<path d="M398.8 278.9l1.7-.1 1.7.5 1.7.6 1.7.4 1.6-.3 1.7-.6 1.7-.5 1.7.6 1.7-.2 1.7-.8 1.7-.3 1.7-.4 1.7-.4 1.7.4 1.6.3 1.7.1 1.7 2.4 1.7 4.8 1.7 6.2 1.7 4.4 1.7 3.2 1.7 2.9 1.7-.3 1.7-1.1 1.6-3.2 1.7-2.4 1.7-1.9 1.7-.5 1.7-.3 1.7.7 1.7.8 1.7-.8 1.7-1.9 1.7-1.1 1.6-.2 1.7.8 1.7.7 1.7.7 1.7.3M398.8 278.9l1.7 2.5 1.7-1.1 1.7-3.7 1.7-3.1 1.6-2.4 1.7-2.5 1.7-1.1 1.7-.1 1.7.6 1.7.6 1.7 1 1.7 2.3 1.7 1.6 1.7.6 1.6-.7 1.7-2.3 1.7.9 1.7 2 1.7 4.7 1.7 5.8 1.7 5.5 1.7 4.8 1.7-1.3 1.7.1 1.6-1.8 1.7-2.5 1.7-.8 1.7-.7 1.7-.3 1.7-.6 1.7-.7 1.7.6 1.7.6 1.7-.7 1.6-.9 1.7-.2 1.7-1 1.7-.6 1.7 1.5M398.8 277.9l1.7.8 1.7.2 1.7-1.1 1.7-.8 1.6.3 1.7-.1 1.7.4 1.7.8 1.7.5 1.7-.8 1.7-1.2 1.7.8 1.7.9 1.7-1.6 1.6-.2 1.7 1.2 1.7 1.9 1.7 1.8 1.7 4 1.7 4.1 1.7 4.2 1.7 3.4 1.7-.5 1.7-1.2 1.6-2.3 1.7-1.1 1.7-1.7 1.7-3 1.7-2.7 1.7-1 1.7.2 1.7-.9 1.7-.4 1.7 1.6 1.6 1.5 1.7 1 1.7 1.4 1.7 1.9 1.7-.3M398.8 276.3l1.7-.8 1.7-1.3 1.7.5 1.7.3 1.6-.8 1.7-1.3 1.7-.3 1.7-1.3 1.7-2 1.7-1.7 1.7-1.2 1.7-1.3 1.7 1.3 1.7 2.6 1.6 1.9 1.7-.6 1.7 3.3 1.7 5 1.7 5.1 1.7 3.9 1.7 4.1 1.7 3.4 1.7-.3 1.7.3 1.6 1.6 1.7 1.4 1.7.6 1.7-1.3 1.7-2.5 1.7-4 1.7-3.8 1.7-3.1 1.7-4 1.7-2.6 1.6 0 1.7 1.5 1.7.7 1.7-.2 1.7 1.8M398.8 288l1.7 1.5 1.7 1.5 1.7.9 1.7.2 1.6-.2 1.7-.6 1.7-2.3 1.7-3.8 1.7-3 1.7-2 1.7-1.2 1.7.4 1.7 1.9 1.7 3.6 1.6 3 1.7-.5 1.7.7 1.7 1.5 1.7 2.2 1.7 1.5 1.7 1.5 1.7 3.3 1.7-.2 1.7.6 1.6 1 1.7.7 1.7 1 1.7.3 1.7-1.6 1.7-1.1 1.7-.2 1.7-.7 1.7-1.2 1.7-1.7 1.6-.8 1.7-.1 1.7-1.1 1.7-1.4 1.7-.1M398.8 278.4l1.7-.4 1.7-.5 1.7-.9 1.7-1.8 1.6-.8 1.7-2 1.7-2.3 1.7-1.1 1.7-.9 1.7-1.3 1.7.9 1.7.8 1.7.5 1.7 2.1 1.6 1.2 1.7-.7 1.7 2.3 1.7 3.6 1.7 3.7 1.7 1.9 1.7 2.8 1.7 3.9 1.7.8 1.7.5 1.6-.4 1.7.7 1.7.5 1.7-2.6 1.7-3.2 1.7-1.6 1.7-.4 1.7 1.1 1.7.5 1.7-1 1.6-1.2 1.7 0 1.7-1.8 1.7-1.6 1.7 1.1M398.8 278.9l1.7-.1 1.7-.7 1.7-1 1.7-1.1 1.6.2 1.7 1.1 1.7 1.2 1.7 0 1.7-.9 1.7-.5 1.7-1 1.7-1.1 1.7-1.5 1.7.3 1.6 1.8 1.7.9 1.7 4.1 1.7 3.3 1.7 3.4 1.7 5.1 1.7 4.7 1.7 2.6 1.7-1.9 1.7-.6 1.6-1.7 1.7-2.1 1.7-.2 1.7 1 1.7 1.5 1.7-.7 1.7-1.2 1.7-.6 1.7-.8 1.7.4 1.6-.4 1.7-.8 1.7-1.2 1.7-.3 1.7-1.2M398.8 273l1.7-2.2 1.7-.3 1.7-.2 1.7-1.1 1.6-1.6 1.7-.4 1.7 1.2 1.7.2 1.7-.7 1.7.4 1.7 1.5 1.7 0 1.7-.6 1.7 3 1.6 3.4 1.7 0 1.7.5 1.7 1.8 1.7 2.7 1.7.6 1.7 1 1.7 1.5 1.7-.4 1.7.2 1.6 1 1.7 1.2 1.7 0 1.7-.1 1.7 1.8 1.7.2 1.7-1.2 1.7-1.9 1.7-2.4 1.7-1.5 1.6-1.9 1.7-.2 1.7 1 1.7.4 1.7 1.5M398.8 277.4l1.7.7 1.7 1.7 1.7 1.9 1.7-.5 1.6-1 1.7-1.2 1.7-2 1.7-1.4 1.7-2.2 1.7-1.9 1.7-.3 1.7 1.7 1.7.8 1.7 2.3 1.6 2.8 1.7 3 1.7 5.5 1.7 4 1.7 2.9 1.7 2.5 1.7 3.2 1.7 1.4 1.7-3.1 1.7-1.4 1.6-2.2 1.7-1.9 1.7-.9 1.7-1.3 1.7-2 1.7.1 1.7.9 1.7.4 1.7.6 1.7.6 1.6-.9 1.7.2 1.7.9 1.7-1.1 1.7-.6M398.8 272.9l1.7-.7 1.7-1.4 1.7-2.7 1.7-.4 1.6 1.9 1.7.7 1.7.3 1.7.8 1.7 0 1.7-.7 1.7.2 1.7-.6 1.7.9 1.7.5 1.6.3 1.7.6 1.7 1.8 1.7 3 1.7 3.4 1.7 2.4 1.7.7 1.7.4 1.7-2.7 1.7-2.4 1.6.4 1.7-.4 1.7-.9 1.7 0 1.7 2.7 1.7 1.3 1.7.4 1.7-.7 1.7-.4 1.7 2.1 1.6 1.6 1.7.3 1.7.8 1.7-.1 1.7-1.1M398.8 278l1.7 1.4 1.7-.7 1.7-.5 1.7-1 1.6-2 1.7-.7 1.7-1.5 1.7-1 1.7 1.3 1.7 1.6 1.7 1.2 1.7 1.4 1.7 0 1.7-.9 1.6-2.5 1.7-1.9 1.7 1.1 1.7 2 1.7 4.3 1.7 4.2 1.7 4 1.7 2.6 1.7-1.7 1.7-1.5 1.6-1.3 1.7-1.8 1.7-1.7 1.7.1 1.7.8 1.7.7 1.7 2.2 1.7 1.3 1.7-.7 1.7-1.7 1.6-1 1.7-1.5 1.7-1.3 1.7.5 1.7 2.1M398.8 279.4l1.7-1.1 1.7-1.8 1.7.2 1.7 1.5 1.6 1.6 1.7.9 1.7 1.1 1.7.2 1.7-1.7 1.7-3.8 1.7-1.3 1.7.9 1.7.8 1.7-.1 1.6-1.3 1.7-1.8 1.7.8 1.7 1.4 1.7 3.6 1.7 3.3 1.7 4.2 1.7 3.1 1.7-.5 1.7-.6 1.6-.3 1.7.2 1.7.2 1.7.9 1.7.3 1.7-1.3 1.7-1.2 1.7 0 1.7.2 1.7-1.1 1.6-2.1 1.7.4 1.7-.4 1.7-.4 1.7.6M398.8 283.2l1.7-2.6 1.7-1.9 1.7-2.4 1.7-1.7 1.6-1.3 1.7-.4 1.7 1 1.7 1.9 1.7.6 1.7-.7 1.7.3 1.7-.4 1.7-.5 1.7-.5 1.6.7 1.7 2.4 1.7 3 1.7 2.9 1.7 4.2 1.7 3.2 1.7 2.9 1.7 3.1 1.7-1.4 1.7-2.1 1.6-1 1.7-.6 1.7-1.4 1.7-.4 1.7-1 1.7-.2 1.7-.6 1.7-.2 1.7-.1 1.7-.8 1.6-1.1 1.7-.4 1.7-.3 1.7-.8 1.7-.8M398.8 288.5l1.7-1.3 1.7-.2 1.7.3 1.7-1.6 1.6-1 1.7-.2 1.7-1.1 1.7-1.5 1.7-1.2 1.7-1.5 1.7-.5 1.7 1.9 1.7 2 1.7.2 1.6-.7 1.7-1.7 1.7-.4 1.7.9 1.7 3 1.7 5.7 1.7 5.6 1.7 3.9 1.7.8 1.7.6 1.6 1.1 1.7.6 1.7-1.8 1.7-2.2 1.7-1.3 1.7-1.2 1.7-.2 1.7-.6 1.7-1.2 1.7-.1 1.6.8 1.7 1.2 1.7.2 1.7 1 1.7-.5M398.8 277.9l1.7-3 1.7-4.9 1.7-3.5 1.7-.6 1.6-.3 1.7-.4 1.7-1 1.7-.7 1.7.5 1.7 0 1.7.2 1.7.6 1.7 2.2 1.7 1.3 1.6-1.1 1.7-1.2 1.7.4 1.7 1.9 1.7 2.4 1.7 3 1.7 4.4 1.7 3.8 1.7-.2 1.7.6 1.6.7 1.7 1.8 1.7.7 1.7-.9 1.7-1.1 1.7-1.5 1.7-1.9 1.7-1.3 1.7-.2 1.7-1.6 1.6-.7 1.7 2.1 1.7 2.1 1.7 1.3 1.7-.5M398.8 276.4l1.7 1.7 1.7 1 1.7-1.2 1.7-.9 1.6 1 1.7 2.3 1.7 2.1 1.7-.4 1.7-2.2 1.7-1.9 1.7-2.7 1.7-2.4 1.7-1.1 1.7-.6 1.6.4 1.7-.1 1.7 2 1.7 3.6 1.7 5.3 1.7 4.7 1.7 3.7 1.7 2.6 1.7-2.3 1.7-4.1 1.6-2.8 1.7.2 1.7 1.4 1.7.6 1.7-1.3 1.7-2.7 1.7-.8 1.7.3 1.7-.1 1.7-.3 1.6 1 1.7 1.4 1.7-.5 1.7-1.5 1.7-.4M398.8 278.4l1.7-.9 1.7 0 1.7.5 1.7 0 1.6-.7 1.7-.1 1.7.1 1.7.4 1.7-1.1 1.7-1.9 1.7-.5 1.7 1.6 1.7.1 1.7.1 1.6 0 1.7-.7 1.7.5 1.7.2 1.7 2.1 1.7 2.6 1.7 3.1 1.7 4.3 1.7 1.4 1.7 2.7 1.6 2.6 1.7.6 1.7-1.8 1.7-3 1.7-2.5 1.7-2 1.7-1.3 1.7.4 1.7.4 1.7-.1 1.6-.2 1.7.7 1.7 1.8 1.7.6 1.7-1.5M398.8 274.2l1.7-.6 1.7.3 1.7.1 1.7-.4 1.6.4 1.7.8 1.7.5 1.7-1.4 1.7-2.2 1.7.9 1.7 1.4 1.7-1.7 1.7-1.5 1.7.1 1.6-.4 1.7-2.2 1.7.2 1.7.7 1.7 1.4 1.7 3.9 1.7 4.4 1.7 4.2 1.7.3 1.7 1.2 1.6-.3 1.7-.7 1.7-.9 1.7-1.4 1.7-.5 1.7.6 1.7-.7 1.7-.4 1.7.4 1.7 1.1 1.6 1.4 1.7 2 1.7 1.6 1.7-1.2 1.7-1.3M398.8 265l1.7 1.2 1.7 1.3 1.7-1.3 1.7-1.8 1.6.2 1.7.5 1.7-.2 1.7-.9 1.7.8 1.7.7 1.7-.2 1.7.4 1.7.4 1.7-.7 1.6-.7 1.7-.8 1.7 2.4 1.7 3.2 1.7 5.4 1.7 3.8 1.7 4.2 1.7 5 1.7-.3 1.7-1.7 1.6-1.1 1.7-2.3 1.7-1.9 1.7 1.7 1.7.3 1.7.2 1.7.1 1.7-.1 1.7-.7 1.7-.6 1.6.6 1.7.9 1.7.2 1.7.1 1.7.3M398.8 284.1l1.7-.4 1.7-1.1 1.7-.7 1.7-2.7 1.6-2.5 1.7-1.1 1.7-1.2 1.7-2.1 1.7-2.9 1.7-1 1.7.6 1.7 1.4 1.7 2.2 1.7 2.1 1.6 1.6 1.7 1 1.7 2.8 1.7 2.1 1.7 3.2 1.7 3.3 1.7 2.1 1.7 2.5 1.7-1.6 1.7-1.5 1.6-.2 1.7-.1 1.7 1.4 1.7 1 1.7-.4 1.7-1.1 1.7-2 1.7-1.9 1.7-.4 1.7 2 1.6 1.9 1.7 1.3 1.7 1.7 1.7 1.5 1.7 1M398.8 274.6l1.7.3 1.7-.8 1.7-1.5 1.7-1.9 1.6 0 1.7-1 1.7-2.7 1.7-.7 1.7 1 1.7.3 1.7-.2 1.7-.3 1.7-.1 1.7-.4 1.6-.1 1.7-1.1 1.7 1.5 1.7 2.6 1.7 1.9 1.7 3.6 1.7 4.7 1.7 3.4 1.7.3 1.7 1.6 1.6.7 1.7-.7 1.7-.8 1.7-.1 1.7 0 1.7-.7 1.7-1.6 1.7-1 1.7.2 1.7-.7 1.6-.2 1.7-.4 1.7-2.2 1.7-1.4 1.7-2.2M398.8 277.3l1.7-2.8 1.7-2.9 1.7-2 1.7 1 1.6 1.4 1.7 0 1.7.9 1.7.5 1.7.4 1.7.8 1.7 0 1.7-.8 1.7-3.1 1.7-1.6 1.6 1.2 1.7 2.1 1.7 2.7 1.7 4.1 1.7 3.8 1.7 2 1.7 1.9 1.7 2 1.7-2.7 1.7-.8 1.6.5 1.7.5 1.7.5 1.7 1.5 1.7 1 1.7-.7 1.7-.8 1.7-.5 1.7-.1 1.7-.6 1.6-1.1 1.7.1 1.7 1.1 1.7-.9 1.7-.5M398.8 274.3l1.7-2 1.7-1.2 1.7 1.7 1.7 1.3 1.6.2 1.7.2 1.7.3 1.7-.4 1.7-.6 1.7.1 1.7-.8 1.7-.6 1.7-.6 1.7.1 1.6.5 1.7 1.4 1.7 2.3 1.7 2.4 1.7 3.7 1.7 3.2 1.7 3 1.7 3.6 1.7-1.4 1.7-2.6 1.6-.7 1.7-.6 1.7-1 1.7-1.6 1.7-1.3 1.7-.2 1.7.4 1.7-.2 1.7-.1 1.7 1 1.6.6 1.7-1.9 1.7-3.2 1.7-1.1 1.7-1.7M398.8 280.2l1.7.1 1.7 1 1.7-.6 1.7 0 1.6.8 1.7 1.8 1.7 1.8 1.7 1.3 1.7 2.5 1.7.9 1.7-1.8 1.7-1.2 1.7-1 1.7-.4 1.6-.2 1.7-3.1 1.7-.2 1.7 1 1.7 1.6 1.7 2.5 1.7 5.6 1.7 4.7 1.7.3 1.7-2.9 1.6-3.1 1.7-1.3 1.7 0 1.7.3 1.7.2 1.7-1.8 1.7-1.2 1.7 1.1 1.7 1.1 1.7.7 1.6-.7 1.7 0 1.7.8 1.7-1 1.7.1M398.8 285.8l1.7.9 1.7-.7 1.7-2.1 1.7-.2 1.6.4 1.7-.7 1.7-3.1 1.7-2.3 1.7 0 1.7 1.3 1.7.2 1.7-1.2 1.7-.8 1.7-.7 1.6-.7 1.7.2 1.7 1 1.7.2 1.7 3.1 1.7 2.8 1.7 3 1.7 4.2 1.7-.1 1.7-.7 1.6-.3 1.7.8 1.7 2 1.7 2.2 1.7.9 1.7-.3 1.7.8 1.7-.2 1.7-2.7 1.7-1 1.6-.2 1.7 0 1.7.8 1.7 0 1.7-.1M398.8 280.6l1.7-1.8 1.7-2.8 1.7-.5 1.7.8 1.6-1 1.7-1.5 1.7-1.3 1.7.9 1.7.9 1.7-2 1.7-1.6 1.7-.5 1.7-.3 1.7-.6 1.6.4 1.7 2.4 1.7 2.9 1.7 2.3 1.7 5.4 1.7 4.9 1.7 3.5 1.7 3.6 1.7-.8 1.7-2.8 1.6-1.6 1.7 0 1.7.5 1.7-.4 1.7-.5 1.7.5 1.7.6 1.7 1.6 1.7.4 1.7-1.1 1.6-.9 1.7-.2 1.7-1.2 1.7-.7 1.7.3M398.8 272.7l1.7-2.5 1.7-.7 1.7 1.9 1.7.9 1.6.9 1.7 1.6 1.7 2.3 1.7 1.9 1.7 2 1.7 2.2 1.7 1.5 1.7-1 1.7-1.6 1.7-.1 1.6-.2 1.7-1.4 1.7 1 1.7 2 1.7 2.7 1.7 1.9 1.7 3.4 1.7 4.3 1.7-.9 1.7-.7 1.6-.9 1.7-3.2 1.7-1.6 1.7-1 1.7-1.9 1.7-2.1 1.7-1.8 1.7-.7 1.7-.7 1.7-.7 1.6.3 1.7.3 1.7-.1 1.7.6 1.7 1.7M398.8 274.5l1.7 1.8 1.7 1 1.7-.9 1.7-1.6 1.6-2.2 1.7-3.7 1.7-2.1 1.7-.9 1.7.4 1.7 2.2 1.7 2.1 1.7 1.2 1.7.3 1.7 1 1.6.5 1.7.1 1.7 3.1 1.7 2.8 1.7 3.4 1.7 3.2 1.7 3.8 1.7 4.6 1.7-.4 1.7-1.5 1.6-1.2 1.7-.9 1.7-1.5 1.7-2.1 1.7-1.8 1.7 0 1.7.8 1.7-.2 1.7-1.1 1.7-1.1 1.6-1.6 1.7.3 1.7 1.2 1.7 1.7 1.7 1.2M398.8 271.4l1.7 2 1.7 1.1 1.7.5 1.7-.1 1.6-.5 1.7-1.4 1.7-1.6 1.7-1.5 1.7-.8 1.7.5 1.7 1.4 1.7.5 1.7 1.3 1.7 0 1.6-1.8 1.7-1.1 1.7.7 1.7-1 1.7 1.4 1.7 3.3 1.7 3 1.7 4 1.7 1.9 1.7 3.1 1.6 2.8 1.7-1.4 1.7-1.6 1.7-2 1.7-2.2 1.7-2.2 1.7-.6 1.7-.6 1.7.9 1.7.6 1.6-1.4 1.7.7 1.7.8 1.7.4 1.7 1M398.8 284.8l1.7-.6 1.7-1.9 1.7-1.6 1.7-.9 1.6-.7 1.7-.1 1.7-.7 1.7-1.3 1.7.2 1.7-.6 1.7-2.3 1.7-2.9 1.7-1.9 1.7.1 1.6-.1 1.7-1 1.7 1.5 1.7 3.2 1.7 4.2 1.7 4.1 1.7 4.5 1.7 4.6 1.7-.6 1.7 1.9 1.6 3.1 1.7 1.7 1.7 0 1.7-3 1.7-3.8 1.7-1.6 1.7.5 1.7.1 1.7-.5 1.7-1 1.6-1.3 1.7-.4 1.7 1.6 1.7 2.7 1.7 1.2M398.8 278.4l1.7.9 1.7 1.3 1.7.4 1.7-.3 1.6-2.2 1.7-1.8 1.7-.4 1.7.2 1.7-.6 1.7-.3 1.7-.9 1.7-.1 1.7 1.4 1.7.2 1.6-1.7 1.7-2.2 1.7.2 1.7 1.3 1.7 3.5 1.7 4.1 1.7 4.1 1.7 4 1.7-.8 1.7.8 1.6 1.9 1.7.8 1.7-.1 1.7-1.1 1.7-2.3 1.7-1.7 1.7.6 1.7 1.2 1.7-.8 1.7-.7 1.6 0 1.7-1.8 1.7-.3 1.7.2 1.7-.4M398.8 273.7l1.7 1.1 1.7 1.8 1.7.6 1.7-1.3 1.6-2.8 1.7-1.2 1.7.9 1.7.8 1.7.9 1.7.9 1.7-.9 1.7.9 1.7 2.6 1.7.8 1.6.9 1.7 1.6 1.7 2.5 1.7 1.7 1.7 4.1 1.7 3.2 1.7 2.5 1.7 2.2 1.7-1.2 1.7-1.9 1.6-2.5 1.7-1.5 1.7-.3 1.7-.1 1.7.5 1.7 1.9 1.7.6 1.7-.4 1.7 1.2 1.7 1.7 1.6-.5 1.7-2.3 1.7-1.9 1.7-1.1 1.7-1.5M398.8 278.1l1.7-1.2 1.7.1 1.7.2 1.7.2 1.6-.1 1.7-1.5 1.7-.1 1.7 1.5 1.7-.4 1.7-.8 1.7-.2 1.7.1 1.7-.2 1.7.3 1.6 1.3 1.7.5 1.7 2.7 1.7 3.6 1.7 3.9 1.7 5.3 1.7 5.5 1.7 4.8 1.7-.1 1.7.4 1.6 1 1.7-1 1.7-1.3 1.7-.9 1.7-1.3 1.7-3 1.7-1.9 1.7-.7 1.7-1.1 1.7-1.8 1.6-1.2 1.7-.6 1.7-.6 1.7 1.3 1.7 2.4M398.8 279l1.7-1.4 1.7-.8 1.7-1.8 1.7-4.3 1.6-4.4 1.7-2.3 1.7.6 1.7 3.9 1.7 3.2 1.7 1.6 1.7 2.5 1.7.6 1.7-1.5 1.7-2.1 1.6-2.6 1.7-1.1 1.7 1.9 1.7 2.4 1.7 3 1.7 3.9 1.7 3.9 1.7 4.5 1.7-.9 1.7-3.1 1.6-.8 1.7 1.5 1.7-.2 1.7 1.1 1.7 1.6 1.7.9 1.7.2 1.7 1.3 1.7 0 1.7-.7 1.6-2.2 1.7-1 1.7 0 1.7.3 1.7 0M398.8 270.5l1.7.6 1.7 1.8 1.7 1.9 1.7.1 1.6-.6 1.7.8 1.7.5 1.7-.2 1.7.9 1.7.2 1.7-2.6 1.7-2.3 1.7-.2 1.7.2 1.6.7 1.7.4 1.7 1.8 1.7 2.9 1.7 3.3 1.7 3.4 1.7 2.9 1.7 2.6 1.7-.8 1.7-2.2 1.6-1.3 1.7-.7 1.7-.8 1.7-.6 1.7-.2 1.7.8 1.7 1.2 1.7 2.6 1.7 3.3 1.7 2.1 1.6.5 1.7.6 1.7-1.8 1.7-2 1.7.5M398.8 282.9l1.7 1.4 1.7 1.5 1.7.1 1.7-1.5 1.6-.5 1.7-.5 1.7-.7 1.7-1.1 1.7-2.4 1.7-1.5 1.7-1.6 1.7-1.8 1.7-.8 1.7.4 1.6.1 1.7-.3 1.7 1.3 1.7 2.7 1.7 4.5 1.7 6 1.7 4.7 1.7 3.4 1.7.2 1.7-.5 1.6.3 1.7 0 1.7 1.1 1.7.6 1.7 1 1.7 1 1.7-1 1.7-2.4 1.7-4.2 1.7-2.6 1.6-2.7 1.7-2.4 1.7-1 1.7-.4 1.7-.3M398.8 280l1.7.8 1.7.3 1.7.8 1.7.3 1.6.4 1.7-.9 1.7-2.2 1.7-3 1.7-.4 1.7-.6 1.7-1.8 1.7-1.1 1.7-2.2 1.7-2.1 1.6.5 1.7.6 1.7 2.3 1.7 2.2 1.7 4.3 1.7 4.5 1.7 4.1 1.7 2.9 1.7-1.1 1.7-.4 1.6-2 1.7-.6 1.7-.3 1.7-1.4 1.7-.6 1.7-.9 1.7-.9 1.7-.3 1.7-.3 1.7.6 1.6.5 1.7-.5 1.7.6 1.7.8 1.7.2M398.8 278.9l1.7-1.4 1.7-.3 1.7-1.4 1.7-1.7 1.6-1 1.7-1.2 1.7-.5 1.7-.2 1.7.6 1.7 2 1.7 1 1.7 2.6 1.7 2.1 1.7-.8 1.6-.4 1.7-.4 1.7-.1 1.7.2 1.7 2.4 1.7 4 1.7 3.4 1.7 2.6 1.7-1.3 1.7 1.1 1.6 1 1.7 0 1.7-.6 1.7-2.5 1.7-1.7 1.7-.7 1.7-1 1.7.7 1.7 1.1 1.7 1.3 1.6.8 1.7-.3 1.7.9 1.7-.2 1.7.7M398.8 273.9l1.7-.9 1.7-.4 1.7-.2 1.7-.1 1.6 1.2 1.7-.1 1.7-.2 1.7 1.5 1.7-.7 1.7-1.1 1.7.2 1.7-1.2 1.7-.5 1.7.8 1.6.9 1.7 1 1.7 2.3 1.7 1.8 1.7 3.3 1.7 2.9 1.7 2.4 1.7 1.2 1.7-2.1 1.7-.5 1.6.9 1.7 2.8 1.7 1.5 1.7-1.1 1.7-.5 1.7.1 1.7-1.4 1.7-.6 1.7-1 1.7-.7 1.6-.4 1.7-.2 1.7-2.2 1.7-2.5 1.7-1.1M398.8 283.8l1.7-.7 1.7-1.6 1.7-2.3 1.7-1.5 1.6-1.4 1.7-.8 1.7 1 1.7.2 1.7-.6 1.7-.6 1.7 1.3 1.7.9 1.7.2 1.7.6 1.6 1.1 1.7 1.5 1.7 2 1.7 2.8 1.7 3.9 1.7 3.7 1.7 2.7 1.7 1.6 1.7-3.8 1.7-3.3 1.6-2.6 1.7-2.1 1.7-.9 1.7.5 1.7.7 1.7.7 1.7 1.2 1.7 1.8 1.7.6 1.7.4 1.6-.4 1.7-.1 1.7 1.4 1.7-.4 1.7-1.6M398.8 277l1.7-1.4 1.7-1.8 1.7-.7 1.7.4 1.6.5 1.7.5 1.7-.4 1.7-1 1.7-.9 1.7-.8 1.7.3 1.7 1.1 1.7 1.1 1.7 1.1 1.6 1.6 1.7.4 1.7 1 1.7 2.5 1.7 3.7 1.7 3.5 1.7 3.2 1.7 3.7 1.7-.9 1.7-.7 1.6-.9 1.7-1.1 1.7-.3 1.7-1.8 1.7-1.2 1.7 2.5 1.7 2.1 1.7-1.6 1.7-1.3 1.7-.6 1.6-1.5 1.7-1.2 1.7.8 1.7.7 1.7-.5M398.8 286.2l1.7-1.6 1.7-.4 1.7-.4 1.7-.9 1.6-2.6 1.7-1.5 1.7-.4 1.7.6 1.7-.1 1.7-1.8 1.7.4 1.7 1.4 1.7 1.1 1.7 1.5 1.6-.9 1.7-3.3 1.7.3 1.7 2.4 1.7 4.5 1.7 3.2 1.7 1.6 1.7 3.7 1.7.7 1.7-1 1.6-1.9 1.7-2.2 1.7-.6 1.7.6 1.7 2.3 1.7 2.7 1.7 1.3 1.7.8 1.7-.5 1.7-.8 1.6-.2 1.7-.9 1.7-.4 1.7-.4 1.7-.7M398.8 294.4l1.7 1 1.7-1.8 1.7-3.2 1.7-3.3 1.6-3.4 1.7-3.9 1.7-1.5 1.7.1 1.7.5 1.7.3 1.7-.1 1.7 0 1.7 0 1.7 1.2 1.6 2.1 1.7 1.6 1.7 1.7 1.7 1.3 1.7 1.9 1.7 3.7 1.7 4.2 1.7 4.2 1.7-1 1.7-2 1.6-2.1 1.7-.8 1.7-2.1 1.7-1.8 1.7.2 1.7-.6 1.7-.7 1.7.2 1.7 1.6 1.7-.1 1.6-.7 1.7-.4 1.7-.6 1.7-1.4 1.7-.4M398.8 281.8l1.7.5 1.7-1.3 1.7-1.2 1.7 1 1.6.6 1.7-1.3 1.7-1.2 1.7-.2 1.7-.6 1.7-1.1 1.7-1.7 1.7-1.7 1.7.7 1.7.4 1.6 0 1.7 1.2 1.7 2.6 1.7 4.1 1.7 5.8 1.7 5.5 1.7 4.1 1.7 3.2 1.7-1.3 1.7-3.3 1.6-3.1 1.7-1.9 1.7-1.6 1.7-.6 1.7-.1 1.7-.2 1.7.7 1.7.6 1.7.9 1.7.4 1.6 0 1.7-.6 1.7.4 1.7-.5 1.7-2.5M398.8 278.2l1.7.2 1.7.2 1.7-.5 1.7.7 1.6-.8 1.7-.9 1.7-1.4 1.7-2 1.7-2.5 1.7-2.6 1.7-1.8 1.7-.6 1.7 0 1.7.9 1.6.6 1.7 1.4 1.7 3.5 1.7 2.9 1.7 4 1.7 5.1 1.7 4.7 1.7 3.7 1.7-1 1.7-1.3 1.6-.6 1.7.1 1.7.7 1.7-.1 1.7-.2 1.7-.5 1.7-.5 1.7.4 1.7.1 1.7-2 1.6-1.2 1.7-.8 1.7-1.6 1.7-2.2 1.7-1.4M398.8 279.1l1.7.7 1.7-1.1 1.7-2.1 1.7-.8 1.6-3.6 1.7-2.7 1.7-1.5 1.7-1 1.7.5 1.7.8 1.7-.1 1.7.5 1.7.3 1.7-1.5 1.6 0 1.7-.5 1.7.1 1.7.9 1.7 2.4 1.7 4 1.7 3.5 1.7 4.4 1.7.6 1.7-.2 1.6-.1 1.7.7 1.7-.9 1.7-.6 1.7-.9 1.7-1.6 1.7-.8 1.7 0 1.7.3 1.7-.3 1.6-.8 1.7-.1 1.7 1.9 1.7 2.6 1.7 1.3" stroke="#9db6da" stroke-width="0.35" fill="none" opacity="0.3"/>
<path d="M398.8 278.9l1.7-.9 1.7.4 1.7.1 1.7-1 1.6.7 1.7-1.6 1.7-2.9 1.7-2.5 1.7-1.1 1.7-.1 1.7 1.9 1.7 6.5 1.7 6.9 1.7 7.7 1.6 9.5 1.7 5.7 1.7.1 1.7-.4 1.7-1.7 1.7-2.9 1.7-3.4 1.7-1.4 1.7-1.5 1.7-1.9 1.6-.5 1.7.5 1.7 1.2 1.7 1.2 1.7-.5 1.7-.3 1.7.5 1.7-1.9 1.7-1.8 1.7-3.5 1.6-2.8 1.7-.2 1.7-1.1 1.7-.6 1.7.2M398.8 275.3l1.7 1.1 1.7-.5 1.7-1.8 1.7-1.5 1.6-.5 1.7-1.5 1.7-2.5 1.7-.4 1.7.3 1.7-.3 1.7 3.1 1.7 8.4 1.7 7.4 1.7 7.6 1.6 7.8 1.7 3.6 1.7-2.3 1.7-2.7 1.7-2.4 1.7-2.9 1.7-2.6 1.7-1 1.7-1.2 1.7-.7 1.6-.9 1.7-1.1 1.7.3 1.7.1 1.7-.7 1.7-.8 1.7.2 1.7-1.1 1.7-2.6 1.7-.9 1.6-1.5 1.7-1.5 1.7-.9 1.7-.7 1.7.9M398.8 289.1l1.7.5 1.7-.8 1.7-.4 1.7.5 1.6-.3 1.7-1.4 1.7-.6 1.7.3 1.7 0 1.7-1.1 1.7 2.9 1.7 7.9 1.7 6.7 1.7 3.7 1.6 5.4 1.7 4.3 1.7-.5 1.7-.9 1.7-.8 1.7-1.5 1.7-1.9 1.7-4 1.7-4.8 1.7-1 1.6 1.4 1.7 1.1 1.7.7 1.7 1 1.7.5 1.7-1.9 1.7-2.5 1.7-2 1.7.2 1.7 0 1.6-.5 1.7-1.5 1.7-1.3 1.7-.2 1.7-.7M398.8 262.8l1.7-.7 1.7.8 1.7.5 1.7-1.8 1.6-.6 1.7.3 1.7.4 1.7.8 1.7.3 1.7 1.1 1.7 3.6 1.7 8.6 1.7 8.3 1.7 7.8 1.6 8.2 1.7 3.8 1.7-1.5 1.7-.5 1.7.1 1.7-.7 1.7-.4 1.7.8 1.7.5 1.7-1.7 1.6-1.6 1.7-1.3 1.7-1.9 1.7-4 1.7-3.9 1.7-2 1.7-.6 1.7-1.7 1.7-1.4 1.7-.1 1.6-.2 1.7-.4 1.7-.8 1.7-1 1.7-.2M398.8 272.8l1.7 1.1 1.7 1.1 1.7.6 1.7.7 1.6-.1 1.7-1.7 1.7-1.3 1.7-1.4 1.7-1.2 1.7-.8 1.7 1.5 1.7 6.2 1.7 5.8 1.7 5.5 1.6 7.5 1.7 2.2 1.7-3.3 1.7-3.7 1.7-2.6 1.7 0 1.7.9 1.7-1.8 1.7-2.1 1.7-1.9 1.6-1.8 1.7.3 1.7 2.2 1.7 1.6 1.7-.3 1.7.2 1.7.1 1.7-.7 1.7-1 1.7-1.5 1.6-1.8 1.7-1.1 1.7 1 1.7 1.8 1.7 1.8M398.8 274.3l1.7.9 1.7.8 1.7 1.7 1.7 1.2 1.6-.9 1.7-1.1 1.7-2.2 1.7-3.6 1.7-2.1 1.7-1 1.7.9 1.7 5.7 1.7 9 1.7 9.9 1.6 7.6 1.7 3.8 1.7-.8 1.7-1.3 1.7-1.2 1.7-1.1 1.7-1.4 1.7-1.8 1.7-.7 1.7-1.7 1.6 0 1.7.5 1.7.1 1.7-.1 1.7.1 1.7 1 1.7.6 1.7-2.6 1.7-3 1.7-1.9 1.6.1 1.7-.3 1.7-.8 1.7-.6 1.7-1.3M398.8 277l1.7-2.5 1.7-.7 1.7 1.6 1.7.8 1.6 0 1.7-1.2 1.7-.6 1.7-1.3 1.7-.9 1.7-.9 1.7 2.4 1.7 7.3 1.7 8.4 1.7 8.4 1.6 7.5 1.7 4.5 1.7-1 1.7-.5 1.7-.8 1.7-.8 1.7-.7 1.7-1.4 1.7-2.1 1.7-.3 1.6-1.9 1.7-2.6 1.7-2.1 1.7-1.4 1.7-.4 1.7-.6 1.7.1 1.7-.4 1.7-1.2 1.7-1.2 1.6-.7 1.7-1.2 1.7-1.3 1.7-.4 1.7 1.2M398.8 273.7l1.7 1.3 1.7.1 1.7-.2 1.7-.4 1.6-1.5 1.7-2 1.7-.6 1.7 0 1.7-.5 1.7 1.2 1.7 3.9 1.7 9.2 1.7 10.1 1.7 9.9 1.6 8.2 1.7 3.8 1.7-2.6 1.7-4.2 1.7-5 1.7-4.2 1.7-2.6 1.7-1.4 1.7-.1 1.7.5 1.6-.5 1.7-.1 1.7-.6 1.7-2.1 1.7-1.8 1.7-1.4 1.7-1 1.7-.4 1.7.2 1.7-.7 1.6.6 1.7 2.1 1.7.5 1.7.9 1.7-1.3M398.8 263.9l1.7 0 1.7 1.6 1.7 1.7 1.7.4 1.6 1.3 1.7.8 1.7-1.7 1.7-2.4 1.7-1.5 1.7-1.1 1.7 3 1.7 8.7 1.7 7.1 1.7 4.1 1.6 4.5 1.7 1.9 1.7-1.7 1.7-.3 1.7-1 1.7.1 1.7.9 1.7 0 1.7-1.7 1.7-1.6 1.6-1.7 1.7-1.2 1.7-.5 1.7-1.4 1.7-2.5 1.7-1.7 1.7-.9 1.7-1.4 1.7-2.1 1.7-.3 1.6-.3 1.7-1.7 1.7-.5 1.7-.1 1.7.4M398.8 280l1.7-3.1 1.7-1 1.7-1.3 1.7-3 1.6-2 1.7.5 1.7 1 1.7.9 1.7.7 1.7-.8 1.7 2.8 1.7 7.3 1.7 6.1 1.7 6.9 1.6 9 1.7 6.9 1.7.1 1.7-1.8 1.7-2.2 1.7-3.7 1.7-2 1.7-.8 1.7-1.2 1.7-.8 1.6-.7 1.7-.5 1.7.3 1.7-.8 1.7-3.3 1.7-1.5 1.7-.2 1.7-.6 1.7 0 1.7-1.4 1.6-3.4 1.7-2.8 1.7-.7 1.7-.1 1.7-1M398.8 270.7l1.7 2.4 1.7 1.2 1.7.5 1.7.2 1.6.1 1.7 0 1.7-.1 1.7-1.8 1.7-1.4 1.7-.2 1.7 2.5 1.7 8.6 1.7 10.8 1.7 10 1.6 9.5 1.7 4.1 1.7-3.2 1.7-3 1.7-1.5 1.7-2.3 1.7-2.7 1.7-1.4 1.7-1.1 1.7-2.4 1.6-4 1.7-4 1.7-1.7 1.7-.3 1.7-.4 1.7.5 1.7.7 1.7-.6 1.7-.4 1.7-.3 1.6.5 1.7.3 1.7-.9 1.7-.1 1.7 1.4M398.8 279.4l1.7-4.9 1.7-3.8 1.7-.8 1.7-.9 1.6-2 1.7-.1 1.7 1.6 1.7 1.7 1.7-1 1.7-2.1 1.7 2.5 1.7 8.7 1.7 9.1 1.7 9.1 1.6 8.4 1.7 5 1.7-.7 1.7-2 1.7-.9 1.7-.3 1.7-.8 1.7-.8 1.7-.9 1.7-2.3 1.6-3.1 1.7-3.9 1.7-2.5 1.7-1.9 1.7-1.3 1.7.3 1.7 0 1.7-.7 1.7-.1 1.7.9 1.6 1.5 1.7 0 1.7-.8 1.7.5 1.7.5M398.8 283.9l1.7 1.5 1.7.3 1.7-2.2 1.7-.7 1.6 1.1 1.7-.4 1.7-2.2 1.7-1.8 1.7-1.5 1.7-1.1 1.7 2.9 1.7 7.5 1.7 8.4 1.7 7.7 1.6 6.8 1.7 3.7 1.7-1.6 1.7-1.8 1.7-2.6 1.7-2 1.7-1.4 1.7-.9 1.7-1 1.7 0 1.6-.2 1.7-1 1.7-.6 1.7 0 1.7-.5 1.7-.9 1.7-1.2 1.7-1.5 1.7-.7 1.7-1.5 1.6-2.3 1.7-2.1 1.7 1 1.7 2.3 1.7 0M398.8 274.4l1.7 2.1 1.7 1.7 1.7 1.2 1.7.4 1.6-.6 1.7-1.7 1.7-2.7 1.7-3.2 1.7-2.8 1.7-.1 1.7 2 1.7 5.9 1.7 5.7 1.7 5.8 1.6 7.2 1.7 5.3 1.7-.7 1.7-1.1 1.7-.1 1.7-.8 1.7-1.4 1.7-.4 1.7-.2 1.7-2.2 1.6.4 1.7.4 1.7-1.8 1.7-2.4 1.7-2 1.7-3 1.7-3.6 1.7-.4 1.7 1.1 1.7-1.3 1.6-.6 1.7 1.1 1.7-.5 1.7.1 1.7 2M398.8 278.4l1.7.5 1.7-.7 1.7-1.7 1.7.6 1.6 2.6 1.7 3.1 1.7 1.1 1.7-.9 1.7-1 1.7-1.2 1.7 2.1 1.7 5.3 1.7 5.2 1.7 6.5 1.6 7.8 1.7 4.8 1.7-1.4 1.7-1 1.7-1.8 1.7-2.8 1.7-1.7 1.7-1.1 1.7-.9 1.7-1 1.6-2.1 1.7-2.8 1.7-1.9 1.7-2.8 1.7-2.4 1.7 0 1.7-1 1.7-3.2 1.7-1.3 1.7 2 1.6 1.1 1.7-.4 1.7.8 1.7.3 1.7-.8M398.8 273.9l1.7-1.2 1.7-1.7 1.7-3.1 1.7-1.6 1.6.7 1.7.6 1.7 1.5 1.7 3.5 1.7.7 1.7-.5 1.7 3 1.7 8 1.7 6.5 1.7 6.1 1.6 7.4 1.7 3.7 1.7-2.8 1.7-3.6 1.7-2.2 1.7.6 1.7-.9 1.7-.6 1.7.7 1.7-.6 1.6-2.2 1.7-1.8 1.7-2.1 1.7-1.9 1.7-1.4 1.7 0 1.7-.2 1.7-.8 1.7-.3 1.7.5 1.6 2 1.7 1.1 1.7-1.3 1.7-1.5 1.7-1.1M398.8 272.3l1.7-2.4 1.7.1 1.7 2.3 1.7 0 1.6-.3 1.7.9 1.7.7 1.7-1.5 1.7-.2 1.7.8 1.7 3 1.7 8 1.7 8.6 1.7 9 1.6 8.4 1.7 2.7 1.7-4.5 1.7-2.2 1.7-.8 1.7-1.2 1.7-1.3 1.7-.9 1.7-1.6 1.7-2.4 1.6-.2 1.7.2 1.7-1.4 1.7-1.4 1.7-.2 1.7-2.3 1.7-2.6 1.7-.7 1.7-1.2 1.7-2.7 1.6-2.6 1.7-.7 1.7.9 1.7-.5 1.7-1.4M398.8 267.5l1.7-1.1 1.7-.5 1.7-.7 1.7-.4 1.6 1.7 1.7 1 1.7-.3 1.7-.8 1.7-.8 1.7.3 1.7 2.6 1.7 7.8 1.7 8.2 1.7 8.2 1.6 8.4 1.7 6.4 1.7 1.5 1.7-.7 1.7-2.9 1.7-4.1 1.7-2.8 1.7-2.2 1.7-2.3 1.7-1.8 1.6-1.6 1.7-.6 1.7 1.1 1.7.1 1.7-1.4 1.7-3.1 1.7-2.4 1.7-.8 1.7-.5 1.7.4 1.6 0 1.7.1 1.7.8 1.7.3 1.7-1.3M398.8 269.5l1.7-.8 1.7.6 1.7-1 1.7.6 1.6 1.9 1.7 1.2 1.7.7 1.7.8 1.7-1.5 1.7-1.3 1.7 2.4 1.7 6.8 1.7 6.1 1.7 5.5 1.6 6.9 1.7 3.3 1.7-3.8 1.7-2.9 1.7-1.8 1.7-2.4 1.7-1.3 1.7.9 1.7 1 1.7-.2 1.6-1.1 1.7-.3 1.7-.8 1.7 1.2 1.7 1.1 1.7-.6 1.7-.6 1.7 0 1.7-.6 1.7.5 1.6.9 1.7.2 1.7-.5 1.7-.8 1.7-2.4M398.8 275.9l1.7-2 1.7.3 1.7.5 1.7-.8 1.6-.1 1.7.6 1.7.5 1.7-.3 1.7-.8 1.7-2.4 1.7 1.3 1.7 8.8 1.7 9.4 1.7 7 1.6 7.5 1.7 2.9 1.7-2.8 1.7-1.7 1.7-2.2 1.7-3.2 1.7-1.8 1.7.1 1.7.1 1.7-.1 1.6.6 1.7-.6 1.7-.5 1.7-1.6 1.7-1.7 1.7-1.3 1.7-1.4 1.7-.3 1.7-.7 1.7.5 1.6 1.3 1.7.5 1.7 1.3 1.7 1.6 1.7-.6M398.8 272.4l1.7.6 1.7-.1 1.7-.9 1.7-.5 1.6-2.3 1.7-3.3 1.7-.6 1.7.5 1.7-1 1.7-1.4 1.7 3.7 1.7 7.8 1.7 7.9 1.7 8 1.6 7.3 1.7 5.3 1.7-1.1 1.7-.9 1.7-1.5 1.7-2 1.7-1 1.7-1.3 1.7-2 1.7-1.6 1.6 0 1.7.4 1.7-.7 1.7-1.7 1.7-1.3 1.7-.7 1.7-.2 1.7.5 1.7-1 1.7-.5 1.6.8 1.7-1.3 1.7-2.8 1.7-2.7 1.7-3.1M398.8 276.5l1.7 0 1.7-1.1 1.7-1.4 1.7.9 1.6.1 1.7-.5 1.7.4 1.7.7 1.7-.2 1.7-.7 1.7 3.7 1.7 10.1 1.7 8.8 1.7 7.2 1.6 5.8 1.7 2.4 1.7-1.8 1.7-2.8 1.7-3 1.7-3.2 1.7-1.5 1.7-.1 1.7-.3 1.7-.7 1.6 1.2 1.7 1.3 1.7-.9 1.7-3.5 1.7-2.4 1.7-1.6 1.7-3.5 1.7-3 1.7-.8 1.7-.7 1.6.6 1.7 1.1 1.7.5 1.7-.7 1.7-1.1M398.8 284.3l1.7-.5 1.7-1.5 1.7-2.1 1.7-.6 1.6-1.9 1.7-.9 1.7 1.3 1.7.4 1.7-.6 1.7.1 1.7 4.2 1.7 7.7 1.7 7.7 1.7 7.6 1.6 5.3 1.7 2.3 1.7-2.9 1.7-2.3 1.7-1 1.7-1 1.7-1.4 1.7-1.5 1.7-1.6 1.7-2.1 1.6-1.3 1.7-.3 1.7.2 1.7.2 1.7-.3 1.7-.8 1.7-2.1 1.7-3 1.7-1.3 1.7-.7 1.6-1 1.7.1 1.7-.3 1.7.9 1.7 1.2M398.8 260.8l1.7.1 1.7-.3 1.7 0 1.7.5 1.6-1 1.7-1.2 1.7-.3 1.7 0 1.7-.6 1.7-1.5 1.7 1 1.7 6.4 1.7 7.7 1.7 7.2 1.6 8 1.7 3.9 1.7-1.6 1.7-1.8 1.7-2.7 1.7-2 1.7-1.2 1.7.3 1.7-.8 1.7-1 1.6-.5 1.7.8 1.7.6 1.7-.3 1.7-.6 1.7.4 1.7-1.3 1.7-2.7 1.7-.7 1.7-.4 1.6-2.3 1.7-1.9 1.7-.7 1.7-.3 1.7 1.1M398.8 280.4l1.7.2 1.7-4.2 1.7-3 1.7-2.4 1.6-2.2 1.7-.9 1.7-.2 1.7-1.1 1.7-.8 1.7.9 1.7 3.9 1.7 9.3 1.7 8.6 1.7 7 1.6 6.7 1.7 4.3 1.7-2 1.7-2.2 1.7.4 1.7.4 1.7-1.3 1.7-.5 1.7-.4 1.7-1.6 1.6-1.8 1.7-2.4 1.7-2.8 1.7-1.8 1.7-1.9 1.7-.5 1.7-.3 1.7-.1 1.7 3 1.7 1 1.6-1.1 1.7-2 1.7-1.3 1.7-.2 1.7-1.9M398.8 270.7l1.7-.2 1.7.5 1.7.3 1.7-.3 1.6-1 1.7-1.9 1.7-1.9 1.7-.8 1.7-1 1.7.5 1.7 3.9 1.7 7.7 1.7 7.7 1.7 7.6 1.6 7.9 1.7 4.2 1.7-3.8 1.7-3.6 1.7-1.1 1.7-1.2 1.7-3.1 1.7-1.9 1.7-2.3 1.7-.2 1.6.3 1.7-3.1 1.7-1.7 1.7-1.2 1.7-.3 1.7-.4 1.7-1.4 1.7 0 1.7 2 1.7 1.3 1.6 1.1 1.7.7 1.7 0 1.7-1.1 1.7-1.3M398.8 278l1.7 1.1 1.7-1.3 1.7-.1 1.7 1.4 1.6.2 1.7-1 1.7.7 1.7-.1 1.7-.6 1.7.3 1.7 2.2 1.7 5.8 1.7 6.9 1.7 7.4 1.6 6.4 1.7 1.7 1.7-2.9 1.7-3.3 1.7-2.1 1.7-1.4 1.7-3.1 1.7-.7 1.7.3 1.7 1.1 1.6-.1 1.7-1.3 1.7-1.1 1.7-.7 1.7 0 1.7.8 1.7-.1 1.7-.1 1.7.9 1.7.3 1.6.6 1.7.3 1.7-1.6 1.7-3 1.7-2.7M398.8 278.7l1.7-.4 1.7-1.6 1.7-1.1 1.7 1.4 1.6 1.1 1.7-1.3 1.7-.4 1.7 1 1.7-.9 1.7-.2 1.7 2.2 1.7 5.6 1.7 7.1 1.7 7.9 1.6 7.1 1.7 3.5 1.7.4 1.7.6 1.7-.6 1.7-1.1 1.7-1.9 1.7 0 1.7-.7 1.7-1.8 1.6-3.3 1.7-3.6 1.7-2.4 1.7-1.6 1.7-1.6 1.7-2.6 1.7-2.6 1.7-1.5 1.7 0 1.7.2 1.6-.6 1.7-1.7 1.7.1 1.7-1.2 1.7-2.7M398.8 272.2l1.7.1 1.7-.5 1.7-.4 1.7 0 1.6-.4 1.7.1 1.7-.9 1.7-1.5 1.7-.4 1.7 1.5 1.7 3.3 1.7 7.5 1.7 7.4 1.7 7.8 1.6 9.3 1.7 6 1.7-1 1.7-2.4 1.7-1.5 1.7-.1 1.7-.8 1.7-2.1 1.7-2.5 1.7-.8 1.6-1.1 1.7-1.8 1.7-1.8 1.7-1.2 1.7-.9 1.7.2 1.7.6 1.7 1.5 1.7.2 1.7-.1 1.6 1 1.7-1 1.7-3.7 1.7-3.5 1.7-.1M398.8 276.4l1.7 1.4 1.7 3.4 1.7 3.6 1.7 1.8 1.6 1.7 1.7.4 1.7.1 1.7.3 1.7-.3 1.7.1 1.7 1.8 1.7 6.2 1.7 5.7 1.7 4.5 1.6 5.8 1.7 5.3 1.7-.5 1.7-2.2 1.7-3.1 1.7-2.1 1.7-1.5 1.7-2.9 1.7-2.6 1.7-.2 1.6.8 1.7-.7 1.7-1.9 1.7-.7 1.7 0 1.7.5 1.7-.2 1.7-1.8 1.7-1.6 1.7.7 1.6.2 1.7 0 1.7 0 1.7-3.4 1.7-3.3M398.8 274.5l1.7.9 1.7-.1 1.7-1.9 1.7-1.7 1.6-.8 1.7-1 1.7-2.8 1.7-.9 1.7-.4 1.7 0 1.7 4.9 1.7 8.7 1.7 5.3 1.7 4.6 1.6 6.7 1.7 3.2 1.7-3.1 1.7-3.6 1.7-2 1.7-.4 1.7 1.2 1.7.3 1.7.3 1.7-.1 1.6-.6 1.7-1.2 1.7-1.7 1.7-1.6 1.7-1.2 1.7-1.9 1.7-2 1.7-.6 1.7.4 1.7 1 1.6 1.4 1.7-.7 1.7-.7 1.7-.9 1.7-1.4M398.8 269.4l1.7-.8 1.7.3 1.7 1.9 1.7 2 1.6 2 1.7-.2 1.7-2.3 1.7-2.4 1.7-1.7 1.7-2.3 1.7.6 1.7 7 1.7 7.9 1.7 7.6 1.6 8.7 1.7 4.9 1.7.2 1.7-.3 1.7-.5 1.7-1 1.7-1.2 1.7-4.2 1.7-3.1 1.7-.6 1.6-2.1 1.7-3 1.7-1.8 1.7-.8 1.7 1.5 1.7.6 1.7-.8 1.7.2 1.7.1 1.7-.7 1.6-.3 1.7 0 1.7-.3 1.7.4 1.7 1.7M398.8 269.8l1.7-.3 1.7-.9 1.7 0 1.7-.5 1.6-.3 1.7-.5 1.7-1.3 1.7 0 1.7 1.7 1.7 1.5 1.7 1.4 1.7 6.2 1.7 6.9 1.7 6.4 1.6 7 1.7 3.7 1.7-2.6 1.7-1.2 1.7-.2 1.7-1.2 1.7-2.4 1.7-.3 1.7 0 1.7-1.1 1.6-.7 1.7-1.9 1.7-1.8 1.7.1 1.7.1 1.7-1.4 1.7-1.2 1.7-.4 1.7-2.4 1.7-2.4 1.6-2.2 1.7-1.9 1.7-1.2 1.7-.7 1.7.7M398.8 268.8l1.7-1.5 1.7-1.9 1.7-.7 1.7 1.5 1.6 1.6 1.7.3 1.7-.4 1.7 0 1.7-.6 1.7-.7 1.7 2.5 1.7 8.1 1.7 7 1.7 7.5 1.6 7.9 1.7 5 1.7-.5 1.7-.2 1.7 0 1.7-2.2 1.7-3.3 1.7-2.1 1.7-1.5 1.7-.3 1.6-.1 1.7-1.1 1.7.1 1.7-.2 1.7-1 1.7-.6 1.7-2.1 1.7-2.2 1.7.1 1.7-.3 1.6-1.1 1.7-1.7 1.7-.9 1.7-.8 1.7-1.6M398.8 280.8l1.7-1.4 1.7-2 1.7-1.9 1.7-1.2 1.6-2.1 1.7-3.5 1.7-2.4 1.7-.3 1.7-.4 1.7.2 1.7 4.2 1.7 10.2 1.7 8.9 1.7 7.4 1.6 6.5 1.7 1.4 1.7-4 1.7-3.5 1.7-1.4 1.7-.3 1.7-.7 1.7-1.2 1.7-.3 1.7 1.1 1.6.4 1.7-.5 1.7-1.2 1.7-1.9 1.7.7 1.7-.6 1.7-1.4 1.7-1.1 1.7-1.3 1.7-2.5 1.6-1.7 1.7-.5 1.7-.3 1.7-1.1 1.7-.5M398.8 279.9l1.7-1 1.7-1.6 1.7-.8 1.7-.3 1.6.9 1.7.6 1.7 1.6 1.7 2.2 1.7.2 1.7-1.6 1.7.2 1.7 6.1 1.7 7.4 1.7 6.2 1.6 5.9 1.7 3.4 1.7-1.2 1.7 0 1.7.3 1.7-.7 1.7-1.3 1.7-1.2 1.7-1.2 1.7-.8 1.6.5 1.7-.1 1.7-1 1.7-2 1.7-2.2 1.7-1.9 1.7-2.7 1.7-2.3 1.7-.9 1.7-.3 1.6-.6 1.7.1 1.7 1.7 1.7-.7 1.7-2.8M398.8 286.4l1.7.4 1.7-.9 1.7-.5 1.7-1.4 1.6-2.5 1.7-2.3 1.7-2.8 1.7-2.8 1.7-2.9 1.7-2.6 1.7 2 1.7 6.4 1.7 7.4 1.7 7.4 1.6 9.2 1.7 6.3 1.7-.4 1.7-1.1 1.7-.3 1.7-1.3 1.7-3.5 1.7-1.2 1.7-.6 1.7-2.2 1.6-.9 1.7-.3 1.7 0 1.7 1.1 1.7 1.4 1.7.6 1.7.4 1.7 0 1.7-1.6 1.7-2.9 1.6-1.4 1.7-.1 1.7.5 1.7.4 1.7-.4M398.8 285.8l1.7-.7 1.7 0 1.7-.2 1.7-1.3 1.6-2.5 1.7-3.7 1.7-2.2 1.7-1.9 1.7-1.2 1.7-1.2 1.7 3.2 1.7 8.8 1.7 8.1 1.7 8.8 1.6 7.5 1.7 4.3 1.7-.8 1.7-1.6 1.7-1.5 1.7-.9 1.7-1.6 1.7-2.1 1.7-2.1 1.7-2.9 1.6-3.6 1.7-2.5 1.7-1.1 1.7.5 1.7.9 1.7 1 1.7.6 1.7.3 1.7-.5 1.7 1.3 1.6.6 1.7-1.1 1.7-1 1.7-.1 1.7-.7M398.8 266.4l1.7-.5 1.7-1.3 1.7.2 1.7 1.9 1.6 3.4 1.7 1.8 1.7 1 1.7 1.8 1.7.1 1.7-1 1.7 1.7 1.7 5.3 1.7 5.1 1.7 5.5 1.6 7.1 1.7 4.6 1.7 0 1.7 1 1.7 2.8 1.7.9 1.7-.8 1.7-1.9 1.7-2.1 1.7-2.8 1.6-2.9 1.7-2.3 1.7-1.2 1.7.3 1.7.9 1.7.5 1.7.6 1.7-.9 1.7-3.8 1.7-3.5 1.6-4.2 1.7-4 1.7-1.9 1.7 0 1.7.1M398.8 276.6l1.7.7 1.7-1.6 1.7-1.1 1.7-2.9 1.6-2.3 1.7-2.2 1.7-1.9 1.7-1.1 1.7.7 1.7 2.4 1.7 6.6 1.7 11.5 1.7 7.4 1.7 5.4 1.6 6.1 1.7 3.7 1.7-2 1.7-3.9 1.7-4.7 1.7-3.5 1.7-2.4 1.7-1.9 1.7-1.8 1.7-2.4 1.6-1.3 1.7.2 1.7.6 1.7.2 1.7-.5 1.7.5 1.7.4 1.7-.1 1.7-.5 1.7-.7 1.6-.9 1.7-1.6 1.7-1.7 1.7-1.3 1.7-.6M398.8 270l1.7 1.5 1.7 1.6 1.7 1.5 1.7-.9 1.6-2.5 1.7-2.4 1.7-1.7 1.7-2.2 1.7-2.5 1.7-.8 1.7 2.6 1.7 6.7 1.7 6.2 1.7 7.1 1.6 8.3 1.7 4.4 1.7-1.4 1.7.1 1.7.3 1.7-.5 1.7.2 1.7.4 1.7.6 1.7-.5 1.6-1.5 1.7-1.5 1.7-2.9 1.7-3.4 1.7-2.6 1.7-1.1 1.7.7 1.7.2 1.7-.5 1.7-.1 1.6.1 1.7-1.1 1.7-1.6 1.7-1.8 1.7-.7M398.8 281.9l1.7-.5 1.7-2.3 1.7-2.1 1.7-.5 1.6-.4 1.7-.8 1.7-.8 1.7.2 1.7-.3 1.7-1.1 1.7.8 1.7 6.6 1.7 6.8 1.7 5.9 1.6 5.5 1.7 2 1.7-3.6 1.7-1.9 1.7-1.5 1.7-1 1.7.4 1.7.4 1.7.5 1.7.2 1.6-.3 1.7.2 1.7 1.5 1.7-.8 1.7-1.6 1.7-2.1 1.7-1.4 1.7-.7 1.7-.4 1.7-.6 1.6.3 1.7 1.5 1.7-.4 1.7-.7 1.7-1.9M398.8 282.3l1.7-.4 1.7-.3 1.7-1.4 1.7-1.3 1.6-1.2 1.7-1.1 1.7-1.7 1.7-.4 1.7-.2 1.7-.4 1.7 3.3 1.7 8.6 1.7 9 1.7 6.7 1.6 7.1 1.7 3.6 1.7-2.4 1.7-1.9 1.7-2.5 1.7-2 1.7-2.7 1.7-3.6 1.7-2.1 1.7-1.4 1.6-1.6 1.7-3.2 1.7-2.1 1.7 0 1.7.5 1.7-.1 1.7-.4 1.7.6 1.7.4 1.7-.3 1.6-2 1.7-1 1.7-.2 1.7-.5 1.7-1.1M398.8 278.6l1.7-.7 1.7-1.4 1.7-1.2 1.7.2 1.6-.5 1.7-.9 1.7.6 1.7.1 1.7 1.4 1.7 3.3 1.7 4.1 1.7 7.6 1.7 8.4 1.7 7.2 1.6 6.4 1.7 3.4 1.7-3.4 1.7-3.4 1.7-1.5 1.7-.5 1.7.6 1.7-.4 1.7-1.9 1.7-1.1 1.6-.7 1.7-1.6 1.7-1.1 1.7-1.2 1.7-1.4 1.7-1.9 1.7-1.7 1.7-1.6 1.7-.5 1.7.3 1.6 1 1.7.7 1.7.5 1.7-.8 1.7 1.3M398.8 279l1.7-.6 1.7-1.1 1.7-.4 1.7.2 1.6-.3 1.7-.6 1.7-1 1.7 0 1.7.2 1.7-.2 1.7 3.4 1.7 9.3 1.7 8.8 1.7 6.3 1.6 6 1.7 2.2 1.7-2.2 1.7 0 1.7.5 1.7-1.1 1.7-1.3 1.7-2.1 1.7-.7 1.7.2 1.6-.2 1.7-.2 1.7-1.6 1.7-.6 1.7-.3 1.7-.8 1.7-.4 1.7-2.2 1.7-2.1 1.7-1 1.6-2 1.7-2 1.7-1 1.7-.8 1.7-.6M398.8 278.3l1.7.4 1.7-.1 1.7-1 1.7-2.2 1.6-1.2 1.7-.1 1.7.8 1.7 1.5 1.7.5 1.7.8 1.7 4.1 1.7 8.8 1.7 8.4 1.7 7.1 1.6 7.4 1.7 4.1 1.7-3.3 1.7-3.8 1.7-3.2 1.7-4.5 1.7-2.7 1.7-.3 1.7-.7 1.7.6 1.6 2.2 1.7 2.2 1.7.3 1.7-3.7 1.7-4.8 1.7-3.9 1.7-2.4 1.7-2.3 1.7-1.6 1.7-.7 1.6.3 1.7 1.3 1.7 1.3 1.7 1.7 1.7 2.8" stroke="#f3a9ac" stroke-width="0.35" fill="none" opacity="0.3"/>
<path d="M398.8 280.2l1.3-.2 1.7-.3 2.1-.4 2.2-.4 1.9-.3 1.7-.3 1.8-.3 1.6-.3 1.8-.2 1.7-.2 1.9-.1 2-.2 2 0 1.8 0 1.5.3 1 .5.7.6.5.7.4.9.6 1 .7 1.2.7 1.4.7 1.5.7 1.5.7 1.4.7 1.5.6 1.7.6 1.5.7 1.3.9.7 1 .1 1.2-.5 1.2-.8 1.3-.9 1.3-.6 1.2-.5 1.2-.4 1.3-.4 1.6-.3 2-.4 2.8-.4 3.5-.3 3.7-.4 3.2-.3 2.2-.2" stroke="#2a6db5" stroke-width="1.15" fill="none" stroke-linejoin="round"/>
<path d="M398.8 273.2l1.3-.3 1.8-.4 2.1-.5 2.1-.5 1.9-.5 1.7-.5 1.7-.5 1.7-.4 1.4-.4 1.1-.1.7-.1.3-.1.1.1.1.6.4 1.4.6 2.4.7 3.3.8 3.7.9 3.9.8 3.7.8 3.8.9 4.3.8 4.1.9 3.4.8 2.1.8.6.7-.7.7-1.4.8-1.5.8-1.2.8-.8.6-.7.8-.8 1.1-.9 1.7-1.1 2.4-1.4 3-1.7 3.3-1.8 3.4-1.8 3.2-1.5 3.3-1.4 3.6-1.4 3.4-1.2 3-1 2.1-.8" stroke="#e8323b" stroke-width="1.15" fill="none" stroke-linejoin="round"/>
<path d="M213.2 334.5H224V322.9" stroke="#58595b" stroke-width="0.7" fill="none"/>
<text x="222.8" y="324.5" font-size="6.3" text-anchor="middle" transform="rotate(-90 222.8 324.5)">1 s.d.</text>
<text x="217" y="342.6" font-size="6.6" text-anchor="middle">20 ms</text>
<path d="M453.5 334.5H464.3V322.9" stroke="#58595b" stroke-width="0.7" fill="none"/>
<text x="463.1" y="324.5" font-size="6.3" text-anchor="middle" transform="rotate(-90 463.1 324.5)">1 s.d.</text>
<text x="457.3" y="342.6" font-size="6.6" text-anchor="middle">20 ms</text>
<path d="M542.8 330.4l.7 0 .6 0 .7 0 .7 0 .6 0 .7 0 .7 0 .6 0 .7 0 .6 0 .7 0 .7 0 .6 0 .7 0 .7 0 .6 0 .7 0 .7 0 .6 0 .7 0 .7 0 .6 0 .7 0 .6 0 .7 0 .7 0 .6 0 .7 0 .7 0 .6 0 .7 0 .7 0 .6 0 .7-.1.7-.1.6-.1.7-.3.6-.5.7-.9.7-1.2.6-1.9.7-2.7.7-3.6.6-4.7.7-5.8.7-6.8.6-7.6.7-7.8.7-7.6.6-6.6.7-5.1.6-3 .7-.6.7 1.9.6 4.1.7 6 .7 7.2.6 7.7.7 7.7.7 7.1.6 6.3.7 5.1.7 4 .6 3 .7 2 .6 1.4.7.9.7.5.6.2.7.1.7.1.6 0 .7-.1.7 0 .6 0 .7 0 .7 0 .6 0 .7-.1.6 0 .7 0 .7 0 .6 0 .7 0 .7 0 .6 0 .7 0 .7 0 .6 0 .7 0 .7 0 .6 0 .7 0 .6 0 .7 0 .7 0 .6 0 .7 0 .7 0 .6 0 .7 0 .7 0 .6 0 .7 0 .7 0 .6 0 .7 0 .6 0 .7 0 .7 0 .6 0 .7 0 .7-.1.6-.1.7-.1.7-.3.6-.4.7-.8.7-1.1.6-1.6.7-2.3.6-3.1.7-4.2.7-5.3.6-6.3.7-7.4.7-8.2.6-8.5.7-8.3.7-7.6.6-6.2.7-4.2.7-2 .6.6.7 3.1.6 5.2.7 7 .7 8.1.6 8.6.7 8.6.7 8 .6 7.1.7 6.1.7 4.9.6 3.9.7 2.8.7 2.1.6 1.4.7 1 .6.6.7.4.7.2.6.2.7 0 .7.1.6 0 .7 0 .7 0 .6 0 .7 0 .7 0 .6 0 .7 0 .6 0 .7 0 .7 0 .6 0 .7 0 .7 0 .6 0 .7 0 .7 0 .6 0 .7 0 .7 0 .6 0 .7 0 .6 0 .7 0 .7 0 .6 0 .7 0 .7 0 .6 0 .7 0 .7 0 .6 0 .7 0 .7 0 .6 0 .7 0 .6 0 .7 0 .7 0 .6 0 .7 0 .7 0 .6 0 .7 0M542.8 330.4l.7 0 .6 0 .7 0 .7 0 .6 0 .7 0 .7 0 .6 0 .7 0 .6 0 .7 0 .7 0 .6 0 .7 0 .7 0 .6 0 .7 0 .7 0 .6 0 .7 0 .7 0 .6 0 .7 0 .6 0 .7 0 .7 0 .6 0 .7 0 .7 0 .6 0 .7 0 .7 0 .6 0 .7 0 .7 0 .6 0 .7 0 .6 0 .7 0 .7-.1.6 0 .7-.1.7-.2.6-.3.7-.5.7-.6.6-1 .7-1.4.7-1.9.6-2.5.7-3.2.6-3.9.7-4.6.7-5.2.6-5.7.7-6 .7-5.8.6-5.4.7-4.6.7-3.4.6-2 .7-.4.7 1.2.6 2.7.7 3.9.6 5 .7 5.5.7 5.8.6 5.7.7 5.3.7 4.8.6 4.1.7 3.4.7 2.7.6 2 .7 1.6.7 1.1.6.8.7.5.6.3.7.2.7.2.6 0 .7.1.7 0 .6 0 .7 0 .7 0 .6 0 .7 0 .7 0 .6 0 .7 0 .6 0 .7 0 .7 0 .6 0 .7 0 .7 0 .6 0 .7 0 .7 0 .6 0 .7 0 .7 0 .6 0 .7 0 .6 0 .7 0 .7 0 .6 0 .7 0 .7 0 .6 0 .7 0 .7 0 .6 0 .7 0 .7 0 .6 0 .7 0 .6 0 .7 0 .7-.1.6-.2.7-.3.7-.5.6-.7.7-1.3.7-1.8.6-2.5.7-3.5.7-4.6.6-5.7.7-6.7.6-7.6.7-8.1.7-8 .6-7.4.7-6 .7-4.3.6-1.9.7.6.7 3 .6 5.1.7 6.8.7 7.9.6 8.2.7 8 .6 7.4.7 6.5.7 5.4.6 4.2.7 3.2.7 2.4.6 1.6.7 1.1.7.7.6.4.7.3.7.1.6.1.7.1.6 0 .7 0 .7 0 .6 0 .7 0 .7 0 .6 0 .7 0 .7 0 .6 0 .7 0 .7 0 .6 0 .7 0 .6 0 .7 0 .7 0 .6 0 .7 0 .7 0 .6 0 .7 0 .7 0 .6 0 .7 0 .7 0 .6 0 .7 0 .6 0 .7 0 .7 0 .6 0 .7 0 .7 0 .6 0 .7 0M542.8 330.4l.7 0 .6 0 .7 0 .7 0 .6 0 .7 0 .7 0 .6 0 .7 0 .6 0 .7 0 .7 0 .6 0 .7 0 .7 0 .6 0 .7 0 .7 0 .6 0 .7 0 .7 0 .6 0 .7 0 .6 0 .7 0 .7 0 .6 0 .7 0 .7 0 .6 0 .7 0 .7 0 .6 0 .7 0 .7 0 .6 0 .7 0 .6 0 .7 0 .7 0 .6 0 .7 0 .7-.1.6-.1.7-.2.7-.2.6-.4.7-.7.7-1 .6-1.4.7-2.1.6-2.7.7-3.5.7-4.5.6-5.3.7-6.2.7-6.9.6-7.2.7-7.2.7-6.7.6-5.7.7-4.3.7-2.5.6-.5.7 1.6.6 3.4.7 5 .7 6.1.6 6.9.7 7.1.7 6.9.6 6.4.7 5.6.7 4.7.6 3.9.7 2.9.7 2.3.6 1.6.7 1.1.6.8.7.5.7.3.6.2.7.1.7.1.6 0 .7 0 .7 0 .6 0 .7 0 .7 0 .6 0 .7 0 .6 0 .7 0 .7 0 .6 0 .7 0 .7 0 .6 0 .7 0 .7 0 .6 0 .7 0 .7 0 .6 0 .7 0 .6 0 .7 0 .7 0 .6 0 .7 0 .7 0 .6 0 .7 0 .7 0 .6-.1.7-.1.7-.1.6-.2.7-.4.6-.5.7-.8.7-1.2.6-1.6.7-2.2.7-2.9.6-3.6.7-4.3.7-5 .6-5.7.7-6 .7-6.1.6-5.9.7-5.2.6-4.2.7-2.9.7-1.3.6.5.7 2.1.7 3.6.6 4.8.7 5.7.7 6.2.6 6.3.7 6 .7 5.6.6 4.8.7 4.2.6 3.3.7 2.7.7 2 .6 1.4.7 1.1.7.7.6.4.7.4.7.1.6.2.7 0 .7.1.6 0 .7 0 .6 0 .7 0 .7 0 .6 0 .7 0 .7 0 .6 0 .7 0 .7 0 .6 0 .7 0 .7 0 .6 0 .7 0 .6 0 .7 0 .7 0 .6 0 .7 0 .7 0 .6 0 .7 0 .7 0 .6 0 .7 0 .7 0 .6 0 .7 0 .6 0 .7 0 .7 0 .6 0 .7 0 .7 0 .6 0 .7 0M542.8 330.4l.7 0 .6 0 .7 0 .7 0 .6 0 .7 0 .7 0 .6 0 .7 0 .6 0 .7 0 .7 0 .6 0 .7 0 .7 0 .6 0 .7 0 .7 0 .6 0 .7 0 .7 0 .6 0 .7 0 .6 0 .7 0 .7 0 .6 0 .7 0 .7 0 .6 0 .7 0 .7 0 .6 0 .7 0 .7-.1.6-.1.7-.1.6-.2.7-.2.7-.5.6-.6.7-.9.7-1.2.6-1.7.7-2.1.7-2.8.6-3.3.7-3.9.7-4.6.6-5 .7-5.3.6-5.4.7-5.2.7-4.7.6-4 .7-2.9.7-1.7.6-.3.7 1 .7 2.4.6 3.4.7 4.3.7 5 .6 5.2.7 5.2.6 5 .7 4.6.7 4 .6 3.5.7 2.9.7 2.3.6 1.7.7 1.4.7 1 .6.7.7.5.7.3.6.2.7.1.6.1.7.1.7 0 .6 0 .7 0 .7 0 .6 0 .7 0 .7 0 .6 0 .7 0 .7 0 .6 0 .7 0 .6 0 .7 0 .7 0 .6 0 .7 0 .7 0 .6 0 .7 0 .7 0 .6 0 .7 0 .7 0 .6-.1.7 0 .6-.1.7-.2.7-.2.6-.3.7-.5.7-.7.6-.9.7-1.3.7-1.7.6-2.1.7-2.6.7-3.2.6-3.7.7-4.2.6-4.7.7-4.9.7-5.1.6-4.9.7-4.6.7-4 .6-3.2.7-2.1.7-.9.6.3.7 1.6.7 2.7.6 3.6.7 4.4.6 4.9.7 5.2.7 5.2.6 4.9.7 4.6.7 4.2.6 3.5.7 3.1.7 2.5.6 1.9.7 1.6.7 1.2.6.8.7.6.6.5.7.3.7.2.6.1.7.1.7 0 .6.1.7 0 .7 0 .6 0 .7 0 .7 0 .6 0 .7 0 .6 0 .7 0 .7 0 .6 0 .7 0 .7 0 .6 0 .7 0 .7 0 .6 0 .7 0 .7 0 .6 0 .7 0 .6 0 .7 0 .7 0 .6 0 .7 0 .7 0 .6 0 .7 0 .7 0 .6 0 .7 0 .7 0 .6 0 .7 0 .6 0 .7 0 .7 0 .6 0 .7 0 .7 0 .6 0 .7 0M542.8 330.4l.7 0 .6 0 .7 0 .7 0 .6 0 .7 0 .7 0 .6 0 .7 0 .6 0 .7 0 .7 0 .6 0 .7 0 .7 0 .6 0 .7 0 .7 0 .6 0 .7 0 .7 0 .6 0 .7 0 .6 0 .7 0 .7 0 .6 0 .7 0 .7 0 .6 0 .7 0 .7 0 .6 0 .7 0 .7 0 .6 0 .7 0 .6 0 .7 0 .7 0 .6 0 .7-.1.7 0 .6-.1.7-.2.7-.2.6-.3.7-.5.7-.6.6-.8.7-1.2.6-1.4.7-1.9.7-2.3.6-2.7.7-3.2.7-3.6.6-4 .7-4.3.7-4.4.6-4.3.7-4.2.7-3.7.6-3 .7-2.3.6-1.3.7-.4.7.7.6 1.7.7 2.6.7 3.3.6 3.8.7 4.2.7 4.3.6 4.2.7 4.1.7 3.7.6 3.3.7 2.8.6 2.5.7 1.9.7 1.6.6 1.2.7 1 .7.7.6.5.7.3.7.3.6.1.7.1.7.1.6.1.7 0 .6 0 .7 0 .7 0 .6 0 .7 0 .7 0 .6 0 .7 0 .7 0 .6 0 .7 0 .7 0 .6 0 .7 0 .6 0 .7 0 .7 0 .6 0 .7 0 .7 0 .6 0 .7 0 .7 0 .6 0 .7 0 .7 0 .6 0 .7 0 .6-.1.7 0 .7-.2.6-.1.7-.3.7-.4.6-.5.7-.8.7-1 .6-1.4.7-1.7.7-2.2.6-2.7.7-3.1.6-3.6.7-4 .7-4.3.6-4.4.7-4.3.7-4 .6-3.5.7-2.7.7-1.8.6-.9.7.3.7 1.3.6 2.3.7 3.2.6 3.7.7 4.3.7 4.4.6 4.4.7 4.3.7 4 .6 3.5.7 3.1.7 2.6.6 2.1.7 1.7.7 1.4.6 1 .7.7.6.5.7.4.7.3.6.1.7.1.7.1.6.1.7 0 .7 0 .6 0 .7 0 .7 0 .6 0 .7 0 .6 0 .7 0 .7 0 .6 0 .7 0 .7 0 .6 0 .7 0 .7 0 .6 0 .7 0 .7 0 .6 0 .7 0 .6 0 .7 0 .7 0 .6 0 .7 0 .7 0 .6 0 .7 0M542.8 330.4l.7 0 .6 0 .7 0 .7 0 .6 0 .7 0 .7 0 .6 0 .7 0 .6 0 .7 0 .7 0 .6 0 .7 0 .7 0 .6 0 .7 0 .7 0 .6 0 .7 0 .7 0 .6 0 .7 0 .6 0 .7 0 .7 0 .6 0 .7 0 .7 0 .6-.1.7-.1.7-.2.6-.2.7-.5.7-.7.6-1.1.7-1.5.6-2.1.7-2.8.7-3.7.6-4.5.7-5.4.7-6 .6-6.4.7-6.5.7-6.2.6-5.3.7-4 .7-2.4.6-.4.7 1.4.6 3.2.7 4.7.7 5.8.6 6.3.7 6.6.7 6.2.6 5.7.7 4.9.7 4 .6 3.1.7 2.4.7 1.7.6 1.1.7.8.6.4.7.2.7 0 .6 0 .7 0 .7 0 .6-.1.7 0 .7-.1.6 0 .7 0 .7 0 .6 0 .7-.1.6 0 .7 0 .7 0 .6 0 .7 0 .7 0 .6 0 .7 0 .7 0 .6 0 .7 0 .7 0 .6 0 .7 0 .6 0 .7 0 .7 0 .6 0 .7 0 .7 0 .6 0 .7 0 .7 0 .6 0 .7 0 .7 0 .6 0 .7 0 .6 0 .7 0 .7 0 .6 0 .7 0 .7 0 .6-.1.7 0 .7-.2.6-.2.7-.3.7-.5.6-.7.7-1 .6-1.5.7-2 .7-2.5.6-3.3.7-4.1.7-4.8.6-5.6.7-6 .7-6.4.6-6.5.7-6.1.7-5.3.6-4.3.7-2.9.6-1.3.7.4.7 2.2.6 3.6.7 5 .7 5.9.6 6.4.7 6.7.7 6.4.6 6 .7 5.3.7 4.6.6 3.8.7 3.1.6 2.4.7 1.8.7 1.3.6.9.7.6.7.4.6.3.7.2.7.1.6 0 .7.1.7 0 .6 0 .7 0 .6 0 .7 0 .7 0 .6 0 .7 0 .7 0 .6 0 .7 0 .7 0 .6 0 .7 0 .7 0 .6 0 .7 0 .6 0 .7 0 .7 0 .6 0 .7 0 .7 0 .6 0 .7 0 .7 0 .6 0 .7 0 .7 0 .6 0 .7 0 .6 0 .7 0 .7 0 .6 0 .7 0 .7 0 .6 0 .7 0M542.8 330.4l.7 0 .6 0 .7 0 .7 0 .6 0 .7 0 .7 0 .6 0 .7 0 .6 0 .7 0 .7 0 .6 0 .7 0 .7 0 .6 0 .7 0 .7 0 .6 0 .7 0 .7 0 .6 0 .7 0 .6 0 .7 0 .7 0 .6 0 .7 0 .7 0 .6 0 .7 0 .7 0 .6-.1.7 0 .7-.1.6-.1.7-.2.6-.2.7-.3.7-.4.6-.6.7-.8.7-.9.6-1.3.7-1.5.7-1.8.6-2.2.7-2.5.7-2.8.6-3.1.7-3.3.6-3.4.7-3.5.7-3.3.6-3.1.7-2.7.7-2.2.6-1.6.7-1 .7-.2.6.5.7 1.2.7 1.9.6 2.3.7 2.8.6 3.1.7 3.3.7 3.3.6 3.2.7 3.1.7 2.8.6 2.6.7 2.2.7 1.9.6 1.6.7 1.4.7 1 .6.9.7.6.6.5.7.3.7.3.6.2.7.1.7.1.6 0 .7.1.7 0 .6 0 .7 0 .7 0 .6 0 .7 0 .6 0 .7 0 .7 0 .6 0 .7 0 .7 0 .6 0 .7 0 .7 0 .6 0 .7 0 .7 0 .6 0 .7 0 .6 0 .7 0 .7 0 .6 0 .7 0 .7 0 .6 0 .7 0 .7-.1.6 0 .7-.2.7-.1.6-.3.7-.4.6-.5.7-.8.7-1.1.6-1.5.7-1.9.7-2.4.6-2.9.7-3.5.7-4 .6-4.4.7-4.8.7-4.9.6-4.9.7-4.5.6-3.9.7-3.2.7-2.1.6-.9.7.3.7 1.6.6 2.6.7 3.7.7 4.4.6 4.8.7 5.1.7 5 .6 4.8.7 4.4.6 3.9.7 3.4.7 2.7.6 2.3.7 1.7.7 1.4.6.9.7.8.7.5.6.3.7.2.7.2.6.1.7 0 .6.1.7 0 .7 0 .6 0 .7 0 .7 0 .6 0 .7 0 .7 0 .6 0 .7 0 .7 0 .6 0 .7 0 .6 0 .7 0 .7 0 .6 0 .7 0 .7 0 .6 0 .7 0 .7 0 .6 0 .7 0 .7 0 .6 0 .7 0 .6 0 .7 0 .7 0 .6 0 .7 0 .7 0 .6 0 .7 0M542.8 330.4l.7 0 .6 0 .7 0 .7 0 .6 0 .7 0 .7 0 .6 0 .7 0 .6 0 .7 0 .7 0 .6 0 .7 0 .7 0 .6 0 .7 0 .7 0 .6 0 .7 0 .7 0 .6 0 .7 0 .6 0 .7 0 .7 0 .6 0 .7 0 .7 0 .6 0 .7 0 .7 0 .6-.1.7-.1.7-.1.6-.2.7-.3.6-.5.7-.8.7-1 .6-1.4.7-1.8.7-2.4.6-3.1.7-3.6.7-4.2.6-4.7.7-5.1.7-5.3.6-5.1.7-4.6.6-4 .7-2.9.7-1.7.6-.3.7 1 .7 2.4.6 3.5.7 4.3.7 4.9.6 5.1.7 5.1.7 4.8.6 4.3.7 3.8.6 3.1.7 2.5.7 2 .6 1.4.7 1.1.7.8.6.5.7.3.7.2.6.2.7 0 .7.1.6 0 .7 0 .6 0 .7 0 .7 0 .6 0 .7 0 .7 0 .6 0 .7 0 .7 0 .6 0 .7 0 .7 0 .6 0 .7 0 .6 0 .7 0 .7 0 .6 0 .7 0 .7 0 .6 0 .7 0 .7 0 .6 0 .7 0 .7 0 .6-.1.7 0 .6-.1.7-.1.7-.2.6-.2.7-.4.7-.5.6-.7.7-.9.7-1.1.6-1.5.7-1.8.7-2.1.6-2.5.7-2.9.6-3.2.7-3.5.7-3.5.6-3.6.7-3.5.7-3.2.6-2.7.7-2.1.7-1.4.6-.5.7.2.7 1.2.6 1.8.7 2.6.6 3.1.7 3.4.7 3.7.6 3.7.7 3.6.7 3.5.6 3.1.7 2.8.7 2.4.6 2.1.7 1.7.7 1.4.6 1 .7.8.6.7.7.4.7.3.6.3.7.1.7.1.6.1.7 0 .7.1.6 0 .7 0 .7 0 .6 0 .7 0 .6 0 .7 0 .7 0 .6 0 .7 0 .7 0 .6 0 .7 0 .7 0 .6 0 .7 0 .7 0 .6 0 .7 0 .6 0 .7 0 .7 0 .6 0 .7 0 .7 0 .6 0 .7 0 .7 0 .6 0 .7 0 .7 0 .6 0 .7 0 .6 0 .7 0 .7 0 .6 0 .7 0 .7 0 .6 0 .7 0M542.8 330.4l.7 0 .6 0 .7 0 .7 0 .6 0 .7 0 .7 0 .6 0 .7 0 .6 0 .7 0 .7 0 .6 0 .7 0 .7 0 .6 0 .7 0 .7 0 .6 0 .7 0 .7 0 .6 0 .7 0 .6 0 .7 0 .7 0 .6 0 .7 0 .7 0 .6 0 .7 0 .7 0 .6 0 .7 0 .7 0 .6 0 .7 0 .6-.1.7-.1.7 0 .6-.2.7-.2.7-.3.6-.4.7-.5.7-.8.6-.9.7-1.2.7-1.5.6-1.9.7-2.1.6-2.5.7-2.8.7-3.1.6-3.2.7-3.3.7-3.2.6-3.1.7-2.7.7-2.2.6-1.7.7-.9.7-.3.6.5.7 1.1.6 1.8.7 2.4.7 2.7.6 3 .7 3.2.7 3.2.6 3 .7 2.8.7 2.6.6 2.3.7 1.9.7 1.6.6 1.3.7 1 .6.9.7.6.7.4.6.3.7.3.7.1.6.1.7.1.7 0 .6.1.7 0 .7 0 .6 0 .7 0 .6 0 .7 0 .7 0 .6 0 .7 0 .7 0 .6 0 .7 0 .7 0 .6 0 .7 0 .7 0 .6 0 .7 0 .6 0 .7 0 .7 0 .6 0 .7 0 .7 0 .6 0 .7 0 .7 0 .6 0 .7 0 .7 0 .6 0 .7 0 .6 0 .7-.1.7-.1.6-.1.7-.3.7-.5.6-.7.7-1 .7-1.6.6-2.1.7-2.9.7-3.8.6-4.6.7-5.6.6-6.3.7-6.9.7-7.1.6-6.9.7-6.2.7-5.1.6-3.4.7-1.6.7.5.6 2.5.7 4.2.7 5.7.6 6.7.7 7.1.6 7.2.7 6.8.7 6.1.6 5.4.7 4.4.7 3.5.6 2.7.7 1.9.7 1.5.6.9.7.7.7.4.6.3.7.1.6.1.7.1.7 0 .6 0 .7 0 .7 0 .6 0 .7 0 .7 0 .6 0 .7 0 .7 0 .6 0 .7 0 .6 0 .7 0 .7 0 .6 0 .7 0 .7 0 .6 0 .7 0 .7 0 .6 0 .7 0 .7 0 .6 0 .7 0 .6 0 .7 0 .7 0 .6 0 .7 0 .7 0 .6 0 .7 0M542.8 330.4l.7 0 .6 0 .7 0 .7 0 .6 0 .7 0 .7 0 .6 0 .7 0 .6 0 .7 0 .7 0 .6 0 .7 0 .7 0 .6 0 .7 0 .7 0 .6 0 .7 0 .7 0 .6 0 .7 0 .6 0 .7 0 .7 0 .6 0 .7 0 .7 0 .6 0 .7 0 .7 0 .6 0 .7 0 .7-.1.6 0 .7-.1.6-.1.7-.3.7-.3.6-.4.7-.7.7-.9.6-1.3.7-1.6.7-2.1.6-2.6.7-3.2.7-3.6.6-4.1.7-4.5.6-4.7.7-4.8.7-4.5.6-4.1.7-3.5.7-2.5.6-1.4.7-.3.7.9.6 1.9.7 3 .7 3.7.6 4.2.7 4.6.6 4.6.7 4.4.7 4.2.6 3.7.7 3.2.7 2.8.6 2.2.7 1.7.7 1.4.6 1 .7.8.7.5.6.4.7.2.6.2.7.1.7 0 .6.1.7 0 .7 0 .6 0 .7 0 .7 0 .6 0 .7 0 .7 0 .6 0 .7 0 .6 0 .7 0 .7 0 .6 0 .7 0 .7 0 .6 0 .7 0 .7 0 .6 0 .7 0 .7 0 .6 0 .7 0 .6 0 .7 0 .7 0 .6 0 .7-.1.7-.1.6-.1.7-.3.7-.3.6-.5.7-.8.7-1 .6-1.4.7-1.9.6-2.4.7-3 .7-3.7.6-4.3.7-4.8.7-5.3.6-5.4.7-5.4.7-5.1.6-4.5.7-3.5.7-2.4.6-1 .7.4.6 1.8.7 3 .7 4.2.6 4.9.7 5.4.7 5.6.6 5.5.7 5.2.7 4.7.6 4.1.7 3.5.7 2.8.6 2.3.7 1.7.6 1.3.7.9.7.7.6.4.7.3.7.2.6.1.7.1.7.1.6 0 .7 0 .7 0 .6 0 .7 0 .6 0 .7 0 .7 0 .6 0 .7 0 .7 0 .6 0 .7 0 .7 0 .6 0 .7 0 .7 0 .6 0 .7 0 .6 0 .7 0 .7 0 .6 0 .7 0 .7 0 .6 0 .7 0 .7 0 .6 0 .7 0 .7 0 .6 0 .7 0 .6 0 .7 0 .7 0 .6 0 .7 0 .7 0 .6 0 .7 0" stroke="#7d7f82" stroke-width="0.45" fill="none" opacity="0.85"/>
<path d="M542.8 330.4l.7 0 .6 0 .7 0 .7 0 .6 0 .7 0 .7 0 .6 0 .7 0 .6 0 .7 0 .7 0 .6 0 .7 0 .7 0 .6 0 .7 0 .7 0 .6 0 .7 0 .7 0 .6 0 .7 0 .6 0 .7 0 .7 0 .6 0 .7 0 .7 0 .6 0 .7 0 .7 0 .6 0 .7 0 .7-.1.6 0 .7-.1.6-.1.7-.1.7-.3.6-.3.7-.5.7-.6.6-.9.7-1.1.7-1.4.6-1.8.7-2.1.7-2.5.6-2.9.7-3.3.6-3.5.7-3.8.7-3.8.6-3.8.7-3.5.7-3.1.6-2.6.7-1.9.7-1.1.6-.2.7.6.7 1.4.6 2.1.7 2.8.6 3.2.7 3.5.7 3.7.6 3.6.7 3.6.7 3.2.6 3 .7 2.6.7 2.3.6 1.9.7 1.5.7 1.2.6.9.7.7.6.5.7.4.7.3.6.2.7.1.7.1.6 0 .7.1.7 0 .6 0 .7 0 .7 0 .6 0 .7 0 .6 0 .7 0 .7 0 .6 0 .7 0 .7 0 .6 0 .7 0 .7 0 .6 0 .7 0 .7 0 .6 0 .7 0 .6 0 .7 0 .7 0 .6 0 .7-.1.7 0 .6-.1.7-.2.7-.2.6-.4.7-.5.7-.7.6-1 .7-1.3.6-1.7.7-2.1.7-2.5.6-3.1.7-3.6.7-3.9.6-4.3.7-4.5.7-4.5.6-4.3.7-3.9.7-3.2.6-2.4.7-1.4.6-.3.7.7.7 1.9.6 2.8.7 3.5.7 4.2.6 4.5.7 4.6.7 4.6.6 4.3.7 4 .7 3.5.6 3 .7 2.5.6 2.1.7 1.6.7 1.3.6.9.7.7.7.4.6.4.7.2.7.2.6.1.7 0 .7.1.6 0 .7 0 .6 0 .7 0 .7 0 .6 0 .7 0 .7 0 .6 0 .7 0 .7 0 .6 0 .7 0 .7 0 .6 0 .7 0 .6 0 .7 0 .7 0 .6 0 .7 0 .7 0 .6 0 .7 0 .7 0 .6 0 .7 0 .7 0 .6 0 .7 0 .6 0 .7 0 .7 0 .6 0 .7 0 .7 0 .6 0 .7 0" stroke="#e8222a" stroke-width="1.1" fill="none" stroke-linejoin="round"/>
<path d="M542.8 246.9V334.8H674.6" stroke="#231f20" stroke-width="0.6" fill="none"/>
<line x1="540.8" y1="261.7" x2="542.8" y2="261.7" stroke="#231f20" stroke-width="0.6"/>
<text x="538.6" y="264" font-size="6.5" text-anchor="end">0.08</text>
<line x1="540.8" y1="278.9" x2="542.8" y2="278.9" stroke="#231f20" stroke-width="0.6"/>
<text x="538.6" y="281.2" font-size="6.5" text-anchor="end">0.06</text>
<line x1="540.8" y1="296.1" x2="542.8" y2="296.1" stroke="#231f20" stroke-width="0.6"/>
<text x="538.6" y="298.4" font-size="6.5" text-anchor="end">0.04</text>
<line x1="540.8" y1="313.3" x2="542.8" y2="313.3" stroke="#231f20" stroke-width="0.6"/>
<text x="538.6" y="315.6" font-size="6.5" text-anchor="end">0.02</text>
<line x1="540.8" y1="330.5" x2="542.8" y2="330.5" stroke="#231f20" stroke-width="0.6"/>
<text x="538.6" y="332.8" font-size="6.5" text-anchor="end">0</text>
<line x1="556" y1="334.8" x2="556" y2="336.8" stroke="#231f20" stroke-width="0.6"/>
<text x="554.1" y="343.5" font-size="6.5" text-anchor="middle">−40</text>
<line x1="582.5" y1="334.8" x2="582.5" y2="336.8" stroke="#231f20" stroke-width="0.6"/>
<text x="580.6" y="343.5" font-size="6.5" text-anchor="middle">−20</text>
<line x1="608.9" y1="334.8" x2="608.9" y2="336.8" stroke="#231f20" stroke-width="0.6"/>
<text x="608.9" y="343.5" font-size="6.5" text-anchor="middle">0</text>
<line x1="635.3" y1="334.8" x2="635.3" y2="336.8" stroke="#231f20" stroke-width="0.6"/>
<text x="635.3" y="343.5" font-size="6.5" text-anchor="middle">20</text>
<line x1="661.8" y1="334.8" x2="661.8" y2="336.8" stroke="#231f20" stroke-width="0.6"/>
<text x="661.8" y="343.5" font-size="6.5" text-anchor="middle">40</text>
<line x1="542.8" y1="334.8" x2="542.8" y2="336" stroke="#231f20" stroke-width="0.5"/>
<line x1="569.2" y1="334.8" x2="569.2" y2="336" stroke="#231f20" stroke-width="0.5"/>
<line x1="595.7" y1="334.8" x2="595.7" y2="336" stroke="#231f20" stroke-width="0.5"/>
<line x1="622.1" y1="334.8" x2="622.1" y2="336" stroke="#231f20" stroke-width="0.5"/>
<line x1="648.6" y1="334.8" x2="648.6" y2="336" stroke="#231f20" stroke-width="0.5"/>
<line x1="675" y1="334.8" x2="675" y2="336" stroke="#231f20" stroke-width="0.5"/>
<text x="608.9" y="351.8" font-size="6.5" text-anchor="middle">Time lag (ms)</text>
<text x="520.8" y="296.2" font-size="6.8" text-anchor="middle" transform="rotate(-90 520.8 296.2)">Probability</text>
<line x1="25.2" y1="370.8" x2="34" y2="370.8" stroke="#2a6db5" stroke-width="0.9"/>
<text x="36" y="373.2" font-size="6.8">Beta power CLA-L</text>
<line x1="100.9" y1="370.8" x2="109.7" y2="370.8" stroke="#e8323b" stroke-width="0.9"/>
<text x="111.4" y="373.2" font-size="6.8">Beta power CLA-R</text>
<path d="M23.6 410.1l.7 0 .7 0 .7 0 .7-.1.7.1.7.1.7.1.7-.1.7 0 .7.1.7.1.7 0 .7-.1.7.1.7.1.7 0 .7.1.7 0 .7 0 .7 0 .7 0 .7.1.7 0 .7 0 .7.1.7 0 .7-1.8.7-1.7.7-2.4.7-2.5.7-4.5.7-1.7.7-.9.7 3 .7 2 .7 2.3.7 2 .7.4.7 1.2.7-.7.7.9.7 1.8.7.2.7 1.1.7.3.7.5.7.5.7 0 .7 0 .7 0 .7 0 .7 0 .7 0 .7 0 .7 0 .7 0 .7 0 .7 0 .7 0 .7 0 .7 0 .7-.1.7-.3.7-.3.7 0 .7.2.7.3.7.2.7-.2.7-.1.7-.1.7-.1.7-.1.7-.3.7-6.5.7-8.6.7-7 .7 1 .7 3.2.7 2.5.7 2.2.7-1.3.7-1.3.7-1.4.7-2 .7.1.7.2.7 2.5.7 2.8.7 1.8.7 1.3.7 3 .7 1.2.7 1.1.7-.2.7 1.1.7.8.7 1.4.7-1.4.7-1.6.7-2 .7-.4.7 1.1.7.9.7.5.7 1.7.7 1.4.7-.3.7.7.7.1.7-.8.7.4.7 1.1.7.9.7.7.7 0 .7 0 .7 0 .7 0 .7 0 .7 0 .7 0 .7-1.4.7-1.1.7-1.3.7-1 .7-.8.7 0 .7-.8.7-1 .7-.9.7-2.2.7-3.5.7-6.5.7-5.5.7.5.7 0 .7-.4.7 1.7.7.3.7-1.6.7-.8.7-1.5.7 1 .7 1.1.7-1.8.7 1.3.7 2.4.7 1.3.7 4.2.7 4.8.7 3.2.7 4 .7 1.6.7 1.8.7.7.7.8.7.7.7.1.7.1.7.1.7.1.7.2.7.1.7 0 .7 0 .7 0 .7 0 .7 0 .7 0 .7 0 .7 0 .7 0 .7 0 .7 0 .7 0 .7 0 .7 0 .7 0 .7 0 .7 0 .7 0 .7-.2.7-.6.7-1.1.7.4.7-.3.7-.2.7-.3.7-3 .7-2.3.7-1.8.7-4.3.7-3.5.7.8.7 3.9.7.9.7-1.1.7-2.4.7 1.6.7 2.3.7.5.7 1.3.7 1.4.7 3.4.7 1.4.7 1.5.7-.1.7-.5.7-.9.7-.4.7-.1.7-.1.7-.7.7.2.7-.5.7-.1.7-.9.7.1.7-1.4.7 1.9.7-.6.7 1 .7 1.7.7.9.7 1.2.7.1.7.3.7.4.7.2.7 0 .7 0 .7 0 .7 0 .7 0 .7 0 .7 0 .7 0 .7 0 .7 0 .7 0 .7 0 .7 0 .7 0 .7 0 .7 0 .7 0 .7 0 .7 0 .7 0 .7 0 .7 0 .7 0 .7 0 .7 0 .7 0 .7 0 .7 0 .7 0 .7 0 .7 0 .7 0 .7 0 .7 0 .7 0 .7 0 .7-1.4.7-1.6.7-3.4.7-3.6.7-6.2.7-3 .7-4.8.7-2.3.7 1.5.7 1.8.7 1.9.7 2.4.7 2.1.7 1.1.7-.8.7-.2.7-1.6.7-1.6.7-.1.7.7.7 2.9.7.3.7-.2.7.6.7-1.9.7-.2.7 2.2.7 3.2.7 2.6.7 2 .7 2.4.7 1.9.7.3.7 1.2.7.4.7.9.7.5.7 0 .7 0 .7 0 .7 0 .7 0 .7 0 .7 0 .7 0 .7 0 .7 0 .7 0 .7 0 .7 0 .7 0 .7 0 .7 0 .7 0 .7 0 .7 0 .7 0 .7 0 .7-.1.7-.4.7-.2.7-.4.7-.3.7-.3.7-.3.7-1.5.7-1.1.7-2 .7.1.7-2 .7-2.2.7.3.7-1.6.7-.8.7-.2.7.5.7 1.5.7.6.7 2.2.7-.2.7-5.4.7-4.3.7-4.5.7-4.1.7 1.5.7 2.1.7 4.3.7-.1.7-2.9.7-2.8.7 1.9.7 2.3.7 1.6.7-1 .7-1.3.7-.8.7-1.4.7 1.5.7 4.1.7 4.8.7 7 .7 2.2.7-1.6.7 0 .7.2.7 1.7.7 1.6.7 1.1.7.3.7.2.7.2.7 0 .7 0 .7 0 .7 0 .7 0 .7 0 .7 0 .7 0 .7 0 .7 0 .7 0 .7 0 .7-.9.7-1.3.7-.7.7-1.7.7-2.7.7-1.4.7-3.2.7-2.5.7-3 .7-.6.7-3 .7.6.7 4.5.7-2.9.7-.4.7-.7.7-2.3.7-2 .7 1.7.7 2 .7 2.4.7-1.8.7-3 .7-3.1.7-1.9.7-1.1.7.8.7 3.8.7 3.5.7 4.4.7 5.6.7 4.8.7 3.8.7 2.3.7 0 .7 0 .7 0 .7 0 .7 0 .7 0 .7 0 .7 0 .7 0 .7 0 .7 0 .7 0 .7 0 .7 0 .7 0 .7 0 .7 0 .7 0 .7 0 .7 0 .7 0 .7 0 .7 0 .7 0 .7 0 .7-.2.7-1.5.7-1 .7-.8.7.1.7-1.1.7-2.2.7-2.9.7-3.5.7-4.2.7-1.6.7-3.4.7-4.5.7-2.8.7-1.8.7 2.8.7 1.9.7 1.9.7 1.5.7 2.9.7 1.3.7-1.4.7-.6.7-1.6.7 0 .7 1.7.7 3.5.7 5.9.7 6.6.7 1.8.7 1.7.7 1.3.7-.6.7-.9.7-1.2.7.7.7.7.7 1.1.7.4.7 0 .7 0 .7 0 .7 0 .7 0 .7 0 .7 0 .7 0 .7 0 .7 0 .7 0 .7 0 .7 0 .7 0 .7 0 .7 0 .7 0 .7 0 .7 0 .7 0 .7 0 .7 0 .7 0 .7 0 .7 0 .7 0 .7 0 .7 0 .7 0 .7 0 .7-.7.7-2 .7-2.2.7-2 .7-2.2.7-.7.7-1.8.7.4.7 3.1.7.5.7-.5.7-.7.7-.4.7-.8.7-.6.7-1.4.7-1.8.7-.1.7 1 .7.4.7 1.8.7 1.2.7 2 .7.9.7-.7.7.8.7.8.7.5.7 1 .7-.6.7.4.7 1 .7 1.6.7 1.1.7.7.7 0 .7 0 .7 0 .7 0 .7 0 .7 0 .7 0 .7 0 .7 0 .7 0 .7 0 .7 0 .7 0 .7 0 .7-.1.7-.2.7-.2.7-.2.7-.3.7-.5.7-.6.7-.6.7-1.1.7 0 .7-2 .7-.3.7 1 .7 1.2.7-.8.7 1.8.7 1.1.7 1 .7-.5.7-.9.7-.6.7-1 .7-1 .7 0 .7-1.9.7 0 .7-.3.7-.1.7-.8.7.9.7-1.1.7-.9.7.4.7-1.8.7 1.1.7-1.2.7-.3.7-.5.7.8.7.1.7.1.7 3.3.7 1.9.7 2.9.7 1.3.7.2.7.6.7.1.7 0 .7 0 .7 0 .7 0 .7 0 .7 0 .7 0 .7 0 .7-.2.7-.7.7-.8" stroke="#e8323b" stroke-width="0.7" fill="none" stroke-linejoin="round"/>
<path d="M23.6 409.9l.7.3.7.4.7.2.7 0 .7 0 .7 0 .7 0 .7 0 .7 0 .7 0 .7 0 .7 0 .7 0 .7 0 .7 0 .7 0 .7 0 .7 0 .7 0 .7 0 .7 0 .7 0 .7-.5.7-.4.7-.4.7-.9.7-1.4.7-3.1.7-3.3.7-4.3.7-2.9.7-2.8.7-.9.7-1.7.7.1.7-.9.7-.5.7-.7.7 1.7.7 1.9.7-.2.7 3.3.7 2.9.7 3.2.7 4.5.7 3.8.7 2.6.7.2.7.1.7 0 .7.1.7.1.7.1.7.1.7 0 .7.1.7.1.7 0 .7 0 .7 0 .7 0 .7 0 .7 0 .7 0 .7 0 .7 0 .7 0 .7 0 .7 0 .7 0 .7 0 .7 0 .7-1 .7-.9.7-4.1.7-3.1.7-1.9.7-.9.7-.6.7 2.6.7.3.7-.5.7 1.3.7.6.7-1.9.7-2.2.7-3.2.7-.5.7 0 .7-.5.7-2.6.7-.8.7-2.3.7.7.7-.2.7.4.7 0 .7-2.5.7-3.3.7-1.2.7 1.1.7 1.4.7-.9.7 2.4.7-.3.7.9.7 3.3.7 3.5.7 1.5.7 2.2.7 3.7.7 1.5.7 2.9.7 2.5.7 1.9.7 0 .7.2.7 0 .7.1.7 0 .7.1.7.1.7.1.7.1.7 0 .7 0 .7 0 .7 0 .7 0 .7 0 .7-1.7.7-3.3.7-2.5.7-1.9.7-1.1.7-2.8.7 1.4.7-.1.7.8.7-.8.7.4.7-.2.7 1.6.7 2.2.7 1.5.7.3.7.3.7.9.7-1.4.7 2.2.7.4.7-.3.7.3.7-2.6.7-1.7.7-.3.7 1.5.7.7.7-.1.7 1 .7 2.2.7.2.7 1.1.7.8.7 1 .7 0 .7 0 .7.1.7 0 .7 0 .7 0 .7.1.7 0 .7 0 .7 0 .7 0 .7 0 .7 0 .7 0 .7 0 .7 0 .7 0 .7 0 .7-.2.7-.3.7-.2.7-.5.7-.4.7-.1.7-1.8.7-2.3.7.1.7.8.7 1.1.7.8.7-.7.7-1.1.7-2.2.7-2.1.7-1.2.7-3.2.7-1.6.7-3.2.7-1 .7-1.8.7 0 .7-1.6.7.7.7-.2.7-2 .7-1.6.7-1.7.7 0 .7-1.6.7 1.7.7 1.1.7 1.8.7-.6.7 1.6.7 2 .7.8.7 3 .7 1.8.7.2.7 1 .7 2.4.7 1.6.7.9.7 2.2.7 2.2.7 2.6.7 1.2.7.1.7 0 .7.3.7.2.7-.1.7-.4.7-.4.7-.3.7.4.7.2.7.7.7.6.7.1.7 0 .7 0 .7 0 .7 0 .7 0 .7 0 .7 0 .7 0 .7 0 .7 0 .7 0 .7 0 .7 0 .7 0 .7-.1.7-.5.7-.7.7-.6.7 0 .7-1.2.7-.8.7-1.9.7-.4.7-2.5.7-1.2.7-1 .7-.3.7-1.4.7-.1.7-1.6.7-1.2.7.3.7-1.6.7-1.1.7 2.4.7.9.7 2.7.7 1.5.7-1.3.7-3.7.7-1.2.7 2.5.7 4 .7 2.7.7.6.7.7.7 0 .7 1.6.7.6.7 1.2.7.7.7.5.7.6.7.6.7.3.7 0 .7 0 .7.1.7 0 .7 0 .7 0 .7 0 .7.1.7 0 .7 0 .7 0 .7 0 .7 0 .7 0 .7 0 .7 0 .7 0 .7 0 .7 0 .7 0 .7-.4.7-1.4.7-1.2.7-1.5.7-.2.7-1.8.7-1.3.7-2.6.7-.4.7.3.7-2.8.7-1.5.7-1.7.7.8.7-3.4.7-2.2.7-1.7.7-1.3.7.6.7-.4.7 1 .7.8.7 2.1.7 3.3.7 2.2.7 2.4.7-.9.7-1.1.7-.5.7 2 .7.4.7 1.7.7 1.3.7-.1.7 1 .7.1.7.3.7-1.7.7.7.7 2 .7-1.1.7.7.7 1.5.7.2.7 1.6.7 3.3.7.7.7 0 .7 0 .7 0 .7 0 .7 0 .7 0 .7 0 .7 0 .7 0 .7 0 .7 0 .7 0 .7 0 .7 0 .7 0 .7 0 .7 0 .7 0 .7 0 .7 0 .7 0 .7 0 .7 0 .7 0 .7 0 .7 0 .7 0 .7 0 .7-.6.7-1.1.7-1.3.7-2 .7-.1.7-.3.7-.9.7-3.1.7-1.2.7-2.4.7-1.3.7.2.7-.4.7 1 .7 1.4.7 1.7.7.5.7-.5.7-.4.7-1.1.7 1.3.7.3.7.1.7 2 .7 2.4.7 1.8.7 2.2.7 1.8.7 0 .7 0 .7 0 .7 0 .7 0 .7 0 .7 0 .7 0 .7 0 .7 0 .7 0 .7 0 .7 0 .7 0 .7 0 .7 0 .7 0 .7 0 .7 0 .7 0 .7 0 .7 0 .7 0 .7 0 .7 0 .7 0 .7 0 .7 0 .7 0 .7 0 .7 0 .7-.6.7-1 .7-.2.7-2 .7-3.2.7-1.9.7-1.2.7-3.6.7-1.3.7 1.2.7 2.2.7-.5.7-1.9.7-.6.7-1.5.7-.8.7-2.4.7.7.7-.6.7 2.7.7 3.2.7 4 .7 6.7.7 1.1.7.7.7.7.7-1.8.7-3.2.7-5.6.7-7.3.7-1.4.7 2.6.7 9 .7 5.5.7 1.1.7.8.7.4.7 0 .7 0 .7 0 .7 0 .7 0 .7 0 .7 0 .7 0 .7 0 .7 0 .7 0 .7 0 .7 0 .7 0 .7 0 .7 0 .7 0 .7 0 .7 0 .7 0 .7 0 .7 0 .7 0 .7 0 .7 0 .7-.6.7-.7.7-1.1.7-1.7.7-1.2.7-2.4.7-2.2.7-2.3.7-4.3.7-1.6.7-1.9.7 0 .7-1.1.7.3.7-2 .7-1.8.7-1.6.7-3.1.7-1.1.7.2.7 5.6.7.4.7-1.4.7-.8.7 1.9.7 1.8.7 1.8.7 1.7.7 1.3.7.5.7.5.7 1.6.7 2.8.7 4.2.7 3.2.7 2.9.7 1.3.7.9.7 0 .7 0 .7 0 .7 0 .7 0 .7 0 .7 0 .7 0 .7 0 .7 0 .7 0 .7 0 .7 0 .7 0 .7 0 .7 0 .7 0 .7 0 .7 0 .7 0 .7 0 .7 0 .7 0 .7 0 .7 0 .7-.4.7-.4.7-.3.7-.4.7-2.5.7-1.8.7-3 .7-3.4.7-3.2.7-4.6.7-3 .7 1 .7 2.9.7 1.7.7 1.8.7 3.7.7-2.8.7-2.8.7-.4.7 2.1.7 1 .7 1.5.7-5.3.7-2.9.7-4.8.7-1.1.7-2.1.7-2.5.7 5.5.7 3.7.7 5.7.7 7.6.7 7.3.7 1 .7.9.7.3.7 0 .7 0 .7 0 .7 0 .7 0 .7 0 .7 0 .7 0 .7 0" stroke="#2a6db5" stroke-width="0.7" fill="none" stroke-linejoin="round"/>
<line x1="23.9" y1="383.8" x2="23.9" y2="405.7" stroke="#414042" stroke-width="0.6"/>
<text x="20.2" y="394.8" font-size="6.6" text-anchor="middle" transform="rotate(-90 20.2 394.8)">0.5 (AU)</text>
<rect x="45.1" y="419" width="7.6" height="51" fill="#f0f0f0" filter="url(#bl1)"/>
<ellipse cx="48.9" cy="447.4" rx="4.2" ry="6.5" fill="#dbdbdb" filter="url(#bl2)"/>
<ellipse cx="48.9" cy="460.9" rx="3.5" ry="4" fill="#f0f0f0" filter="url(#bl2)"/>
<rect x="76.6" y="419" width="6.1" height="51" fill="#e0e0e0" filter="url(#bl1)"/>
<ellipse cx="79.6" cy="441.2" rx="3.4" ry="6.5" fill="#b3b3b3" filter="url(#bl2)"/>
<ellipse cx="79.6" cy="427.7" rx="2.8" ry="4" fill="#e0e0e0" filter="url(#bl2)"/>
<rect x="85.9" y="419" width="5.3" height="51" fill="#eaeaea" filter="url(#bl1)"/>
<ellipse cx="88.6" cy="447.4" rx="2.9" ry="6.5" fill="#cacaca" filter="url(#bl2)"/>
<ellipse cx="88.6" cy="460.9" rx="2.4" ry="4" fill="#eaeaea" filter="url(#bl2)"/>
<rect x="92.9" y="419" width="5.3" height="51" fill="#eaeaea" filter="url(#bl1)"/>
<ellipse cx="95.6" cy="447.4" rx="2.9" ry="6.5" fill="#cacaca" filter="url(#bl2)"/>
<ellipse cx="95.6" cy="460.9" rx="2.4" ry="4" fill="#eaeaea" filter="url(#bl2)"/>
<rect x="118.2" y="419" width="6.8" height="51" fill="#dddddd" filter="url(#bl1)"/>
<ellipse cx="121.6" cy="441.2" rx="3.8" ry="6.5" fill="#ababab" filter="url(#bl2)"/>
<ellipse cx="121.6" cy="427.7" rx="3.1" ry="4" fill="#dddddd" filter="url(#bl2)"/>
<rect x="156.5" y="419" width="2.7" height="51" fill="#f7f7f7" filter="url(#bl1)"/>
<ellipse cx="157.8" cy="441.2" rx="1.5" ry="6.5" fill="#ececec" filter="url(#bl2)"/>
<ellipse cx="157.8" cy="427.7" rx="1.2" ry="4" fill="#f7f7f7" filter="url(#bl2)"/>
<rect x="161.7" y="419" width="2.7" height="51" fill="#f7f7f7" filter="url(#bl1)"/>
<ellipse cx="163" cy="441.2" rx="1.5" ry="6.5" fill="#ececec" filter="url(#bl2)"/>
<ellipse cx="163" cy="427.7" rx="1.2" ry="4" fill="#f7f7f7" filter="url(#bl2)"/>
<rect x="165.6" y="419" width="6.8" height="51" fill="#ececec" filter="url(#bl1)"/>
<ellipse cx="169" cy="447.4" rx="3.8" ry="6.5" fill="#cfcfcf" filter="url(#bl2)"/>
<ellipse cx="169" cy="460.9" rx="3.1" ry="4" fill="#ececec" filter="url(#bl2)"/>
<rect x="172.6" y="419" width="6.8" height="51" fill="#eaeaea" filter="url(#bl1)"/>
<ellipse cx="176" cy="447.4" rx="3.8" ry="6.5" fill="#cacaca" filter="url(#bl2)"/>
<ellipse cx="176" cy="460.9" rx="3.1" ry="4" fill="#eaeaea" filter="url(#bl2)"/>
<rect x="209.2" y="419" width="2.3" height="51" fill="#f7f7f7" filter="url(#bl1)"/>
<ellipse cx="210.3" cy="447.4" rx="1.3" ry="6.5" fill="#ececec" filter="url(#bl2)"/>
<ellipse cx="210.3" cy="460.9" rx="1" ry="4" fill="#f7f7f7" filter="url(#bl2)"/>
<rect x="214.3" y="419" width="2.7" height="51" fill="#f5f5f5" filter="url(#bl1)"/>
<ellipse cx="215.6" cy="441.2" rx="1.5" ry="6.5" fill="#e7e7e7" filter="url(#bl2)"/>
<ellipse cx="215.6" cy="427.7" rx="1.2" ry="4" fill="#f5f5f5" filter="url(#bl2)"/>
<rect x="219" y="419" width="2.7" height="51" fill="#f5f5f5" filter="url(#bl1)"/>
<ellipse cx="220.3" cy="447.4" rx="1.5" ry="6.5" fill="#e7e7e7" filter="url(#bl2)"/>
<ellipse cx="220.3" cy="460.9" rx="1.2" ry="4" fill="#f5f5f5" filter="url(#bl2)"/>
<rect x="224.6" y="419" width="3" height="51" fill="#f5f5f5" filter="url(#bl1)"/>
<ellipse cx="226.1" cy="441.2" rx="1.7" ry="6.5" fill="#e7e7e7" filter="url(#bl2)"/>
<ellipse cx="226.1" cy="427.7" rx="1.4" ry="4" fill="#f5f5f5" filter="url(#bl2)"/>
<rect x="255.8" y="419" width="4.6" height="51" fill="#efefef" filter="url(#bl1)"/>
<ellipse cx="258.1" cy="447.4" rx="2.5" ry="6.5" fill="#d9d9d9" filter="url(#bl2)"/>
<ellipse cx="258.1" cy="460.9" rx="2.1" ry="4" fill="#efefef" filter="url(#bl2)"/>
<rect x="267.4" y="419" width="4.2" height="51" fill="#e7e7e7" filter="url(#bl1)"/>
<ellipse cx="269.5" cy="441.2" rx="2.3" ry="6.5" fill="#c3c3c3" filter="url(#bl2)"/>
<ellipse cx="269.5" cy="427.7" rx="1.9" ry="4" fill="#e7e7e7" filter="url(#bl2)"/>
<rect x="271.6" y="419" width="3.8" height="51" fill="#e7e7e7" filter="url(#bl1)"/>
<ellipse cx="273.5" cy="441.2" rx="2.1" ry="6.5" fill="#c3c3c3" filter="url(#bl2)"/>
<ellipse cx="273.5" cy="427.7" rx="1.8" ry="4" fill="#e7e7e7" filter="url(#bl2)"/>
<rect x="275.5" y="419" width="3.8" height="51" fill="#e7e7e7" filter="url(#bl1)"/>
<ellipse cx="277.4" cy="441.2" rx="2.1" ry="6.5" fill="#c3c3c3" filter="url(#bl2)"/>
<ellipse cx="277.4" cy="427.7" rx="1.8" ry="4" fill="#e7e7e7" filter="url(#bl2)"/>
<rect x="304.4" y="419" width="3.8" height="51" fill="#ededed" filter="url(#bl1)"/>
<ellipse cx="306.3" cy="441.2" rx="2.1" ry="6.5" fill="#d4d4d4" filter="url(#bl2)"/>
<ellipse cx="306.3" cy="427.7" rx="1.8" ry="4" fill="#ededed" filter="url(#bl2)"/>
<rect x="309.7" y="419" width="3.8" height="51" fill="#ededed" filter="url(#bl1)"/>
<ellipse cx="311.6" cy="441.2" rx="2.1" ry="6.5" fill="#d4d4d4" filter="url(#bl2)"/>
<ellipse cx="311.6" cy="427.7" rx="1.8" ry="4" fill="#ededed" filter="url(#bl2)"/>
<rect x="345.9" y="419" width="5.3" height="51" fill="#d7d7d7" filter="url(#bl1)"/>
<ellipse cx="348.6" cy="441.2" rx="2.9" ry="6.5" fill="#9b9b9b" filter="url(#bl2)"/>
<ellipse cx="348.6" cy="427.7" rx="2.4" ry="4" fill="#d7d7d7" filter="url(#bl2)"/>
<rect x="361.4" y="419" width="1.9" height="51" fill="#fafafa" filter="url(#bl1)"/>
<ellipse cx="362.4" cy="447.4" rx="1.1" ry="6.5" fill="#f3f3f3" filter="url(#bl2)"/>
<ellipse cx="362.4" cy="460.9" rx="0.9" ry="4" fill="#fafafa" filter="url(#bl2)"/>
<rect x="392.1" y="419" width="4.6" height="51" fill="#ececec" filter="url(#bl1)"/>
<ellipse cx="394.4" cy="447.4" rx="2.5" ry="6.5" fill="#cfcfcf" filter="url(#bl2)"/>
<ellipse cx="394.4" cy="460.9" rx="2.1" ry="4" fill="#ececec" filter="url(#bl2)"/>
<rect x="400.5" y="419" width="5.3" height="51" fill="#e6e6e6" filter="url(#bl1)"/>
<ellipse cx="403.2" cy="447.4" rx="2.9" ry="6.5" fill="#c1c1c1" filter="url(#bl2)"/>
<ellipse cx="403.2" cy="460.9" rx="2.4" ry="4" fill="#e6e6e6" filter="url(#bl2)"/>
<rect x="435.9" y="419" width="4.6" height="51" fill="#e4e4e4" filter="url(#bl1)"/>
<ellipse cx="438.2" cy="447.4" rx="2.5" ry="6.5" fill="#bcbcbc" filter="url(#bl2)"/>
<ellipse cx="438.2" cy="460.9" rx="2.1" ry="4" fill="#e4e4e4" filter="url(#bl2)"/>
<rect x="440.9" y="419" width="3.8" height="51" fill="#e4e4e4" filter="url(#bl1)"/>
<ellipse cx="442.8" cy="447.4" rx="2.1" ry="6.5" fill="#bcbcbc" filter="url(#bl2)"/>
<ellipse cx="442.8" cy="460.9" rx="1.8" ry="4" fill="#e4e4e4" filter="url(#bl2)"/>
<rect x="446" y="419" width="3.8" height="51" fill="#e2e2e2" filter="url(#bl1)"/>
<ellipse cx="447.9" cy="447.4" rx="2.1" ry="6.5" fill="#b7b7b7" filter="url(#bl2)"/>
<ellipse cx="447.9" cy="460.9" rx="1.8" ry="4" fill="#e2e2e2" filter="url(#bl2)"/>
<rect x="41.7" y="427.9" width="14.4" height="12" rx="4" fill="#f6b596" filter="url(#bl2)"/>
<rect x="44.1" y="429.6" width="9.6" height="8.8" rx="3.5" fill="#ee9878" filter="url(#bl2)"/>
<ellipse cx="48.9" cy="433.9" rx="3" ry="3.2" fill="#cd4e44" filter="url(#bl1)"/>
<rect x="73.8" y="448.7" width="11.5" height="12" rx="4" fill="#ec9374" filter="url(#bl2)"/>
<rect x="75.8" y="450.3" width="7.7" height="8.8" rx="3.5" fill="#da6a54" filter="url(#bl2)"/>
<ellipse cx="79.6" cy="454.7" rx="2.4" ry="3.2" fill="#8f0c23" filter="url(#bl1)"/>
<rect x="83.6" y="427.9" width="10.1" height="12" rx="4" fill="#f5ab8a" filter="url(#bl2)"/>
<rect x="85.2" y="429.6" width="6.7" height="8.8" rx="3.5" fill="#e7886b" filter="url(#bl2)"/>
<ellipse cx="88.6" cy="433.9" rx="2.1" ry="3.2" fill="#be3036" filter="url(#bl1)"/>
<rect x="90.6" y="427.9" width="10.1" height="12" rx="4" fill="#f4a583" filter="url(#bl2)"/>
<rect x="92.2" y="429.6" width="6.7" height="8.8" rx="3.5" fill="#e37e64" filter="url(#bl2)"/>
<ellipse cx="95.6" cy="433.9" rx="2.1" ry="3.2" fill="#b51e2e" filter="url(#bl1)"/>
<rect x="115.1" y="448.7" width="13" height="12" rx="4" fill="#ec9374" filter="url(#bl2)"/>
<rect x="117.3" y="450.3" width="8.6" height="8.8" rx="3.5" fill="#da6a54" filter="url(#bl2)"/>
<ellipse cx="121.6" cy="454.7" rx="2.7" ry="3.2" fill="#8f0c23" filter="url(#bl1)"/>
<rect x="131.6" y="422.8" width="5.8" height="12" rx="4" fill="#fde2d2" filter="url(#bl2)"/>
<rect x="132.6" y="424.4" width="3.8" height="8.8" rx="3.5" fill="#fbd3bd" filter="url(#bl2)"/>
<ellipse cx="134.5" cy="428.8" rx="1.2" ry="3.2" fill="#f7b799" filter="url(#bl1)"/>
<rect x="155.3" y="448.7" width="5" height="12" rx="4" fill="#facab2" filter="url(#bl2)"/>
<rect x="156.1" y="450.3" width="3.4" height="8.8" rx="3.5" fill="#f6b495" filter="url(#bl2)"/>
<ellipse cx="157.8" cy="454.7" rx="1.1" ry="3.2" fill="#e58267" filter="url(#bl1)"/>
<rect x="160.5" y="448.7" width="5" height="12" rx="4" fill="#fbcfb8" filter="url(#bl2)"/>
<rect x="161.3" y="450.3" width="3.4" height="8.8" rx="3.5" fill="#f7b99b" filter="url(#bl2)"/>
<ellipse cx="163" cy="454.7" rx="1.1" ry="3.2" fill="#e98d6f" filter="url(#bl1)"/>
<rect x="162.5" y="427.9" width="13" height="12" rx="4" fill="#f7bc9f" filter="url(#bl2)"/>
<rect x="164.7" y="429.6" width="8.6" height="8.8" rx="3.5" fill="#f3a481" filter="url(#bl2)"/>
<ellipse cx="169" cy="433.9" rx="2.7" ry="3.2" fill="#d7624e" filter="url(#bl1)"/>
<rect x="169.5" y="427.9" width="13" height="12" rx="4" fill="#f3a380" filter="url(#bl2)"/>
<rect x="171.7" y="429.6" width="8.6" height="8.8" rx="3.5" fill="#e17a61" filter="url(#bl2)"/>
<ellipse cx="176" cy="433.9" rx="2.7" ry="3.2" fill="#b2182b" filter="url(#bl1)"/>
<rect x="188.8" y="427.9" width="4.3" height="12" rx="4" fill="#fde2d2" filter="url(#bl2)"/>
<rect x="189.6" y="429.6" width="2.9" height="8.8" rx="3.5" fill="#fbd3bd" filter="url(#bl2)"/>
<ellipse cx="191" cy="433.9" rx="0.9" ry="3.2" fill="#f7b799" filter="url(#bl1)"/>
<rect x="208.1" y="427.9" width="4.3" height="12" rx="4" fill="#fddcc9" filter="url(#bl2)"/>
<rect x="208.9" y="429.6" width="2.9" height="8.8" rx="3.5" fill="#f9c8af" filter="url(#bl2)"/>
<ellipse cx="210.3" cy="433.9" rx="0.9" ry="3.2" fill="#f4aa88" filter="url(#bl1)"/>
<rect x="213.1" y="448.7" width="5" height="12" rx="4" fill="#facab2" filter="url(#bl2)"/>
<rect x="213.9" y="450.3" width="3.4" height="8.8" rx="3.5" fill="#f6b495" filter="url(#bl2)"/>
<ellipse cx="215.6" cy="454.7" rx="1.1" ry="3.2" fill="#e58267" filter="url(#bl1)"/>
<rect x="217.8" y="427.9" width="5" height="12" rx="4" fill="#fbcfb8" filter="url(#bl2)"/>
<rect x="218.6" y="429.6" width="3.4" height="8.8" rx="3.5" fill="#f7b99b" filter="url(#bl2)"/>
<ellipse cx="220.3" cy="433.9" rx="1.1" ry="3.2" fill="#e98d6f" filter="url(#bl1)"/>
<rect x="223.2" y="448.7" width="5.8" height="12" rx="4" fill="#f9c5ac" filter="url(#bl2)"/>
<rect x="224.2" y="450.3" width="3.8" height="8.8" rx="3.5" fill="#f5ae8e" filter="url(#bl2)"/>
<ellipse cx="226.1" cy="454.7" rx="1.2" ry="3.2" fill="#e0775f" filter="url(#bl1)"/>
<rect x="251.3" y="427.9" width="4.3" height="12" rx="4" fill="#fcd9c4" filter="url(#bl2)"/>
<rect x="252.1" y="429.6" width="2.9" height="8.8" rx="3.5" fill="#f9c3a9" filter="url(#bl2)"/>
<ellipse cx="253.5" cy="433.9" rx="0.9" ry="3.2" fill="#f2a280" filter="url(#bl1)"/>
<rect x="253.8" y="427.9" width="8.6" height="12" rx="4" fill="#f8c1a5" filter="url(#bl2)"/>
<rect x="255.2" y="429.6" width="5.8" height="8.8" rx="3.5" fill="#f4a988" filter="url(#bl2)"/>
<ellipse cx="258.1" cy="433.9" rx="1.8" ry="3.2" fill="#db6d57" filter="url(#bl1)"/>
<rect x="265.5" y="448.7" width="7.9" height="12" rx="4" fill="#ef9b7a" filter="url(#bl2)"/>
<rect x="266.9" y="450.3" width="5.3" height="8.8" rx="3.5" fill="#de725b" filter="url(#bl2)"/>
<ellipse cx="269.5" cy="454.7" rx="1.6" ry="3.2" fill="#a11227" filter="url(#bl1)"/>
<rect x="269.9" y="448.7" width="7.2" height="12" rx="4" fill="#ec9374" filter="url(#bl2)"/>
<rect x="271.1" y="450.3" width="4.8" height="8.8" rx="3.5" fill="#da6a54" filter="url(#bl2)"/>
<ellipse cx="273.5" cy="454.7" rx="1.5" ry="3.2" fill="#8f0c23" filter="url(#bl1)"/>
<rect x="273.8" y="448.7" width="7.2" height="12" rx="4" fill="#f3a380" filter="url(#bl2)"/>
<rect x="275" y="450.3" width="4.8" height="8.8" rx="3.5" fill="#e17a61" filter="url(#bl2)"/>
<ellipse cx="277.4" cy="454.7" rx="1.5" ry="3.2" fill="#b2182b" filter="url(#bl1)"/>
<rect x="302.7" y="448.7" width="7.2" height="12" rx="4" fill="#f6b293" filter="url(#bl2)"/>
<rect x="303.9" y="450.3" width="4.8" height="8.8" rx="3.5" fill="#ec9374" filter="url(#bl2)"/>
<ellipse cx="306.3" cy="454.7" rx="1.5" ry="3.2" fill="#c84540" filter="url(#bl1)"/>
<rect x="308" y="448.7" width="7.2" height="12" rx="4" fill="#f4a886" filter="url(#bl2)"/>
<rect x="309.2" y="450.3" width="4.8" height="8.8" rx="3.5" fill="#e58368" filter="url(#bl2)"/>
<ellipse cx="311.6" cy="454.7" rx="1.5" ry="3.2" fill="#b92732" filter="url(#bl1)"/>
<rect x="343.6" y="448.7" width="10.1" height="12" rx="4" fill="#ec9374" filter="url(#bl2)"/>
<rect x="345.2" y="450.3" width="6.7" height="8.8" rx="3.5" fill="#da6a54" filter="url(#bl2)"/>
<ellipse cx="348.6" cy="454.7" rx="2.1" ry="3.2" fill="#8f0c23" filter="url(#bl1)"/>
<rect x="360.6" y="427.9" width="3.6" height="12" rx="4" fill="#fcd9c4" filter="url(#bl2)"/>
<rect x="361.2" y="429.6" width="2.4" height="8.8" rx="3.5" fill="#f9c3a9" filter="url(#bl2)"/>
<ellipse cx="362.4" cy="433.9" rx="0.8" ry="3.2" fill="#f2a280" filter="url(#bl1)"/>
<rect x="387.8" y="448.7" width="4.3" height="12" rx="4" fill="#fddfce" filter="url(#bl2)"/>
<rect x="388.6" y="450.3" width="2.9" height="8.8" rx="3.5" fill="#faceb6" filter="url(#bl2)"/>
<ellipse cx="390" cy="454.7" rx="0.9" ry="3.2" fill="#f5b091" filter="url(#bl1)"/>
<rect x="390.1" y="427.9" width="8.6" height="12" rx="4" fill="#f8c1a5" filter="url(#bl2)"/>
<rect x="391.5" y="429.6" width="5.8" height="8.8" rx="3.5" fill="#f4a988" filter="url(#bl2)"/>
<ellipse cx="394.4" cy="433.9" rx="1.8" ry="3.2" fill="#db6d57" filter="url(#bl1)"/>
<rect x="398.2" y="427.9" width="10.1" height="12" rx="4" fill="#f5ad8d" filter="url(#bl2)"/>
<rect x="399.8" y="429.6" width="6.7" height="8.8" rx="3.5" fill="#e88b6e" filter="url(#bl2)"/>
<ellipse cx="403.2" cy="433.9" rx="2.1" ry="3.2" fill="#c13639" filter="url(#bl1)"/>
<rect x="426.4" y="448.7" width="4.3" height="12" rx="4" fill="#fddfce" filter="url(#bl2)"/>
<rect x="427.2" y="450.3" width="2.9" height="8.8" rx="3.5" fill="#faceb6" filter="url(#bl2)"/>
<ellipse cx="428.6" cy="454.7" rx="0.9" ry="3.2" fill="#f5b091" filter="url(#bl1)"/>
<rect x="433.9" y="427.9" width="8.6" height="12" rx="4" fill="#f4a886" filter="url(#bl2)"/>
<rect x="435.3" y="429.6" width="5.8" height="8.8" rx="3.5" fill="#e58368" filter="url(#bl2)"/>
<ellipse cx="438.2" cy="433.9" rx="1.8" ry="3.2" fill="#b92732" filter="url(#bl1)"/>
<rect x="439.2" y="427.9" width="7.2" height="12" rx="4" fill="#f3a380" filter="url(#bl2)"/>
<rect x="440.4" y="429.6" width="4.8" height="8.8" rx="3.5" fill="#e17a61" filter="url(#bl2)"/>
<ellipse cx="442.8" cy="433.9" rx="1.5" ry="3.2" fill="#b2182b" filter="url(#bl1)"/>
<rect x="444.3" y="427.9" width="7.2" height="12" rx="4" fill="#ec9374" filter="url(#bl2)"/>
<rect x="445.5" y="429.6" width="4.8" height="8.8" rx="3.5" fill="#da6a54" filter="url(#bl2)"/>
<ellipse cx="447.9" cy="433.9" rx="1.5" ry="3.2" fill="#8f0c23" filter="url(#bl1)"/>
<path d="M24.3 433.9H461" stroke="#77787b" stroke-width="0.7" stroke-dasharray="2.6 1.9"/>
<path d="M24.3 454.7H461" stroke="#77787b" stroke-width="0.7" stroke-dasharray="2.6 1.9"/>
<path d="M23.9 417.6V471.3H461" stroke="#231f20" stroke-width="0.7" fill="none"/>
<line x1="21.9" y1="423.6" x2="23.9" y2="423.6" stroke="#231f20" stroke-width="0.6"/>
<text x="20.6" y="426.5" font-size="6.6" text-anchor="end">40</text>
<line x1="21.9" y1="433.9" x2="23.9" y2="433.9" stroke="#231f20" stroke-width="0.6"/>
<text x="20.6" y="436.8" font-size="6.6" text-anchor="end">20</text>
<line x1="21.9" y1="444.3" x2="23.9" y2="444.3" stroke="#231f20" stroke-width="0.6"/>
<text x="20.6" y="447.2" font-size="6.6" text-anchor="end">0</text>
<line x1="21.9" y1="454.7" x2="23.9" y2="454.7" stroke="#231f20" stroke-width="0.6"/>
<text x="20.6" y="457.6" font-size="6.6" text-anchor="end">−20</text>
<line x1="21.9" y1="465" x2="23.9" y2="465" stroke="#231f20" stroke-width="0.6"/>
<text x="20.6" y="467.9" font-size="6.6" text-anchor="end">−40</text>
<line x1="22.7" y1="428.8" x2="23.9" y2="428.8" stroke="#231f20" stroke-width="0.5"/>
<line x1="22.7" y1="439.1" x2="23.9" y2="439.1" stroke="#231f20" stroke-width="0.5"/>
<line x1="22.7" y1="449.5" x2="23.9" y2="449.5" stroke="#231f20" stroke-width="0.5"/>
<line x1="22.7" y1="459.8" x2="23.9" y2="459.8" stroke="#231f20" stroke-width="0.5"/>
<text x="5.6" y="444.3" font-size="6.8" text-anchor="middle" transform="rotate(-90 5.6 444.3)">Time lag (ms)</text>
<line x1="23.9" y1="471.3" x2="23.9" y2="473.3" stroke="#231f20" stroke-width="0.6"/>
<text x="23.9" y="480.2" font-size="6.6" text-anchor="middle">0</text>
<line x1="110.2" y1="471.3" x2="110.2" y2="473.3" stroke="#231f20" stroke-width="0.6"/>
<text x="110.2" y="480.2" font-size="6.6" text-anchor="middle">5</text>
<line x1="196.6" y1="471.3" x2="196.6" y2="473.3" stroke="#231f20" stroke-width="0.6"/>
<text x="196.6" y="480.2" font-size="6.6" text-anchor="middle">10</text>
<line x1="282.9" y1="471.3" x2="282.9" y2="473.3" stroke="#231f20" stroke-width="0.6"/>
<text x="282.9" y="480.2" font-size="6.6" text-anchor="middle">15</text>
<line x1="369.3" y1="471.3" x2="369.3" y2="473.3" stroke="#231f20" stroke-width="0.6"/>
<text x="369.3" y="480.2" font-size="6.6" text-anchor="middle">20</text>
<line x1="455.6" y1="471.3" x2="455.6" y2="473.3" stroke="#231f20" stroke-width="0.6"/>
<text x="455.6" y="480.2" font-size="6.6" text-anchor="middle">25</text>
<text x="242.5" y="488" font-size="6.8" text-anchor="middle">Time (min)</text>
<defs><linearGradient id="cbar" x1="0" y1="0" x2="0" y2="1"><stop offset="0" stop-color="#67001f"/><stop offset="0.15" stop-color="#b2182b"/><stop offset="0.3" stop-color="#d6604d"/><stop offset="0.4" stop-color="#f4a582"/><stop offset="0.5" stop-color="#ffffff"/><stop offset="0.62" stop-color="#bababa"/><stop offset="0.8" stop-color="#6a6a6a"/><stop offset="1" stop-color="#1a1a1a"/></linearGradient></defs>
<rect x="465.2" y="436.4" width="3.4" height="33.2" rx="1.7" fill="url(#cbar)"/>
<text x="462.8" y="434.6" font-size="6.8">x-corr</text>
<text x="470.5" y="441.6" font-size="6.6">1</text>
<text x="470.5" y="456.5" font-size="6.6">0</text>
<text x="469.6" y="471.6" font-size="6.6">−1</text>
<line x1="542.7" y1="367.2" x2="542.7" y2="393.1" stroke="#231f20" stroke-width="0.6"/>
<line x1="540.7" y1="377.2" x2="542.7" y2="377.2" stroke="#231f20" stroke-width="0.6"/>
<text x="538.8" y="379.6" font-size="6.6" text-anchor="end">5,000</text>
<line x1="540.7" y1="391.5" x2="542.7" y2="391.5" stroke="#231f20" stroke-width="0.6"/>
<text x="538.8" y="393.9" font-size="6.6" text-anchor="end">0</text>
<text x="518.3" y="379.3" font-size="6.8" text-anchor="middle" transform="rotate(-90 518.3 379.3)">Pairs</text>
<path d="M543.3 392.1 L543.3 389.9 L543.7 389.9 L544.1 389.9 L544.5 389.9 L544.9 389.9 L545.3 389.9 L545.6 389.9 L546.0 389.9 L546.4 389.8 L546.8 389.8 L547.2 389.8 L547.6 389.8 L548.0 389.8 L548.4 389.8 L548.8 389.8 L549.2 389.8 L549.6 389.7 L550.0 389.7 L550.4 389.7 L550.8 389.7 L551.2 389.7 L551.5 389.7 L551.9 389.6 L552.3 389.6 L552.7 389.6 L553.1 389.6 L553.5 389.6 L553.9 389.5 L554.3 389.5 L554.7 389.5 L555.1 389.4 L555.5 389.4 L555.9 389.4 L556.3 389.3 L556.7 389.3 L557.1 389.2 L557.4 389.2 L557.8 389.1 L558.2 389.1 L558.6 389.0 L559.0 389.0 L559.4 388.9 L559.8 388.8 L560.2 388.7 L560.6 388.7 L561.0 388.6 L561.4 388.4 L561.8 388.3 L562.2 388.2 L562.6 388.1 L563.0 387.9 L563.3 387.7 L563.7 387.5 L564.1 387.3 L564.5 387.1 L564.9 386.8 L565.3 386.5 L565.7 386.2 L566.1 385.8 L566.5 385.3 L566.9 384.8 L567.3 384.2 L567.7 383.6 L568.1 382.8 L568.5 381.9 L568.9 380.9 L569.2 379.8 L569.6 378.5 L570.0 377.1 L570.4 375.5 L570.8 373.9 L571.2 372.3 L571.6 370.7 L572.0 369.5 L572.4 368.7 L572.8 368.4 L573.2 368.7 L573.6 369.6 L574.0 370.8 L574.4 372.3 L574.8 374.0 L575.2 375.6 L575.5 377.2 L575.9 378.6 L576.3 379.9 L576.7 381.0 L577.1 382.0 L577.5 382.9 L577.9 383.6 L578.3 384.3 L578.7 384.9 L579.1 385.4 L579.5 385.8 L579.9 386.2 L580.3 386.5 L580.7 386.8 L581.1 387.1 L581.4 387.3 L581.8 387.5 L582.2 387.7 L582.6 387.9 L583.0 388.1 L583.4 388.2 L583.8 388.3 L584.2 388.5 L584.6 388.6 L585.0 388.7 L585.4 388.7 L585.8 388.8 L586.2 388.9 L586.6 389.0 L587.0 389.0 L587.3 389.1 L587.7 389.1 L588.1 389.2 L588.5 389.2 L588.9 389.3 L589.3 389.3 L589.7 389.4 L590.1 389.4 L590.1 392.1Z" fill="#f63a45"/>
<path d="M590.1 392.1 L590.1 389.3 L590.5 389.3 L590.9 389.2 L591.3 389.2 L591.7 389.1 L592.1 389.1 L592.5 389.0 L592.9 389.0 L593.2 388.9 L593.6 388.8 L594.0 388.8 L594.4 388.7 L594.8 388.6 L595.2 388.5 L595.6 388.4 L596.0 388.3 L596.4 388.2 L596.8 388.0 L597.2 387.9 L597.6 387.7 L598.0 387.5 L598.4 387.3 L598.8 387.1 L599.1 386.9 L599.5 386.6 L599.9 386.3 L600.3 386.0 L600.7 385.6 L601.1 385.2 L601.5 384.7 L601.9 384.1 L602.3 383.5 L602.7 382.8 L603.1 382.1 L603.5 381.2 L603.9 380.3 L604.3 379.3 L604.7 378.2 L605.0 377.0 L605.4 375.8 L605.8 374.7 L606.2 373.7 L606.6 372.9 L607.0 372.4 L607.4 372.2 L607.8 372.4 L608.2 372.9 L608.6 373.7 L609.0 374.7 L609.4 375.8 L609.8 376.9 L610.2 378.1 L610.6 379.2 L611.0 380.2 L611.3 381.2 L611.7 382.0 L612.1 382.8 L612.5 383.5 L612.9 384.1 L613.3 384.6 L613.7 385.1 L614.1 385.6 L614.5 385.9 L614.9 386.3 L615.3 386.6 L615.7 386.9 L616.1 387.1 L616.5 387.3 L616.9 387.5 L617.2 387.7 L617.6 387.9 L618.0 388.0 L618.4 388.2 L618.8 388.3 L619.2 388.4 L619.6 388.5 L620.0 388.6 L620.4 388.7 L620.8 388.8 L621.2 388.8 L621.6 388.9 L622.0 389.0 L622.4 389.0 L622.8 389.1 L623.1 389.1 L623.5 389.2 L623.9 389.2 L624.3 389.3 L624.7 389.3 L625.1 389.4 L625.5 389.4 L625.9 389.4 L626.3 389.5 L626.7 389.5 L627.1 389.5 L627.5 389.5 L627.9 389.6 L628.3 389.6 L628.7 389.6 L629.0 389.6 L629.4 389.6 L629.8 389.7 L630.2 389.7 L630.6 389.7 L631.0 389.7 L631.4 389.7 L631.8 389.7 L632.2 389.8 L632.6 389.8 L633.0 389.8 L633.4 389.8 L633.8 389.8 L634.2 389.8 L634.6 389.8 L634.9 389.8 L635.3 389.8 L635.7 389.9 L636.1 389.9 L636.5 389.9 L636.9 389.9 L636.9 392.1Z" fill="#3d7cc0"/>
<line x1="542.7" y1="393.1" x2="637.1" y2="393.1" stroke="#231f20" stroke-width="0.6"/>
<line x1="543.3" y1="393.1" x2="543.3" y2="394.5" stroke="#231f20" stroke-width="0.5"/>
<line x1="548" y1="393.1" x2="548" y2="394.5" stroke="#231f20" stroke-width="0.5"/>
<line x1="552.6" y1="393.1" x2="552.6" y2="394.5" stroke="#231f20" stroke-width="0.5"/>
<line x1="557.3" y1="393.1" x2="557.3" y2="394.5" stroke="#231f20" stroke-width="0.5"/>
<line x1="562" y1="393.1" x2="562" y2="394.5" stroke="#231f20" stroke-width="0.5"/>
<line x1="566.7" y1="393.1" x2="566.7" y2="394.5" stroke="#231f20" stroke-width="0.5"/>
<line x1="571.4" y1="393.1" x2="571.4" y2="394.5" stroke="#231f20" stroke-width="0.5"/>
<line x1="576.1" y1="393.1" x2="576.1" y2="394.5" stroke="#231f20" stroke-width="0.5"/>
<line x1="580.7" y1="393.1" x2="580.7" y2="394.5" stroke="#231f20" stroke-width="0.5"/>
<line x1="585.4" y1="393.1" x2="585.4" y2="394.5" stroke="#231f20" stroke-width="0.5"/>
<line x1="590.1" y1="393.1" x2="590.1" y2="394.5" stroke="#231f20" stroke-width="0.5"/>
<line x1="594.8" y1="393.1" x2="594.8" y2="394.5" stroke="#231f20" stroke-width="0.5"/>
<line x1="599.5" y1="393.1" x2="599.5" y2="394.5" stroke="#231f20" stroke-width="0.5"/>
<line x1="604.1" y1="393.1" x2="604.1" y2="394.5" stroke="#231f20" stroke-width="0.5"/>
<line x1="608.8" y1="393.1" x2="608.8" y2="394.5" stroke="#231f20" stroke-width="0.5"/>
<line x1="613.5" y1="393.1" x2="613.5" y2="394.5" stroke="#231f20" stroke-width="0.5"/>
<line x1="618.2" y1="393.1" x2="618.2" y2="394.5" stroke="#231f20" stroke-width="0.5"/>
<line x1="622.9" y1="393.1" x2="622.9" y2="394.5" stroke="#231f20" stroke-width="0.5"/>
<line x1="627.6" y1="393.1" x2="627.6" y2="394.5" stroke="#231f20" stroke-width="0.5"/>
<line x1="632.2" y1="393.1" x2="632.2" y2="394.5" stroke="#231f20" stroke-width="0.5"/>
<line x1="636.9" y1="393.1" x2="636.9" y2="394.5" stroke="#231f20" stroke-width="0.5"/>
<defs><clipPath id="fl"><rect x="543" y="397" width="47.1" height="73"/></clipPath><clipPath id="fr"><rect x="590.1" y="397" width="47" height="73"/></clipPath></defs>
<g clip-path="url(#fl)"><ellipse cx="570" cy="430" rx="26" ry="34" fill="#fdeff0" filter="url(#bl3)"/><ellipse cx="573" cy="426" rx="12" ry="22" fill="#fbcdd1" filter="url(#bl3)"/><path d="M573.2 404 C578 414 580 424 579.3 432 C578.5 439 568 439.5 567 432 C566.3 424 569 414 573.2 404Z" fill="#f36a74" filter="url(#bl2)"/><path d="M573.2 416 C576 421 577.2 426 576.8 431 C576.2 435 570.5 435.3 569.8 431 C569.3 426 570.8 421 573.2 416Z" fill="#e81826" filter="url(#bl1)"/><ellipse cx="573.3" cy="430" rx="2.6" ry="3.8" fill="#d8000e" filter="url(#bl1)"/></g>
<g clip-path="url(#fr)"><ellipse cx="612" cy="434" rx="26" ry="32" fill="#f1f5fb" filter="url(#bl3)"/><ellipse cx="607" cy="442" rx="9" ry="16" fill="#d5e1f1" filter="url(#bl3)" transform="rotate(-10 607 442)"/><path d="M601.5 435 C602 428 610 427.5 611.5 433 C613 440 613 451 610 458 C607.5 461 605 453 604 448 C602.5 443 601.3 439 601.5 435Z" fill="#6f9bd0" filter="url(#bl2)"/><path d="M603.2 436 C603.6 432 608.3 431.5 609.3 435 C610.3 439 610 445 608.3 447 C606.8 448.5 605.3 444.5 604.6 442 C603.6 439.5 603 438 603.2 436Z" fill="#0d52a0" filter="url(#bl1)"/></g>
<path d="M542.7 398.3V470.2H637.1" stroke="#231f20" stroke-width="0.6" fill="none"/>
<line x1="540.7" y1="398.4" x2="542.7" y2="398.4" stroke="#231f20" stroke-width="0.6"/>
<text x="538.8" y="400.8" font-size="6.6" text-anchor="end">4</text>
<line x1="540.7" y1="416.4" x2="542.7" y2="416.4" stroke="#231f20" stroke-width="0.6"/>
<text x="538.8" y="418.8" font-size="6.6" text-anchor="end">2</text>
<line x1="540.7" y1="434.3" x2="542.7" y2="434.3" stroke="#231f20" stroke-width="0.6"/>
<text x="538.8" y="436.7" font-size="6.6" text-anchor="end">0</text>
<line x1="540.7" y1="452.2" x2="542.7" y2="452.2" stroke="#231f20" stroke-width="0.6"/>
<text x="538.8" y="454.6" font-size="6.6" text-anchor="end">−2</text>
<line x1="540.7" y1="470.2" x2="542.7" y2="470.2" stroke="#231f20" stroke-width="0.6"/>
<text x="538.8" y="472.6" font-size="6.6" text-anchor="end">−4</text>
<line x1="543.3" y1="470.2" x2="543.3" y2="471.8" stroke="#231f20" stroke-width="0.5"/>
<line x1="548" y1="470.2" x2="548" y2="471.8" stroke="#231f20" stroke-width="0.5"/>
<line x1="552.6" y1="470.2" x2="552.6" y2="472.2" stroke="#231f20" stroke-width="0.5"/>
<line x1="557.3" y1="470.2" x2="557.3" y2="471.8" stroke="#231f20" stroke-width="0.5"/>
<line x1="562" y1="470.2" x2="562" y2="471.8" stroke="#231f20" stroke-width="0.5"/>
<line x1="566.7" y1="470.2" x2="566.7" y2="471.8" stroke="#231f20" stroke-width="0.5"/>
<line x1="571.4" y1="470.2" x2="571.4" y2="472.2" stroke="#231f20" stroke-width="0.5"/>
<line x1="576.1" y1="470.2" x2="576.1" y2="471.8" stroke="#231f20" stroke-width="0.5"/>
<line x1="580.7" y1="470.2" x2="580.7" y2="471.8" stroke="#231f20" stroke-width="0.5"/>
<line x1="585.4" y1="470.2" x2="585.4" y2="471.8" stroke="#231f20" stroke-width="0.5"/>
<line x1="590.1" y1="470.2" x2="590.1" y2="472.2" stroke="#231f20" stroke-width="0.5"/>
<line x1="594.8" y1="470.2" x2="594.8" y2="471.8" stroke="#231f20" stroke-width="0.5"/>
<line x1="599.5" y1="470.2" x2="599.5" y2="471.8" stroke="#231f20" stroke-width="0.5"/>
<line x1="604.1" y1="470.2" x2="604.1" y2="471.8" stroke="#231f20" stroke-width="0.5"/>
<line x1="608.8" y1="470.2" x2="608.8" y2="472.2" stroke="#231f20" stroke-width="0.5"/>
<line x1="613.5" y1="470.2" x2="613.5" y2="471.8" stroke="#231f20" stroke-width="0.5"/>
<line x1="618.2" y1="470.2" x2="618.2" y2="471.8" stroke="#231f20" stroke-width="0.5"/>
<line x1="622.9" y1="470.2" x2="622.9" y2="471.8" stroke="#231f20" stroke-width="0.5"/>
<line x1="627.6" y1="470.2" x2="627.6" y2="472.2" stroke="#231f20" stroke-width="0.5"/>
<line x1="632.2" y1="470.2" x2="632.2" y2="471.8" stroke="#231f20" stroke-width="0.5"/>
<line x1="636.9" y1="470.2" x2="636.9" y2="471.8" stroke="#231f20" stroke-width="0.5"/>
<text x="550.7" y="479.9" font-size="6.6" text-anchor="middle">−40</text>
<text x="569.5" y="479.9" font-size="6.6" text-anchor="middle">−20</text>
<text x="590.1" y="479.9" font-size="6.6" text-anchor="middle">0</text>
<text x="608.8" y="479.9" font-size="6.6" text-anchor="middle">20</text>
<text x="627.6" y="479.9" font-size="6.6" text-anchor="middle">40</text>
<text x="590.1" y="488.2" font-size="6.8" text-anchor="middle" fill="#231f20">Δ<tspan font-style="italic">t</tspan> (ms)</text>
<text x="545.8" y="468.8" font-size="7" fill="#231f20"><tspan font-style="italic">n</tspan> = 106,483</text>
<text x="637" y="468.8" font-size="7" text-anchor="end" fill="#231f20"><tspan font-style="italic">n</tspan> = 101,299</text>
<text x="526.8" y="434.3" font-size="6.8" text-anchor="middle" transform="rotate(-90 526.8 434.3)">ΔNorm. amp. (s.d.)</text>
<path d="M642.4 398.3 L642.86 398.30 L642.89 398.66 L642.94 399.02 L642.99 399.38 L643.06 399.75 L643.12 400.11 L643.19 400.47 L643.25 400.83 L643.32 401.19 L643.38 401.55 L643.45 401.91 L643.51 402.27 L643.58 402.64 L643.64 403.00 L643.71 403.36 L643.77 403.72 L643.84 404.08 L643.91 404.44 L644.00 404.80 L644.09 405.16 L644.18 405.53 L644.29 405.89 L644.40 406.25 L644.51 406.61 L644.63 406.97 L644.74 407.33 L644.86 407.69 L644.97 408.06 L645.08 408.42 L645.20 408.78 L645.31 409.14 L645.43 409.50 L645.54 409.86 L645.66 410.22 L645.77 410.58 L645.87 410.95 L645.97 411.31 L646.07 411.67 L646.15 412.03 L646.24 412.39 L646.32 412.75 L646.40 413.11 L646.47 413.47 L646.55 413.84 L646.63 414.20 L646.71 414.56 L646.79 414.92 L646.87 415.28 L646.95 415.64 L647.03 416.00 L647.11 416.37 L647.19 416.73 L647.26 417.09 L647.34 417.45 L647.42 417.81 L647.50 418.17 L647.58 418.53 L647.66 418.89 L647.77 419.26 L647.92 419.62 L648.10 419.98 L648.32 420.34 L648.58 420.70 L648.87 421.06 L649.19 421.42 L649.52 421.78 L649.85 422.15 L650.18 422.51 L650.51 422.87 L650.84 423.23 L651.15 423.59 L651.45 423.95 L651.73 424.31 L652.00 424.68 L652.25 425.04 L652.53 425.40 L652.83 425.76 L653.17 426.12 L653.55 426.48 L653.98 426.84 L654.44 427.20 L654.95 427.57 L655.45 427.93 L655.95 428.29 L656.46 428.65 L656.96 429.01 L657.47 429.37 L658.02 429.73 L658.60 430.09 L659.23 430.46 L659.89 430.82 L660.59 431.18 L661.32 431.54 L662.09 431.90 L662.86 432.26 L663.63 432.62 L664.39 432.99 L665.16 433.35 L665.93 433.71 L666.69 434.07 L667.46 434.43 L668.22 434.79 L668.98 435.15 L669.68 435.51 L670.29 435.88 L670.83 436.24 L671.20 436.60 L671.39 436.96 L671.41 437.32 L671.24 437.68 L670.96 438.04 L670.58 438.41 L670.10 438.77 L669.59 439.13 L668.99 439.49 L668.29 439.85 L667.49 440.21 L666.59 440.57 L665.60 440.93 L664.51 441.30 L663.44 441.66 L662.48 442.02 L661.63 442.38 L660.90 442.74 L660.27 443.10 L659.77 443.46 L659.37 443.82 L658.98 444.19 L658.57 444.55 L658.15 444.91 L657.70 445.27 L657.24 445.63 L656.76 445.99 L656.27 446.35 L655.75 446.72 L655.24 447.08 L654.73 447.44 L654.23 447.80 L653.77 448.16 L653.35 448.52 L652.98 448.88 L652.64 449.24 L652.35 449.61 L652.11 449.97 L651.89 450.33 L651.68 450.69 L651.46 451.05 L651.24 451.41 L651.01 451.77 L650.78 452.13 L650.55 452.50 L650.31 452.86 L650.06 453.22 L649.82 453.58 L649.57 453.94 L649.32 454.30 L649.07 454.66 L648.82 455.03 L648.58 455.39 L648.33 455.75 L648.09 456.11 L647.87 456.47 L647.67 456.83 L647.50 457.19 L647.35 457.55 L647.22 457.92 L647.12 458.28 L647.03 458.64 L646.94 459.00 L646.85 459.36 L646.74 459.72 L646.64 460.08 L646.53 460.44 L646.41 460.81 L646.28 461.17 L646.15 461.53 L646.02 461.89 L645.89 462.25 L645.76 462.61 L645.63 462.97 L645.50 463.34 L645.37 463.70 L645.25 464.06 L645.12 464.42 L644.99 464.78 L644.87 465.14 L644.76 465.50 L644.65 465.86 L644.54 466.23 L644.43 466.59 L644.33 466.95 L644.23 467.31 L644.12 467.67 L644.02 468.03 L643.92 468.39 L643.81 468.75 L643.71 469.12 L643.62 469.48 L643.55 469.84 L643.49 470.20 L642.4 470.2Z" fill="#3d7cc0"/>
<path d="M642.4 398.3 L643.83 398.30 L643.92 398.66 L644.04 399.02 L644.17 399.38 L644.33 399.75 L644.48 400.11 L644.64 400.47 L644.79 400.83 L644.95 401.19 L645.11 401.55 L645.26 401.91 L645.42 402.27 L645.58 402.64 L645.73 403.00 L645.89 403.36 L646.05 403.72 L646.21 404.08 L646.38 404.44 L646.55 404.80 L646.74 405.16 L646.94 405.53 L647.14 405.89 L647.35 406.25 L647.57 406.61 L647.79 406.97 L648.01 407.33 L648.22 407.69 L648.44 408.06 L648.66 408.42 L648.88 408.78 L649.10 409.14 L649.31 409.50 L649.53 409.86 L649.75 410.22 L649.99 410.58 L650.25 410.95 L650.53 411.31 L650.83 411.67 L651.15 412.03 L651.49 412.39 L651.85 412.75 L652.21 413.11 L652.57 413.47 L652.94 413.84 L653.30 414.20 L653.66 414.56 L654.02 414.92 L654.38 415.28 L654.74 415.64 L655.10 416.00 L655.47 416.37 L655.83 416.73 L656.19 417.09 L656.55 417.45 L656.91 417.81 L657.27 418.17 L657.64 418.53 L658.03 418.89 L658.44 419.26 L658.88 419.62 L659.33 419.98 L659.81 420.34 L660.31 420.70 L660.83 421.06 L661.34 421.42 L661.86 421.78 L662.37 422.15 L662.89 422.51 L663.40 422.87 L663.92 423.23 L664.43 423.59 L664.95 423.95 L665.48 424.31 L666.02 424.68 L666.57 425.04 L667.13 425.40 L667.71 425.76 L668.30 426.12 L668.91 426.48 L669.52 426.84 L670.13 427.20 L670.76 427.57 L671.38 427.93 L671.94 428.29 L672.35 428.65 L672.60 429.01 L672.71 429.37 L672.67 429.73 L672.47 430.09 L672.13 430.46 L671.70 430.82 L671.28 431.18 L670.85 431.54 L670.43 431.90 L670.01 432.26 L669.58 432.62 L669.16 432.99 L668.73 433.35 L668.25 433.71 L667.72 434.07 L667.14 434.43 L666.51 434.79 L665.83 435.15 L665.10 435.51 L664.32 435.88 L663.56 436.24 L662.83 436.60 L662.12 436.96 L661.44 437.32 L660.78 437.68 L660.14 438.04 L659.53 438.41 L658.92 438.77 L658.31 439.13 L657.71 439.49 L657.13 439.85 L656.57 440.21 L656.03 440.57 L655.52 440.93 L655.02 441.30 L654.55 441.66 L654.10 442.02 L653.65 442.38 L653.20 442.74 L652.75 443.10 L652.30 443.46 L651.88 443.82 L651.49 444.19 L651.13 444.55 L650.79 444.91 L650.49 445.27 L650.21 445.63 L649.96 445.99 L649.71 446.35 L649.45 446.72 L649.20 447.08 L648.95 447.44 L648.70 447.80 L648.47 448.16 L648.26 448.52 L648.07 448.88 L647.90 449.24 L647.74 449.61 L647.60 449.97 L647.48 450.33 L647.36 450.69 L647.24 451.05 L647.12 451.41 L646.99 451.77 L646.87 452.13 L646.75 452.50 L646.63 452.86 L646.50 453.22 L646.38 453.58 L646.26 453.94 L646.14 454.30 L646.03 454.66 L645.93 455.03 L645.84 455.39 L645.75 455.75 L645.66 456.11 L645.58 456.47 L645.51 456.83 L645.43 457.19 L645.35 457.55 L645.28 457.92 L645.20 458.28 L645.12 458.64 L645.04 459.00 L644.97 459.36 L644.89 459.72 L644.81 460.08 L644.73 460.44 L644.66 460.81 L644.58 461.17 L644.51 461.53 L644.44 461.89 L644.38 462.25 L644.32 462.61 L644.26 462.97 L644.20 463.34 L644.15 463.70 L644.10 464.06 L644.05 464.42 L643.99 464.78 L643.94 465.14 L643.89 465.50 L643.83 465.86 L643.78 466.23 L643.73 466.59 L643.68 466.95 L643.62 467.31 L643.57 467.67 L643.52 468.03 L643.46 468.39 L643.41 468.75 L643.36 469.12 L643.31 469.48 L643.28 469.84 L643.25 470.20 L642.4 470.2Z" fill="#fc3c44"/>
<path d="M642.4 398.3 L642.86 398.30 L642.89 398.66 L642.94 399.02 L642.99 399.38 L643.06 399.75 L643.12 400.11 L643.19 400.47 L643.25 400.83 L643.32 401.19 L643.38 401.55 L643.45 401.91 L643.51 402.27 L643.58 402.64 L643.64 403.00 L643.71 403.36 L643.77 403.72 L643.84 404.08 L643.91 404.44 L644.00 404.80 L644.09 405.16 L644.18 405.53 L644.29 405.89 L644.40 406.25 L644.51 406.61 L644.63 406.97 L644.74 407.33 L644.86 407.69 L644.97 408.06 L645.08 408.42 L645.20 408.78 L645.31 409.14 L645.43 409.50 L645.54 409.86 L645.66 410.22 L645.77 410.58 L645.87 410.95 L645.97 411.31 L646.07 411.67 L646.15 412.03 L646.24 412.39 L646.32 412.75 L646.40 413.11 L646.47 413.47 L646.55 413.84 L646.63 414.20 L646.71 414.56 L646.79 414.92 L646.87 415.28 L646.95 415.64 L647.03 416.00 L647.11 416.37 L647.19 416.73 L647.26 417.09 L647.34 417.45 L647.42 417.81 L647.50 418.17 L647.58 418.53 L647.66 418.89 L647.77 419.26 L647.92 419.62 L648.10 419.98 L648.32 420.34 L648.58 420.70 L648.87 421.06 L649.19 421.42 L649.52 421.78 L649.85 422.15 L650.18 422.51 L650.51 422.87 L650.84 423.23 L651.15 423.59 L651.45 423.95 L651.73 424.31 L652.00 424.68 L652.25 425.04 L652.53 425.40 L652.83 425.76 L653.17 426.12 L653.55 426.48 L653.98 426.84 L654.44 427.20 L654.95 427.57 L655.45 427.93 L655.95 428.29 L656.46 428.65 L656.96 429.01 L657.47 429.37 L658.02 429.73 L658.60 430.09 L659.23 430.46 L659.89 430.82 L660.59 431.18 L661.32 431.54 L662.09 431.90 L662.86 432.26 L663.63 432.62 L664.39 432.99 L665.16 433.35 L665.93 433.71 L666.69 434.07 L667.14 434.43 L666.51 434.79 L665.83 435.15 L665.10 435.51 L664.32 435.88 L663.56 436.24 L662.83 436.60 L662.12 436.96 L661.44 437.32 L660.78 437.68 L660.14 438.04 L659.53 438.41 L658.92 438.77 L658.31 439.13 L657.71 439.49 L657.13 439.85 L656.57 440.21 L656.03 440.57 L655.52 440.93 L655.02 441.30 L654.55 441.66 L654.10 442.02 L653.65 442.38 L653.20 442.74 L652.75 443.10 L652.30 443.46 L651.88 443.82 L651.49 444.19 L651.13 444.55 L650.79 444.91 L650.49 445.27 L650.21 445.63 L649.96 445.99 L649.71 446.35 L649.45 446.72 L649.20 447.08 L648.95 447.44 L648.70 447.80 L648.47 448.16 L648.26 448.52 L648.07 448.88 L647.90 449.24 L647.74 449.61 L647.60 449.97 L647.48 450.33 L647.36 450.69 L647.24 451.05 L647.12 451.41 L646.99 451.77 L646.87 452.13 L646.75 452.50 L646.63 452.86 L646.50 453.22 L646.38 453.58 L646.26 453.94 L646.14 454.30 L646.03 454.66 L645.93 455.03 L645.84 455.39 L645.75 455.75 L645.66 456.11 L645.58 456.47 L645.51 456.83 L645.43 457.19 L645.35 457.55 L645.28 457.92 L645.20 458.28 L645.12 458.64 L645.04 459.00 L644.97 459.36 L644.89 459.72 L644.81 460.08 L644.73 460.44 L644.66 460.81 L644.58 461.17 L644.51 461.53 L644.44 461.89 L644.38 462.25 L644.32 462.61 L644.26 462.97 L644.20 463.34 L644.15 463.70 L644.10 464.06 L644.05 464.42 L643.99 464.78 L643.94 465.14 L643.89 465.50 L643.83 465.86 L643.78 466.23 L643.73 466.59 L643.68 466.95 L643.62 467.31 L643.57 467.67 L643.52 468.03 L643.46 468.39 L643.41 468.75 L643.36 469.12 L643.31 469.48 L643.28 469.84 L643.25 470.20 L642.4 470.2Z" fill="#cc2131"/>
<path d="M641.5 398.3V470.2H673.6" stroke="#231f20" stroke-width="0.6" fill="none"/>
<line x1="639.9" y1="398.4" x2="641.5" y2="398.4" stroke="#231f20" stroke-width="0.5"/>
<line x1="639.9" y1="416.4" x2="641.5" y2="416.4" stroke="#231f20" stroke-width="0.5"/>
<line x1="639.9" y1="434.3" x2="641.5" y2="434.3" stroke="#231f20" stroke-width="0.5"/>
<line x1="639.9" y1="452.2" x2="641.5" y2="452.2" stroke="#231f20" stroke-width="0.5"/>
<line x1="643.1" y1="470.2" x2="643.1" y2="472.2" stroke="#231f20" stroke-width="0.5"/>
<text x="643.1" y="479.9" font-size="6.6" text-anchor="middle">0</text>
<line x1="662.6" y1="470.2" x2="662.6" y2="472.2" stroke="#231f20" stroke-width="0.5"/>
<text x="662.6" y="479.9" font-size="6.6" text-anchor="middle">2,500</text>
<text x="660.5" y="488.2" font-size="6.8" text-anchor="middle">Pairs</text>
<path d="M675.1 429.2V439" stroke="#a7a9ac" stroke-width="0.6"/>
<path d="M672.3 428.9l1.4 -0.9l1.0 0.9l-1.0 0.9z" fill="#8a0f1c"/><path d="M672.3 439.6l1.4 -0.9l1.0 0.9l-1.0 0.9z" fill="#0f3d73"/>
<text x="675.3" y="434.4" font-size="8.2" text-anchor="middle" transform="rotate(90 675.3 434.4)">****</text>
<defs><linearGradient id="cbr" x1="0" x2="1"><stop offset="0" stop-color="#fff"/><stop offset="0.5" stop-color="#f21c28"/><stop offset="1" stop-color="#4a0008"/></linearGradient><linearGradient id="cbb" x1="0" x2="1"><stop offset="0" stop-color="#fff"/><stop offset="0.5" stop-color="#2d68b0"/><stop offset="1" stop-color="#08244a"/></linearGradient></defs>
<rect x="642.3" y="390.4" width="19.3" height="1.7" fill="url(#cbr)"/>
<rect x="642.3" y="392.1" width="19.3" height="1.7" fill="url(#cbb)"/>
<text x="642.4" y="388.5" font-size="6.6" text-anchor="middle">0</text>
<text x="661.6" y="388.5" font-size="6.6" text-anchor="middle">400</text>
</svg>
</body></html>
